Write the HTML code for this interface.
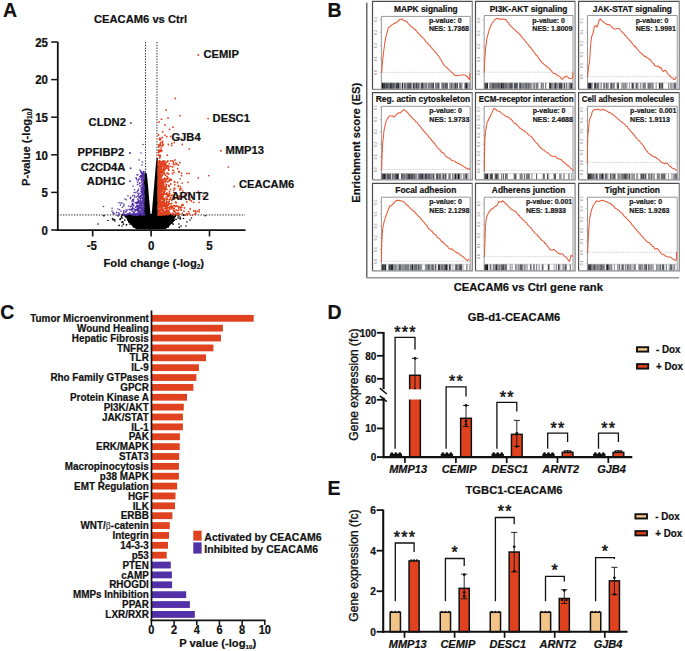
<!DOCTYPE html><html><head><meta charset="utf-8"><style>html,body{margin:0;padding:0;background:#fff;width:685px;height:651px;overflow:hidden}svg{display:block}text{font-family:"Liberation Sans",sans-serif}text[font-weight="bold"]{stroke:#111;stroke-width:0.2px}</style></head><body><svg width="685" height="651" viewBox="0 0 685 651"><text transform="translate(2.90 16.50) scale(1 1.05)" font-size="19.5" text-anchor="start" font-weight="bold" font-style="normal" fill="#111" >A</text>
<text x="140.60" y="22.60" font-size="11.2" text-anchor="middle" font-weight="bold" font-style="normal" fill="#111" >CEACAM6 vs Ctrl</text>
<line x1="145.46" y1="42.00" x2="145.46" y2="230.20" stroke="#2a2a2a" stroke-width="1.0" stroke-dasharray="1.4 1.35"/>
<line x1="156.94" y1="42.00" x2="156.94" y2="230.20" stroke="#2a2a2a" stroke-width="1.0" stroke-dasharray="1.4 1.35"/>
<line x1="57.50" y1="214.96" x2="245.00" y2="214.96" stroke="#2a2a2a" stroke-width="1.0" stroke-dasharray="1.4 1.35"/>
<path d="M124.5 214.6 L176.5 214.6 L175 218 L172.5 222.5 L169 226.5 L165.5 229.3 L136.5 229.3 L132.5 226.5 L129 222.5 L126.2 218 Z" fill="#000"/>
<path d="M144.0 215 L144.0 175 L145.2 172.5 L146.8 173.5 L148.0 185 L149.2 200 L150.3 212 L151.0 222 L144 222 Z" fill="#000"/>
<path d="M157.8 215 L157.8 158.5 L156.8 157.5 L156.0 163 L155.0 175 L153.6 192 L152.4 206 L151.6 215 L151.1 222 L157.8 222 Z" fill="#000"/>
<path d="M151.0 215.6m-0.85 0a0.85 0.85 0 1 0 1.7 0a0.85 0.85 0 1 0 -1.7 0M155.3 220.9m-0.85 0a0.85 0.85 0 1 0 1.7 0a0.85 0.85 0 1 0 -1.7 0M147.0 215.2m-0.85 0a0.85 0.85 0 1 0 1.7 0a0.85 0.85 0 1 0 -1.7 0M138.1 220.9m-0.85 0a0.85 0.85 0 1 0 1.7 0a0.85 0.85 0 1 0 -1.7 0M144.4 220.7m-0.85 0a0.85 0.85 0 1 0 1.7 0a0.85 0.85 0 1 0 -1.7 0M136.6 220.4m-0.85 0a0.85 0.85 0 1 0 1.7 0a0.85 0.85 0 1 0 -1.7 0M151.9 220.6m-0.85 0a0.85 0.85 0 1 0 1.7 0a0.85 0.85 0 1 0 -1.7 0M170.4 217.2m-0.85 0a0.85 0.85 0 1 0 1.7 0a0.85 0.85 0 1 0 -1.7 0M143.9 217.4m-0.85 0a0.85 0.85 0 1 0 1.7 0a0.85 0.85 0 1 0 -1.7 0M142.0 215.3m-0.85 0a0.85 0.85 0 1 0 1.7 0a0.85 0.85 0 1 0 -1.7 0M158.1 216.7m-0.85 0a0.85 0.85 0 1 0 1.7 0a0.85 0.85 0 1 0 -1.7 0M156.2 216.5m-0.85 0a0.85 0.85 0 1 0 1.7 0a0.85 0.85 0 1 0 -1.7 0M152.5 221.7m-0.85 0a0.85 0.85 0 1 0 1.7 0a0.85 0.85 0 1 0 -1.7 0M137.5 222.5m-0.85 0a0.85 0.85 0 1 0 1.7 0a0.85 0.85 0 1 0 -1.7 0M150.6 219.0m-0.85 0a0.85 0.85 0 1 0 1.7 0a0.85 0.85 0 1 0 -1.7 0M161.1 215.7m-0.85 0a0.85 0.85 0 1 0 1.7 0a0.85 0.85 0 1 0 -1.7 0M131.5 215.8m-0.85 0a0.85 0.85 0 1 0 1.7 0a0.85 0.85 0 1 0 -1.7 0M144.4 220.1m-0.85 0a0.85 0.85 0 1 0 1.7 0a0.85 0.85 0 1 0 -1.7 0M123.4 224.1m-0.85 0a0.85 0.85 0 1 0 1.7 0a0.85 0.85 0 1 0 -1.7 0M132.3 218.9m-0.85 0a0.85 0.85 0 1 0 1.7 0a0.85 0.85 0 1 0 -1.7 0M124.3 215.6m-0.85 0a0.85 0.85 0 1 0 1.7 0a0.85 0.85 0 1 0 -1.7 0M147.6 216.8m-0.85 0a0.85 0.85 0 1 0 1.7 0a0.85 0.85 0 1 0 -1.7 0M132.6 216.7m-0.85 0a0.85 0.85 0 1 0 1.7 0a0.85 0.85 0 1 0 -1.7 0M154.9 220.3m-0.85 0a0.85 0.85 0 1 0 1.7 0a0.85 0.85 0 1 0 -1.7 0M153.3 215.8m-0.85 0a0.85 0.85 0 1 0 1.7 0a0.85 0.85 0 1 0 -1.7 0M148.3 221.3m-0.85 0a0.85 0.85 0 1 0 1.7 0a0.85 0.85 0 1 0 -1.7 0M114.5 219.7m-0.85 0a0.85 0.85 0 1 0 1.7 0a0.85 0.85 0 1 0 -1.7 0M143.2 219.0m-0.85 0a0.85 0.85 0 1 0 1.7 0a0.85 0.85 0 1 0 -1.7 0M150.3 217.2m-0.85 0a0.85 0.85 0 1 0 1.7 0a0.85 0.85 0 1 0 -1.7 0M152.6 225.0m-0.85 0a0.85 0.85 0 1 0 1.7 0a0.85 0.85 0 1 0 -1.7 0M128.8 222.0m-0.85 0a0.85 0.85 0 1 0 1.7 0a0.85 0.85 0 1 0 -1.7 0M144.1 217.9m-0.85 0a0.85 0.85 0 1 0 1.7 0a0.85 0.85 0 1 0 -1.7 0M136.8 222.0m-0.85 0a0.85 0.85 0 1 0 1.7 0a0.85 0.85 0 1 0 -1.7 0M139.3 216.7m-0.85 0a0.85 0.85 0 1 0 1.7 0a0.85 0.85 0 1 0 -1.7 0M166.4 216.2m-0.85 0a0.85 0.85 0 1 0 1.7 0a0.85 0.85 0 1 0 -1.7 0M139.3 220.8m-0.85 0a0.85 0.85 0 1 0 1.7 0a0.85 0.85 0 1 0 -1.7 0M150.5 228.6m-0.85 0a0.85 0.85 0 1 0 1.7 0a0.85 0.85 0 1 0 -1.7 0M163.8 215.6m-0.85 0a0.85 0.85 0 1 0 1.7 0a0.85 0.85 0 1 0 -1.7 0M142.5 223.3m-0.85 0a0.85 0.85 0 1 0 1.7 0a0.85 0.85 0 1 0 -1.7 0M149.4 218.2m-0.85 0a0.85 0.85 0 1 0 1.7 0a0.85 0.85 0 1 0 -1.7 0M152.6 215.5m-0.85 0a0.85 0.85 0 1 0 1.7 0a0.85 0.85 0 1 0 -1.7 0M151.9 223.8m-0.85 0a0.85 0.85 0 1 0 1.7 0a0.85 0.85 0 1 0 -1.7 0M133.2 216.7m-0.85 0a0.85 0.85 0 1 0 1.7 0a0.85 0.85 0 1 0 -1.7 0M152.1 220.0m-0.85 0a0.85 0.85 0 1 0 1.7 0a0.85 0.85 0 1 0 -1.7 0M170.7 221.5m-0.85 0a0.85 0.85 0 1 0 1.7 0a0.85 0.85 0 1 0 -1.7 0M128.6 220.5m-0.85 0a0.85 0.85 0 1 0 1.7 0a0.85 0.85 0 1 0 -1.7 0M163.5 216.5m-0.85 0a0.85 0.85 0 1 0 1.7 0a0.85 0.85 0 1 0 -1.7 0M152.7 220.3m-0.85 0a0.85 0.85 0 1 0 1.7 0a0.85 0.85 0 1 0 -1.7 0M141.7 217.4m-0.85 0a0.85 0.85 0 1 0 1.7 0a0.85 0.85 0 1 0 -1.7 0M180.0 217.1m-0.85 0a0.85 0.85 0 1 0 1.7 0a0.85 0.85 0 1 0 -1.7 0M162.1 214.9m-0.85 0a0.85 0.85 0 1 0 1.7 0a0.85 0.85 0 1 0 -1.7 0M133.6 217.5m-0.85 0a0.85 0.85 0 1 0 1.7 0a0.85 0.85 0 1 0 -1.7 0M152.1 219.2m-0.85 0a0.85 0.85 0 1 0 1.7 0a0.85 0.85 0 1 0 -1.7 0M159.4 216.3m-0.85 0a0.85 0.85 0 1 0 1.7 0a0.85 0.85 0 1 0 -1.7 0M148.3 220.2m-0.85 0a0.85 0.85 0 1 0 1.7 0a0.85 0.85 0 1 0 -1.7 0M160.9 221.7m-0.85 0a0.85 0.85 0 1 0 1.7 0a0.85 0.85 0 1 0 -1.7 0M150.0 214.9m-0.85 0a0.85 0.85 0 1 0 1.7 0a0.85 0.85 0 1 0 -1.7 0M160.7 219.5m-0.85 0a0.85 0.85 0 1 0 1.7 0a0.85 0.85 0 1 0 -1.7 0M171.9 223.0m-0.85 0a0.85 0.85 0 1 0 1.7 0a0.85 0.85 0 1 0 -1.7 0M141.2 214.6m-0.85 0a0.85 0.85 0 1 0 1.7 0a0.85 0.85 0 1 0 -1.7 0M153.9 218.2m-0.85 0a0.85 0.85 0 1 0 1.7 0a0.85 0.85 0 1 0 -1.7 0M144.3 220.0m-0.85 0a0.85 0.85 0 1 0 1.7 0a0.85 0.85 0 1 0 -1.7 0M152.8 219.3m-0.85 0a0.85 0.85 0 1 0 1.7 0a0.85 0.85 0 1 0 -1.7 0M133.8 217.4m-0.85 0a0.85 0.85 0 1 0 1.7 0a0.85 0.85 0 1 0 -1.7 0M142.6 222.8m-0.85 0a0.85 0.85 0 1 0 1.7 0a0.85 0.85 0 1 0 -1.7 0M148.2 218.9m-0.85 0a0.85 0.85 0 1 0 1.7 0a0.85 0.85 0 1 0 -1.7 0M164.0 216.7m-0.85 0a0.85 0.85 0 1 0 1.7 0a0.85 0.85 0 1 0 -1.7 0M167.6 215.9m-0.85 0a0.85 0.85 0 1 0 1.7 0a0.85 0.85 0 1 0 -1.7 0M131.8 218.7m-0.85 0a0.85 0.85 0 1 0 1.7 0a0.85 0.85 0 1 0 -1.7 0M139.5 217.8m-0.85 0a0.85 0.85 0 1 0 1.7 0a0.85 0.85 0 1 0 -1.7 0M160.4 215.5m-0.85 0a0.85 0.85 0 1 0 1.7 0a0.85 0.85 0 1 0 -1.7 0M122.1 217.9m-0.85 0a0.85 0.85 0 1 0 1.7 0a0.85 0.85 0 1 0 -1.7 0M144.3 214.9m-0.85 0a0.85 0.85 0 1 0 1.7 0a0.85 0.85 0 1 0 -1.7 0M149.6 220.6m-0.85 0a0.85 0.85 0 1 0 1.7 0a0.85 0.85 0 1 0 -1.7 0M169.2 215.2m-0.85 0a0.85 0.85 0 1 0 1.7 0a0.85 0.85 0 1 0 -1.7 0M161.0 214.9m-0.85 0a0.85 0.85 0 1 0 1.7 0a0.85 0.85 0 1 0 -1.7 0M146.3 219.9m-0.85 0a0.85 0.85 0 1 0 1.7 0a0.85 0.85 0 1 0 -1.7 0M145.7 219.6m-0.85 0a0.85 0.85 0 1 0 1.7 0a0.85 0.85 0 1 0 -1.7 0M147.4 214.8m-0.85 0a0.85 0.85 0 1 0 1.7 0a0.85 0.85 0 1 0 -1.7 0M173.1 224.1m-0.85 0a0.85 0.85 0 1 0 1.7 0a0.85 0.85 0 1 0 -1.7 0M144.8 218.2m-0.85 0a0.85 0.85 0 1 0 1.7 0a0.85 0.85 0 1 0 -1.7 0M146.6 220.5m-0.85 0a0.85 0.85 0 1 0 1.7 0a0.85 0.85 0 1 0 -1.7 0M156.1 224.5m-0.85 0a0.85 0.85 0 1 0 1.7 0a0.85 0.85 0 1 0 -1.7 0M149.2 214.9m-0.85 0a0.85 0.85 0 1 0 1.7 0a0.85 0.85 0 1 0 -1.7 0M148.1 220.7m-0.85 0a0.85 0.85 0 1 0 1.7 0a0.85 0.85 0 1 0 -1.7 0M134.8 223.0m-0.85 0a0.85 0.85 0 1 0 1.7 0a0.85 0.85 0 1 0 -1.7 0M150.8 220.6m-0.85 0a0.85 0.85 0 1 0 1.7 0a0.85 0.85 0 1 0 -1.7 0M144.6 218.7m-0.85 0a0.85 0.85 0 1 0 1.7 0a0.85 0.85 0 1 0 -1.7 0M167.9 220.8m-0.85 0a0.85 0.85 0 1 0 1.7 0a0.85 0.85 0 1 0 -1.7 0M160.5 216.7m-0.85 0a0.85 0.85 0 1 0 1.7 0a0.85 0.85 0 1 0 -1.7 0M150.6 219.0m-0.85 0a0.85 0.85 0 1 0 1.7 0a0.85 0.85 0 1 0 -1.7 0M160.7 218.6m-0.85 0a0.85 0.85 0 1 0 1.7 0a0.85 0.85 0 1 0 -1.7 0M146.1 217.8m-0.85 0a0.85 0.85 0 1 0 1.7 0a0.85 0.85 0 1 0 -1.7 0M166.3 218.8m-0.85 0a0.85 0.85 0 1 0 1.7 0a0.85 0.85 0 1 0 -1.7 0M150.9 217.0m-0.85 0a0.85 0.85 0 1 0 1.7 0a0.85 0.85 0 1 0 -1.7 0M159.5 219.9m-0.85 0a0.85 0.85 0 1 0 1.7 0a0.85 0.85 0 1 0 -1.7 0M132.3 221.3m-0.85 0a0.85 0.85 0 1 0 1.7 0a0.85 0.85 0 1 0 -1.7 0M156.0 224.7m-0.85 0a0.85 0.85 0 1 0 1.7 0a0.85 0.85 0 1 0 -1.7 0M126.5 224.8m-0.85 0a0.85 0.85 0 1 0 1.7 0a0.85 0.85 0 1 0 -1.7 0M121.5 216.4m-0.85 0a0.85 0.85 0 1 0 1.7 0a0.85 0.85 0 1 0 -1.7 0M146.6 215.9m-0.85 0a0.85 0.85 0 1 0 1.7 0a0.85 0.85 0 1 0 -1.7 0M138.0 214.8m-0.85 0a0.85 0.85 0 1 0 1.7 0a0.85 0.85 0 1 0 -1.7 0M153.4 215.5m-0.85 0a0.85 0.85 0 1 0 1.7 0a0.85 0.85 0 1 0 -1.7 0M183.5 214.9m-0.85 0a0.85 0.85 0 1 0 1.7 0a0.85 0.85 0 1 0 -1.7 0M138.9 225.1m-0.85 0a0.85 0.85 0 1 0 1.7 0a0.85 0.85 0 1 0 -1.7 0M142.0 220.3m-0.85 0a0.85 0.85 0 1 0 1.7 0a0.85 0.85 0 1 0 -1.7 0M154.0 223.2m-0.85 0a0.85 0.85 0 1 0 1.7 0a0.85 0.85 0 1 0 -1.7 0M158.1 220.2m-0.85 0a0.85 0.85 0 1 0 1.7 0a0.85 0.85 0 1 0 -1.7 0M148.4 221.9m-0.85 0a0.85 0.85 0 1 0 1.7 0a0.85 0.85 0 1 0 -1.7 0M148.0 218.7m-0.85 0a0.85 0.85 0 1 0 1.7 0a0.85 0.85 0 1 0 -1.7 0M161.2 219.1m-0.85 0a0.85 0.85 0 1 0 1.7 0a0.85 0.85 0 1 0 -1.7 0M158.5 219.9m-0.85 0a0.85 0.85 0 1 0 1.7 0a0.85 0.85 0 1 0 -1.7 0M136.0 222.2m-0.85 0a0.85 0.85 0 1 0 1.7 0a0.85 0.85 0 1 0 -1.7 0M149.9 216.6m-0.85 0a0.85 0.85 0 1 0 1.7 0a0.85 0.85 0 1 0 -1.7 0M151.5 222.3m-0.85 0a0.85 0.85 0 1 0 1.7 0a0.85 0.85 0 1 0 -1.7 0M154.8 217.5m-0.85 0a0.85 0.85 0 1 0 1.7 0a0.85 0.85 0 1 0 -1.7 0M138.6 220.5m-0.85 0a0.85 0.85 0 1 0 1.7 0a0.85 0.85 0 1 0 -1.7 0M165.1 220.3m-0.85 0a0.85 0.85 0 1 0 1.7 0a0.85 0.85 0 1 0 -1.7 0M153.8 220.5m-0.85 0a0.85 0.85 0 1 0 1.7 0a0.85 0.85 0 1 0 -1.7 0M152.3 216.2m-0.85 0a0.85 0.85 0 1 0 1.7 0a0.85 0.85 0 1 0 -1.7 0M142.4 222.9m-0.85 0a0.85 0.85 0 1 0 1.7 0a0.85 0.85 0 1 0 -1.7 0M149.3 220.0m-0.85 0a0.85 0.85 0 1 0 1.7 0a0.85 0.85 0 1 0 -1.7 0M122.0 222.2m-0.85 0a0.85 0.85 0 1 0 1.7 0a0.85 0.85 0 1 0 -1.7 0M134.6 219.1m-0.85 0a0.85 0.85 0 1 0 1.7 0a0.85 0.85 0 1 0 -1.7 0M156.3 216.8m-0.85 0a0.85 0.85 0 1 0 1.7 0a0.85 0.85 0 1 0 -1.7 0M120.1 219.4m-0.85 0a0.85 0.85 0 1 0 1.7 0a0.85 0.85 0 1 0 -1.7 0M163.3 225.0m-0.85 0a0.85 0.85 0 1 0 1.7 0a0.85 0.85 0 1 0 -1.7 0M125.7 216.8m-0.85 0a0.85 0.85 0 1 0 1.7 0a0.85 0.85 0 1 0 -1.7 0M162.0 214.8m-0.85 0a0.85 0.85 0 1 0 1.7 0a0.85 0.85 0 1 0 -1.7 0M138.7 215.1m-0.85 0a0.85 0.85 0 1 0 1.7 0a0.85 0.85 0 1 0 -1.7 0M162.3 215.1m-0.85 0a0.85 0.85 0 1 0 1.7 0a0.85 0.85 0 1 0 -1.7 0M152.9 220.8m-0.85 0a0.85 0.85 0 1 0 1.7 0a0.85 0.85 0 1 0 -1.7 0M128.7 215.0m-0.85 0a0.85 0.85 0 1 0 1.7 0a0.85 0.85 0 1 0 -1.7 0M169.1 214.8m-0.85 0a0.85 0.85 0 1 0 1.7 0a0.85 0.85 0 1 0 -1.7 0M171.9 221.7m-0.85 0a0.85 0.85 0 1 0 1.7 0a0.85 0.85 0 1 0 -1.7 0M150.0 224.9m-0.85 0a0.85 0.85 0 1 0 1.7 0a0.85 0.85 0 1 0 -1.7 0M147.0 215.4m-0.85 0a0.85 0.85 0 1 0 1.7 0a0.85 0.85 0 1 0 -1.7 0M148.7 218.8m-0.85 0a0.85 0.85 0 1 0 1.7 0a0.85 0.85 0 1 0 -1.7 0M136.9 215.0m-0.85 0a0.85 0.85 0 1 0 1.7 0a0.85 0.85 0 1 0 -1.7 0M166.9 217.9m-0.85 0a0.85 0.85 0 1 0 1.7 0a0.85 0.85 0 1 0 -1.7 0M143.1 218.7m-0.85 0a0.85 0.85 0 1 0 1.7 0a0.85 0.85 0 1 0 -1.7 0M150.3 214.9m-0.85 0a0.85 0.85 0 1 0 1.7 0a0.85 0.85 0 1 0 -1.7 0M139.5 220.3m-0.85 0a0.85 0.85 0 1 0 1.7 0a0.85 0.85 0 1 0 -1.7 0M141.9 217.9m-0.85 0a0.85 0.85 0 1 0 1.7 0a0.85 0.85 0 1 0 -1.7 0M132.5 215.2m-0.85 0a0.85 0.85 0 1 0 1.7 0a0.85 0.85 0 1 0 -1.7 0M169.2 216.0m-0.85 0a0.85 0.85 0 1 0 1.7 0a0.85 0.85 0 1 0 -1.7 0M148.8 215.6m-0.85 0a0.85 0.85 0 1 0 1.7 0a0.85 0.85 0 1 0 -1.7 0M165.0 218.6m-0.85 0a0.85 0.85 0 1 0 1.7 0a0.85 0.85 0 1 0 -1.7 0M151.2 219.8m-0.85 0a0.85 0.85 0 1 0 1.7 0a0.85 0.85 0 1 0 -1.7 0M140.9 215.9m-0.85 0a0.85 0.85 0 1 0 1.7 0a0.85 0.85 0 1 0 -1.7 0M146.3 217.6m-0.85 0a0.85 0.85 0 1 0 1.7 0a0.85 0.85 0 1 0 -1.7 0M142.9 215.9m-0.85 0a0.85 0.85 0 1 0 1.7 0a0.85 0.85 0 1 0 -1.7 0M151.1 214.6m-0.85 0a0.85 0.85 0 1 0 1.7 0a0.85 0.85 0 1 0 -1.7 0M145.6 222.1m-0.85 0a0.85 0.85 0 1 0 1.7 0a0.85 0.85 0 1 0 -1.7 0M146.7 215.0m-0.85 0a0.85 0.85 0 1 0 1.7 0a0.85 0.85 0 1 0 -1.7 0M131.0 222.0m-0.85 0a0.85 0.85 0 1 0 1.7 0a0.85 0.85 0 1 0 -1.7 0M139.3 218.0m-0.85 0a0.85 0.85 0 1 0 1.7 0a0.85 0.85 0 1 0 -1.7 0M175.0 216.2m-0.85 0a0.85 0.85 0 1 0 1.7 0a0.85 0.85 0 1 0 -1.7 0M141.3 226.0m-0.85 0a0.85 0.85 0 1 0 1.7 0a0.85 0.85 0 1 0 -1.7 0M135.7 215.1m-0.85 0a0.85 0.85 0 1 0 1.7 0a0.85 0.85 0 1 0 -1.7 0M155.9 215.4m-0.85 0a0.85 0.85 0 1 0 1.7 0a0.85 0.85 0 1 0 -1.7 0M171.4 215.5m-0.85 0a0.85 0.85 0 1 0 1.7 0a0.85 0.85 0 1 0 -1.7 0M129.9 216.9m-0.85 0a0.85 0.85 0 1 0 1.7 0a0.85 0.85 0 1 0 -1.7 0M148.0 216.7m-0.85 0a0.85 0.85 0 1 0 1.7 0a0.85 0.85 0 1 0 -1.7 0M141.8 220.0m-0.85 0a0.85 0.85 0 1 0 1.7 0a0.85 0.85 0 1 0 -1.7 0M125.5 216.1m-0.85 0a0.85 0.85 0 1 0 1.7 0a0.85 0.85 0 1 0 -1.7 0M161.7 217.6m-0.85 0a0.85 0.85 0 1 0 1.7 0a0.85 0.85 0 1 0 -1.7 0M150.7 215.1m-0.85 0a0.85 0.85 0 1 0 1.7 0a0.85 0.85 0 1 0 -1.7 0M152.0 221.2m-0.85 0a0.85 0.85 0 1 0 1.7 0a0.85 0.85 0 1 0 -1.7 0M140.1 215.9m-0.85 0a0.85 0.85 0 1 0 1.7 0a0.85 0.85 0 1 0 -1.7 0M157.6 215.4m-0.85 0a0.85 0.85 0 1 0 1.7 0a0.85 0.85 0 1 0 -1.7 0M143.2 215.4m-0.85 0a0.85 0.85 0 1 0 1.7 0a0.85 0.85 0 1 0 -1.7 0M148.9 217.0m-0.85 0a0.85 0.85 0 1 0 1.7 0a0.85 0.85 0 1 0 -1.7 0M134.9 217.6m-0.85 0a0.85 0.85 0 1 0 1.7 0a0.85 0.85 0 1 0 -1.7 0M133.4 223.8m-0.85 0a0.85 0.85 0 1 0 1.7 0a0.85 0.85 0 1 0 -1.7 0M170.4 217.1m-0.85 0a0.85 0.85 0 1 0 1.7 0a0.85 0.85 0 1 0 -1.7 0M143.6 215.9m-0.85 0a0.85 0.85 0 1 0 1.7 0a0.85 0.85 0 1 0 -1.7 0M155.2 216.2m-0.85 0a0.85 0.85 0 1 0 1.7 0a0.85 0.85 0 1 0 -1.7 0M150.5 216.7m-0.85 0a0.85 0.85 0 1 0 1.7 0a0.85 0.85 0 1 0 -1.7 0M144.6 218.2m-0.85 0a0.85 0.85 0 1 0 1.7 0a0.85 0.85 0 1 0 -1.7 0M143.6 216.0m-0.85 0a0.85 0.85 0 1 0 1.7 0a0.85 0.85 0 1 0 -1.7 0M160.1 218.1m-0.85 0a0.85 0.85 0 1 0 1.7 0a0.85 0.85 0 1 0 -1.7 0M146.6 217.0m-0.85 0a0.85 0.85 0 1 0 1.7 0a0.85 0.85 0 1 0 -1.7 0M148.8 215.7m-0.85 0a0.85 0.85 0 1 0 1.7 0a0.85 0.85 0 1 0 -1.7 0M151.3 222.9m-0.85 0a0.85 0.85 0 1 0 1.7 0a0.85 0.85 0 1 0 -1.7 0M168.1 217.6m-0.85 0a0.85 0.85 0 1 0 1.7 0a0.85 0.85 0 1 0 -1.7 0M160.9 221.0m-0.85 0a0.85 0.85 0 1 0 1.7 0a0.85 0.85 0 1 0 -1.7 0M156.5 220.2m-0.85 0a0.85 0.85 0 1 0 1.7 0a0.85 0.85 0 1 0 -1.7 0M142.8 215.9m-0.85 0a0.85 0.85 0 1 0 1.7 0a0.85 0.85 0 1 0 -1.7 0M131.0 223.2m-0.85 0a0.85 0.85 0 1 0 1.7 0a0.85 0.85 0 1 0 -1.7 0M164.8 219.8m-0.85 0a0.85 0.85 0 1 0 1.7 0a0.85 0.85 0 1 0 -1.7 0M165.0 215.4m-0.85 0a0.85 0.85 0 1 0 1.7 0a0.85 0.85 0 1 0 -1.7 0M149.0 228.5m-0.85 0a0.85 0.85 0 1 0 1.7 0a0.85 0.85 0 1 0 -1.7 0M158.9 216.7m-0.85 0a0.85 0.85 0 1 0 1.7 0a0.85 0.85 0 1 0 -1.7 0M162.3 222.8m-0.85 0a0.85 0.85 0 1 0 1.7 0a0.85 0.85 0 1 0 -1.7 0M163.1 221.7m-0.85 0a0.85 0.85 0 1 0 1.7 0a0.85 0.85 0 1 0 -1.7 0M164.4 218.1m-0.85 0a0.85 0.85 0 1 0 1.7 0a0.85 0.85 0 1 0 -1.7 0M144.4 221.6m-0.85 0a0.85 0.85 0 1 0 1.7 0a0.85 0.85 0 1 0 -1.7 0M173.0 216.6m-0.85 0a0.85 0.85 0 1 0 1.7 0a0.85 0.85 0 1 0 -1.7 0M132.9 216.1m-0.85 0a0.85 0.85 0 1 0 1.7 0a0.85 0.85 0 1 0 -1.7 0M163.5 224.2m-0.85 0a0.85 0.85 0 1 0 1.7 0a0.85 0.85 0 1 0 -1.7 0M158.2 223.4m-0.85 0a0.85 0.85 0 1 0 1.7 0a0.85 0.85 0 1 0 -1.7 0M163.7 215.2m-0.85 0a0.85 0.85 0 1 0 1.7 0a0.85 0.85 0 1 0 -1.7 0M178.2 215.9m-0.85 0a0.85 0.85 0 1 0 1.7 0a0.85 0.85 0 1 0 -1.7 0M172.5 221.5m-0.85 0a0.85 0.85 0 1 0 1.7 0a0.85 0.85 0 1 0 -1.7 0M134.4 218.4m-0.85 0a0.85 0.85 0 1 0 1.7 0a0.85 0.85 0 1 0 -1.7 0M126.5 216.9m-0.85 0a0.85 0.85 0 1 0 1.7 0a0.85 0.85 0 1 0 -1.7 0M162.8 216.8m-0.85 0a0.85 0.85 0 1 0 1.7 0a0.85 0.85 0 1 0 -1.7 0M136.3 215.2m-0.85 0a0.85 0.85 0 1 0 1.7 0a0.85 0.85 0 1 0 -1.7 0M150.8 220.1m-0.85 0a0.85 0.85 0 1 0 1.7 0a0.85 0.85 0 1 0 -1.7 0M163.2 218.8m-0.85 0a0.85 0.85 0 1 0 1.7 0a0.85 0.85 0 1 0 -1.7 0M127.2 214.9m-0.85 0a0.85 0.85 0 1 0 1.7 0a0.85 0.85 0 1 0 -1.7 0M120.4 218.6m-0.85 0a0.85 0.85 0 1 0 1.7 0a0.85 0.85 0 1 0 -1.7 0M154.8 217.8m-0.85 0a0.85 0.85 0 1 0 1.7 0a0.85 0.85 0 1 0 -1.7 0M151.6 220.5m-0.85 0a0.85 0.85 0 1 0 1.7 0a0.85 0.85 0 1 0 -1.7 0M147.4 216.8m-0.85 0a0.85 0.85 0 1 0 1.7 0a0.85 0.85 0 1 0 -1.7 0M151.6 216.3m-0.85 0a0.85 0.85 0 1 0 1.7 0a0.85 0.85 0 1 0 -1.7 0M138.5 216.6m-0.85 0a0.85 0.85 0 1 0 1.7 0a0.85 0.85 0 1 0 -1.7 0M129.1 220.1m-0.85 0a0.85 0.85 0 1 0 1.7 0a0.85 0.85 0 1 0 -1.7 0M148.6 223.6m-0.85 0a0.85 0.85 0 1 0 1.7 0a0.85 0.85 0 1 0 -1.7 0M136.9 217.8m-0.85 0a0.85 0.85 0 1 0 1.7 0a0.85 0.85 0 1 0 -1.7 0M127.2 214.9m-0.85 0a0.85 0.85 0 1 0 1.7 0a0.85 0.85 0 1 0 -1.7 0M158.3 216.3m-0.85 0a0.85 0.85 0 1 0 1.7 0a0.85 0.85 0 1 0 -1.7 0M150.1 223.9m-0.85 0a0.85 0.85 0 1 0 1.7 0a0.85 0.85 0 1 0 -1.7 0M156.9 216.6m-0.85 0a0.85 0.85 0 1 0 1.7 0a0.85 0.85 0 1 0 -1.7 0M136.7 217.9m-0.85 0a0.85 0.85 0 1 0 1.7 0a0.85 0.85 0 1 0 -1.7 0M141.5 219.4m-0.85 0a0.85 0.85 0 1 0 1.7 0a0.85 0.85 0 1 0 -1.7 0M136.5 227.0m-0.85 0a0.85 0.85 0 1 0 1.7 0a0.85 0.85 0 1 0 -1.7 0M138.1 216.4m-0.85 0a0.85 0.85 0 1 0 1.7 0a0.85 0.85 0 1 0 -1.7 0M153.8 219.5m-0.85 0a0.85 0.85 0 1 0 1.7 0a0.85 0.85 0 1 0 -1.7 0M139.6 216.7m-0.85 0a0.85 0.85 0 1 0 1.7 0a0.85 0.85 0 1 0 -1.7 0M156.2 217.9m-0.85 0a0.85 0.85 0 1 0 1.7 0a0.85 0.85 0 1 0 -1.7 0M155.9 214.7m-0.85 0a0.85 0.85 0 1 0 1.7 0a0.85 0.85 0 1 0 -1.7 0M180.4 218.8m-0.85 0a0.85 0.85 0 1 0 1.7 0a0.85 0.85 0 1 0 -1.7 0M163.9 215.3m-0.85 0a0.85 0.85 0 1 0 1.7 0a0.85 0.85 0 1 0 -1.7 0M149.7 217.6m-0.85 0a0.85 0.85 0 1 0 1.7 0a0.85 0.85 0 1 0 -1.7 0M150.8 218.4m-0.85 0a0.85 0.85 0 1 0 1.7 0a0.85 0.85 0 1 0 -1.7 0M130.0 224.0m-0.85 0a0.85 0.85 0 1 0 1.7 0a0.85 0.85 0 1 0 -1.7 0M144.3 220.8m-0.85 0a0.85 0.85 0 1 0 1.7 0a0.85 0.85 0 1 0 -1.7 0M161.8 216.3m-0.85 0a0.85 0.85 0 1 0 1.7 0a0.85 0.85 0 1 0 -1.7 0M149.8 216.3m-0.85 0a0.85 0.85 0 1 0 1.7 0a0.85 0.85 0 1 0 -1.7 0M152.2 218.9m-0.85 0a0.85 0.85 0 1 0 1.7 0a0.85 0.85 0 1 0 -1.7 0M146.8 217.6m-0.85 0a0.85 0.85 0 1 0 1.7 0a0.85 0.85 0 1 0 -1.7 0M167.7 214.8m-0.85 0a0.85 0.85 0 1 0 1.7 0a0.85 0.85 0 1 0 -1.7 0M150.7 219.6m-0.85 0a0.85 0.85 0 1 0 1.7 0a0.85 0.85 0 1 0 -1.7 0M119.1 225.4m-0.85 0a0.85 0.85 0 1 0 1.7 0a0.85 0.85 0 1 0 -1.7 0M141.0 215.5m-0.85 0a0.85 0.85 0 1 0 1.7 0a0.85 0.85 0 1 0 -1.7 0M122.5 214.9m-0.85 0a0.85 0.85 0 1 0 1.7 0a0.85 0.85 0 1 0 -1.7 0M103.9 215.7m-0.85 0a0.85 0.85 0 1 0 1.7 0a0.85 0.85 0 1 0 -1.7 0M143.3 222.0m-0.85 0a0.85 0.85 0 1 0 1.7 0a0.85 0.85 0 1 0 -1.7 0M170.3 214.8m-0.85 0a0.85 0.85 0 1 0 1.7 0a0.85 0.85 0 1 0 -1.7 0M151.7 222.7m-0.85 0a0.85 0.85 0 1 0 1.7 0a0.85 0.85 0 1 0 -1.7 0M134.0 219.9m-0.85 0a0.85 0.85 0 1 0 1.7 0a0.85 0.85 0 1 0 -1.7 0M137.4 215.6m-0.85 0a0.85 0.85 0 1 0 1.7 0a0.85 0.85 0 1 0 -1.7 0M167.4 215.7m-0.85 0a0.85 0.85 0 1 0 1.7 0a0.85 0.85 0 1 0 -1.7 0M153.3 218.9m-0.85 0a0.85 0.85 0 1 0 1.7 0a0.85 0.85 0 1 0 -1.7 0M151.7 220.3m-0.85 0a0.85 0.85 0 1 0 1.7 0a0.85 0.85 0 1 0 -1.7 0M150.2 222.9m-0.85 0a0.85 0.85 0 1 0 1.7 0a0.85 0.85 0 1 0 -1.7 0M151.6 219.6m-0.85 0a0.85 0.85 0 1 0 1.7 0a0.85 0.85 0 1 0 -1.7 0M162.7 216.5m-0.85 0a0.85 0.85 0 1 0 1.7 0a0.85 0.85 0 1 0 -1.7 0M159.0 218.2m-0.85 0a0.85 0.85 0 1 0 1.7 0a0.85 0.85 0 1 0 -1.7 0M154.1 223.0m-0.85 0a0.85 0.85 0 1 0 1.7 0a0.85 0.85 0 1 0 -1.7 0M135.9 220.3m-0.85 0a0.85 0.85 0 1 0 1.7 0a0.85 0.85 0 1 0 -1.7 0M158.4 217.3m-0.85 0a0.85 0.85 0 1 0 1.7 0a0.85 0.85 0 1 0 -1.7 0M141.1 217.3m-0.85 0a0.85 0.85 0 1 0 1.7 0a0.85 0.85 0 1 0 -1.7 0M166.9 217.2m-0.85 0a0.85 0.85 0 1 0 1.7 0a0.85 0.85 0 1 0 -1.7 0M132.6 220.3m-0.85 0a0.85 0.85 0 1 0 1.7 0a0.85 0.85 0 1 0 -1.7 0M149.0 215.9m-0.85 0a0.85 0.85 0 1 0 1.7 0a0.85 0.85 0 1 0 -1.7 0M150.9 220.6m-0.85 0a0.85 0.85 0 1 0 1.7 0a0.85 0.85 0 1 0 -1.7 0M131.8 219.6m-0.85 0a0.85 0.85 0 1 0 1.7 0a0.85 0.85 0 1 0 -1.7 0M176.0 219.3m-0.85 0a0.85 0.85 0 1 0 1.7 0a0.85 0.85 0 1 0 -1.7 0M172.2 215.7m-0.85 0a0.85 0.85 0 1 0 1.7 0a0.85 0.85 0 1 0 -1.7 0M144.3 218.5m-0.85 0a0.85 0.85 0 1 0 1.7 0a0.85 0.85 0 1 0 -1.7 0M162.2 218.3m-0.85 0a0.85 0.85 0 1 0 1.7 0a0.85 0.85 0 1 0 -1.7 0M156.5 216.0m-0.85 0a0.85 0.85 0 1 0 1.7 0a0.85 0.85 0 1 0 -1.7 0M113.1 219.7m-0.85 0a0.85 0.85 0 1 0 1.7 0a0.85 0.85 0 1 0 -1.7 0M154.6 215.0m-0.85 0a0.85 0.85 0 1 0 1.7 0a0.85 0.85 0 1 0 -1.7 0M150.1 216.5m-0.85 0a0.85 0.85 0 1 0 1.7 0a0.85 0.85 0 1 0 -1.7 0M152.2 219.6m-0.85 0a0.85 0.85 0 1 0 1.7 0a0.85 0.85 0 1 0 -1.7 0M135.4 218.1m-0.85 0a0.85 0.85 0 1 0 1.7 0a0.85 0.85 0 1 0 -1.7 0M147.1 217.0m-0.85 0a0.85 0.85 0 1 0 1.7 0a0.85 0.85 0 1 0 -1.7 0M148.4 221.3m-0.85 0a0.85 0.85 0 1 0 1.7 0a0.85 0.85 0 1 0 -1.7 0M168.2 226.9m-0.85 0a0.85 0.85 0 1 0 1.7 0a0.85 0.85 0 1 0 -1.7 0M155.8 225.6m-0.85 0a0.85 0.85 0 1 0 1.7 0a0.85 0.85 0 1 0 -1.7 0M150.9 214.9m-0.85 0a0.85 0.85 0 1 0 1.7 0a0.85 0.85 0 1 0 -1.7 0M173.2 215.8m-0.85 0a0.85 0.85 0 1 0 1.7 0a0.85 0.85 0 1 0 -1.7 0M142.9 223.0m-0.85 0a0.85 0.85 0 1 0 1.7 0a0.85 0.85 0 1 0 -1.7 0M145.4 215.3m-0.85 0a0.85 0.85 0 1 0 1.7 0a0.85 0.85 0 1 0 -1.7 0M124.7 220.0m-0.85 0a0.85 0.85 0 1 0 1.7 0a0.85 0.85 0 1 0 -1.7 0M173.8 215.2m-0.85 0a0.85 0.85 0 1 0 1.7 0a0.85 0.85 0 1 0 -1.7 0M165.0 217.1m-0.85 0a0.85 0.85 0 1 0 1.7 0a0.85 0.85 0 1 0 -1.7 0M164.3 219.2m-0.85 0a0.85 0.85 0 1 0 1.7 0a0.85 0.85 0 1 0 -1.7 0M160.7 223.7m-0.85 0a0.85 0.85 0 1 0 1.7 0a0.85 0.85 0 1 0 -1.7 0M152.6 222.5m-0.85 0a0.85 0.85 0 1 0 1.7 0a0.85 0.85 0 1 0 -1.7 0M154.1 218.3m-0.85 0a0.85 0.85 0 1 0 1.7 0a0.85 0.85 0 1 0 -1.7 0M147.3 218.8m-0.85 0a0.85 0.85 0 1 0 1.7 0a0.85 0.85 0 1 0 -1.7 0M148.0 215.4m-0.85 0a0.85 0.85 0 1 0 1.7 0a0.85 0.85 0 1 0 -1.7 0M151.8 215.8m-0.85 0a0.85 0.85 0 1 0 1.7 0a0.85 0.85 0 1 0 -1.7 0M172.9 218.0m-0.85 0a0.85 0.85 0 1 0 1.7 0a0.85 0.85 0 1 0 -1.7 0M159.1 216.4m-0.85 0a0.85 0.85 0 1 0 1.7 0a0.85 0.85 0 1 0 -1.7 0M150.2 217.3m-0.85 0a0.85 0.85 0 1 0 1.7 0a0.85 0.85 0 1 0 -1.7 0M142.6 219.5m-0.85 0a0.85 0.85 0 1 0 1.7 0a0.85 0.85 0 1 0 -1.7 0M141.8 216.6m-0.85 0a0.85 0.85 0 1 0 1.7 0a0.85 0.85 0 1 0 -1.7 0M174.2 220.2m-0.85 0a0.85 0.85 0 1 0 1.7 0a0.85 0.85 0 1 0 -1.7 0M158.3 220.8m-0.85 0a0.85 0.85 0 1 0 1.7 0a0.85 0.85 0 1 0 -1.7 0M152.0 214.7m-0.85 0a0.85 0.85 0 1 0 1.7 0a0.85 0.85 0 1 0 -1.7 0M146.0 218.7m-0.85 0a0.85 0.85 0 1 0 1.7 0a0.85 0.85 0 1 0 -1.7 0M134.9 216.5m-0.85 0a0.85 0.85 0 1 0 1.7 0a0.85 0.85 0 1 0 -1.7 0M150.0 215.8m-0.85 0a0.85 0.85 0 1 0 1.7 0a0.85 0.85 0 1 0 -1.7 0M163.7 218.5m-0.85 0a0.85 0.85 0 1 0 1.7 0a0.85 0.85 0 1 0 -1.7 0M145.3 223.4m-0.85 0a0.85 0.85 0 1 0 1.7 0a0.85 0.85 0 1 0 -1.7 0M147.7 220.3m-0.85 0a0.85 0.85 0 1 0 1.7 0a0.85 0.85 0 1 0 -1.7 0M147.8 216.7m-0.85 0a0.85 0.85 0 1 0 1.7 0a0.85 0.85 0 1 0 -1.7 0M152.6 228.5m-0.85 0a0.85 0.85 0 1 0 1.7 0a0.85 0.85 0 1 0 -1.7 0M127.9 219.9m-0.85 0a0.85 0.85 0 1 0 1.7 0a0.85 0.85 0 1 0 -1.7 0M147.6 215.2m-0.85 0a0.85 0.85 0 1 0 1.7 0a0.85 0.85 0 1 0 -1.7 0M138.6 218.5m-0.85 0a0.85 0.85 0 1 0 1.7 0a0.85 0.85 0 1 0 -1.7 0M163.8 225.9m-0.85 0a0.85 0.85 0 1 0 1.7 0a0.85 0.85 0 1 0 -1.7 0M139.8 215.9m-0.85 0a0.85 0.85 0 1 0 1.7 0a0.85 0.85 0 1 0 -1.7 0M159.4 216.6m-0.85 0a0.85 0.85 0 1 0 1.7 0a0.85 0.85 0 1 0 -1.7 0M173.1 221.3m-0.85 0a0.85 0.85 0 1 0 1.7 0a0.85 0.85 0 1 0 -1.7 0M146.5 217.3m-0.85 0a0.85 0.85 0 1 0 1.7 0a0.85 0.85 0 1 0 -1.7 0M142.3 218.3m-0.85 0a0.85 0.85 0 1 0 1.7 0a0.85 0.85 0 1 0 -1.7 0M153.8 217.4m-0.85 0a0.85 0.85 0 1 0 1.7 0a0.85 0.85 0 1 0 -1.7 0M151.0 225.2m-0.85 0a0.85 0.85 0 1 0 1.7 0a0.85 0.85 0 1 0 -1.7 0M136.6 224.0m-0.85 0a0.85 0.85 0 1 0 1.7 0a0.85 0.85 0 1 0 -1.7 0M157.7 217.7m-0.85 0a0.85 0.85 0 1 0 1.7 0a0.85 0.85 0 1 0 -1.7 0M180.2 218.4m-0.85 0a0.85 0.85 0 1 0 1.7 0a0.85 0.85 0 1 0 -1.7 0M147.3 225.7m-0.85 0a0.85 0.85 0 1 0 1.7 0a0.85 0.85 0 1 0 -1.7 0M148.1 218.1m-0.85 0a0.85 0.85 0 1 0 1.7 0a0.85 0.85 0 1 0 -1.7 0M135.8 215.7m-0.85 0a0.85 0.85 0 1 0 1.7 0a0.85 0.85 0 1 0 -1.7 0M155.6 217.0m-0.85 0a0.85 0.85 0 1 0 1.7 0a0.85 0.85 0 1 0 -1.7 0M132.9 218.4m-0.85 0a0.85 0.85 0 1 0 1.7 0a0.85 0.85 0 1 0 -1.7 0M134.9 216.5m-0.85 0a0.85 0.85 0 1 0 1.7 0a0.85 0.85 0 1 0 -1.7 0M169.6 223.9m-0.85 0a0.85 0.85 0 1 0 1.7 0a0.85 0.85 0 1 0 -1.7 0M137.9 216.6m-0.85 0a0.85 0.85 0 1 0 1.7 0a0.85 0.85 0 1 0 -1.7 0M166.7 218.7m-0.85 0a0.85 0.85 0 1 0 1.7 0a0.85 0.85 0 1 0 -1.7 0M173.1 216.4m-0.85 0a0.85 0.85 0 1 0 1.7 0a0.85 0.85 0 1 0 -1.7 0M154.8 217.9m-0.85 0a0.85 0.85 0 1 0 1.7 0a0.85 0.85 0 1 0 -1.7 0M159.0 216.5m-0.85 0a0.85 0.85 0 1 0 1.7 0a0.85 0.85 0 1 0 -1.7 0M179.3 227.3m-0.85 0a0.85 0.85 0 1 0 1.7 0a0.85 0.85 0 1 0 -1.7 0M148.1 221.3m-0.85 0a0.85 0.85 0 1 0 1.7 0a0.85 0.85 0 1 0 -1.7 0M142.4 216.0m-0.85 0a0.85 0.85 0 1 0 1.7 0a0.85 0.85 0 1 0 -1.7 0M131.4 220.7m-0.85 0a0.85 0.85 0 1 0 1.7 0a0.85 0.85 0 1 0 -1.7 0M151.6 225.5m-0.85 0a0.85 0.85 0 1 0 1.7 0a0.85 0.85 0 1 0 -1.7 0M172.4 214.7m-0.85 0a0.85 0.85 0 1 0 1.7 0a0.85 0.85 0 1 0 -1.7 0M164.9 224.5m-0.85 0a0.85 0.85 0 1 0 1.7 0a0.85 0.85 0 1 0 -1.7 0M137.3 219.5m-0.85 0a0.85 0.85 0 1 0 1.7 0a0.85 0.85 0 1 0 -1.7 0M138.6 221.2m-0.85 0a0.85 0.85 0 1 0 1.7 0a0.85 0.85 0 1 0 -1.7 0M143.7 217.4m-0.85 0a0.85 0.85 0 1 0 1.7 0a0.85 0.85 0 1 0 -1.7 0M155.2 215.0m-0.85 0a0.85 0.85 0 1 0 1.7 0a0.85 0.85 0 1 0 -1.7 0M148.0 225.6m-0.85 0a0.85 0.85 0 1 0 1.7 0a0.85 0.85 0 1 0 -1.7 0M154.1 216.5m-0.85 0a0.85 0.85 0 1 0 1.7 0a0.85 0.85 0 1 0 -1.7 0M155.3 222.9m-0.85 0a0.85 0.85 0 1 0 1.7 0a0.85 0.85 0 1 0 -1.7 0M146.7 216.2m-0.85 0a0.85 0.85 0 1 0 1.7 0a0.85 0.85 0 1 0 -1.7 0M150.4 215.2m-0.85 0a0.85 0.85 0 1 0 1.7 0a0.85 0.85 0 1 0 -1.7 0M154.0 216.3m-0.85 0a0.85 0.85 0 1 0 1.7 0a0.85 0.85 0 1 0 -1.7 0M149.8 215.0m-0.85 0a0.85 0.85 0 1 0 1.7 0a0.85 0.85 0 1 0 -1.7 0M158.3 217.6m-0.85 0a0.85 0.85 0 1 0 1.7 0a0.85 0.85 0 1 0 -1.7 0M178.1 218.0m-0.85 0a0.85 0.85 0 1 0 1.7 0a0.85 0.85 0 1 0 -1.7 0M159.6 223.9m-0.85 0a0.85 0.85 0 1 0 1.7 0a0.85 0.85 0 1 0 -1.7 0M151.8 214.8m-0.85 0a0.85 0.85 0 1 0 1.7 0a0.85 0.85 0 1 0 -1.7 0M126.6 224.8m-0.85 0a0.85 0.85 0 1 0 1.7 0a0.85 0.85 0 1 0 -1.7 0M156.6 225.5m-0.85 0a0.85 0.85 0 1 0 1.7 0a0.85 0.85 0 1 0 -1.7 0M122.8 221.9m-0.85 0a0.85 0.85 0 1 0 1.7 0a0.85 0.85 0 1 0 -1.7 0M130.6 218.5m-0.85 0a0.85 0.85 0 1 0 1.7 0a0.85 0.85 0 1 0 -1.7 0M163.4 218.3m-0.85 0a0.85 0.85 0 1 0 1.7 0a0.85 0.85 0 1 0 -1.7 0M161.2 222.5m-0.85 0a0.85 0.85 0 1 0 1.7 0a0.85 0.85 0 1 0 -1.7 0M148.8 214.9m-0.85 0a0.85 0.85 0 1 0 1.7 0a0.85 0.85 0 1 0 -1.7 0M126.2 215.0m-0.85 0a0.85 0.85 0 1 0 1.7 0a0.85 0.85 0 1 0 -1.7 0M145.6 216.2m-0.85 0a0.85 0.85 0 1 0 1.7 0a0.85 0.85 0 1 0 -1.7 0M141.2 215.1m-0.85 0a0.85 0.85 0 1 0 1.7 0a0.85 0.85 0 1 0 -1.7 0M160.2 217.0m-0.85 0a0.85 0.85 0 1 0 1.7 0a0.85 0.85 0 1 0 -1.7 0M183.7 215.1m-0.85 0a0.85 0.85 0 1 0 1.7 0a0.85 0.85 0 1 0 -1.7 0M154.1 220.6m-0.85 0a0.85 0.85 0 1 0 1.7 0a0.85 0.85 0 1 0 -1.7 0M139.7 216.7m-0.85 0a0.85 0.85 0 1 0 1.7 0a0.85 0.85 0 1 0 -1.7 0M134.0 227.1m-0.85 0a0.85 0.85 0 1 0 1.7 0a0.85 0.85 0 1 0 -1.7 0M150.2 215.0m-0.85 0a0.85 0.85 0 1 0 1.7 0a0.85 0.85 0 1 0 -1.7 0" fill="#000"/>
<path d="M98.0 224.0m-0.8 0a0.8 0.8 0 1 0 1.6 0a0.8 0.8 0 1 0 -1.6 0M108.0 220.5m-0.8 0a0.8 0.8 0 1 0 1.6 0a0.8 0.8 0 1 0 -1.6 0M112.5 218.5m-0.8 0a0.8 0.8 0 1 0 1.6 0a0.8 0.8 0 1 0 -1.6 0M118.0 216.0m-0.8 0a0.8 0.8 0 1 0 1.6 0a0.8 0.8 0 1 0 -1.6 0M183.5 218.5m-0.8 0a0.8 0.8 0 1 0 1.6 0a0.8 0.8 0 1 0 -1.6 0M187.0 222.0m-0.8 0a0.8 0.8 0 1 0 1.6 0a0.8 0.8 0 1 0 -1.6 0M191.5 218.0m-0.8 0a0.8 0.8 0 1 0 1.6 0a0.8 0.8 0 1 0 -1.6 0M205.3 215.8m-0.8 0a0.8 0.8 0 1 0 1.6 0a0.8 0.8 0 1 0 -1.6 0M179.0 224.0m-0.8 0a0.8 0.8 0 1 0 1.6 0a0.8 0.8 0 1 0 -1.6 0M181.0 226.0m-0.8 0a0.8 0.8 0 1 0 1.6 0a0.8 0.8 0 1 0 -1.6 0M115.0 221.0m-0.8 0a0.8 0.8 0 1 0 1.6 0a0.8 0.8 0 1 0 -1.6 0M122.0 226.0m-0.8 0a0.8 0.8 0 1 0 1.6 0a0.8 0.8 0 1 0 -1.6 0M186.0 226.0m-0.8 0a0.8 0.8 0 1 0 1.6 0a0.8 0.8 0 1 0 -1.6 0M190.0 220.0m-0.8 0a0.8 0.8 0 1 0 1.6 0a0.8 0.8 0 1 0 -1.6 0" fill="#000"/>
<path d="M127.2 213.9m-0.8 0a0.8 0.8 0 1 0 1.6 0a0.8 0.8 0 1 0 -1.6 0M124.0 204.0m-0.8 0a0.8 0.8 0 1 0 1.6 0a0.8 0.8 0 1 0 -1.6 0M143.7 196.3m-0.8 0a0.8 0.8 0 1 0 1.6 0a0.8 0.8 0 1 0 -1.6 0M142.1 176.3m-0.8 0a0.8 0.8 0 1 0 1.6 0a0.8 0.8 0 1 0 -1.6 0M133.2 213.7m-0.8 0a0.8 0.8 0 1 0 1.6 0a0.8 0.8 0 1 0 -1.6 0M143.1 190.7m-0.8 0a0.8 0.8 0 1 0 1.6 0a0.8 0.8 0 1 0 -1.6 0M139.6 202.5m-0.8 0a0.8 0.8 0 1 0 1.6 0a0.8 0.8 0 1 0 -1.6 0M134.6 213.5m-0.8 0a0.8 0.8 0 1 0 1.6 0a0.8 0.8 0 1 0 -1.6 0M143.2 173.7m-0.8 0a0.8 0.8 0 1 0 1.6 0a0.8 0.8 0 1 0 -1.6 0M143.5 191.3m-0.8 0a0.8 0.8 0 1 0 1.6 0a0.8 0.8 0 1 0 -1.6 0M138.1 213.9m-0.8 0a0.8 0.8 0 1 0 1.6 0a0.8 0.8 0 1 0 -1.6 0M144.2 178.4m-0.8 0a0.8 0.8 0 1 0 1.6 0a0.8 0.8 0 1 0 -1.6 0M136.0 214.0m-0.8 0a0.8 0.8 0 1 0 1.6 0a0.8 0.8 0 1 0 -1.6 0M138.2 214.6m-0.8 0a0.8 0.8 0 1 0 1.6 0a0.8 0.8 0 1 0 -1.6 0M132.3 208.2m-0.8 0a0.8 0.8 0 1 0 1.6 0a0.8 0.8 0 1 0 -1.6 0M143.8 176.1m-0.8 0a0.8 0.8 0 1 0 1.6 0a0.8 0.8 0 1 0 -1.6 0M135.6 215.0m-0.8 0a0.8 0.8 0 1 0 1.6 0a0.8 0.8 0 1 0 -1.6 0M143.9 177.1m-0.8 0a0.8 0.8 0 1 0 1.6 0a0.8 0.8 0 1 0 -1.6 0M143.5 196.1m-0.8 0a0.8 0.8 0 1 0 1.6 0a0.8 0.8 0 1 0 -1.6 0M125.0 214.6m-0.8 0a0.8 0.8 0 1 0 1.6 0a0.8 0.8 0 1 0 -1.6 0M141.4 198.3m-0.8 0a0.8 0.8 0 1 0 1.6 0a0.8 0.8 0 1 0 -1.6 0M122.0 203.0m-0.8 0a0.8 0.8 0 1 0 1.6 0a0.8 0.8 0 1 0 -1.6 0M143.5 199.0m-0.8 0a0.8 0.8 0 1 0 1.6 0a0.8 0.8 0 1 0 -1.6 0M142.9 189.5m-0.8 0a0.8 0.8 0 1 0 1.6 0a0.8 0.8 0 1 0 -1.6 0M142.2 191.9m-0.8 0a0.8 0.8 0 1 0 1.6 0a0.8 0.8 0 1 0 -1.6 0M143.2 172.0m-0.8 0a0.8 0.8 0 1 0 1.6 0a0.8 0.8 0 1 0 -1.6 0M141.9 213.1m-0.8 0a0.8 0.8 0 1 0 1.6 0a0.8 0.8 0 1 0 -1.6 0M143.7 183.9m-0.8 0a0.8 0.8 0 1 0 1.6 0a0.8 0.8 0 1 0 -1.6 0M133.3 205.7m-0.8 0a0.8 0.8 0 1 0 1.6 0a0.8 0.8 0 1 0 -1.6 0M139.9 186.1m-0.8 0a0.8 0.8 0 1 0 1.6 0a0.8 0.8 0 1 0 -1.6 0M138.7 179.3m-0.8 0a0.8 0.8 0 1 0 1.6 0a0.8 0.8 0 1 0 -1.6 0M141.8 172.3m-0.8 0a0.8 0.8 0 1 0 1.6 0a0.8 0.8 0 1 0 -1.6 0M143.7 210.4m-0.8 0a0.8 0.8 0 1 0 1.6 0a0.8 0.8 0 1 0 -1.6 0M141.7 203.2m-0.8 0a0.8 0.8 0 1 0 1.6 0a0.8 0.8 0 1 0 -1.6 0M143.5 175.8m-0.8 0a0.8 0.8 0 1 0 1.6 0a0.8 0.8 0 1 0 -1.6 0M144.0 175.5m-0.8 0a0.8 0.8 0 1 0 1.6 0a0.8 0.8 0 1 0 -1.6 0M136.0 207.2m-0.8 0a0.8 0.8 0 1 0 1.6 0a0.8 0.8 0 1 0 -1.6 0M142.0 175.5m-0.8 0a0.8 0.8 0 1 0 1.6 0a0.8 0.8 0 1 0 -1.6 0M123.9 205.8m-0.8 0a0.8 0.8 0 1 0 1.6 0a0.8 0.8 0 1 0 -1.6 0M139.2 207.1m-0.8 0a0.8 0.8 0 1 0 1.6 0a0.8 0.8 0 1 0 -1.6 0M141.1 187.7m-0.8 0a0.8 0.8 0 1 0 1.6 0a0.8 0.8 0 1 0 -1.6 0M136.3 202.7m-0.8 0a0.8 0.8 0 1 0 1.6 0a0.8 0.8 0 1 0 -1.6 0M136.5 203.6m-0.8 0a0.8 0.8 0 1 0 1.6 0a0.8 0.8 0 1 0 -1.6 0M142.3 205.8m-0.8 0a0.8 0.8 0 1 0 1.6 0a0.8 0.8 0 1 0 -1.6 0M133.4 204.2m-0.8 0a0.8 0.8 0 1 0 1.6 0a0.8 0.8 0 1 0 -1.6 0M134.2 213.3m-0.8 0a0.8 0.8 0 1 0 1.6 0a0.8 0.8 0 1 0 -1.6 0M138.0 214.2m-0.8 0a0.8 0.8 0 1 0 1.6 0a0.8 0.8 0 1 0 -1.6 0M144.3 188.2m-0.8 0a0.8 0.8 0 1 0 1.6 0a0.8 0.8 0 1 0 -1.6 0M130.5 198.4m-0.8 0a0.8 0.8 0 1 0 1.6 0a0.8 0.8 0 1 0 -1.6 0M141.7 192.8m-0.8 0a0.8 0.8 0 1 0 1.6 0a0.8 0.8 0 1 0 -1.6 0M143.3 184.7m-0.8 0a0.8 0.8 0 1 0 1.6 0a0.8 0.8 0 1 0 -1.6 0M142.9 211.2m-0.8 0a0.8 0.8 0 1 0 1.6 0a0.8 0.8 0 1 0 -1.6 0M138.2 211.5m-0.8 0a0.8 0.8 0 1 0 1.6 0a0.8 0.8 0 1 0 -1.6 0M129.9 210.0m-0.8 0a0.8 0.8 0 1 0 1.6 0a0.8 0.8 0 1 0 -1.6 0M131.2 209.3m-0.8 0a0.8 0.8 0 1 0 1.6 0a0.8 0.8 0 1 0 -1.6 0M143.5 187.5m-0.8 0a0.8 0.8 0 1 0 1.6 0a0.8 0.8 0 1 0 -1.6 0M130.6 206.8m-0.8 0a0.8 0.8 0 1 0 1.6 0a0.8 0.8 0 1 0 -1.6 0M143.9 209.0m-0.8 0a0.8 0.8 0 1 0 1.6 0a0.8 0.8 0 1 0 -1.6 0M141.9 194.5m-0.8 0a0.8 0.8 0 1 0 1.6 0a0.8 0.8 0 1 0 -1.6 0M143.4 212.5m-0.8 0a0.8 0.8 0 1 0 1.6 0a0.8 0.8 0 1 0 -1.6 0M133.7 214.2m-0.8 0a0.8 0.8 0 1 0 1.6 0a0.8 0.8 0 1 0 -1.6 0M143.5 190.9m-0.8 0a0.8 0.8 0 1 0 1.6 0a0.8 0.8 0 1 0 -1.6 0M143.5 188.3m-0.8 0a0.8 0.8 0 1 0 1.6 0a0.8 0.8 0 1 0 -1.6 0M142.9 209.4m-0.8 0a0.8 0.8 0 1 0 1.6 0a0.8 0.8 0 1 0 -1.6 0M143.1 194.5m-0.8 0a0.8 0.8 0 1 0 1.6 0a0.8 0.8 0 1 0 -1.6 0M133.2 215.1m-0.8 0a0.8 0.8 0 1 0 1.6 0a0.8 0.8 0 1 0 -1.6 0M137.6 205.9m-0.8 0a0.8 0.8 0 1 0 1.6 0a0.8 0.8 0 1 0 -1.6 0M143.1 197.9m-0.8 0a0.8 0.8 0 1 0 1.6 0a0.8 0.8 0 1 0 -1.6 0M138.8 211.1m-0.8 0a0.8 0.8 0 1 0 1.6 0a0.8 0.8 0 1 0 -1.6 0M135.6 207.3m-0.8 0a0.8 0.8 0 1 0 1.6 0a0.8 0.8 0 1 0 -1.6 0M141.1 196.2m-0.8 0a0.8 0.8 0 1 0 1.6 0a0.8 0.8 0 1 0 -1.6 0M130.6 197.4m-0.8 0a0.8 0.8 0 1 0 1.6 0a0.8 0.8 0 1 0 -1.6 0M113.2 213.6m-0.8 0a0.8 0.8 0 1 0 1.6 0a0.8 0.8 0 1 0 -1.6 0M143.9 190.9m-0.8 0a0.8 0.8 0 1 0 1.6 0a0.8 0.8 0 1 0 -1.6 0M127.9 214.5m-0.8 0a0.8 0.8 0 1 0 1.6 0a0.8 0.8 0 1 0 -1.6 0M141.4 173.5m-0.8 0a0.8 0.8 0 1 0 1.6 0a0.8 0.8 0 1 0 -1.6 0M123.9 212.1m-0.8 0a0.8 0.8 0 1 0 1.6 0a0.8 0.8 0 1 0 -1.6 0M123.9 210.8m-0.8 0a0.8 0.8 0 1 0 1.6 0a0.8 0.8 0 1 0 -1.6 0M138.6 212.5m-0.8 0a0.8 0.8 0 1 0 1.6 0a0.8 0.8 0 1 0 -1.6 0M143.4 172.3m-0.8 0a0.8 0.8 0 1 0 1.6 0a0.8 0.8 0 1 0 -1.6 0M141.2 210.0m-0.8 0a0.8 0.8 0 1 0 1.6 0a0.8 0.8 0 1 0 -1.6 0M143.6 196.8m-0.8 0a0.8 0.8 0 1 0 1.6 0a0.8 0.8 0 1 0 -1.6 0M140.7 171.6m-0.8 0a0.8 0.8 0 1 0 1.6 0a0.8 0.8 0 1 0 -1.6 0M142.3 175.3m-0.8 0a0.8 0.8 0 1 0 1.6 0a0.8 0.8 0 1 0 -1.6 0M137.8 214.7m-0.8 0a0.8 0.8 0 1 0 1.6 0a0.8 0.8 0 1 0 -1.6 0M142.9 200.8m-0.8 0a0.8 0.8 0 1 0 1.6 0a0.8 0.8 0 1 0 -1.6 0M144.2 196.4m-0.8 0a0.8 0.8 0 1 0 1.6 0a0.8 0.8 0 1 0 -1.6 0M141.8 191.0m-0.8 0a0.8 0.8 0 1 0 1.6 0a0.8 0.8 0 1 0 -1.6 0M137.3 208.5m-0.8 0a0.8 0.8 0 1 0 1.6 0a0.8 0.8 0 1 0 -1.6 0M133.2 214.7m-0.8 0a0.8 0.8 0 1 0 1.6 0a0.8 0.8 0 1 0 -1.6 0M142.2 214.8m-0.8 0a0.8 0.8 0 1 0 1.6 0a0.8 0.8 0 1 0 -1.6 0M143.9 199.5m-0.8 0a0.8 0.8 0 1 0 1.6 0a0.8 0.8 0 1 0 -1.6 0M119.5 214.2m-0.8 0a0.8 0.8 0 1 0 1.6 0a0.8 0.8 0 1 0 -1.6 0M142.8 212.4m-0.8 0a0.8 0.8 0 1 0 1.6 0a0.8 0.8 0 1 0 -1.6 0M140.5 208.0m-0.8 0a0.8 0.8 0 1 0 1.6 0a0.8 0.8 0 1 0 -1.6 0M143.8 214.3m-0.8 0a0.8 0.8 0 1 0 1.6 0a0.8 0.8 0 1 0 -1.6 0M143.3 214.9m-0.8 0a0.8 0.8 0 1 0 1.6 0a0.8 0.8 0 1 0 -1.6 0M142.3 176.8m-0.8 0a0.8 0.8 0 1 0 1.6 0a0.8 0.8 0 1 0 -1.6 0M140.7 204.7m-0.8 0a0.8 0.8 0 1 0 1.6 0a0.8 0.8 0 1 0 -1.6 0M134.3 212.4m-0.8 0a0.8 0.8 0 1 0 1.6 0a0.8 0.8 0 1 0 -1.6 0M138.2 190.4m-0.8 0a0.8 0.8 0 1 0 1.6 0a0.8 0.8 0 1 0 -1.6 0M137.5 215.2m-0.8 0a0.8 0.8 0 1 0 1.6 0a0.8 0.8 0 1 0 -1.6 0M132.0 211.1m-0.8 0a0.8 0.8 0 1 0 1.6 0a0.8 0.8 0 1 0 -1.6 0M142.1 174.1m-0.8 0a0.8 0.8 0 1 0 1.6 0a0.8 0.8 0 1 0 -1.6 0M143.7 178.9m-0.8 0a0.8 0.8 0 1 0 1.6 0a0.8 0.8 0 1 0 -1.6 0M134.3 195.2m-0.8 0a0.8 0.8 0 1 0 1.6 0a0.8 0.8 0 1 0 -1.6 0M124.3 214.2m-0.8 0a0.8 0.8 0 1 0 1.6 0a0.8 0.8 0 1 0 -1.6 0M132.4 209.2m-0.8 0a0.8 0.8 0 1 0 1.6 0a0.8 0.8 0 1 0 -1.6 0M138.0 214.5m-0.8 0a0.8 0.8 0 1 0 1.6 0a0.8 0.8 0 1 0 -1.6 0M121.0 211.3m-0.8 0a0.8 0.8 0 1 0 1.6 0a0.8 0.8 0 1 0 -1.6 0M132.8 215.1m-0.8 0a0.8 0.8 0 1 0 1.6 0a0.8 0.8 0 1 0 -1.6 0M130.1 213.5m-0.8 0a0.8 0.8 0 1 0 1.6 0a0.8 0.8 0 1 0 -1.6 0M142.5 195.0m-0.8 0a0.8 0.8 0 1 0 1.6 0a0.8 0.8 0 1 0 -1.6 0M139.0 214.1m-0.8 0a0.8 0.8 0 1 0 1.6 0a0.8 0.8 0 1 0 -1.6 0M138.6 212.8m-0.8 0a0.8 0.8 0 1 0 1.6 0a0.8 0.8 0 1 0 -1.6 0M144.1 178.6m-0.8 0a0.8 0.8 0 1 0 1.6 0a0.8 0.8 0 1 0 -1.6 0M138.3 208.4m-0.8 0a0.8 0.8 0 1 0 1.6 0a0.8 0.8 0 1 0 -1.6 0M142.7 207.9m-0.8 0a0.8 0.8 0 1 0 1.6 0a0.8 0.8 0 1 0 -1.6 0M135.6 214.0m-0.8 0a0.8 0.8 0 1 0 1.6 0a0.8 0.8 0 1 0 -1.6 0M140.6 185.7m-0.8 0a0.8 0.8 0 1 0 1.6 0a0.8 0.8 0 1 0 -1.6 0M142.6 192.9m-0.8 0a0.8 0.8 0 1 0 1.6 0a0.8 0.8 0 1 0 -1.6 0M140.4 199.7m-0.8 0a0.8 0.8 0 1 0 1.6 0a0.8 0.8 0 1 0 -1.6 0M132.7 195.7m-0.8 0a0.8 0.8 0 1 0 1.6 0a0.8 0.8 0 1 0 -1.6 0M139.8 214.0m-0.8 0a0.8 0.8 0 1 0 1.6 0a0.8 0.8 0 1 0 -1.6 0M135.0 210.5m-0.8 0a0.8 0.8 0 1 0 1.6 0a0.8 0.8 0 1 0 -1.6 0M143.7 197.2m-0.8 0a0.8 0.8 0 1 0 1.6 0a0.8 0.8 0 1 0 -1.6 0M143.5 174.8m-0.8 0a0.8 0.8 0 1 0 1.6 0a0.8 0.8 0 1 0 -1.6 0M142.5 183.7m-0.8 0a0.8 0.8 0 1 0 1.6 0a0.8 0.8 0 1 0 -1.6 0M143.5 194.2m-0.8 0a0.8 0.8 0 1 0 1.6 0a0.8 0.8 0 1 0 -1.6 0M142.9 200.5m-0.8 0a0.8 0.8 0 1 0 1.6 0a0.8 0.8 0 1 0 -1.6 0M139.1 179.1m-0.8 0a0.8 0.8 0 1 0 1.6 0a0.8 0.8 0 1 0 -1.6 0M126.4 214.7m-0.8 0a0.8 0.8 0 1 0 1.6 0a0.8 0.8 0 1 0 -1.6 0M141.7 213.8m-0.8 0a0.8 0.8 0 1 0 1.6 0a0.8 0.8 0 1 0 -1.6 0M142.4 192.0m-0.8 0a0.8 0.8 0 1 0 1.6 0a0.8 0.8 0 1 0 -1.6 0M143.6 184.7m-0.8 0a0.8 0.8 0 1 0 1.6 0a0.8 0.8 0 1 0 -1.6 0M144.1 186.1m-0.8 0a0.8 0.8 0 1 0 1.6 0a0.8 0.8 0 1 0 -1.6 0M140.0 204.0m-0.8 0a0.8 0.8 0 1 0 1.6 0a0.8 0.8 0 1 0 -1.6 0M140.4 212.6m-0.8 0a0.8 0.8 0 1 0 1.6 0a0.8 0.8 0 1 0 -1.6 0M125.7 215.1m-0.8 0a0.8 0.8 0 1 0 1.6 0a0.8 0.8 0 1 0 -1.6 0M143.3 181.6m-0.8 0a0.8 0.8 0 1 0 1.6 0a0.8 0.8 0 1 0 -1.6 0M143.6 173.0m-0.8 0a0.8 0.8 0 1 0 1.6 0a0.8 0.8 0 1 0 -1.6 0M143.6 180.9m-0.8 0a0.8 0.8 0 1 0 1.6 0a0.8 0.8 0 1 0 -1.6 0M131.6 205.7m-0.8 0a0.8 0.8 0 1 0 1.6 0a0.8 0.8 0 1 0 -1.6 0M129.6 209.2m-0.8 0a0.8 0.8 0 1 0 1.6 0a0.8 0.8 0 1 0 -1.6 0M138.4 201.1m-0.8 0a0.8 0.8 0 1 0 1.6 0a0.8 0.8 0 1 0 -1.6 0M137.0 215.3m-0.8 0a0.8 0.8 0 1 0 1.6 0a0.8 0.8 0 1 0 -1.6 0M143.3 203.6m-0.8 0a0.8 0.8 0 1 0 1.6 0a0.8 0.8 0 1 0 -1.6 0M140.0 211.9m-0.8 0a0.8 0.8 0 1 0 1.6 0a0.8 0.8 0 1 0 -1.6 0M144.0 190.1m-0.8 0a0.8 0.8 0 1 0 1.6 0a0.8 0.8 0 1 0 -1.6 0M142.0 201.2m-0.8 0a0.8 0.8 0 1 0 1.6 0a0.8 0.8 0 1 0 -1.6 0M141.9 181.1m-0.8 0a0.8 0.8 0 1 0 1.6 0a0.8 0.8 0 1 0 -1.6 0M136.5 178.3m-0.8 0a0.8 0.8 0 1 0 1.6 0a0.8 0.8 0 1 0 -1.6 0M137.4 208.6m-0.8 0a0.8 0.8 0 1 0 1.6 0a0.8 0.8 0 1 0 -1.6 0M142.4 210.0m-0.8 0a0.8 0.8 0 1 0 1.6 0a0.8 0.8 0 1 0 -1.6 0M143.3 176.0m-0.8 0a0.8 0.8 0 1 0 1.6 0a0.8 0.8 0 1 0 -1.6 0M144.1 201.6m-0.8 0a0.8 0.8 0 1 0 1.6 0a0.8 0.8 0 1 0 -1.6 0M144.2 214.0m-0.8 0a0.8 0.8 0 1 0 1.6 0a0.8 0.8 0 1 0 -1.6 0M133.8 214.4m-0.8 0a0.8 0.8 0 1 0 1.6 0a0.8 0.8 0 1 0 -1.6 0M143.7 172.4m-0.8 0a0.8 0.8 0 1 0 1.6 0a0.8 0.8 0 1 0 -1.6 0M142.6 197.3m-0.8 0a0.8 0.8 0 1 0 1.6 0a0.8 0.8 0 1 0 -1.6 0M142.6 214.2m-0.8 0a0.8 0.8 0 1 0 1.6 0a0.8 0.8 0 1 0 -1.6 0M139.2 200.7m-0.8 0a0.8 0.8 0 1 0 1.6 0a0.8 0.8 0 1 0 -1.6 0M131.9 201.3m-0.8 0a0.8 0.8 0 1 0 1.6 0a0.8 0.8 0 1 0 -1.6 0M144.1 204.8m-0.8 0a0.8 0.8 0 1 0 1.6 0a0.8 0.8 0 1 0 -1.6 0M142.8 175.1m-0.8 0a0.8 0.8 0 1 0 1.6 0a0.8 0.8 0 1 0 -1.6 0M144.1 175.1m-0.8 0a0.8 0.8 0 1 0 1.6 0a0.8 0.8 0 1 0 -1.6 0M128.8 213.7m-0.8 0a0.8 0.8 0 1 0 1.6 0a0.8 0.8 0 1 0 -1.6 0M137.1 213.4m-0.8 0a0.8 0.8 0 1 0 1.6 0a0.8 0.8 0 1 0 -1.6 0M138.6 205.6m-0.8 0a0.8 0.8 0 1 0 1.6 0a0.8 0.8 0 1 0 -1.6 0M143.0 182.8m-0.8 0a0.8 0.8 0 1 0 1.6 0a0.8 0.8 0 1 0 -1.6 0M141.5 195.0m-0.8 0a0.8 0.8 0 1 0 1.6 0a0.8 0.8 0 1 0 -1.6 0M141.3 189.1m-0.8 0a0.8 0.8 0 1 0 1.6 0a0.8 0.8 0 1 0 -1.6 0M142.6 198.2m-0.8 0a0.8 0.8 0 1 0 1.6 0a0.8 0.8 0 1 0 -1.6 0M143.5 212.0m-0.8 0a0.8 0.8 0 1 0 1.6 0a0.8 0.8 0 1 0 -1.6 0M142.4 184.3m-0.8 0a0.8 0.8 0 1 0 1.6 0a0.8 0.8 0 1 0 -1.6 0M142.2 214.5m-0.8 0a0.8 0.8 0 1 0 1.6 0a0.8 0.8 0 1 0 -1.6 0M143.7 191.7m-0.8 0a0.8 0.8 0 1 0 1.6 0a0.8 0.8 0 1 0 -1.6 0M143.0 212.1m-0.8 0a0.8 0.8 0 1 0 1.6 0a0.8 0.8 0 1 0 -1.6 0M142.0 203.3m-0.8 0a0.8 0.8 0 1 0 1.6 0a0.8 0.8 0 1 0 -1.6 0M143.1 173.3m-0.8 0a0.8 0.8 0 1 0 1.6 0a0.8 0.8 0 1 0 -1.6 0M133.7 199.8m-0.8 0a0.8 0.8 0 1 0 1.6 0a0.8 0.8 0 1 0 -1.6 0M140.2 204.7m-0.8 0a0.8 0.8 0 1 0 1.6 0a0.8 0.8 0 1 0 -1.6 0M142.2 193.6m-0.8 0a0.8 0.8 0 1 0 1.6 0a0.8 0.8 0 1 0 -1.6 0M132.8 214.3m-0.8 0a0.8 0.8 0 1 0 1.6 0a0.8 0.8 0 1 0 -1.6 0M140.7 210.9m-0.8 0a0.8 0.8 0 1 0 1.6 0a0.8 0.8 0 1 0 -1.6 0M136.4 214.8m-0.8 0a0.8 0.8 0 1 0 1.6 0a0.8 0.8 0 1 0 -1.6 0M143.7 199.2m-0.8 0a0.8 0.8 0 1 0 1.6 0a0.8 0.8 0 1 0 -1.6 0M128.9 206.1m-0.8 0a0.8 0.8 0 1 0 1.6 0a0.8 0.8 0 1 0 -1.6 0M144.1 201.3m-0.8 0a0.8 0.8 0 1 0 1.6 0a0.8 0.8 0 1 0 -1.6 0M142.2 209.2m-0.8 0a0.8 0.8 0 1 0 1.6 0a0.8 0.8 0 1 0 -1.6 0M142.4 193.9m-0.8 0a0.8 0.8 0 1 0 1.6 0a0.8 0.8 0 1 0 -1.6 0M113.1 212.4m-0.8 0a0.8 0.8 0 1 0 1.6 0a0.8 0.8 0 1 0 -1.6 0M141.0 177.6m-0.8 0a0.8 0.8 0 1 0 1.6 0a0.8 0.8 0 1 0 -1.6 0M137.9 174.8m-0.8 0a0.8 0.8 0 1 0 1.6 0a0.8 0.8 0 1 0 -1.6 0M141.9 201.7m-0.8 0a0.8 0.8 0 1 0 1.6 0a0.8 0.8 0 1 0 -1.6 0M143.0 203.1m-0.8 0a0.8 0.8 0 1 0 1.6 0a0.8 0.8 0 1 0 -1.6 0M143.4 180.9m-0.8 0a0.8 0.8 0 1 0 1.6 0a0.8 0.8 0 1 0 -1.6 0M141.5 209.4m-0.8 0a0.8 0.8 0 1 0 1.6 0a0.8 0.8 0 1 0 -1.6 0M142.0 184.8m-0.8 0a0.8 0.8 0 1 0 1.6 0a0.8 0.8 0 1 0 -1.6 0M126.0 210.0m-0.8 0a0.8 0.8 0 1 0 1.6 0a0.8 0.8 0 1 0 -1.6 0M143.9 189.5m-0.8 0a0.8 0.8 0 1 0 1.6 0a0.8 0.8 0 1 0 -1.6 0M141.1 208.5m-0.8 0a0.8 0.8 0 1 0 1.6 0a0.8 0.8 0 1 0 -1.6 0M134.5 197.0m-0.8 0a0.8 0.8 0 1 0 1.6 0a0.8 0.8 0 1 0 -1.6 0M139.7 176.8m-0.8 0a0.8 0.8 0 1 0 1.6 0a0.8 0.8 0 1 0 -1.6 0M130.6 214.5m-0.8 0a0.8 0.8 0 1 0 1.6 0a0.8 0.8 0 1 0 -1.6 0M143.8 184.4m-0.8 0a0.8 0.8 0 1 0 1.6 0a0.8 0.8 0 1 0 -1.6 0M142.8 199.3m-0.8 0a0.8 0.8 0 1 0 1.6 0a0.8 0.8 0 1 0 -1.6 0M141.0 206.4m-0.8 0a0.8 0.8 0 1 0 1.6 0a0.8 0.8 0 1 0 -1.6 0M142.7 208.0m-0.8 0a0.8 0.8 0 1 0 1.6 0a0.8 0.8 0 1 0 -1.6 0M142.2 214.0m-0.8 0a0.8 0.8 0 1 0 1.6 0a0.8 0.8 0 1 0 -1.6 0M139.2 210.9m-0.8 0a0.8 0.8 0 1 0 1.6 0a0.8 0.8 0 1 0 -1.6 0M144.3 195.6m-0.8 0a0.8 0.8 0 1 0 1.6 0a0.8 0.8 0 1 0 -1.6 0M142.1 213.6m-0.8 0a0.8 0.8 0 1 0 1.6 0a0.8 0.8 0 1 0 -1.6 0M134.2 192.5m-0.8 0a0.8 0.8 0 1 0 1.6 0a0.8 0.8 0 1 0 -1.6 0M142.9 174.3m-0.8 0a0.8 0.8 0 1 0 1.6 0a0.8 0.8 0 1 0 -1.6 0M143.8 172.9m-0.8 0a0.8 0.8 0 1 0 1.6 0a0.8 0.8 0 1 0 -1.6 0M143.9 179.0m-0.8 0a0.8 0.8 0 1 0 1.6 0a0.8 0.8 0 1 0 -1.6 0M142.0 185.1m-0.8 0a0.8 0.8 0 1 0 1.6 0a0.8 0.8 0 1 0 -1.6 0M116.6 212.4m-0.8 0a0.8 0.8 0 1 0 1.6 0a0.8 0.8 0 1 0 -1.6 0M144.0 173.5m-0.8 0a0.8 0.8 0 1 0 1.6 0a0.8 0.8 0 1 0 -1.6 0M141.1 211.7m-0.8 0a0.8 0.8 0 1 0 1.6 0a0.8 0.8 0 1 0 -1.6 0M138.3 180.7m-0.8 0a0.8 0.8 0 1 0 1.6 0a0.8 0.8 0 1 0 -1.6 0M141.1 179.6m-0.8 0a0.8 0.8 0 1 0 1.6 0a0.8 0.8 0 1 0 -1.6 0M140.9 195.2m-0.8 0a0.8 0.8 0 1 0 1.6 0a0.8 0.8 0 1 0 -1.6 0M144.1 200.8m-0.8 0a0.8 0.8 0 1 0 1.6 0a0.8 0.8 0 1 0 -1.6 0M125.6 212.1m-0.8 0a0.8 0.8 0 1 0 1.6 0a0.8 0.8 0 1 0 -1.6 0M140.3 200.8m-0.8 0a0.8 0.8 0 1 0 1.6 0a0.8 0.8 0 1 0 -1.6 0M141.5 209.9m-0.8 0a0.8 0.8 0 1 0 1.6 0a0.8 0.8 0 1 0 -1.6 0M140.8 213.8m-0.8 0a0.8 0.8 0 1 0 1.6 0a0.8 0.8 0 1 0 -1.6 0M142.8 213.3m-0.8 0a0.8 0.8 0 1 0 1.6 0a0.8 0.8 0 1 0 -1.6 0M143.3 185.2m-0.8 0a0.8 0.8 0 1 0 1.6 0a0.8 0.8 0 1 0 -1.6 0M144.2 176.6m-0.8 0a0.8 0.8 0 1 0 1.6 0a0.8 0.8 0 1 0 -1.6 0M137.8 213.2m-0.8 0a0.8 0.8 0 1 0 1.6 0a0.8 0.8 0 1 0 -1.6 0M143.1 214.9m-0.8 0a0.8 0.8 0 1 0 1.6 0a0.8 0.8 0 1 0 -1.6 0M137.8 210.1m-0.8 0a0.8 0.8 0 1 0 1.6 0a0.8 0.8 0 1 0 -1.6 0M143.2 213.1m-0.8 0a0.8 0.8 0 1 0 1.6 0a0.8 0.8 0 1 0 -1.6 0M143.1 212.6m-0.8 0a0.8 0.8 0 1 0 1.6 0a0.8 0.8 0 1 0 -1.6 0M130.8 197.8m-0.8 0a0.8 0.8 0 1 0 1.6 0a0.8 0.8 0 1 0 -1.6 0M144.1 204.8m-0.8 0a0.8 0.8 0 1 0 1.6 0a0.8 0.8 0 1 0 -1.6 0M141.8 204.5m-0.8 0a0.8 0.8 0 1 0 1.6 0a0.8 0.8 0 1 0 -1.6 0M133.2 211.7m-0.8 0a0.8 0.8 0 1 0 1.6 0a0.8 0.8 0 1 0 -1.6 0M140.0 193.2m-0.8 0a0.8 0.8 0 1 0 1.6 0a0.8 0.8 0 1 0 -1.6 0M131.3 209.7m-0.8 0a0.8 0.8 0 1 0 1.6 0a0.8 0.8 0 1 0 -1.6 0M139.3 206.2m-0.8 0a0.8 0.8 0 1 0 1.6 0a0.8 0.8 0 1 0 -1.6 0M135.2 202.7m-0.8 0a0.8 0.8 0 1 0 1.6 0a0.8 0.8 0 1 0 -1.6 0M143.4 178.6m-0.8 0a0.8 0.8 0 1 0 1.6 0a0.8 0.8 0 1 0 -1.6 0M140.3 211.4m-0.8 0a0.8 0.8 0 1 0 1.6 0a0.8 0.8 0 1 0 -1.6 0M141.7 189.9m-0.8 0a0.8 0.8 0 1 0 1.6 0a0.8 0.8 0 1 0 -1.6 0M136.8 209.3m-0.8 0a0.8 0.8 0 1 0 1.6 0a0.8 0.8 0 1 0 -1.6 0M144.1 179.2m-0.8 0a0.8 0.8 0 1 0 1.6 0a0.8 0.8 0 1 0 -1.6 0M136.4 206.2m-0.8 0a0.8 0.8 0 1 0 1.6 0a0.8 0.8 0 1 0 -1.6 0M143.8 201.1m-0.8 0a0.8 0.8 0 1 0 1.6 0a0.8 0.8 0 1 0 -1.6 0M142.1 180.2m-0.8 0a0.8 0.8 0 1 0 1.6 0a0.8 0.8 0 1 0 -1.6 0M137.9 193.1m-0.8 0a0.8 0.8 0 1 0 1.6 0a0.8 0.8 0 1 0 -1.6 0M140.3 213.8m-0.8 0a0.8 0.8 0 1 0 1.6 0a0.8 0.8 0 1 0 -1.6 0M139.2 213.5m-0.8 0a0.8 0.8 0 1 0 1.6 0a0.8 0.8 0 1 0 -1.6 0M140.9 171.6m-0.8 0a0.8 0.8 0 1 0 1.6 0a0.8 0.8 0 1 0 -1.6 0M117.1 215.2m-0.8 0a0.8 0.8 0 1 0 1.6 0a0.8 0.8 0 1 0 -1.6 0M134.3 209.6m-0.8 0a0.8 0.8 0 1 0 1.6 0a0.8 0.8 0 1 0 -1.6 0M143.8 173.9m-0.8 0a0.8 0.8 0 1 0 1.6 0a0.8 0.8 0 1 0 -1.6 0M134.4 215.2m-0.8 0a0.8 0.8 0 1 0 1.6 0a0.8 0.8 0 1 0 -1.6 0M141.6 213.2m-0.8 0a0.8 0.8 0 1 0 1.6 0a0.8 0.8 0 1 0 -1.6 0M123.6 211.4m-0.8 0a0.8 0.8 0 1 0 1.6 0a0.8 0.8 0 1 0 -1.6 0M133.5 214.3m-0.8 0a0.8 0.8 0 1 0 1.6 0a0.8 0.8 0 1 0 -1.6 0M140.8 203.0m-0.8 0a0.8 0.8 0 1 0 1.6 0a0.8 0.8 0 1 0 -1.6 0M142.8 196.9m-0.8 0a0.8 0.8 0 1 0 1.6 0a0.8 0.8 0 1 0 -1.6 0M140.9 208.7m-0.8 0a0.8 0.8 0 1 0 1.6 0a0.8 0.8 0 1 0 -1.6 0M141.3 214.4m-0.8 0a0.8 0.8 0 1 0 1.6 0a0.8 0.8 0 1 0 -1.6 0M137.5 184.6m-0.8 0a0.8 0.8 0 1 0 1.6 0a0.8 0.8 0 1 0 -1.6 0M142.7 184.8m-0.8 0a0.8 0.8 0 1 0 1.6 0a0.8 0.8 0 1 0 -1.6 0M141.0 198.1m-0.8 0a0.8 0.8 0 1 0 1.6 0a0.8 0.8 0 1 0 -1.6 0M140.7 213.1m-0.8 0a0.8 0.8 0 1 0 1.6 0a0.8 0.8 0 1 0 -1.6 0M132.6 199.9m-0.8 0a0.8 0.8 0 1 0 1.6 0a0.8 0.8 0 1 0 -1.6 0M144.3 195.3m-0.8 0a0.8 0.8 0 1 0 1.6 0a0.8 0.8 0 1 0 -1.6 0M120.5 205.0m-0.8 0a0.8 0.8 0 1 0 1.6 0a0.8 0.8 0 1 0 -1.6 0M143.5 181.0m-0.8 0a0.8 0.8 0 1 0 1.6 0a0.8 0.8 0 1 0 -1.6 0M143.2 206.2m-0.8 0a0.8 0.8 0 1 0 1.6 0a0.8 0.8 0 1 0 -1.6 0M142.9 201.1m-0.8 0a0.8 0.8 0 1 0 1.6 0a0.8 0.8 0 1 0 -1.6 0M139.2 214.1m-0.8 0a0.8 0.8 0 1 0 1.6 0a0.8 0.8 0 1 0 -1.6 0M142.9 198.3m-0.8 0a0.8 0.8 0 1 0 1.6 0a0.8 0.8 0 1 0 -1.6 0M144.3 187.2m-0.8 0a0.8 0.8 0 1 0 1.6 0a0.8 0.8 0 1 0 -1.6 0M142.4 189.3m-0.8 0a0.8 0.8 0 1 0 1.6 0a0.8 0.8 0 1 0 -1.6 0M140.6 210.8m-0.8 0a0.8 0.8 0 1 0 1.6 0a0.8 0.8 0 1 0 -1.6 0M143.6 171.7m-0.8 0a0.8 0.8 0 1 0 1.6 0a0.8 0.8 0 1 0 -1.6 0M142.8 189.5m-0.8 0a0.8 0.8 0 1 0 1.6 0a0.8 0.8 0 1 0 -1.6 0M132.2 204.4m-0.8 0a0.8 0.8 0 1 0 1.6 0a0.8 0.8 0 1 0 -1.6 0M140.2 204.9m-0.8 0a0.8 0.8 0 1 0 1.6 0a0.8 0.8 0 1 0 -1.6 0M143.8 186.8m-0.8 0a0.8 0.8 0 1 0 1.6 0a0.8 0.8 0 1 0 -1.6 0M140.4 212.9m-0.8 0a0.8 0.8 0 1 0 1.6 0a0.8 0.8 0 1 0 -1.6 0M141.7 194.8m-0.8 0a0.8 0.8 0 1 0 1.6 0a0.8 0.8 0 1 0 -1.6 0M142.6 190.0m-0.8 0a0.8 0.8 0 1 0 1.6 0a0.8 0.8 0 1 0 -1.6 0M138.6 200.4m-0.8 0a0.8 0.8 0 1 0 1.6 0a0.8 0.8 0 1 0 -1.6 0M144.1 180.3m-0.8 0a0.8 0.8 0 1 0 1.6 0a0.8 0.8 0 1 0 -1.6 0M132.5 203.3m-0.8 0a0.8 0.8 0 1 0 1.6 0a0.8 0.8 0 1 0 -1.6 0M136.8 203.1m-0.8 0a0.8 0.8 0 1 0 1.6 0a0.8 0.8 0 1 0 -1.6 0M136.3 209.9m-0.8 0a0.8 0.8 0 1 0 1.6 0a0.8 0.8 0 1 0 -1.6 0M141.2 177.0m-0.8 0a0.8 0.8 0 1 0 1.6 0a0.8 0.8 0 1 0 -1.6 0M142.6 208.4m-0.8 0a0.8 0.8 0 1 0 1.6 0a0.8 0.8 0 1 0 -1.6 0M142.3 191.6m-0.8 0a0.8 0.8 0 1 0 1.6 0a0.8 0.8 0 1 0 -1.6 0M141.0 205.4m-0.8 0a0.8 0.8 0 1 0 1.6 0a0.8 0.8 0 1 0 -1.6 0M143.7 175.9m-0.8 0a0.8 0.8 0 1 0 1.6 0a0.8 0.8 0 1 0 -1.6 0M143.8 174.9m-0.8 0a0.8 0.8 0 1 0 1.6 0a0.8 0.8 0 1 0 -1.6 0M138.0 215.0m-0.8 0a0.8 0.8 0 1 0 1.6 0a0.8 0.8 0 1 0 -1.6 0M143.9 171.6m-0.8 0a0.8 0.8 0 1 0 1.6 0a0.8 0.8 0 1 0 -1.6 0M140.9 196.5m-0.8 0a0.8 0.8 0 1 0 1.6 0a0.8 0.8 0 1 0 -1.6 0M131.2 214.2m-0.8 0a0.8 0.8 0 1 0 1.6 0a0.8 0.8 0 1 0 -1.6 0M137.3 201.9m-0.8 0a0.8 0.8 0 1 0 1.6 0a0.8 0.8 0 1 0 -1.6 0M139.1 214.6m-0.8 0a0.8 0.8 0 1 0 1.6 0a0.8 0.8 0 1 0 -1.6 0M133.5 199.2m-0.8 0a0.8 0.8 0 1 0 1.6 0a0.8 0.8 0 1 0 -1.6 0M130.0 212.9m-0.8 0a0.8 0.8 0 1 0 1.6 0a0.8 0.8 0 1 0 -1.6 0M135.6 207.2m-0.8 0a0.8 0.8 0 1 0 1.6 0a0.8 0.8 0 1 0 -1.6 0M143.8 209.4m-0.8 0a0.8 0.8 0 1 0 1.6 0a0.8 0.8 0 1 0 -1.6 0M138.0 196.4m-0.8 0a0.8 0.8 0 1 0 1.6 0a0.8 0.8 0 1 0 -1.6 0M142.6 184.0m-0.8 0a0.8 0.8 0 1 0 1.6 0a0.8 0.8 0 1 0 -1.6 0M143.9 175.8m-0.8 0a0.8 0.8 0 1 0 1.6 0a0.8 0.8 0 1 0 -1.6 0M142.0 208.9m-0.8 0a0.8 0.8 0 1 0 1.6 0a0.8 0.8 0 1 0 -1.6 0M143.2 198.6m-0.8 0a0.8 0.8 0 1 0 1.6 0a0.8 0.8 0 1 0 -1.6 0M144.1 215.1m-0.8 0a0.8 0.8 0 1 0 1.6 0a0.8 0.8 0 1 0 -1.6 0M122.4 207.2m-0.8 0a0.8 0.8 0 1 0 1.6 0a0.8 0.8 0 1 0 -1.6 0M143.4 174.3m-0.8 0a0.8 0.8 0 1 0 1.6 0a0.8 0.8 0 1 0 -1.6 0M144.0 180.2m-0.8 0a0.8 0.8 0 1 0 1.6 0a0.8 0.8 0 1 0 -1.6 0M138.6 194.3m-0.8 0a0.8 0.8 0 1 0 1.6 0a0.8 0.8 0 1 0 -1.6 0M127.9 209.8m-0.8 0a0.8 0.8 0 1 0 1.6 0a0.8 0.8 0 1 0 -1.6 0M144.0 186.1m-0.8 0a0.8 0.8 0 1 0 1.6 0a0.8 0.8 0 1 0 -1.6 0M135.0 209.4m-0.8 0a0.8 0.8 0 1 0 1.6 0a0.8 0.8 0 1 0 -1.6 0M143.6 178.9m-0.8 0a0.8 0.8 0 1 0 1.6 0a0.8 0.8 0 1 0 -1.6 0M142.0 214.6m-0.8 0a0.8 0.8 0 1 0 1.6 0a0.8 0.8 0 1 0 -1.6 0M139.9 213.4m-0.8 0a0.8 0.8 0 1 0 1.6 0a0.8 0.8 0 1 0 -1.6 0M143.2 188.7m-0.8 0a0.8 0.8 0 1 0 1.6 0a0.8 0.8 0 1 0 -1.6 0M142.1 203.6m-0.8 0a0.8 0.8 0 1 0 1.6 0a0.8 0.8 0 1 0 -1.6 0M114.4 213.8m-0.8 0a0.8 0.8 0 1 0 1.6 0a0.8 0.8 0 1 0 -1.6 0M133.6 201.2m-0.8 0a0.8 0.8 0 1 0 1.6 0a0.8 0.8 0 1 0 -1.6 0M143.2 199.1m-0.8 0a0.8 0.8 0 1 0 1.6 0a0.8 0.8 0 1 0 -1.6 0M141.4 188.2m-0.8 0a0.8 0.8 0 1 0 1.6 0a0.8 0.8 0 1 0 -1.6 0M143.4 181.0m-0.8 0a0.8 0.8 0 1 0 1.6 0a0.8 0.8 0 1 0 -1.6 0M126.6 214.7m-0.8 0a0.8 0.8 0 1 0 1.6 0a0.8 0.8 0 1 0 -1.6 0M142.9 197.3m-0.8 0a0.8 0.8 0 1 0 1.6 0a0.8 0.8 0 1 0 -1.6 0M143.3 173.0m-0.8 0a0.8 0.8 0 1 0 1.6 0a0.8 0.8 0 1 0 -1.6 0M139.5 203.2m-0.8 0a0.8 0.8 0 1 0 1.6 0a0.8 0.8 0 1 0 -1.6 0M142.3 187.5m-0.8 0a0.8 0.8 0 1 0 1.6 0a0.8 0.8 0 1 0 -1.6 0M137.3 213.9m-0.8 0a0.8 0.8 0 1 0 1.6 0a0.8 0.8 0 1 0 -1.6 0M141.7 180.7m-0.8 0a0.8 0.8 0 1 0 1.6 0a0.8 0.8 0 1 0 -1.6 0M139.9 198.0m-0.8 0a0.8 0.8 0 1 0 1.6 0a0.8 0.8 0 1 0 -1.6 0M142.7 179.0m-0.8 0a0.8 0.8 0 1 0 1.6 0a0.8 0.8 0 1 0 -1.6 0M143.7 186.3m-0.8 0a0.8 0.8 0 1 0 1.6 0a0.8 0.8 0 1 0 -1.6 0M142.2 180.8m-0.8 0a0.8 0.8 0 1 0 1.6 0a0.8 0.8 0 1 0 -1.6 0M135.3 214.8m-0.8 0a0.8 0.8 0 1 0 1.6 0a0.8 0.8 0 1 0 -1.6 0M141.6 190.6m-0.8 0a0.8 0.8 0 1 0 1.6 0a0.8 0.8 0 1 0 -1.6 0M144.1 212.2m-0.8 0a0.8 0.8 0 1 0 1.6 0a0.8 0.8 0 1 0 -1.6 0M135.2 210.4m-0.8 0a0.8 0.8 0 1 0 1.6 0a0.8 0.8 0 1 0 -1.6 0M137.4 208.4m-0.8 0a0.8 0.8 0 1 0 1.6 0a0.8 0.8 0 1 0 -1.6 0M144.3 197.5m-0.8 0a0.8 0.8 0 1 0 1.6 0a0.8 0.8 0 1 0 -1.6 0M140.8 195.6m-0.8 0a0.8 0.8 0 1 0 1.6 0a0.8 0.8 0 1 0 -1.6 0M143.6 176.0m-0.8 0a0.8 0.8 0 1 0 1.6 0a0.8 0.8 0 1 0 -1.6 0M136.6 215.2m-0.8 0a0.8 0.8 0 1 0 1.6 0a0.8 0.8 0 1 0 -1.6 0M140.7 212.1m-0.8 0a0.8 0.8 0 1 0 1.6 0a0.8 0.8 0 1 0 -1.6 0M144.0 206.9m-0.8 0a0.8 0.8 0 1 0 1.6 0a0.8 0.8 0 1 0 -1.6 0M139.2 183.7m-0.8 0a0.8 0.8 0 1 0 1.6 0a0.8 0.8 0 1 0 -1.6 0M137.7 199.3m-0.8 0a0.8 0.8 0 1 0 1.6 0a0.8 0.8 0 1 0 -1.6 0M142.9 200.8m-0.8 0a0.8 0.8 0 1 0 1.6 0a0.8 0.8 0 1 0 -1.6 0M143.5 187.3m-0.8 0a0.8 0.8 0 1 0 1.6 0a0.8 0.8 0 1 0 -1.6 0M143.7 193.3m-0.8 0a0.8 0.8 0 1 0 1.6 0a0.8 0.8 0 1 0 -1.6 0M141.2 209.5m-0.8 0a0.8 0.8 0 1 0 1.6 0a0.8 0.8 0 1 0 -1.6 0M127.3 214.5m-0.8 0a0.8 0.8 0 1 0 1.6 0a0.8 0.8 0 1 0 -1.6 0M119.1 202.7m-0.8 0a0.8 0.8 0 1 0 1.6 0a0.8 0.8 0 1 0 -1.6 0M136.9 179.8m-0.8 0a0.8 0.8 0 1 0 1.6 0a0.8 0.8 0 1 0 -1.6 0M136.2 196.9m-0.8 0a0.8 0.8 0 1 0 1.6 0a0.8 0.8 0 1 0 -1.6 0M144.2 214.2m-0.8 0a0.8 0.8 0 1 0 1.6 0a0.8 0.8 0 1 0 -1.6 0M143.5 203.9m-0.8 0a0.8 0.8 0 1 0 1.6 0a0.8 0.8 0 1 0 -1.6 0M137.6 206.8m-0.8 0a0.8 0.8 0 1 0 1.6 0a0.8 0.8 0 1 0 -1.6 0M142.8 198.1m-0.8 0a0.8 0.8 0 1 0 1.6 0a0.8 0.8 0 1 0 -1.6 0M138.8 197.7m-0.8 0a0.8 0.8 0 1 0 1.6 0a0.8 0.8 0 1 0 -1.6 0M142.4 174.6m-0.8 0a0.8 0.8 0 1 0 1.6 0a0.8 0.8 0 1 0 -1.6 0M112.1 208.3m-0.8 0a0.8 0.8 0 1 0 1.6 0a0.8 0.8 0 1 0 -1.6 0M143.7 205.4m-0.8 0a0.8 0.8 0 1 0 1.6 0a0.8 0.8 0 1 0 -1.6 0M143.7 195.6m-0.8 0a0.8 0.8 0 1 0 1.6 0a0.8 0.8 0 1 0 -1.6 0M143.6 179.4m-0.8 0a0.8 0.8 0 1 0 1.6 0a0.8 0.8 0 1 0 -1.6 0M137.3 191.2m-0.8 0a0.8 0.8 0 1 0 1.6 0a0.8 0.8 0 1 0 -1.6 0M143.3 203.2m-0.8 0a0.8 0.8 0 1 0 1.6 0a0.8 0.8 0 1 0 -1.6 0M143.1 184.1m-0.8 0a0.8 0.8 0 1 0 1.6 0a0.8 0.8 0 1 0 -1.6 0M141.8 201.8m-0.8 0a0.8 0.8 0 1 0 1.6 0a0.8 0.8 0 1 0 -1.6 0M143.8 174.4m-0.8 0a0.8 0.8 0 1 0 1.6 0a0.8 0.8 0 1 0 -1.6 0M137.6 210.4m-0.8 0a0.8 0.8 0 1 0 1.6 0a0.8 0.8 0 1 0 -1.6 0M142.5 213.7m-0.8 0a0.8 0.8 0 1 0 1.6 0a0.8 0.8 0 1 0 -1.6 0M143.2 182.9m-0.8 0a0.8 0.8 0 1 0 1.6 0a0.8 0.8 0 1 0 -1.6 0M144.0 209.5m-0.8 0a0.8 0.8 0 1 0 1.6 0a0.8 0.8 0 1 0 -1.6 0M143.3 182.2m-0.8 0a0.8 0.8 0 1 0 1.6 0a0.8 0.8 0 1 0 -1.6 0M143.3 196.1m-0.8 0a0.8 0.8 0 1 0 1.6 0a0.8 0.8 0 1 0 -1.6 0M139.5 201.0m-0.8 0a0.8 0.8 0 1 0 1.6 0a0.8 0.8 0 1 0 -1.6 0M132.0 214.0m-0.8 0a0.8 0.8 0 1 0 1.6 0a0.8 0.8 0 1 0 -1.6 0M143.9 185.8m-0.8 0a0.8 0.8 0 1 0 1.6 0a0.8 0.8 0 1 0 -1.6 0M143.9 214.1m-0.8 0a0.8 0.8 0 1 0 1.6 0a0.8 0.8 0 1 0 -1.6 0M143.7 173.7m-0.8 0a0.8 0.8 0 1 0 1.6 0a0.8 0.8 0 1 0 -1.6 0M143.3 180.5m-0.8 0a0.8 0.8 0 1 0 1.6 0a0.8 0.8 0 1 0 -1.6 0M133.5 208.7m-0.8 0a0.8 0.8 0 1 0 1.6 0a0.8 0.8 0 1 0 -1.6 0M137.8 213.9m-0.8 0a0.8 0.8 0 1 0 1.6 0a0.8 0.8 0 1 0 -1.6 0M142.9 179.8m-0.8 0a0.8 0.8 0 1 0 1.6 0a0.8 0.8 0 1 0 -1.6 0M142.2 202.3m-0.8 0a0.8 0.8 0 1 0 1.6 0a0.8 0.8 0 1 0 -1.6 0M140.1 213.8m-0.8 0a0.8 0.8 0 1 0 1.6 0a0.8 0.8 0 1 0 -1.6 0M131.9 201.3m-0.8 0a0.8 0.8 0 1 0 1.6 0a0.8 0.8 0 1 0 -1.6 0M135.7 211.1m-0.8 0a0.8 0.8 0 1 0 1.6 0a0.8 0.8 0 1 0 -1.6 0M142.9 205.7m-0.8 0a0.8 0.8 0 1 0 1.6 0a0.8 0.8 0 1 0 -1.6 0M142.9 194.8m-0.8 0a0.8 0.8 0 1 0 1.6 0a0.8 0.8 0 1 0 -1.6 0M143.6 177.4m-0.8 0a0.8 0.8 0 1 0 1.6 0a0.8 0.8 0 1 0 -1.6 0M143.8 185.5m-0.8 0a0.8 0.8 0 1 0 1.6 0a0.8 0.8 0 1 0 -1.6 0M129.1 213.4m-0.8 0a0.8 0.8 0 1 0 1.6 0a0.8 0.8 0 1 0 -1.6 0M143.8 202.6m-0.8 0a0.8 0.8 0 1 0 1.6 0a0.8 0.8 0 1 0 -1.6 0M141.9 202.1m-0.8 0a0.8 0.8 0 1 0 1.6 0a0.8 0.8 0 1 0 -1.6 0M143.7 171.9m-0.8 0a0.8 0.8 0 1 0 1.6 0a0.8 0.8 0 1 0 -1.6 0M125.0 214.7m-0.8 0a0.8 0.8 0 1 0 1.6 0a0.8 0.8 0 1 0 -1.6 0M141.5 201.2m-0.8 0a0.8 0.8 0 1 0 1.6 0a0.8 0.8 0 1 0 -1.6 0M143.9 177.9m-0.8 0a0.8 0.8 0 1 0 1.6 0a0.8 0.8 0 1 0 -1.6 0M137.2 205.6m-0.8 0a0.8 0.8 0 1 0 1.6 0a0.8 0.8 0 1 0 -1.6 0M126.6 211.0m-0.8 0a0.8 0.8 0 1 0 1.6 0a0.8 0.8 0 1 0 -1.6 0M141.4 198.5m-0.8 0a0.8 0.8 0 1 0 1.6 0a0.8 0.8 0 1 0 -1.6 0M139.2 208.7m-0.8 0a0.8 0.8 0 1 0 1.6 0a0.8 0.8 0 1 0 -1.6 0M144.1 176.2m-0.8 0a0.8 0.8 0 1 0 1.6 0a0.8 0.8 0 1 0 -1.6 0M137.9 214.0m-0.8 0a0.8 0.8 0 1 0 1.6 0a0.8 0.8 0 1 0 -1.6 0M133.7 212.2m-0.8 0a0.8 0.8 0 1 0 1.6 0a0.8 0.8 0 1 0 -1.6 0M143.8 213.9m-0.8 0a0.8 0.8 0 1 0 1.6 0a0.8 0.8 0 1 0 -1.6 0M142.0 190.4m-0.8 0a0.8 0.8 0 1 0 1.6 0a0.8 0.8 0 1 0 -1.6 0M138.7 209.2m-0.8 0a0.8 0.8 0 1 0 1.6 0a0.8 0.8 0 1 0 -1.6 0M141.3 178.8m-0.8 0a0.8 0.8 0 1 0 1.6 0a0.8 0.8 0 1 0 -1.6 0M143.4 178.5m-0.8 0a0.8 0.8 0 1 0 1.6 0a0.8 0.8 0 1 0 -1.6 0M142.5 175.8m-0.8 0a0.8 0.8 0 1 0 1.6 0a0.8 0.8 0 1 0 -1.6 0M142.8 211.0m-0.8 0a0.8 0.8 0 1 0 1.6 0a0.8 0.8 0 1 0 -1.6 0M138.2 215.1m-0.8 0a0.8 0.8 0 1 0 1.6 0a0.8 0.8 0 1 0 -1.6 0M144.0 206.5m-0.8 0a0.8 0.8 0 1 0 1.6 0a0.8 0.8 0 1 0 -1.6 0M144.2 174.6m-0.8 0a0.8 0.8 0 1 0 1.6 0a0.8 0.8 0 1 0 -1.6 0M142.2 186.9m-0.8 0a0.8 0.8 0 1 0 1.6 0a0.8 0.8 0 1 0 -1.6 0M142.5 191.3m-0.8 0a0.8 0.8 0 1 0 1.6 0a0.8 0.8 0 1 0 -1.6 0M142.9 177.6m-0.8 0a0.8 0.8 0 1 0 1.6 0a0.8 0.8 0 1 0 -1.6 0M143.8 173.9m-0.8 0a0.8 0.8 0 1 0 1.6 0a0.8 0.8 0 1 0 -1.6 0M144.0 189.8m-0.8 0a0.8 0.8 0 1 0 1.6 0a0.8 0.8 0 1 0 -1.6 0M144.2 180.6m-0.8 0a0.8 0.8 0 1 0 1.6 0a0.8 0.8 0 1 0 -1.6 0M141.2 182.7m-0.8 0a0.8 0.8 0 1 0 1.6 0a0.8 0.8 0 1 0 -1.6 0M144.0 207.5m-0.8 0a0.8 0.8 0 1 0 1.6 0a0.8 0.8 0 1 0 -1.6 0M134.7 213.9m-0.8 0a0.8 0.8 0 1 0 1.6 0a0.8 0.8 0 1 0 -1.6 0M142.1 189.1m-0.8 0a0.8 0.8 0 1 0 1.6 0a0.8 0.8 0 1 0 -1.6 0M144.2 213.5m-0.8 0a0.8 0.8 0 1 0 1.6 0a0.8 0.8 0 1 0 -1.6 0M123.7 206.0m-0.8 0a0.8 0.8 0 1 0 1.6 0a0.8 0.8 0 1 0 -1.6 0M144.0 171.9m-0.8 0a0.8 0.8 0 1 0 1.6 0a0.8 0.8 0 1 0 -1.6 0M140.7 198.5m-0.8 0a0.8 0.8 0 1 0 1.6 0a0.8 0.8 0 1 0 -1.6 0M142.9 200.8m-0.8 0a0.8 0.8 0 1 0 1.6 0a0.8 0.8 0 1 0 -1.6 0M142.9 174.7m-0.8 0a0.8 0.8 0 1 0 1.6 0a0.8 0.8 0 1 0 -1.6 0M143.0 209.8m-0.8 0a0.8 0.8 0 1 0 1.6 0a0.8 0.8 0 1 0 -1.6 0M140.6 171.0m-0.8 0a0.8 0.8 0 1 0 1.6 0a0.8 0.8 0 1 0 -1.6 0M143.3 177.9m-0.8 0a0.8 0.8 0 1 0 1.6 0a0.8 0.8 0 1 0 -1.6 0M140.2 207.2m-0.8 0a0.8 0.8 0 1 0 1.6 0a0.8 0.8 0 1 0 -1.6 0M139.1 208.2m-0.8 0a0.8 0.8 0 1 0 1.6 0a0.8 0.8 0 1 0 -1.6 0M136.5 214.1m-0.8 0a0.8 0.8 0 1 0 1.6 0a0.8 0.8 0 1 0 -1.6 0M143.5 177.6m-0.8 0a0.8 0.8 0 1 0 1.6 0a0.8 0.8 0 1 0 -1.6 0M138.1 215.3m-0.8 0a0.8 0.8 0 1 0 1.6 0a0.8 0.8 0 1 0 -1.6 0M143.9 179.1m-0.8 0a0.8 0.8 0 1 0 1.6 0a0.8 0.8 0 1 0 -1.6 0M143.9 197.2m-0.8 0a0.8 0.8 0 1 0 1.6 0a0.8 0.8 0 1 0 -1.6 0M135.9 192.6m-0.8 0a0.8 0.8 0 1 0 1.6 0a0.8 0.8 0 1 0 -1.6 0M134.6 189.7m-0.8 0a0.8 0.8 0 1 0 1.6 0a0.8 0.8 0 1 0 -1.6 0M142.2 214.3m-0.8 0a0.8 0.8 0 1 0 1.6 0a0.8 0.8 0 1 0 -1.6 0M137.0 214.4m-0.8 0a0.8 0.8 0 1 0 1.6 0a0.8 0.8 0 1 0 -1.6 0M138.9 201.3m-0.8 0a0.8 0.8 0 1 0 1.6 0a0.8 0.8 0 1 0 -1.6 0M124.3 214.6m-0.8 0a0.8 0.8 0 1 0 1.6 0a0.8 0.8 0 1 0 -1.6 0M141.0 201.5m-0.8 0a0.8 0.8 0 1 0 1.6 0a0.8 0.8 0 1 0 -1.6 0M143.1 188.6m-0.8 0a0.8 0.8 0 1 0 1.6 0a0.8 0.8 0 1 0 -1.6 0M144.0 193.3m-0.8 0a0.8 0.8 0 1 0 1.6 0a0.8 0.8 0 1 0 -1.6 0M138.1 195.4m-0.8 0a0.8 0.8 0 1 0 1.6 0a0.8 0.8 0 1 0 -1.6 0M119.1 215.0m-0.8 0a0.8 0.8 0 1 0 1.6 0a0.8 0.8 0 1 0 -1.6 0M143.7 210.9m-0.8 0a0.8 0.8 0 1 0 1.6 0a0.8 0.8 0 1 0 -1.6 0M142.6 178.7m-0.8 0a0.8 0.8 0 1 0 1.6 0a0.8 0.8 0 1 0 -1.6 0M123.6 213.5m-0.8 0a0.8 0.8 0 1 0 1.6 0a0.8 0.8 0 1 0 -1.6 0M144.2 199.7m-0.8 0a0.8 0.8 0 1 0 1.6 0a0.8 0.8 0 1 0 -1.6 0M141.7 215.1m-0.8 0a0.8 0.8 0 1 0 1.6 0a0.8 0.8 0 1 0 -1.6 0M140.6 175.8m-0.8 0a0.8 0.8 0 1 0 1.6 0a0.8 0.8 0 1 0 -1.6 0M142.4 212.9m-0.8 0a0.8 0.8 0 1 0 1.6 0a0.8 0.8 0 1 0 -1.6 0M133.8 205.6m-0.8 0a0.8 0.8 0 1 0 1.6 0a0.8 0.8 0 1 0 -1.6 0M126.3 199.7m-0.8 0a0.8 0.8 0 1 0 1.6 0a0.8 0.8 0 1 0 -1.6 0M144.1 189.9m-0.8 0a0.8 0.8 0 1 0 1.6 0a0.8 0.8 0 1 0 -1.6 0M141.4 175.5m-0.8 0a0.8 0.8 0 1 0 1.6 0a0.8 0.8 0 1 0 -1.6 0M138.7 189.0m-0.8 0a0.8 0.8 0 1 0 1.6 0a0.8 0.8 0 1 0 -1.6 0M132.6 207.4m-0.8 0a0.8 0.8 0 1 0 1.6 0a0.8 0.8 0 1 0 -1.6 0M137.7 213.9m-0.8 0a0.8 0.8 0 1 0 1.6 0a0.8 0.8 0 1 0 -1.6 0M140.9 191.2m-0.8 0a0.8 0.8 0 1 0 1.6 0a0.8 0.8 0 1 0 -1.6 0M143.8 173.5m-0.8 0a0.8 0.8 0 1 0 1.6 0a0.8 0.8 0 1 0 -1.6 0M137.2 214.8m-0.8 0a0.8 0.8 0 1 0 1.6 0a0.8 0.8 0 1 0 -1.6 0M144.0 186.3m-0.8 0a0.8 0.8 0 1 0 1.6 0a0.8 0.8 0 1 0 -1.6 0M118.7 212.9m-0.8 0a0.8 0.8 0 1 0 1.6 0a0.8 0.8 0 1 0 -1.6 0M143.0 203.3m-0.8 0a0.8 0.8 0 1 0 1.6 0a0.8 0.8 0 1 0 -1.6 0M142.5 200.2m-0.8 0a0.8 0.8 0 1 0 1.6 0a0.8 0.8 0 1 0 -1.6 0M139.7 196.4m-0.8 0a0.8 0.8 0 1 0 1.6 0a0.8 0.8 0 1 0 -1.6 0M141.3 172.6m-0.8 0a0.8 0.8 0 1 0 1.6 0a0.8 0.8 0 1 0 -1.6 0M141.8 192.3m-0.8 0a0.8 0.8 0 1 0 1.6 0a0.8 0.8 0 1 0 -1.6 0M143.7 206.4m-0.8 0a0.8 0.8 0 1 0 1.6 0a0.8 0.8 0 1 0 -1.6 0M141.8 190.3m-0.8 0a0.8 0.8 0 1 0 1.6 0a0.8 0.8 0 1 0 -1.6 0M138.6 202.8m-0.8 0a0.8 0.8 0 1 0 1.6 0a0.8 0.8 0 1 0 -1.6 0M139.4 205.4m-0.8 0a0.8 0.8 0 1 0 1.6 0a0.8 0.8 0 1 0 -1.6 0M139.0 206.7m-0.8 0a0.8 0.8 0 1 0 1.6 0a0.8 0.8 0 1 0 -1.6 0M142.4 202.0m-0.8 0a0.8 0.8 0 1 0 1.6 0a0.8 0.8 0 1 0 -1.6 0M138.3 210.6m-0.8 0a0.8 0.8 0 1 0 1.6 0a0.8 0.8 0 1 0 -1.6 0M123.1 213.5m-0.8 0a0.8 0.8 0 1 0 1.6 0a0.8 0.8 0 1 0 -1.6 0M140.5 204.0m-0.8 0a0.8 0.8 0 1 0 1.6 0a0.8 0.8 0 1 0 -1.6 0M119.7 209.7m-0.8 0a0.8 0.8 0 1 0 1.6 0a0.8 0.8 0 1 0 -1.6 0M139.7 183.0m-0.8 0a0.8 0.8 0 1 0 1.6 0a0.8 0.8 0 1 0 -1.6 0M137.4 182.3m-0.8 0a0.8 0.8 0 1 0 1.6 0a0.8 0.8 0 1 0 -1.6 0M139.0 208.0m-0.8 0a0.8 0.8 0 1 0 1.6 0a0.8 0.8 0 1 0 -1.6 0M143.5 196.0m-0.8 0a0.8 0.8 0 1 0 1.6 0a0.8 0.8 0 1 0 -1.6 0M143.2 178.5m-0.8 0a0.8 0.8 0 1 0 1.6 0a0.8 0.8 0 1 0 -1.6 0M141.8 207.7m-0.8 0a0.8 0.8 0 1 0 1.6 0a0.8 0.8 0 1 0 -1.6 0M143.9 199.3m-0.8 0a0.8 0.8 0 1 0 1.6 0a0.8 0.8 0 1 0 -1.6 0M137.6 203.6m-0.8 0a0.8 0.8 0 1 0 1.6 0a0.8 0.8 0 1 0 -1.6 0M142.6 193.7m-0.8 0a0.8 0.8 0 1 0 1.6 0a0.8 0.8 0 1 0 -1.6 0M143.7 174.2m-0.8 0a0.8 0.8 0 1 0 1.6 0a0.8 0.8 0 1 0 -1.6 0M143.7 213.2m-0.8 0a0.8 0.8 0 1 0 1.6 0a0.8 0.8 0 1 0 -1.6 0" fill="#5230A8"/>
<path d="M103.5 206.5m-0.8 0a0.8 0.8 0 1 0 1.6 0a0.8 0.8 0 1 0 -1.6 0M112.0 211.0m-0.8 0a0.8 0.8 0 1 0 1.6 0a0.8 0.8 0 1 0 -1.6 0M118.0 209.0m-0.8 0a0.8 0.8 0 1 0 1.6 0a0.8 0.8 0 1 0 -1.6 0M125.0 199.0m-0.8 0a0.8 0.8 0 1 0 1.6 0a0.8 0.8 0 1 0 -1.6 0M143.0 144.5m-0.8 0a0.8 0.8 0 1 0 1.6 0a0.8 0.8 0 1 0 -1.6 0M141.0 153.0m-0.8 0a0.8 0.8 0 1 0 1.6 0a0.8 0.8 0 1 0 -1.6 0M139.0 160.0m-0.8 0a0.8 0.8 0 1 0 1.6 0a0.8 0.8 0 1 0 -1.6 0M142.0 165.0m-0.8 0a0.8 0.8 0 1 0 1.6 0a0.8 0.8 0 1 0 -1.6 0M136.0 178.0m-0.8 0a0.8 0.8 0 1 0 1.6 0a0.8 0.8 0 1 0 -1.6 0M133.0 186.0m-0.8 0a0.8 0.8 0 1 0 1.6 0a0.8 0.8 0 1 0 -1.6 0M128.0 196.0m-0.8 0a0.8 0.8 0 1 0 1.6 0a0.8 0.8 0 1 0 -1.6 0M121.0 203.0m-0.8 0a0.8 0.8 0 1 0 1.6 0a0.8 0.8 0 1 0 -1.6 0M140.0 170.0m-0.8 0a0.8 0.8 0 1 0 1.6 0a0.8 0.8 0 1 0 -1.6 0M137.0 175.0m-0.8 0a0.8 0.8 0 1 0 1.6 0a0.8 0.8 0 1 0 -1.6 0M142.5 162.0m-0.8 0a0.8 0.8 0 1 0 1.6 0a0.8 0.8 0 1 0 -1.6 0" fill="#5230A8"/>
<path d="M166.1 208.3m-0.9 0a0.9 0.9 0 1 0 1.8 0a0.9 0.9 0 1 0 -1.8 0M165.0 169.3m-0.9 0a0.9 0.9 0 1 0 1.8 0a0.9 0.9 0 1 0 -1.8 0M179.8 214.2m-0.9 0a0.9 0.9 0 1 0 1.8 0a0.9 0.9 0 1 0 -1.8 0M162.5 208.9m-0.9 0a0.9 0.9 0 1 0 1.8 0a0.9 0.9 0 1 0 -1.8 0M167.0 176.7m-0.9 0a0.9 0.9 0 1 0 1.8 0a0.9 0.9 0 1 0 -1.8 0M180.6 206.9m-0.9 0a0.9 0.9 0 1 0 1.8 0a0.9 0.9 0 1 0 -1.8 0M161.7 205.4m-0.9 0a0.9 0.9 0 1 0 1.8 0a0.9 0.9 0 1 0 -1.8 0M164.0 163.3m-0.9 0a0.9 0.9 0 1 0 1.8 0a0.9 0.9 0 1 0 -1.8 0M158.7 176.2m-0.9 0a0.9 0.9 0 1 0 1.8 0a0.9 0.9 0 1 0 -1.8 0M158.0 195.1m-0.9 0a0.9 0.9 0 1 0 1.8 0a0.9 0.9 0 1 0 -1.8 0M178.6 210.2m-0.9 0a0.9 0.9 0 1 0 1.8 0a0.9 0.9 0 1 0 -1.8 0M164.7 204.2m-0.9 0a0.9 0.9 0 1 0 1.8 0a0.9 0.9 0 1 0 -1.8 0M160.3 161.8m-0.9 0a0.9 0.9 0 1 0 1.8 0a0.9 0.9 0 1 0 -1.8 0M160.2 174.2m-0.9 0a0.9 0.9 0 1 0 1.8 0a0.9 0.9 0 1 0 -1.8 0M158.5 212.8m-0.9 0a0.9 0.9 0 1 0 1.8 0a0.9 0.9 0 1 0 -1.8 0M166.8 179.6m-0.9 0a0.9 0.9 0 1 0 1.8 0a0.9 0.9 0 1 0 -1.8 0M159.6 199.2m-0.9 0a0.9 0.9 0 1 0 1.8 0a0.9 0.9 0 1 0 -1.8 0M180.2 178.8m-0.9 0a0.9 0.9 0 1 0 1.8 0a0.9 0.9 0 1 0 -1.8 0M161.4 202.7m-0.9 0a0.9 0.9 0 1 0 1.8 0a0.9 0.9 0 1 0 -1.8 0M166.5 210.6m-0.9 0a0.9 0.9 0 1 0 1.8 0a0.9 0.9 0 1 0 -1.8 0M187.5 214.3m-0.9 0a0.9 0.9 0 1 0 1.8 0a0.9 0.9 0 1 0 -1.8 0M158.5 203.3m-0.9 0a0.9 0.9 0 1 0 1.8 0a0.9 0.9 0 1 0 -1.8 0M164.9 169.8m-0.9 0a0.9 0.9 0 1 0 1.8 0a0.9 0.9 0 1 0 -1.8 0M159.5 168.1m-0.9 0a0.9 0.9 0 1 0 1.8 0a0.9 0.9 0 1 0 -1.8 0M161.2 181.0m-0.9 0a0.9 0.9 0 1 0 1.8 0a0.9 0.9 0 1 0 -1.8 0M167.9 177.3m-0.9 0a0.9 0.9 0 1 0 1.8 0a0.9 0.9 0 1 0 -1.8 0M166.8 208.3m-0.9 0a0.9 0.9 0 1 0 1.8 0a0.9 0.9 0 1 0 -1.8 0M158.3 200.0m-0.9 0a0.9 0.9 0 1 0 1.8 0a0.9 0.9 0 1 0 -1.8 0M159.7 167.6m-0.9 0a0.9 0.9 0 1 0 1.8 0a0.9 0.9 0 1 0 -1.8 0M158.5 161.7m-0.9 0a0.9 0.9 0 1 0 1.8 0a0.9 0.9 0 1 0 -1.8 0M158.1 195.0m-0.9 0a0.9 0.9 0 1 0 1.8 0a0.9 0.9 0 1 0 -1.8 0M160.8 175.0m-0.9 0a0.9 0.9 0 1 0 1.8 0a0.9 0.9 0 1 0 -1.8 0M159.5 165.6m-0.9 0a0.9 0.9 0 1 0 1.8 0a0.9 0.9 0 1 0 -1.8 0M163.2 160.9m-0.9 0a0.9 0.9 0 1 0 1.8 0a0.9 0.9 0 1 0 -1.8 0M162.2 203.3m-0.9 0a0.9 0.9 0 1 0 1.8 0a0.9 0.9 0 1 0 -1.8 0M158.7 183.0m-0.9 0a0.9 0.9 0 1 0 1.8 0a0.9 0.9 0 1 0 -1.8 0M178.1 198.6m-0.9 0a0.9 0.9 0 1 0 1.8 0a0.9 0.9 0 1 0 -1.8 0M159.1 193.9m-0.9 0a0.9 0.9 0 1 0 1.8 0a0.9 0.9 0 1 0 -1.8 0M164.0 194.3m-0.9 0a0.9 0.9 0 1 0 1.8 0a0.9 0.9 0 1 0 -1.8 0M161.2 204.1m-0.9 0a0.9 0.9 0 1 0 1.8 0a0.9 0.9 0 1 0 -1.8 0M159.7 214.9m-0.9 0a0.9 0.9 0 1 0 1.8 0a0.9 0.9 0 1 0 -1.8 0M161.0 175.7m-0.9 0a0.9 0.9 0 1 0 1.8 0a0.9 0.9 0 1 0 -1.8 0M160.8 180.4m-0.9 0a0.9 0.9 0 1 0 1.8 0a0.9 0.9 0 1 0 -1.8 0M158.0 171.4m-0.9 0a0.9 0.9 0 1 0 1.8 0a0.9 0.9 0 1 0 -1.8 0M181.4 209.9m-0.9 0a0.9 0.9 0 1 0 1.8 0a0.9 0.9 0 1 0 -1.8 0M174.6 205.6m-0.9 0a0.9 0.9 0 1 0 1.8 0a0.9 0.9 0 1 0 -1.8 0M160.2 186.6m-0.9 0a0.9 0.9 0 1 0 1.8 0a0.9 0.9 0 1 0 -1.8 0M160.7 165.3m-0.9 0a0.9 0.9 0 1 0 1.8 0a0.9 0.9 0 1 0 -1.8 0M169.7 194.0m-0.9 0a0.9 0.9 0 1 0 1.8 0a0.9 0.9 0 1 0 -1.8 0M181.8 207.4m-0.9 0a0.9 0.9 0 1 0 1.8 0a0.9 0.9 0 1 0 -1.8 0M180.4 186.6m-0.9 0a0.9 0.9 0 1 0 1.8 0a0.9 0.9 0 1 0 -1.8 0M161.1 163.5m-0.9 0a0.9 0.9 0 1 0 1.8 0a0.9 0.9 0 1 0 -1.8 0M164.4 169.5m-0.9 0a0.9 0.9 0 1 0 1.8 0a0.9 0.9 0 1 0 -1.8 0M164.1 167.4m-0.9 0a0.9 0.9 0 1 0 1.8 0a0.9 0.9 0 1 0 -1.8 0M174.9 197.6m-0.9 0a0.9 0.9 0 1 0 1.8 0a0.9 0.9 0 1 0 -1.8 0M162.0 204.3m-0.9 0a0.9 0.9 0 1 0 1.8 0a0.9 0.9 0 1 0 -1.8 0M163.4 169.9m-0.9 0a0.9 0.9 0 1 0 1.8 0a0.9 0.9 0 1 0 -1.8 0M164.8 174.3m-0.9 0a0.9 0.9 0 1 0 1.8 0a0.9 0.9 0 1 0 -1.8 0M172.9 170.3m-0.9 0a0.9 0.9 0 1 0 1.8 0a0.9 0.9 0 1 0 -1.8 0M160.1 197.9m-0.9 0a0.9 0.9 0 1 0 1.8 0a0.9 0.9 0 1 0 -1.8 0M163.7 203.4m-0.9 0a0.9 0.9 0 1 0 1.8 0a0.9 0.9 0 1 0 -1.8 0M176.4 206.2m-0.9 0a0.9 0.9 0 1 0 1.8 0a0.9 0.9 0 1 0 -1.8 0M161.2 169.8m-0.9 0a0.9 0.9 0 1 0 1.8 0a0.9 0.9 0 1 0 -1.8 0M162.9 166.6m-0.9 0a0.9 0.9 0 1 0 1.8 0a0.9 0.9 0 1 0 -1.8 0M159.8 199.4m-0.9 0a0.9 0.9 0 1 0 1.8 0a0.9 0.9 0 1 0 -1.8 0M159.8 168.7m-0.9 0a0.9 0.9 0 1 0 1.8 0a0.9 0.9 0 1 0 -1.8 0M158.4 198.9m-0.9 0a0.9 0.9 0 1 0 1.8 0a0.9 0.9 0 1 0 -1.8 0M172.8 195.5m-0.9 0a0.9 0.9 0 1 0 1.8 0a0.9 0.9 0 1 0 -1.8 0M158.8 188.0m-0.9 0a0.9 0.9 0 1 0 1.8 0a0.9 0.9 0 1 0 -1.8 0M162.5 207.1m-0.9 0a0.9 0.9 0 1 0 1.8 0a0.9 0.9 0 1 0 -1.8 0M162.0 204.0m-0.9 0a0.9 0.9 0 1 0 1.8 0a0.9 0.9 0 1 0 -1.8 0M160.9 204.8m-0.9 0a0.9 0.9 0 1 0 1.8 0a0.9 0.9 0 1 0 -1.8 0M158.3 204.9m-0.9 0a0.9 0.9 0 1 0 1.8 0a0.9 0.9 0 1 0 -1.8 0M161.2 191.7m-0.9 0a0.9 0.9 0 1 0 1.8 0a0.9 0.9 0 1 0 -1.8 0M162.7 212.3m-0.9 0a0.9 0.9 0 1 0 1.8 0a0.9 0.9 0 1 0 -1.8 0M158.8 174.8m-0.9 0a0.9 0.9 0 1 0 1.8 0a0.9 0.9 0 1 0 -1.8 0M161.5 208.8m-0.9 0a0.9 0.9 0 1 0 1.8 0a0.9 0.9 0 1 0 -1.8 0M162.6 195.1m-0.9 0a0.9 0.9 0 1 0 1.8 0a0.9 0.9 0 1 0 -1.8 0M160.8 183.8m-0.9 0a0.9 0.9 0 1 0 1.8 0a0.9 0.9 0 1 0 -1.8 0M176.2 210.0m-0.9 0a0.9 0.9 0 1 0 1.8 0a0.9 0.9 0 1 0 -1.8 0M158.7 197.1m-0.9 0a0.9 0.9 0 1 0 1.8 0a0.9 0.9 0 1 0 -1.8 0M174.9 188.5m-0.9 0a0.9 0.9 0 1 0 1.8 0a0.9 0.9 0 1 0 -1.8 0M162.7 188.8m-0.9 0a0.9 0.9 0 1 0 1.8 0a0.9 0.9 0 1 0 -1.8 0M166.2 168.0m-0.9 0a0.9 0.9 0 1 0 1.8 0a0.9 0.9 0 1 0 -1.8 0M162.2 175.3m-0.9 0a0.9 0.9 0 1 0 1.8 0a0.9 0.9 0 1 0 -1.8 0M163.2 210.7m-0.9 0a0.9 0.9 0 1 0 1.8 0a0.9 0.9 0 1 0 -1.8 0M174.0 172.3m-0.9 0a0.9 0.9 0 1 0 1.8 0a0.9 0.9 0 1 0 -1.8 0M170.4 189.3m-0.9 0a0.9 0.9 0 1 0 1.8 0a0.9 0.9 0 1 0 -1.8 0M168.7 181.3m-0.9 0a0.9 0.9 0 1 0 1.8 0a0.9 0.9 0 1 0 -1.8 0M199.1 210.0m-0.9 0a0.9 0.9 0 1 0 1.8 0a0.9 0.9 0 1 0 -1.8 0M162.8 193.8m-0.9 0a0.9 0.9 0 1 0 1.8 0a0.9 0.9 0 1 0 -1.8 0M159.2 180.2m-0.9 0a0.9 0.9 0 1 0 1.8 0a0.9 0.9 0 1 0 -1.8 0M159.4 174.0m-0.9 0a0.9 0.9 0 1 0 1.8 0a0.9 0.9 0 1 0 -1.8 0M164.7 174.0m-0.9 0a0.9 0.9 0 1 0 1.8 0a0.9 0.9 0 1 0 -1.8 0M170.1 206.6m-0.9 0a0.9 0.9 0 1 0 1.8 0a0.9 0.9 0 1 0 -1.8 0M158.7 171.6m-0.9 0a0.9 0.9 0 1 0 1.8 0a0.9 0.9 0 1 0 -1.8 0M163.8 188.0m-0.9 0a0.9 0.9 0 1 0 1.8 0a0.9 0.9 0 1 0 -1.8 0M164.8 181.8m-0.9 0a0.9 0.9 0 1 0 1.8 0a0.9 0.9 0 1 0 -1.8 0M158.7 171.0m-0.9 0a0.9 0.9 0 1 0 1.8 0a0.9 0.9 0 1 0 -1.8 0M191.4 197.4m-0.9 0a0.9 0.9 0 1 0 1.8 0a0.9 0.9 0 1 0 -1.8 0M170.1 166.3m-0.9 0a0.9 0.9 0 1 0 1.8 0a0.9 0.9 0 1 0 -1.8 0M168.7 169.1m-0.9 0a0.9 0.9 0 1 0 1.8 0a0.9 0.9 0 1 0 -1.8 0M159.2 173.5m-0.9 0a0.9 0.9 0 1 0 1.8 0a0.9 0.9 0 1 0 -1.8 0M162.2 198.6m-0.9 0a0.9 0.9 0 1 0 1.8 0a0.9 0.9 0 1 0 -1.8 0M160.5 190.6m-0.9 0a0.9 0.9 0 1 0 1.8 0a0.9 0.9 0 1 0 -1.8 0M158.5 208.9m-0.9 0a0.9 0.9 0 1 0 1.8 0a0.9 0.9 0 1 0 -1.8 0M160.6 176.4m-0.9 0a0.9 0.9 0 1 0 1.8 0a0.9 0.9 0 1 0 -1.8 0M158.8 167.8m-0.9 0a0.9 0.9 0 1 0 1.8 0a0.9 0.9 0 1 0 -1.8 0M169.7 209.3m-0.9 0a0.9 0.9 0 1 0 1.8 0a0.9 0.9 0 1 0 -1.8 0M160.6 177.7m-0.9 0a0.9 0.9 0 1 0 1.8 0a0.9 0.9 0 1 0 -1.8 0M165.1 180.3m-0.9 0a0.9 0.9 0 1 0 1.8 0a0.9 0.9 0 1 0 -1.8 0M162.6 214.6m-0.9 0a0.9 0.9 0 1 0 1.8 0a0.9 0.9 0 1 0 -1.8 0M161.2 166.1m-0.9 0a0.9 0.9 0 1 0 1.8 0a0.9 0.9 0 1 0 -1.8 0M169.5 193.1m-0.9 0a0.9 0.9 0 1 0 1.8 0a0.9 0.9 0 1 0 -1.8 0M162.5 204.1m-0.9 0a0.9 0.9 0 1 0 1.8 0a0.9 0.9 0 1 0 -1.8 0M194.8 214.2m-0.9 0a0.9 0.9 0 1 0 1.8 0a0.9 0.9 0 1 0 -1.8 0M160.7 175.0m-0.9 0a0.9 0.9 0 1 0 1.8 0a0.9 0.9 0 1 0 -1.8 0M166.6 201.2m-0.9 0a0.9 0.9 0 1 0 1.8 0a0.9 0.9 0 1 0 -1.8 0M159.2 191.8m-0.9 0a0.9 0.9 0 1 0 1.8 0a0.9 0.9 0 1 0 -1.8 0M158.6 207.7m-0.9 0a0.9 0.9 0 1 0 1.8 0a0.9 0.9 0 1 0 -1.8 0M168.9 186.3m-0.9 0a0.9 0.9 0 1 0 1.8 0a0.9 0.9 0 1 0 -1.8 0M174.7 197.7m-0.9 0a0.9 0.9 0 1 0 1.8 0a0.9 0.9 0 1 0 -1.8 0M172.4 173.5m-0.9 0a0.9 0.9 0 1 0 1.8 0a0.9 0.9 0 1 0 -1.8 0M163.9 182.0m-0.9 0a0.9 0.9 0 1 0 1.8 0a0.9 0.9 0 1 0 -1.8 0M169.3 179.3m-0.9 0a0.9 0.9 0 1 0 1.8 0a0.9 0.9 0 1 0 -1.8 0M182.0 205.2m-0.9 0a0.9 0.9 0 1 0 1.8 0a0.9 0.9 0 1 0 -1.8 0M166.3 213.4m-0.9 0a0.9 0.9 0 1 0 1.8 0a0.9 0.9 0 1 0 -1.8 0M158.7 168.3m-0.9 0a0.9 0.9 0 1 0 1.8 0a0.9 0.9 0 1 0 -1.8 0M160.7 165.3m-0.9 0a0.9 0.9 0 1 0 1.8 0a0.9 0.9 0 1 0 -1.8 0M159.3 183.5m-0.9 0a0.9 0.9 0 1 0 1.8 0a0.9 0.9 0 1 0 -1.8 0M167.1 166.0m-0.9 0a0.9 0.9 0 1 0 1.8 0a0.9 0.9 0 1 0 -1.8 0M161.4 180.1m-0.9 0a0.9 0.9 0 1 0 1.8 0a0.9 0.9 0 1 0 -1.8 0M161.3 185.7m-0.9 0a0.9 0.9 0 1 0 1.8 0a0.9 0.9 0 1 0 -1.8 0M167.7 196.7m-0.9 0a0.9 0.9 0 1 0 1.8 0a0.9 0.9 0 1 0 -1.8 0M171.8 200.4m-0.9 0a0.9 0.9 0 1 0 1.8 0a0.9 0.9 0 1 0 -1.8 0M173.8 192.4m-0.9 0a0.9 0.9 0 1 0 1.8 0a0.9 0.9 0 1 0 -1.8 0M178.5 206.7m-0.9 0a0.9 0.9 0 1 0 1.8 0a0.9 0.9 0 1 0 -1.8 0M163.1 195.9m-0.9 0a0.9 0.9 0 1 0 1.8 0a0.9 0.9 0 1 0 -1.8 0M198.4 191.4m-0.9 0a0.9 0.9 0 1 0 1.8 0a0.9 0.9 0 1 0 -1.8 0M169.0 214.2m-0.9 0a0.9 0.9 0 1 0 1.8 0a0.9 0.9 0 1 0 -1.8 0M181.2 198.0m-0.9 0a0.9 0.9 0 1 0 1.8 0a0.9 0.9 0 1 0 -1.8 0M158.8 203.9m-0.9 0a0.9 0.9 0 1 0 1.8 0a0.9 0.9 0 1 0 -1.8 0M158.9 184.7m-0.9 0a0.9 0.9 0 1 0 1.8 0a0.9 0.9 0 1 0 -1.8 0M160.5 173.4m-0.9 0a0.9 0.9 0 1 0 1.8 0a0.9 0.9 0 1 0 -1.8 0M161.5 185.3m-0.9 0a0.9 0.9 0 1 0 1.8 0a0.9 0.9 0 1 0 -1.8 0M164.9 182.5m-0.9 0a0.9 0.9 0 1 0 1.8 0a0.9 0.9 0 1 0 -1.8 0M168.7 185.7m-0.9 0a0.9 0.9 0 1 0 1.8 0a0.9 0.9 0 1 0 -1.8 0M162.3 205.4m-0.9 0a0.9 0.9 0 1 0 1.8 0a0.9 0.9 0 1 0 -1.8 0M174.4 199.2m-0.9 0a0.9 0.9 0 1 0 1.8 0a0.9 0.9 0 1 0 -1.8 0M158.5 171.1m-0.9 0a0.9 0.9 0 1 0 1.8 0a0.9 0.9 0 1 0 -1.8 0M158.0 164.1m-0.9 0a0.9 0.9 0 1 0 1.8 0a0.9 0.9 0 1 0 -1.8 0M172.0 208.9m-0.9 0a0.9 0.9 0 1 0 1.8 0a0.9 0.9 0 1 0 -1.8 0M171.8 214.6m-0.9 0a0.9 0.9 0 1 0 1.8 0a0.9 0.9 0 1 0 -1.8 0M173.4 163.3m-0.9 0a0.9 0.9 0 1 0 1.8 0a0.9 0.9 0 1 0 -1.8 0M159.3 170.5m-0.9 0a0.9 0.9 0 1 0 1.8 0a0.9 0.9 0 1 0 -1.8 0M178.4 185.6m-0.9 0a0.9 0.9 0 1 0 1.8 0a0.9 0.9 0 1 0 -1.8 0M158.3 173.3m-0.9 0a0.9 0.9 0 1 0 1.8 0a0.9 0.9 0 1 0 -1.8 0M166.1 186.4m-0.9 0a0.9 0.9 0 1 0 1.8 0a0.9 0.9 0 1 0 -1.8 0M172.9 166.8m-0.9 0a0.9 0.9 0 1 0 1.8 0a0.9 0.9 0 1 0 -1.8 0M159.4 205.7m-0.9 0a0.9 0.9 0 1 0 1.8 0a0.9 0.9 0 1 0 -1.8 0M179.9 195.6m-0.9 0a0.9 0.9 0 1 0 1.8 0a0.9 0.9 0 1 0 -1.8 0M158.0 182.0m-0.9 0a0.9 0.9 0 1 0 1.8 0a0.9 0.9 0 1 0 -1.8 0M165.7 207.3m-0.9 0a0.9 0.9 0 1 0 1.8 0a0.9 0.9 0 1 0 -1.8 0M160.0 179.3m-0.9 0a0.9 0.9 0 1 0 1.8 0a0.9 0.9 0 1 0 -1.8 0M166.6 205.1m-0.9 0a0.9 0.9 0 1 0 1.8 0a0.9 0.9 0 1 0 -1.8 0M158.7 179.3m-0.9 0a0.9 0.9 0 1 0 1.8 0a0.9 0.9 0 1 0 -1.8 0M158.7 173.5m-0.9 0a0.9 0.9 0 1 0 1.8 0a0.9 0.9 0 1 0 -1.8 0M189.0 196.0m-0.9 0a0.9 0.9 0 1 0 1.8 0a0.9 0.9 0 1 0 -1.8 0M160.6 161.7m-0.9 0a0.9 0.9 0 1 0 1.8 0a0.9 0.9 0 1 0 -1.8 0M158.4 184.5m-0.9 0a0.9 0.9 0 1 0 1.8 0a0.9 0.9 0 1 0 -1.8 0M160.0 176.9m-0.9 0a0.9 0.9 0 1 0 1.8 0a0.9 0.9 0 1 0 -1.8 0M167.8 214.3m-0.9 0a0.9 0.9 0 1 0 1.8 0a0.9 0.9 0 1 0 -1.8 0M174.7 211.7m-0.9 0a0.9 0.9 0 1 0 1.8 0a0.9 0.9 0 1 0 -1.8 0M171.5 180.1m-0.9 0a0.9 0.9 0 1 0 1.8 0a0.9 0.9 0 1 0 -1.8 0M176.9 164.2m-0.9 0a0.9 0.9 0 1 0 1.8 0a0.9 0.9 0 1 0 -1.8 0M158.1 184.5m-0.9 0a0.9 0.9 0 1 0 1.8 0a0.9 0.9 0 1 0 -1.8 0M159.5 167.0m-0.9 0a0.9 0.9 0 1 0 1.8 0a0.9 0.9 0 1 0 -1.8 0M177.7 213.7m-0.9 0a0.9 0.9 0 1 0 1.8 0a0.9 0.9 0 1 0 -1.8 0M165.1 168.4m-0.9 0a0.9 0.9 0 1 0 1.8 0a0.9 0.9 0 1 0 -1.8 0M160.1 168.7m-0.9 0a0.9 0.9 0 1 0 1.8 0a0.9 0.9 0 1 0 -1.8 0M162.1 184.7m-0.9 0a0.9 0.9 0 1 0 1.8 0a0.9 0.9 0 1 0 -1.8 0M159.0 195.7m-0.9 0a0.9 0.9 0 1 0 1.8 0a0.9 0.9 0 1 0 -1.8 0M166.3 179.9m-0.9 0a0.9 0.9 0 1 0 1.8 0a0.9 0.9 0 1 0 -1.8 0M164.6 205.8m-0.9 0a0.9 0.9 0 1 0 1.8 0a0.9 0.9 0 1 0 -1.8 0M158.8 182.0m-0.9 0a0.9 0.9 0 1 0 1.8 0a0.9 0.9 0 1 0 -1.8 0M162.3 180.6m-0.9 0a0.9 0.9 0 1 0 1.8 0a0.9 0.9 0 1 0 -1.8 0M158.6 189.8m-0.9 0a0.9 0.9 0 1 0 1.8 0a0.9 0.9 0 1 0 -1.8 0M168.7 204.5m-0.9 0a0.9 0.9 0 1 0 1.8 0a0.9 0.9 0 1 0 -1.8 0M168.1 214.5m-0.9 0a0.9 0.9 0 1 0 1.8 0a0.9 0.9 0 1 0 -1.8 0M167.6 208.2m-0.9 0a0.9 0.9 0 1 0 1.8 0a0.9 0.9 0 1 0 -1.8 0M159.3 171.3m-0.9 0a0.9 0.9 0 1 0 1.8 0a0.9 0.9 0 1 0 -1.8 0M180.0 207.6m-0.9 0a0.9 0.9 0 1 0 1.8 0a0.9 0.9 0 1 0 -1.8 0M176.4 213.3m-0.9 0a0.9 0.9 0 1 0 1.8 0a0.9 0.9 0 1 0 -1.8 0M161.5 206.0m-0.9 0a0.9 0.9 0 1 0 1.8 0a0.9 0.9 0 1 0 -1.8 0M162.2 191.4m-0.9 0a0.9 0.9 0 1 0 1.8 0a0.9 0.9 0 1 0 -1.8 0M158.1 186.7m-0.9 0a0.9 0.9 0 1 0 1.8 0a0.9 0.9 0 1 0 -1.8 0M160.6 168.6m-0.9 0a0.9 0.9 0 1 0 1.8 0a0.9 0.9 0 1 0 -1.8 0M173.3 170.3m-0.9 0a0.9 0.9 0 1 0 1.8 0a0.9 0.9 0 1 0 -1.8 0M158.7 162.6m-0.9 0a0.9 0.9 0 1 0 1.8 0a0.9 0.9 0 1 0 -1.8 0M167.9 168.1m-0.9 0a0.9 0.9 0 1 0 1.8 0a0.9 0.9 0 1 0 -1.8 0M158.3 195.4m-0.9 0a0.9 0.9 0 1 0 1.8 0a0.9 0.9 0 1 0 -1.8 0M158.7 210.7m-0.9 0a0.9 0.9 0 1 0 1.8 0a0.9 0.9 0 1 0 -1.8 0M160.5 164.1m-0.9 0a0.9 0.9 0 1 0 1.8 0a0.9 0.9 0 1 0 -1.8 0M163.5 206.1m-0.9 0a0.9 0.9 0 1 0 1.8 0a0.9 0.9 0 1 0 -1.8 0M161.6 185.4m-0.9 0a0.9 0.9 0 1 0 1.8 0a0.9 0.9 0 1 0 -1.8 0M182.5 205.0m-0.9 0a0.9 0.9 0 1 0 1.8 0a0.9 0.9 0 1 0 -1.8 0M159.2 172.7m-0.9 0a0.9 0.9 0 1 0 1.8 0a0.9 0.9 0 1 0 -1.8 0M179.3 207.3m-0.9 0a0.9 0.9 0 1 0 1.8 0a0.9 0.9 0 1 0 -1.8 0M162.0 196.2m-0.9 0a0.9 0.9 0 1 0 1.8 0a0.9 0.9 0 1 0 -1.8 0M158.9 206.7m-0.9 0a0.9 0.9 0 1 0 1.8 0a0.9 0.9 0 1 0 -1.8 0M161.7 170.4m-0.9 0a0.9 0.9 0 1 0 1.8 0a0.9 0.9 0 1 0 -1.8 0M160.7 184.8m-0.9 0a0.9 0.9 0 1 0 1.8 0a0.9 0.9 0 1 0 -1.8 0M161.7 184.5m-0.9 0a0.9 0.9 0 1 0 1.8 0a0.9 0.9 0 1 0 -1.8 0M160.3 202.1m-0.9 0a0.9 0.9 0 1 0 1.8 0a0.9 0.9 0 1 0 -1.8 0M158.1 209.2m-0.9 0a0.9 0.9 0 1 0 1.8 0a0.9 0.9 0 1 0 -1.8 0M158.9 169.9m-0.9 0a0.9 0.9 0 1 0 1.8 0a0.9 0.9 0 1 0 -1.8 0M160.4 176.4m-0.9 0a0.9 0.9 0 1 0 1.8 0a0.9 0.9 0 1 0 -1.8 0M158.6 178.0m-0.9 0a0.9 0.9 0 1 0 1.8 0a0.9 0.9 0 1 0 -1.8 0M167.8 161.2m-0.9 0a0.9 0.9 0 1 0 1.8 0a0.9 0.9 0 1 0 -1.8 0M161.0 189.1m-0.9 0a0.9 0.9 0 1 0 1.8 0a0.9 0.9 0 1 0 -1.8 0M190.2 209.0m-0.9 0a0.9 0.9 0 1 0 1.8 0a0.9 0.9 0 1 0 -1.8 0M158.6 186.1m-0.9 0a0.9 0.9 0 1 0 1.8 0a0.9 0.9 0 1 0 -1.8 0M168.9 203.4m-0.9 0a0.9 0.9 0 1 0 1.8 0a0.9 0.9 0 1 0 -1.8 0M159.1 191.2m-0.9 0a0.9 0.9 0 1 0 1.8 0a0.9 0.9 0 1 0 -1.8 0M159.6 194.1m-0.9 0a0.9 0.9 0 1 0 1.8 0a0.9 0.9 0 1 0 -1.8 0M165.7 188.3m-0.9 0a0.9 0.9 0 1 0 1.8 0a0.9 0.9 0 1 0 -1.8 0M168.1 165.7m-0.9 0a0.9 0.9 0 1 0 1.8 0a0.9 0.9 0 1 0 -1.8 0M163.5 173.6m-0.9 0a0.9 0.9 0 1 0 1.8 0a0.9 0.9 0 1 0 -1.8 0M160.3 196.5m-0.9 0a0.9 0.9 0 1 0 1.8 0a0.9 0.9 0 1 0 -1.8 0M158.5 172.6m-0.9 0a0.9 0.9 0 1 0 1.8 0a0.9 0.9 0 1 0 -1.8 0M158.7 170.4m-0.9 0a0.9 0.9 0 1 0 1.8 0a0.9 0.9 0 1 0 -1.8 0M161.3 175.9m-0.9 0a0.9 0.9 0 1 0 1.8 0a0.9 0.9 0 1 0 -1.8 0M160.3 189.7m-0.9 0a0.9 0.9 0 1 0 1.8 0a0.9 0.9 0 1 0 -1.8 0M168.4 167.4m-0.9 0a0.9 0.9 0 1 0 1.8 0a0.9 0.9 0 1 0 -1.8 0M164.1 192.2m-0.9 0a0.9 0.9 0 1 0 1.8 0a0.9 0.9 0 1 0 -1.8 0M160.3 212.0m-0.9 0a0.9 0.9 0 1 0 1.8 0a0.9 0.9 0 1 0 -1.8 0M159.6 204.1m-0.9 0a0.9 0.9 0 1 0 1.8 0a0.9 0.9 0 1 0 -1.8 0M162.3 183.2m-0.9 0a0.9 0.9 0 1 0 1.8 0a0.9 0.9 0 1 0 -1.8 0M158.9 198.4m-0.9 0a0.9 0.9 0 1 0 1.8 0a0.9 0.9 0 1 0 -1.8 0M162.3 196.0m-0.9 0a0.9 0.9 0 1 0 1.8 0a0.9 0.9 0 1 0 -1.8 0M161.5 197.7m-0.9 0a0.9 0.9 0 1 0 1.8 0a0.9 0.9 0 1 0 -1.8 0M165.8 208.3m-0.9 0a0.9 0.9 0 1 0 1.8 0a0.9 0.9 0 1 0 -1.8 0M163.6 212.2m-0.9 0a0.9 0.9 0 1 0 1.8 0a0.9 0.9 0 1 0 -1.8 0M159.5 213.7m-0.9 0a0.9 0.9 0 1 0 1.8 0a0.9 0.9 0 1 0 -1.8 0M163.7 182.1m-0.9 0a0.9 0.9 0 1 0 1.8 0a0.9 0.9 0 1 0 -1.8 0M161.0 201.4m-0.9 0a0.9 0.9 0 1 0 1.8 0a0.9 0.9 0 1 0 -1.8 0M160.9 194.2m-0.9 0a0.9 0.9 0 1 0 1.8 0a0.9 0.9 0 1 0 -1.8 0M163.2 165.0m-0.9 0a0.9 0.9 0 1 0 1.8 0a0.9 0.9 0 1 0 -1.8 0M166.1 184.8m-0.9 0a0.9 0.9 0 1 0 1.8 0a0.9 0.9 0 1 0 -1.8 0M181.6 173.1m-0.9 0a0.9 0.9 0 1 0 1.8 0a0.9 0.9 0 1 0 -1.8 0M160.3 176.1m-0.9 0a0.9 0.9 0 1 0 1.8 0a0.9 0.9 0 1 0 -1.8 0M164.4 163.9m-0.9 0a0.9 0.9 0 1 0 1.8 0a0.9 0.9 0 1 0 -1.8 0M195.8 213.0m-0.9 0a0.9 0.9 0 1 0 1.8 0a0.9 0.9 0 1 0 -1.8 0M160.3 198.4m-0.9 0a0.9 0.9 0 1 0 1.8 0a0.9 0.9 0 1 0 -1.8 0M165.9 164.6m-0.9 0a0.9 0.9 0 1 0 1.8 0a0.9 0.9 0 1 0 -1.8 0M158.3 194.6m-0.9 0a0.9 0.9 0 1 0 1.8 0a0.9 0.9 0 1 0 -1.8 0M164.8 163.9m-0.9 0a0.9 0.9 0 1 0 1.8 0a0.9 0.9 0 1 0 -1.8 0M161.7 208.4m-0.9 0a0.9 0.9 0 1 0 1.8 0a0.9 0.9 0 1 0 -1.8 0M159.2 213.1m-0.9 0a0.9 0.9 0 1 0 1.8 0a0.9 0.9 0 1 0 -1.8 0M159.0 167.6m-0.9 0a0.9 0.9 0 1 0 1.8 0a0.9 0.9 0 1 0 -1.8 0M179.3 196.7m-0.9 0a0.9 0.9 0 1 0 1.8 0a0.9 0.9 0 1 0 -1.8 0M160.0 191.3m-0.9 0a0.9 0.9 0 1 0 1.8 0a0.9 0.9 0 1 0 -1.8 0M174.9 164.6m-0.9 0a0.9 0.9 0 1 0 1.8 0a0.9 0.9 0 1 0 -1.8 0M160.2 206.5m-0.9 0a0.9 0.9 0 1 0 1.8 0a0.9 0.9 0 1 0 -1.8 0M163.0 163.1m-0.9 0a0.9 0.9 0 1 0 1.8 0a0.9 0.9 0 1 0 -1.8 0M162.8 197.5m-0.9 0a0.9 0.9 0 1 0 1.8 0a0.9 0.9 0 1 0 -1.8 0M171.7 205.9m-0.9 0a0.9 0.9 0 1 0 1.8 0a0.9 0.9 0 1 0 -1.8 0M159.9 206.5m-0.9 0a0.9 0.9 0 1 0 1.8 0a0.9 0.9 0 1 0 -1.8 0M160.6 190.9m-0.9 0a0.9 0.9 0 1 0 1.8 0a0.9 0.9 0 1 0 -1.8 0M160.7 194.3m-0.9 0a0.9 0.9 0 1 0 1.8 0a0.9 0.9 0 1 0 -1.8 0M161.9 168.9m-0.9 0a0.9 0.9 0 1 0 1.8 0a0.9 0.9 0 1 0 -1.8 0M167.6 213.3m-0.9 0a0.9 0.9 0 1 0 1.8 0a0.9 0.9 0 1 0 -1.8 0M162.1 213.9m-0.9 0a0.9 0.9 0 1 0 1.8 0a0.9 0.9 0 1 0 -1.8 0M169.5 209.8m-0.9 0a0.9 0.9 0 1 0 1.8 0a0.9 0.9 0 1 0 -1.8 0M159.4 185.8m-0.9 0a0.9 0.9 0 1 0 1.8 0a0.9 0.9 0 1 0 -1.8 0M162.5 175.0m-0.9 0a0.9 0.9 0 1 0 1.8 0a0.9 0.9 0 1 0 -1.8 0M158.1 192.9m-0.9 0a0.9 0.9 0 1 0 1.8 0a0.9 0.9 0 1 0 -1.8 0M168.8 185.7m-0.9 0a0.9 0.9 0 1 0 1.8 0a0.9 0.9 0 1 0 -1.8 0M162.6 183.5m-0.9 0a0.9 0.9 0 1 0 1.8 0a0.9 0.9 0 1 0 -1.8 0M165.6 214.5m-0.9 0a0.9 0.9 0 1 0 1.8 0a0.9 0.9 0 1 0 -1.8 0M158.2 206.0m-0.9 0a0.9 0.9 0 1 0 1.8 0a0.9 0.9 0 1 0 -1.8 0M172.4 160.8m-0.9 0a0.9 0.9 0 1 0 1.8 0a0.9 0.9 0 1 0 -1.8 0M159.2 201.2m-0.9 0a0.9 0.9 0 1 0 1.8 0a0.9 0.9 0 1 0 -1.8 0M161.4 164.8m-0.9 0a0.9 0.9 0 1 0 1.8 0a0.9 0.9 0 1 0 -1.8 0M158.2 192.7m-0.9 0a0.9 0.9 0 1 0 1.8 0a0.9 0.9 0 1 0 -1.8 0M160.7 206.8m-0.9 0a0.9 0.9 0 1 0 1.8 0a0.9 0.9 0 1 0 -1.8 0M167.6 214.7m-0.9 0a0.9 0.9 0 1 0 1.8 0a0.9 0.9 0 1 0 -1.8 0M172.7 207.1m-0.9 0a0.9 0.9 0 1 0 1.8 0a0.9 0.9 0 1 0 -1.8 0M162.8 201.7m-0.9 0a0.9 0.9 0 1 0 1.8 0a0.9 0.9 0 1 0 -1.8 0M162.6 195.6m-0.9 0a0.9 0.9 0 1 0 1.8 0a0.9 0.9 0 1 0 -1.8 0M184.4 195.1m-0.9 0a0.9 0.9 0 1 0 1.8 0a0.9 0.9 0 1 0 -1.8 0M160.1 189.0m-0.9 0a0.9 0.9 0 1 0 1.8 0a0.9 0.9 0 1 0 -1.8 0M159.2 194.0m-0.9 0a0.9 0.9 0 1 0 1.8 0a0.9 0.9 0 1 0 -1.8 0M164.2 214.4m-0.9 0a0.9 0.9 0 1 0 1.8 0a0.9 0.9 0 1 0 -1.8 0M162.8 205.0m-0.9 0a0.9 0.9 0 1 0 1.8 0a0.9 0.9 0 1 0 -1.8 0M165.0 163.2m-0.9 0a0.9 0.9 0 1 0 1.8 0a0.9 0.9 0 1 0 -1.8 0M158.6 214.1m-0.9 0a0.9 0.9 0 1 0 1.8 0a0.9 0.9 0 1 0 -1.8 0M158.6 177.8m-0.9 0a0.9 0.9 0 1 0 1.8 0a0.9 0.9 0 1 0 -1.8 0M163.0 193.3m-0.9 0a0.9 0.9 0 1 0 1.8 0a0.9 0.9 0 1 0 -1.8 0M161.2 179.7m-0.9 0a0.9 0.9 0 1 0 1.8 0a0.9 0.9 0 1 0 -1.8 0M191.4 201.0m-0.9 0a0.9 0.9 0 1 0 1.8 0a0.9 0.9 0 1 0 -1.8 0M160.2 199.1m-0.9 0a0.9 0.9 0 1 0 1.8 0a0.9 0.9 0 1 0 -1.8 0M162.6 191.0m-0.9 0a0.9 0.9 0 1 0 1.8 0a0.9 0.9 0 1 0 -1.8 0M160.2 167.2m-0.9 0a0.9 0.9 0 1 0 1.8 0a0.9 0.9 0 1 0 -1.8 0M169.2 201.4m-0.9 0a0.9 0.9 0 1 0 1.8 0a0.9 0.9 0 1 0 -1.8 0M161.6 212.8m-0.9 0a0.9 0.9 0 1 0 1.8 0a0.9 0.9 0 1 0 -1.8 0M176.0 213.6m-0.9 0a0.9 0.9 0 1 0 1.8 0a0.9 0.9 0 1 0 -1.8 0M167.7 168.4m-0.9 0a0.9 0.9 0 1 0 1.8 0a0.9 0.9 0 1 0 -1.8 0M159.2 202.7m-0.9 0a0.9 0.9 0 1 0 1.8 0a0.9 0.9 0 1 0 -1.8 0M159.8 210.7m-0.9 0a0.9 0.9 0 1 0 1.8 0a0.9 0.9 0 1 0 -1.8 0M162.2 186.2m-0.9 0a0.9 0.9 0 1 0 1.8 0a0.9 0.9 0 1 0 -1.8 0M164.0 171.1m-0.9 0a0.9 0.9 0 1 0 1.8 0a0.9 0.9 0 1 0 -1.8 0M160.2 186.2m-0.9 0a0.9 0.9 0 1 0 1.8 0a0.9 0.9 0 1 0 -1.8 0M159.8 209.5m-0.9 0a0.9 0.9 0 1 0 1.8 0a0.9 0.9 0 1 0 -1.8 0M179.8 197.5m-0.9 0a0.9 0.9 0 1 0 1.8 0a0.9 0.9 0 1 0 -1.8 0M165.8 204.7m-0.9 0a0.9 0.9 0 1 0 1.8 0a0.9 0.9 0 1 0 -1.8 0M176.3 214.3m-0.9 0a0.9 0.9 0 1 0 1.8 0a0.9 0.9 0 1 0 -1.8 0M160.8 163.2m-0.9 0a0.9 0.9 0 1 0 1.8 0a0.9 0.9 0 1 0 -1.8 0M165.9 194.4m-0.9 0a0.9 0.9 0 1 0 1.8 0a0.9 0.9 0 1 0 -1.8 0M195.2 210.9m-0.9 0a0.9 0.9 0 1 0 1.8 0a0.9 0.9 0 1 0 -1.8 0M161.3 168.1m-0.9 0a0.9 0.9 0 1 0 1.8 0a0.9 0.9 0 1 0 -1.8 0M173.4 161.6m-0.9 0a0.9 0.9 0 1 0 1.8 0a0.9 0.9 0 1 0 -1.8 0M161.5 173.0m-0.9 0a0.9 0.9 0 1 0 1.8 0a0.9 0.9 0 1 0 -1.8 0M163.7 204.7m-0.9 0a0.9 0.9 0 1 0 1.8 0a0.9 0.9 0 1 0 -1.8 0M173.8 208.5m-0.9 0a0.9 0.9 0 1 0 1.8 0a0.9 0.9 0 1 0 -1.8 0M164.8 191.2m-0.9 0a0.9 0.9 0 1 0 1.8 0a0.9 0.9 0 1 0 -1.8 0M158.8 187.2m-0.9 0a0.9 0.9 0 1 0 1.8 0a0.9 0.9 0 1 0 -1.8 0M159.1 169.2m-0.9 0a0.9 0.9 0 1 0 1.8 0a0.9 0.9 0 1 0 -1.8 0M166.2 162.8m-0.9 0a0.9 0.9 0 1 0 1.8 0a0.9 0.9 0 1 0 -1.8 0M159.0 167.3m-0.9 0a0.9 0.9 0 1 0 1.8 0a0.9 0.9 0 1 0 -1.8 0M160.3 200.5m-0.9 0a0.9 0.9 0 1 0 1.8 0a0.9 0.9 0 1 0 -1.8 0M161.9 186.7m-0.9 0a0.9 0.9 0 1 0 1.8 0a0.9 0.9 0 1 0 -1.8 0M163.5 210.5m-0.9 0a0.9 0.9 0 1 0 1.8 0a0.9 0.9 0 1 0 -1.8 0M160.6 191.1m-0.9 0a0.9 0.9 0 1 0 1.8 0a0.9 0.9 0 1 0 -1.8 0M165.6 212.5m-0.9 0a0.9 0.9 0 1 0 1.8 0a0.9 0.9 0 1 0 -1.8 0M160.7 212.0m-0.9 0a0.9 0.9 0 1 0 1.8 0a0.9 0.9 0 1 0 -1.8 0M184.0 211.2m-0.9 0a0.9 0.9 0 1 0 1.8 0a0.9 0.9 0 1 0 -1.8 0M158.7 202.9m-0.9 0a0.9 0.9 0 1 0 1.8 0a0.9 0.9 0 1 0 -1.8 0M163.2 202.6m-0.9 0a0.9 0.9 0 1 0 1.8 0a0.9 0.9 0 1 0 -1.8 0M160.6 179.9m-0.9 0a0.9 0.9 0 1 0 1.8 0a0.9 0.9 0 1 0 -1.8 0M170.0 213.2m-0.9 0a0.9 0.9 0 1 0 1.8 0a0.9 0.9 0 1 0 -1.8 0M188.7 211.7m-0.9 0a0.9 0.9 0 1 0 1.8 0a0.9 0.9 0 1 0 -1.8 0M161.1 182.9m-0.9 0a0.9 0.9 0 1 0 1.8 0a0.9 0.9 0 1 0 -1.8 0M163.7 181.8m-0.9 0a0.9 0.9 0 1 0 1.8 0a0.9 0.9 0 1 0 -1.8 0M159.9 179.3m-0.9 0a0.9 0.9 0 1 0 1.8 0a0.9 0.9 0 1 0 -1.8 0M158.4 178.9m-0.9 0a0.9 0.9 0 1 0 1.8 0a0.9 0.9 0 1 0 -1.8 0M174.7 182.4m-0.9 0a0.9 0.9 0 1 0 1.8 0a0.9 0.9 0 1 0 -1.8 0M181.4 188.7m-0.9 0a0.9 0.9 0 1 0 1.8 0a0.9 0.9 0 1 0 -1.8 0M164.7 178.1m-0.9 0a0.9 0.9 0 1 0 1.8 0a0.9 0.9 0 1 0 -1.8 0M159.9 212.4m-0.9 0a0.9 0.9 0 1 0 1.8 0a0.9 0.9 0 1 0 -1.8 0M159.5 207.2m-0.9 0a0.9 0.9 0 1 0 1.8 0a0.9 0.9 0 1 0 -1.8 0M160.2 177.3m-0.9 0a0.9 0.9 0 1 0 1.8 0a0.9 0.9 0 1 0 -1.8 0M161.8 208.1m-0.9 0a0.9 0.9 0 1 0 1.8 0a0.9 0.9 0 1 0 -1.8 0M161.0 190.6m-0.9 0a0.9 0.9 0 1 0 1.8 0a0.9 0.9 0 1 0 -1.8 0M160.2 204.5m-0.9 0a0.9 0.9 0 1 0 1.8 0a0.9 0.9 0 1 0 -1.8 0M174.2 196.5m-0.9 0a0.9 0.9 0 1 0 1.8 0a0.9 0.9 0 1 0 -1.8 0M158.5 171.5m-0.9 0a0.9 0.9 0 1 0 1.8 0a0.9 0.9 0 1 0 -1.8 0M158.9 182.5m-0.9 0a0.9 0.9 0 1 0 1.8 0a0.9 0.9 0 1 0 -1.8 0M172.3 195.5m-0.9 0a0.9 0.9 0 1 0 1.8 0a0.9 0.9 0 1 0 -1.8 0M163.6 204.1m-0.9 0a0.9 0.9 0 1 0 1.8 0a0.9 0.9 0 1 0 -1.8 0M168.2 174.1m-0.9 0a0.9 0.9 0 1 0 1.8 0a0.9 0.9 0 1 0 -1.8 0M160.1 182.7m-0.9 0a0.9 0.9 0 1 0 1.8 0a0.9 0.9 0 1 0 -1.8 0M161.5 195.4m-0.9 0a0.9 0.9 0 1 0 1.8 0a0.9 0.9 0 1 0 -1.8 0M160.7 169.7m-0.9 0a0.9 0.9 0 1 0 1.8 0a0.9 0.9 0 1 0 -1.8 0M158.9 181.1m-0.9 0a0.9 0.9 0 1 0 1.8 0a0.9 0.9 0 1 0 -1.8 0M179.9 162.5m-0.9 0a0.9 0.9 0 1 0 1.8 0a0.9 0.9 0 1 0 -1.8 0M188.1 182.3m-0.9 0a0.9 0.9 0 1 0 1.8 0a0.9 0.9 0 1 0 -1.8 0M161.4 167.5m-0.9 0a0.9 0.9 0 1 0 1.8 0a0.9 0.9 0 1 0 -1.8 0M166.0 189.2m-0.9 0a0.9 0.9 0 1 0 1.8 0a0.9 0.9 0 1 0 -1.8 0M171.2 179.8m-0.9 0a0.9 0.9 0 1 0 1.8 0a0.9 0.9 0 1 0 -1.8 0M160.8 171.0m-0.9 0a0.9 0.9 0 1 0 1.8 0a0.9 0.9 0 1 0 -1.8 0M166.6 212.6m-0.9 0a0.9 0.9 0 1 0 1.8 0a0.9 0.9 0 1 0 -1.8 0M160.8 193.9m-0.9 0a0.9 0.9 0 1 0 1.8 0a0.9 0.9 0 1 0 -1.8 0M169.2 185.7m-0.9 0a0.9 0.9 0 1 0 1.8 0a0.9 0.9 0 1 0 -1.8 0M168.4 213.2m-0.9 0a0.9 0.9 0 1 0 1.8 0a0.9 0.9 0 1 0 -1.8 0M159.6 174.5m-0.9 0a0.9 0.9 0 1 0 1.8 0a0.9 0.9 0 1 0 -1.8 0M159.3 179.8m-0.9 0a0.9 0.9 0 1 0 1.8 0a0.9 0.9 0 1 0 -1.8 0M163.3 165.1m-0.9 0a0.9 0.9 0 1 0 1.8 0a0.9 0.9 0 1 0 -1.8 0M166.6 199.3m-0.9 0a0.9 0.9 0 1 0 1.8 0a0.9 0.9 0 1 0 -1.8 0M167.6 194.4m-0.9 0a0.9 0.9 0 1 0 1.8 0a0.9 0.9 0 1 0 -1.8 0M161.1 166.6m-0.9 0a0.9 0.9 0 1 0 1.8 0a0.9 0.9 0 1 0 -1.8 0M159.4 197.6m-0.9 0a0.9 0.9 0 1 0 1.8 0a0.9 0.9 0 1 0 -1.8 0M161.7 171.6m-0.9 0a0.9 0.9 0 1 0 1.8 0a0.9 0.9 0 1 0 -1.8 0M161.0 196.1m-0.9 0a0.9 0.9 0 1 0 1.8 0a0.9 0.9 0 1 0 -1.8 0M160.0 200.6m-0.9 0a0.9 0.9 0 1 0 1.8 0a0.9 0.9 0 1 0 -1.8 0M166.9 204.3m-0.9 0a0.9 0.9 0 1 0 1.8 0a0.9 0.9 0 1 0 -1.8 0M172.2 207.0m-0.9 0a0.9 0.9 0 1 0 1.8 0a0.9 0.9 0 1 0 -1.8 0M158.3 196.4m-0.9 0a0.9 0.9 0 1 0 1.8 0a0.9 0.9 0 1 0 -1.8 0M180.5 209.4m-0.9 0a0.9 0.9 0 1 0 1.8 0a0.9 0.9 0 1 0 -1.8 0M158.6 172.4m-0.9 0a0.9 0.9 0 1 0 1.8 0a0.9 0.9 0 1 0 -1.8 0M158.9 162.4m-0.9 0a0.9 0.9 0 1 0 1.8 0a0.9 0.9 0 1 0 -1.8 0M163.0 212.1m-0.9 0a0.9 0.9 0 1 0 1.8 0a0.9 0.9 0 1 0 -1.8 0M175.9 213.7m-0.9 0a0.9 0.9 0 1 0 1.8 0a0.9 0.9 0 1 0 -1.8 0M159.5 214.8m-0.9 0a0.9 0.9 0 1 0 1.8 0a0.9 0.9 0 1 0 -1.8 0M161.9 165.4m-0.9 0a0.9 0.9 0 1 0 1.8 0a0.9 0.9 0 1 0 -1.8 0M164.5 213.2m-0.9 0a0.9 0.9 0 1 0 1.8 0a0.9 0.9 0 1 0 -1.8 0M162.7 181.9m-0.9 0a0.9 0.9 0 1 0 1.8 0a0.9 0.9 0 1 0 -1.8 0M159.9 202.6m-0.9 0a0.9 0.9 0 1 0 1.8 0a0.9 0.9 0 1 0 -1.8 0M158.2 207.4m-0.9 0a0.9 0.9 0 1 0 1.8 0a0.9 0.9 0 1 0 -1.8 0M177.3 205.9m-0.9 0a0.9 0.9 0 1 0 1.8 0a0.9 0.9 0 1 0 -1.8 0M160.0 180.9m-0.9 0a0.9 0.9 0 1 0 1.8 0a0.9 0.9 0 1 0 -1.8 0M161.7 215.1m-0.9 0a0.9 0.9 0 1 0 1.8 0a0.9 0.9 0 1 0 -1.8 0M163.5 170.1m-0.9 0a0.9 0.9 0 1 0 1.8 0a0.9 0.9 0 1 0 -1.8 0M160.0 188.1m-0.9 0a0.9 0.9 0 1 0 1.8 0a0.9 0.9 0 1 0 -1.8 0M164.3 206.4m-0.9 0a0.9 0.9 0 1 0 1.8 0a0.9 0.9 0 1 0 -1.8 0M168.2 207.4m-0.9 0a0.9 0.9 0 1 0 1.8 0a0.9 0.9 0 1 0 -1.8 0M160.5 183.3m-0.9 0a0.9 0.9 0 1 0 1.8 0a0.9 0.9 0 1 0 -1.8 0M166.5 185.0m-0.9 0a0.9 0.9 0 1 0 1.8 0a0.9 0.9 0 1 0 -1.8 0M160.8 202.1m-0.9 0a0.9 0.9 0 1 0 1.8 0a0.9 0.9 0 1 0 -1.8 0M159.6 201.7m-0.9 0a0.9 0.9 0 1 0 1.8 0a0.9 0.9 0 1 0 -1.8 0M160.7 194.2m-0.9 0a0.9 0.9 0 1 0 1.8 0a0.9 0.9 0 1 0 -1.8 0M161.0 166.7m-0.9 0a0.9 0.9 0 1 0 1.8 0a0.9 0.9 0 1 0 -1.8 0M164.2 190.1m-0.9 0a0.9 0.9 0 1 0 1.8 0a0.9 0.9 0 1 0 -1.8 0M162.2 171.3m-0.9 0a0.9 0.9 0 1 0 1.8 0a0.9 0.9 0 1 0 -1.8 0M163.7 184.1m-0.9 0a0.9 0.9 0 1 0 1.8 0a0.9 0.9 0 1 0 -1.8 0M163.6 188.6m-0.9 0a0.9 0.9 0 1 0 1.8 0a0.9 0.9 0 1 0 -1.8 0M166.9 193.0m-0.9 0a0.9 0.9 0 1 0 1.8 0a0.9 0.9 0 1 0 -1.8 0M159.8 181.8m-0.9 0a0.9 0.9 0 1 0 1.8 0a0.9 0.9 0 1 0 -1.8 0M160.2 192.7m-0.9 0a0.9 0.9 0 1 0 1.8 0a0.9 0.9 0 1 0 -1.8 0M170.9 179.1m-0.9 0a0.9 0.9 0 1 0 1.8 0a0.9 0.9 0 1 0 -1.8 0M162.7 208.8m-0.9 0a0.9 0.9 0 1 0 1.8 0a0.9 0.9 0 1 0 -1.8 0M175.7 202.2m-0.9 0a0.9 0.9 0 1 0 1.8 0a0.9 0.9 0 1 0 -1.8 0M159.3 168.8m-0.9 0a0.9 0.9 0 1 0 1.8 0a0.9 0.9 0 1 0 -1.8 0M170.7 197.5m-0.9 0a0.9 0.9 0 1 0 1.8 0a0.9 0.9 0 1 0 -1.8 0M178.9 171.4m-0.9 0a0.9 0.9 0 1 0 1.8 0a0.9 0.9 0 1 0 -1.8 0M162.8 164.8m-0.9 0a0.9 0.9 0 1 0 1.8 0a0.9 0.9 0 1 0 -1.8 0M165.8 188.0m-0.9 0a0.9 0.9 0 1 0 1.8 0a0.9 0.9 0 1 0 -1.8 0M199.1 211.7m-0.9 0a0.9 0.9 0 1 0 1.8 0a0.9 0.9 0 1 0 -1.8 0M158.9 177.0m-0.9 0a0.9 0.9 0 1 0 1.8 0a0.9 0.9 0 1 0 -1.8 0M159.3 182.1m-0.9 0a0.9 0.9 0 1 0 1.8 0a0.9 0.9 0 1 0 -1.8 0M159.0 203.5m-0.9 0a0.9 0.9 0 1 0 1.8 0a0.9 0.9 0 1 0 -1.8 0M158.9 170.3m-0.9 0a0.9 0.9 0 1 0 1.8 0a0.9 0.9 0 1 0 -1.8 0M166.6 193.5m-0.9 0a0.9 0.9 0 1 0 1.8 0a0.9 0.9 0 1 0 -1.8 0M182.3 213.3m-0.9 0a0.9 0.9 0 1 0 1.8 0a0.9 0.9 0 1 0 -1.8 0M160.1 213.1m-0.9 0a0.9 0.9 0 1 0 1.8 0a0.9 0.9 0 1 0 -1.8 0M159.7 206.4m-0.9 0a0.9 0.9 0 1 0 1.8 0a0.9 0.9 0 1 0 -1.8 0M161.2 185.6m-0.9 0a0.9 0.9 0 1 0 1.8 0a0.9 0.9 0 1 0 -1.8 0M164.1 173.0m-0.9 0a0.9 0.9 0 1 0 1.8 0a0.9 0.9 0 1 0 -1.8 0M163.4 212.4m-0.9 0a0.9 0.9 0 1 0 1.8 0a0.9 0.9 0 1 0 -1.8 0M164.3 214.9m-0.9 0a0.9 0.9 0 1 0 1.8 0a0.9 0.9 0 1 0 -1.8 0M163.2 184.8m-0.9 0a0.9 0.9 0 1 0 1.8 0a0.9 0.9 0 1 0 -1.8 0M160.8 197.4m-0.9 0a0.9 0.9 0 1 0 1.8 0a0.9 0.9 0 1 0 -1.8 0M158.4 195.9m-0.9 0a0.9 0.9 0 1 0 1.8 0a0.9 0.9 0 1 0 -1.8 0M158.1 172.5m-0.9 0a0.9 0.9 0 1 0 1.8 0a0.9 0.9 0 1 0 -1.8 0M172.1 166.6m-0.9 0a0.9 0.9 0 1 0 1.8 0a0.9 0.9 0 1 0 -1.8 0M159.3 163.3m-0.9 0a0.9 0.9 0 1 0 1.8 0a0.9 0.9 0 1 0 -1.8 0M181.6 175.7m-0.9 0a0.9 0.9 0 1 0 1.8 0a0.9 0.9 0 1 0 -1.8 0M165.4 214.5m-0.9 0a0.9 0.9 0 1 0 1.8 0a0.9 0.9 0 1 0 -1.8 0M167.6 210.3m-0.9 0a0.9 0.9 0 1 0 1.8 0a0.9 0.9 0 1 0 -1.8 0M163.2 187.6m-0.9 0a0.9 0.9 0 1 0 1.8 0a0.9 0.9 0 1 0 -1.8 0M161.5 163.6m-0.9 0a0.9 0.9 0 1 0 1.8 0a0.9 0.9 0 1 0 -1.8 0M162.4 212.7m-0.9 0a0.9 0.9 0 1 0 1.8 0a0.9 0.9 0 1 0 -1.8 0M161.1 190.9m-0.9 0a0.9 0.9 0 1 0 1.8 0a0.9 0.9 0 1 0 -1.8 0M158.2 198.0m-0.9 0a0.9 0.9 0 1 0 1.8 0a0.9 0.9 0 1 0 -1.8 0M158.6 197.6m-0.9 0a0.9 0.9 0 1 0 1.8 0a0.9 0.9 0 1 0 -1.8 0M164.6 204.7m-0.9 0a0.9 0.9 0 1 0 1.8 0a0.9 0.9 0 1 0 -1.8 0M158.6 204.7m-0.9 0a0.9 0.9 0 1 0 1.8 0a0.9 0.9 0 1 0 -1.8 0M173.7 205.7m-0.9 0a0.9 0.9 0 1 0 1.8 0a0.9 0.9 0 1 0 -1.8 0M164.5 211.4m-0.9 0a0.9 0.9 0 1 0 1.8 0a0.9 0.9 0 1 0 -1.8 0M160.3 189.4m-0.9 0a0.9 0.9 0 1 0 1.8 0a0.9 0.9 0 1 0 -1.8 0M161.3 194.8m-0.9 0a0.9 0.9 0 1 0 1.8 0a0.9 0.9 0 1 0 -1.8 0M164.3 179.2m-0.9 0a0.9 0.9 0 1 0 1.8 0a0.9 0.9 0 1 0 -1.8 0M158.8 183.7m-0.9 0a0.9 0.9 0 1 0 1.8 0a0.9 0.9 0 1 0 -1.8 0M173.4 164.3m-0.9 0a0.9 0.9 0 1 0 1.8 0a0.9 0.9 0 1 0 -1.8 0M158.1 200.9m-0.9 0a0.9 0.9 0 1 0 1.8 0a0.9 0.9 0 1 0 -1.8 0M158.2 169.0m-0.9 0a0.9 0.9 0 1 0 1.8 0a0.9 0.9 0 1 0 -1.8 0M158.6 198.7m-0.9 0a0.9 0.9 0 1 0 1.8 0a0.9 0.9 0 1 0 -1.8 0M182.2 183.1m-0.9 0a0.9 0.9 0 1 0 1.8 0a0.9 0.9 0 1 0 -1.8 0M159.0 174.0m-0.9 0a0.9 0.9 0 1 0 1.8 0a0.9 0.9 0 1 0 -1.8 0M160.7 198.3m-0.9 0a0.9 0.9 0 1 0 1.8 0a0.9 0.9 0 1 0 -1.8 0M168.3 195.0m-0.9 0a0.9 0.9 0 1 0 1.8 0a0.9 0.9 0 1 0 -1.8 0M159.1 184.4m-0.9 0a0.9 0.9 0 1 0 1.8 0a0.9 0.9 0 1 0 -1.8 0M165.2 211.6m-0.9 0a0.9 0.9 0 1 0 1.8 0a0.9 0.9 0 1 0 -1.8 0M159.5 190.5m-0.9 0a0.9 0.9 0 1 0 1.8 0a0.9 0.9 0 1 0 -1.8 0M175.3 212.4m-0.9 0a0.9 0.9 0 1 0 1.8 0a0.9 0.9 0 1 0 -1.8 0M165.7 206.9m-0.9 0a0.9 0.9 0 1 0 1.8 0a0.9 0.9 0 1 0 -1.8 0M159.1 184.8m-0.9 0a0.9 0.9 0 1 0 1.8 0a0.9 0.9 0 1 0 -1.8 0M166.5 162.3m-0.9 0a0.9 0.9 0 1 0 1.8 0a0.9 0.9 0 1 0 -1.8 0M164.9 161.1m-0.9 0a0.9 0.9 0 1 0 1.8 0a0.9 0.9 0 1 0 -1.8 0M165.4 205.1m-0.9 0a0.9 0.9 0 1 0 1.8 0a0.9 0.9 0 1 0 -1.8 0M166.8 209.8m-0.9 0a0.9 0.9 0 1 0 1.8 0a0.9 0.9 0 1 0 -1.8 0M160.5 190.7m-0.9 0a0.9 0.9 0 1 0 1.8 0a0.9 0.9 0 1 0 -1.8 0M167.5 195.0m-0.9 0a0.9 0.9 0 1 0 1.8 0a0.9 0.9 0 1 0 -1.8 0M164.6 198.6m-0.9 0a0.9 0.9 0 1 0 1.8 0a0.9 0.9 0 1 0 -1.8 0M161.7 175.8m-0.9 0a0.9 0.9 0 1 0 1.8 0a0.9 0.9 0 1 0 -1.8 0M159.0 179.4m-0.9 0a0.9 0.9 0 1 0 1.8 0a0.9 0.9 0 1 0 -1.8 0M161.7 188.2m-0.9 0a0.9 0.9 0 1 0 1.8 0a0.9 0.9 0 1 0 -1.8 0M174.8 184.8m-0.9 0a0.9 0.9 0 1 0 1.8 0a0.9 0.9 0 1 0 -1.8 0M160.0 187.3m-0.9 0a0.9 0.9 0 1 0 1.8 0a0.9 0.9 0 1 0 -1.8 0M165.4 181.3m-0.9 0a0.9 0.9 0 1 0 1.8 0a0.9 0.9 0 1 0 -1.8 0M166.0 165.4m-0.9 0a0.9 0.9 0 1 0 1.8 0a0.9 0.9 0 1 0 -1.8 0M164.2 164.3m-0.9 0a0.9 0.9 0 1 0 1.8 0a0.9 0.9 0 1 0 -1.8 0M159.0 162.5m-0.9 0a0.9 0.9 0 1 0 1.8 0a0.9 0.9 0 1 0 -1.8 0M161.0 170.5m-0.9 0a0.9 0.9 0 1 0 1.8 0a0.9 0.9 0 1 0 -1.8 0M168.7 211.6m-0.9 0a0.9 0.9 0 1 0 1.8 0a0.9 0.9 0 1 0 -1.8 0M158.7 194.5m-0.9 0a0.9 0.9 0 1 0 1.8 0a0.9 0.9 0 1 0 -1.8 0M159.9 174.9m-0.9 0a0.9 0.9 0 1 0 1.8 0a0.9 0.9 0 1 0 -1.8 0M171.8 203.4m-0.9 0a0.9 0.9 0 1 0 1.8 0a0.9 0.9 0 1 0 -1.8 0M164.1 185.9m-0.9 0a0.9 0.9 0 1 0 1.8 0a0.9 0.9 0 1 0 -1.8 0M161.3 213.6m-0.9 0a0.9 0.9 0 1 0 1.8 0a0.9 0.9 0 1 0 -1.8 0M169.2 207.8m-0.9 0a0.9 0.9 0 1 0 1.8 0a0.9 0.9 0 1 0 -1.8 0M174.5 197.9m-0.9 0a0.9 0.9 0 1 0 1.8 0a0.9 0.9 0 1 0 -1.8 0M159.5 213.4m-0.9 0a0.9 0.9 0 1 0 1.8 0a0.9 0.9 0 1 0 -1.8 0M159.4 196.0m-0.9 0a0.9 0.9 0 1 0 1.8 0a0.9 0.9 0 1 0 -1.8 0M160.2 206.1m-0.9 0a0.9 0.9 0 1 0 1.8 0a0.9 0.9 0 1 0 -1.8 0M161.9 169.5m-0.9 0a0.9 0.9 0 1 0 1.8 0a0.9 0.9 0 1 0 -1.8 0M161.9 202.0m-0.9 0a0.9 0.9 0 1 0 1.8 0a0.9 0.9 0 1 0 -1.8 0M160.8 198.9m-0.9 0a0.9 0.9 0 1 0 1.8 0a0.9 0.9 0 1 0 -1.8 0M168.6 173.6m-0.9 0a0.9 0.9 0 1 0 1.8 0a0.9 0.9 0 1 0 -1.8 0M164.5 188.3m-0.9 0a0.9 0.9 0 1 0 1.8 0a0.9 0.9 0 1 0 -1.8 0M186.9 213.6m-0.9 0a0.9 0.9 0 1 0 1.8 0a0.9 0.9 0 1 0 -1.8 0M175.6 206.6m-0.9 0a0.9 0.9 0 1 0 1.8 0a0.9 0.9 0 1 0 -1.8 0M162.4 185.4m-0.9 0a0.9 0.9 0 1 0 1.8 0a0.9 0.9 0 1 0 -1.8 0M166.8 207.6m-0.9 0a0.9 0.9 0 1 0 1.8 0a0.9 0.9 0 1 0 -1.8 0M164.6 205.9m-0.9 0a0.9 0.9 0 1 0 1.8 0a0.9 0.9 0 1 0 -1.8 0M159.6 184.9m-0.9 0a0.9 0.9 0 1 0 1.8 0a0.9 0.9 0 1 0 -1.8 0M187.5 192.7m-0.9 0a0.9 0.9 0 1 0 1.8 0a0.9 0.9 0 1 0 -1.8 0M160.2 204.3m-0.9 0a0.9 0.9 0 1 0 1.8 0a0.9 0.9 0 1 0 -1.8 0M180.0 188.7m-0.9 0a0.9 0.9 0 1 0 1.8 0a0.9 0.9 0 1 0 -1.8 0M170.8 184.0m-0.9 0a0.9 0.9 0 1 0 1.8 0a0.9 0.9 0 1 0 -1.8 0M186.9 213.7m-0.9 0a0.9 0.9 0 1 0 1.8 0a0.9 0.9 0 1 0 -1.8 0M161.1 204.5m-0.9 0a0.9 0.9 0 1 0 1.8 0a0.9 0.9 0 1 0 -1.8 0M161.7 202.5m-0.9 0a0.9 0.9 0 1 0 1.8 0a0.9 0.9 0 1 0 -1.8 0M158.1 168.7m-0.9 0a0.9 0.9 0 1 0 1.8 0a0.9 0.9 0 1 0 -1.8 0M163.3 214.1m-0.9 0a0.9 0.9 0 1 0 1.8 0a0.9 0.9 0 1 0 -1.8 0M163.8 200.9m-0.9 0a0.9 0.9 0 1 0 1.8 0a0.9 0.9 0 1 0 -1.8 0M162.5 207.7m-0.9 0a0.9 0.9 0 1 0 1.8 0a0.9 0.9 0 1 0 -1.8 0M159.5 180.5m-0.9 0a0.9 0.9 0 1 0 1.8 0a0.9 0.9 0 1 0 -1.8 0M158.5 173.3m-0.9 0a0.9 0.9 0 1 0 1.8 0a0.9 0.9 0 1 0 -1.8 0M166.3 213.1m-0.9 0a0.9 0.9 0 1 0 1.8 0a0.9 0.9 0 1 0 -1.8 0M163.7 169.8m-0.9 0a0.9 0.9 0 1 0 1.8 0a0.9 0.9 0 1 0 -1.8 0M159.9 180.3m-0.9 0a0.9 0.9 0 1 0 1.8 0a0.9 0.9 0 1 0 -1.8 0M170.5 207.3m-0.9 0a0.9 0.9 0 1 0 1.8 0a0.9 0.9 0 1 0 -1.8 0M164.9 166.0m-0.9 0a0.9 0.9 0 1 0 1.8 0a0.9 0.9 0 1 0 -1.8 0M166.2 203.8m-0.9 0a0.9 0.9 0 1 0 1.8 0a0.9 0.9 0 1 0 -1.8 0M159.7 174.5m-0.9 0a0.9 0.9 0 1 0 1.8 0a0.9 0.9 0 1 0 -1.8 0M165.0 212.7m-0.9 0a0.9 0.9 0 1 0 1.8 0a0.9 0.9 0 1 0 -1.8 0M160.1 194.2m-0.9 0a0.9 0.9 0 1 0 1.8 0a0.9 0.9 0 1 0 -1.8 0M163.6 192.3m-0.9 0a0.9 0.9 0 1 0 1.8 0a0.9 0.9 0 1 0 -1.8 0M165.7 168.1m-0.9 0a0.9 0.9 0 1 0 1.8 0a0.9 0.9 0 1 0 -1.8 0M158.5 171.2m-0.9 0a0.9 0.9 0 1 0 1.8 0a0.9 0.9 0 1 0 -1.8 0M164.4 189.6m-0.9 0a0.9 0.9 0 1 0 1.8 0a0.9 0.9 0 1 0 -1.8 0M159.2 213.5m-0.9 0a0.9 0.9 0 1 0 1.8 0a0.9 0.9 0 1 0 -1.8 0M159.1 196.2m-0.9 0a0.9 0.9 0 1 0 1.8 0a0.9 0.9 0 1 0 -1.8 0M180.0 198.9m-0.9 0a0.9 0.9 0 1 0 1.8 0a0.9 0.9 0 1 0 -1.8 0M167.3 161.6m-0.9 0a0.9 0.9 0 1 0 1.8 0a0.9 0.9 0 1 0 -1.8 0M159.6 181.2m-0.9 0a0.9 0.9 0 1 0 1.8 0a0.9 0.9 0 1 0 -1.8 0M159.6 197.8m-0.9 0a0.9 0.9 0 1 0 1.8 0a0.9 0.9 0 1 0 -1.8 0M158.7 199.4m-0.9 0a0.9 0.9 0 1 0 1.8 0a0.9 0.9 0 1 0 -1.8 0M161.9 176.2m-0.9 0a0.9 0.9 0 1 0 1.8 0a0.9 0.9 0 1 0 -1.8 0M166.5 212.0m-0.9 0a0.9 0.9 0 1 0 1.8 0a0.9 0.9 0 1 0 -1.8 0M159.5 172.9m-0.9 0a0.9 0.9 0 1 0 1.8 0a0.9 0.9 0 1 0 -1.8 0M158.4 182.1m-0.9 0a0.9 0.9 0 1 0 1.8 0a0.9 0.9 0 1 0 -1.8 0M161.9 195.9m-0.9 0a0.9 0.9 0 1 0 1.8 0a0.9 0.9 0 1 0 -1.8 0M162.1 179.2m-0.9 0a0.9 0.9 0 1 0 1.8 0a0.9 0.9 0 1 0 -1.8 0M183.4 197.4m-0.9 0a0.9 0.9 0 1 0 1.8 0a0.9 0.9 0 1 0 -1.8 0M177.9 210.7m-0.9 0a0.9 0.9 0 1 0 1.8 0a0.9 0.9 0 1 0 -1.8 0M167.2 196.6m-0.9 0a0.9 0.9 0 1 0 1.8 0a0.9 0.9 0 1 0 -1.8 0M172.4 213.5m-0.9 0a0.9 0.9 0 1 0 1.8 0a0.9 0.9 0 1 0 -1.8 0M169.1 212.1m-0.9 0a0.9 0.9 0 1 0 1.8 0a0.9 0.9 0 1 0 -1.8 0M169.4 195.8m-0.9 0a0.9 0.9 0 1 0 1.8 0a0.9 0.9 0 1 0 -1.8 0M167.0 172.9m-0.9 0a0.9 0.9 0 1 0 1.8 0a0.9 0.9 0 1 0 -1.8 0M171.7 207.5m-0.9 0a0.9 0.9 0 1 0 1.8 0a0.9 0.9 0 1 0 -1.8 0M160.7 192.0m-0.9 0a0.9 0.9 0 1 0 1.8 0a0.9 0.9 0 1 0 -1.8 0M160.6 162.1m-0.9 0a0.9 0.9 0 1 0 1.8 0a0.9 0.9 0 1 0 -1.8 0M160.7 171.8m-0.9 0a0.9 0.9 0 1 0 1.8 0a0.9 0.9 0 1 0 -1.8 0M159.8 167.0m-0.9 0a0.9 0.9 0 1 0 1.8 0a0.9 0.9 0 1 0 -1.8 0M160.8 181.4m-0.9 0a0.9 0.9 0 1 0 1.8 0a0.9 0.9 0 1 0 -1.8 0M161.3 186.8m-0.9 0a0.9 0.9 0 1 0 1.8 0a0.9 0.9 0 1 0 -1.8 0M160.3 187.9m-0.9 0a0.9 0.9 0 1 0 1.8 0a0.9 0.9 0 1 0 -1.8 0M161.2 185.9m-0.9 0a0.9 0.9 0 1 0 1.8 0a0.9 0.9 0 1 0 -1.8 0M162.4 194.2m-0.9 0a0.9 0.9 0 1 0 1.8 0a0.9 0.9 0 1 0 -1.8 0M162.5 199.5m-0.9 0a0.9 0.9 0 1 0 1.8 0a0.9 0.9 0 1 0 -1.8 0M167.8 205.5m-0.9 0a0.9 0.9 0 1 0 1.8 0a0.9 0.9 0 1 0 -1.8 0M163.8 213.5m-0.9 0a0.9 0.9 0 1 0 1.8 0a0.9 0.9 0 1 0 -1.8 0M167.6 199.0m-0.9 0a0.9 0.9 0 1 0 1.8 0a0.9 0.9 0 1 0 -1.8 0M160.2 175.5m-0.9 0a0.9 0.9 0 1 0 1.8 0a0.9 0.9 0 1 0 -1.8 0M166.9 189.5m-0.9 0a0.9 0.9 0 1 0 1.8 0a0.9 0.9 0 1 0 -1.8 0M160.6 209.1m-0.9 0a0.9 0.9 0 1 0 1.8 0a0.9 0.9 0 1 0 -1.8 0M163.1 172.8m-0.9 0a0.9 0.9 0 1 0 1.8 0a0.9 0.9 0 1 0 -1.8 0M179.1 214.4m-0.9 0a0.9 0.9 0 1 0 1.8 0a0.9 0.9 0 1 0 -1.8 0M178.4 165.1m-0.9 0a0.9 0.9 0 1 0 1.8 0a0.9 0.9 0 1 0 -1.8 0M160.1 183.6m-0.9 0a0.9 0.9 0 1 0 1.8 0a0.9 0.9 0 1 0 -1.8 0M158.6 188.8m-0.9 0a0.9 0.9 0 1 0 1.8 0a0.9 0.9 0 1 0 -1.8 0M166.5 197.1m-0.9 0a0.9 0.9 0 1 0 1.8 0a0.9 0.9 0 1 0 -1.8 0M161.9 172.2m-0.9 0a0.9 0.9 0 1 0 1.8 0a0.9 0.9 0 1 0 -1.8 0M158.1 214.7m-0.9 0a0.9 0.9 0 1 0 1.8 0a0.9 0.9 0 1 0 -1.8 0M161.1 215.1m-0.9 0a0.9 0.9 0 1 0 1.8 0a0.9 0.9 0 1 0 -1.8 0M158.1 191.4m-0.9 0a0.9 0.9 0 1 0 1.8 0a0.9 0.9 0 1 0 -1.8 0M175.9 202.8m-0.9 0a0.9 0.9 0 1 0 1.8 0a0.9 0.9 0 1 0 -1.8 0M159.5 197.9m-0.9 0a0.9 0.9 0 1 0 1.8 0a0.9 0.9 0 1 0 -1.8 0M164.9 189.7m-0.9 0a0.9 0.9 0 1 0 1.8 0a0.9 0.9 0 1 0 -1.8 0M189.4 213.7m-0.9 0a0.9 0.9 0 1 0 1.8 0a0.9 0.9 0 1 0 -1.8 0M162.8 161.5m-0.9 0a0.9 0.9 0 1 0 1.8 0a0.9 0.9 0 1 0 -1.8 0M158.9 181.8m-0.9 0a0.9 0.9 0 1 0 1.8 0a0.9 0.9 0 1 0 -1.8 0M158.9 212.2m-0.9 0a0.9 0.9 0 1 0 1.8 0a0.9 0.9 0 1 0 -1.8 0M159.2 178.1m-0.9 0a0.9 0.9 0 1 0 1.8 0a0.9 0.9 0 1 0 -1.8 0M161.9 190.6m-0.9 0a0.9 0.9 0 1 0 1.8 0a0.9 0.9 0 1 0 -1.8 0M158.8 181.0m-0.9 0a0.9 0.9 0 1 0 1.8 0a0.9 0.9 0 1 0 -1.8 0M160.9 177.6m-0.9 0a0.9 0.9 0 1 0 1.8 0a0.9 0.9 0 1 0 -1.8 0M167.9 160.9m-0.9 0a0.9 0.9 0 1 0 1.8 0a0.9 0.9 0 1 0 -1.8 0M168.3 211.1m-0.9 0a0.9 0.9 0 1 0 1.8 0a0.9 0.9 0 1 0 -1.8 0M163.1 161.5m-0.9 0a0.9 0.9 0 1 0 1.8 0a0.9 0.9 0 1 0 -1.8 0M160.9 193.5m-0.9 0a0.9 0.9 0 1 0 1.8 0a0.9 0.9 0 1 0 -1.8 0M170.4 207.8m-0.9 0a0.9 0.9 0 1 0 1.8 0a0.9 0.9 0 1 0 -1.8 0M169.5 199.6m-0.9 0a0.9 0.9 0 1 0 1.8 0a0.9 0.9 0 1 0 -1.8 0M158.7 200.0m-0.9 0a0.9 0.9 0 1 0 1.8 0a0.9 0.9 0 1 0 -1.8 0M160.0 168.0m-0.9 0a0.9 0.9 0 1 0 1.8 0a0.9 0.9 0 1 0 -1.8 0M158.1 190.9m-0.9 0a0.9 0.9 0 1 0 1.8 0a0.9 0.9 0 1 0 -1.8 0M178.2 212.9m-0.9 0a0.9 0.9 0 1 0 1.8 0a0.9 0.9 0 1 0 -1.8 0M158.2 179.6m-0.9 0a0.9 0.9 0 1 0 1.8 0a0.9 0.9 0 1 0 -1.8 0M163.2 192.2m-0.9 0a0.9 0.9 0 1 0 1.8 0a0.9 0.9 0 1 0 -1.8 0M159.0 173.3m-0.9 0a0.9 0.9 0 1 0 1.8 0a0.9 0.9 0 1 0 -1.8 0M165.4 213.5m-0.9 0a0.9 0.9 0 1 0 1.8 0a0.9 0.9 0 1 0 -1.8 0M158.9 170.2m-0.9 0a0.9 0.9 0 1 0 1.8 0a0.9 0.9 0 1 0 -1.8 0M159.2 167.6m-0.9 0a0.9 0.9 0 1 0 1.8 0a0.9 0.9 0 1 0 -1.8 0M185.7 215.1m-0.9 0a0.9 0.9 0 1 0 1.8 0a0.9 0.9 0 1 0 -1.8 0M162.2 193.9m-0.9 0a0.9 0.9 0 1 0 1.8 0a0.9 0.9 0 1 0 -1.8 0M168.1 210.7m-0.9 0a0.9 0.9 0 1 0 1.8 0a0.9 0.9 0 1 0 -1.8 0M160.6 190.9m-0.9 0a0.9 0.9 0 1 0 1.8 0a0.9 0.9 0 1 0 -1.8 0M158.9 212.5m-0.9 0a0.9 0.9 0 1 0 1.8 0a0.9 0.9 0 1 0 -1.8 0M159.4 168.5m-0.9 0a0.9 0.9 0 1 0 1.8 0a0.9 0.9 0 1 0 -1.8 0M158.1 208.2m-0.9 0a0.9 0.9 0 1 0 1.8 0a0.9 0.9 0 1 0 -1.8 0M162.2 182.1m-0.9 0a0.9 0.9 0 1 0 1.8 0a0.9 0.9 0 1 0 -1.8 0M158.1 182.9m-0.9 0a0.9 0.9 0 1 0 1.8 0a0.9 0.9 0 1 0 -1.8 0M160.5 201.8m-0.9 0a0.9 0.9 0 1 0 1.8 0a0.9 0.9 0 1 0 -1.8 0M160.4 207.2m-0.9 0a0.9 0.9 0 1 0 1.8 0a0.9 0.9 0 1 0 -1.8 0M166.4 166.7m-0.9 0a0.9 0.9 0 1 0 1.8 0a0.9 0.9 0 1 0 -1.8 0M167.4 214.2m-0.9 0a0.9 0.9 0 1 0 1.8 0a0.9 0.9 0 1 0 -1.8 0M160.1 205.0m-0.9 0a0.9 0.9 0 1 0 1.8 0a0.9 0.9 0 1 0 -1.8 0M159.5 201.4m-0.9 0a0.9 0.9 0 1 0 1.8 0a0.9 0.9 0 1 0 -1.8 0M161.0 187.6m-0.9 0a0.9 0.9 0 1 0 1.8 0a0.9 0.9 0 1 0 -1.8 0M164.7 199.9m-0.9 0a0.9 0.9 0 1 0 1.8 0a0.9 0.9 0 1 0 -1.8 0M174.5 211.2m-0.9 0a0.9 0.9 0 1 0 1.8 0a0.9 0.9 0 1 0 -1.8 0M158.4 188.0m-0.9 0a0.9 0.9 0 1 0 1.8 0a0.9 0.9 0 1 0 -1.8 0M167.7 178.6m-0.9 0a0.9 0.9 0 1 0 1.8 0a0.9 0.9 0 1 0 -1.8 0M170.0 180.5m-0.9 0a0.9 0.9 0 1 0 1.8 0a0.9 0.9 0 1 0 -1.8 0M163.3 192.3m-0.9 0a0.9 0.9 0 1 0 1.8 0a0.9 0.9 0 1 0 -1.8 0M166.9 203.0m-0.9 0a0.9 0.9 0 1 0 1.8 0a0.9 0.9 0 1 0 -1.8 0M192.2 215.1m-0.9 0a0.9 0.9 0 1 0 1.8 0a0.9 0.9 0 1 0 -1.8 0M158.2 190.1m-0.9 0a0.9 0.9 0 1 0 1.8 0a0.9 0.9 0 1 0 -1.8 0M158.4 184.8m-0.9 0a0.9 0.9 0 1 0 1.8 0a0.9 0.9 0 1 0 -1.8 0M171.6 195.4m-0.9 0a0.9 0.9 0 1 0 1.8 0a0.9 0.9 0 1 0 -1.8 0M169.4 163.7m-0.9 0a0.9 0.9 0 1 0 1.8 0a0.9 0.9 0 1 0 -1.8 0M158.2 207.5m-0.9 0a0.9 0.9 0 1 0 1.8 0a0.9 0.9 0 1 0 -1.8 0M158.1 173.5m-0.9 0a0.9 0.9 0 1 0 1.8 0a0.9 0.9 0 1 0 -1.8 0M158.0 179.1m-0.9 0a0.9 0.9 0 1 0 1.8 0a0.9 0.9 0 1 0 -1.8 0M159.6 167.9m-0.9 0a0.9 0.9 0 1 0 1.8 0a0.9 0.9 0 1 0 -1.8 0M160.1 165.9m-0.9 0a0.9 0.9 0 1 0 1.8 0a0.9 0.9 0 1 0 -1.8 0M167.5 205.9m-0.9 0a0.9 0.9 0 1 0 1.8 0a0.9 0.9 0 1 0 -1.8 0M162.4 166.5m-0.9 0a0.9 0.9 0 1 0 1.8 0a0.9 0.9 0 1 0 -1.8 0M158.9 197.3m-0.9 0a0.9 0.9 0 1 0 1.8 0a0.9 0.9 0 1 0 -1.8 0M165.1 182.0m-0.9 0a0.9 0.9 0 1 0 1.8 0a0.9 0.9 0 1 0 -1.8 0M160.6 164.5m-0.9 0a0.9 0.9 0 1 0 1.8 0a0.9 0.9 0 1 0 -1.8 0M164.8 187.0m-0.9 0a0.9 0.9 0 1 0 1.8 0a0.9 0.9 0 1 0 -1.8 0M159.2 187.5m-0.9 0a0.9 0.9 0 1 0 1.8 0a0.9 0.9 0 1 0 -1.8 0M162.3 213.1m-0.9 0a0.9 0.9 0 1 0 1.8 0a0.9 0.9 0 1 0 -1.8 0M161.0 187.0m-0.9 0a0.9 0.9 0 1 0 1.8 0a0.9 0.9 0 1 0 -1.8 0M158.1 205.7m-0.9 0a0.9 0.9 0 1 0 1.8 0a0.9 0.9 0 1 0 -1.8 0M160.2 198.7m-0.9 0a0.9 0.9 0 1 0 1.8 0a0.9 0.9 0 1 0 -1.8 0M160.7 199.2m-0.9 0a0.9 0.9 0 1 0 1.8 0a0.9 0.9 0 1 0 -1.8 0M160.7 163.0m-0.9 0a0.9 0.9 0 1 0 1.8 0a0.9 0.9 0 1 0 -1.8 0M158.8 184.0m-0.9 0a0.9 0.9 0 1 0 1.8 0a0.9 0.9 0 1 0 -1.8 0M158.6 178.9m-0.9 0a0.9 0.9 0 1 0 1.8 0a0.9 0.9 0 1 0 -1.8 0M174.3 208.5m-0.9 0a0.9 0.9 0 1 0 1.8 0a0.9 0.9 0 1 0 -1.8 0M199.2 202.3m-0.9 0a0.9 0.9 0 1 0 1.8 0a0.9 0.9 0 1 0 -1.8 0M177.6 168.6m-0.9 0a0.9 0.9 0 1 0 1.8 0a0.9 0.9 0 1 0 -1.8 0M167.4 211.4m-0.9 0a0.9 0.9 0 1 0 1.8 0a0.9 0.9 0 1 0 -1.8 0M158.2 163.8m-0.9 0a0.9 0.9 0 1 0 1.8 0a0.9 0.9 0 1 0 -1.8 0M158.1 196.7m-0.9 0a0.9 0.9 0 1 0 1.8 0a0.9 0.9 0 1 0 -1.8 0M161.6 197.9m-0.9 0a0.9 0.9 0 1 0 1.8 0a0.9 0.9 0 1 0 -1.8 0M159.6 191.0m-0.9 0a0.9 0.9 0 1 0 1.8 0a0.9 0.9 0 1 0 -1.8 0M159.3 195.7m-0.9 0a0.9 0.9 0 1 0 1.8 0a0.9 0.9 0 1 0 -1.8 0M164.7 193.8m-0.9 0a0.9 0.9 0 1 0 1.8 0a0.9 0.9 0 1 0 -1.8 0M173.9 196.2m-0.9 0a0.9 0.9 0 1 0 1.8 0a0.9 0.9 0 1 0 -1.8 0M160.6 180.5m-0.9 0a0.9 0.9 0 1 0 1.8 0a0.9 0.9 0 1 0 -1.8 0M170.2 203.8m-0.9 0a0.9 0.9 0 1 0 1.8 0a0.9 0.9 0 1 0 -1.8 0M161.0 209.7m-0.9 0a0.9 0.9 0 1 0 1.8 0a0.9 0.9 0 1 0 -1.8 0M160.0 195.6m-0.9 0a0.9 0.9 0 1 0 1.8 0a0.9 0.9 0 1 0 -1.8 0M159.6 212.7m-0.9 0a0.9 0.9 0 1 0 1.8 0a0.9 0.9 0 1 0 -1.8 0M167.7 195.1m-0.9 0a0.9 0.9 0 1 0 1.8 0a0.9 0.9 0 1 0 -1.8 0M164.2 193.0m-0.9 0a0.9 0.9 0 1 0 1.8 0a0.9 0.9 0 1 0 -1.8 0M158.3 174.8m-0.9 0a0.9 0.9 0 1 0 1.8 0a0.9 0.9 0 1 0 -1.8 0M163.8 212.0m-0.9 0a0.9 0.9 0 1 0 1.8 0a0.9 0.9 0 1 0 -1.8 0M158.7 197.7m-0.9 0a0.9 0.9 0 1 0 1.8 0a0.9 0.9 0 1 0 -1.8 0M158.2 175.2m-0.9 0a0.9 0.9 0 1 0 1.8 0a0.9 0.9 0 1 0 -1.8 0M158.9 201.1m-0.9 0a0.9 0.9 0 1 0 1.8 0a0.9 0.9 0 1 0 -1.8 0M163.2 171.7m-0.9 0a0.9 0.9 0 1 0 1.8 0a0.9 0.9 0 1 0 -1.8 0M159.2 179.3m-0.9 0a0.9 0.9 0 1 0 1.8 0a0.9 0.9 0 1 0 -1.8 0M168.7 214.1m-0.9 0a0.9 0.9 0 1 0 1.8 0a0.9 0.9 0 1 0 -1.8 0M165.0 198.3m-0.9 0a0.9 0.9 0 1 0 1.8 0a0.9 0.9 0 1 0 -1.8 0M160.1 175.6m-0.9 0a0.9 0.9 0 1 0 1.8 0a0.9 0.9 0 1 0 -1.8 0M182.8 190.9m-0.9 0a0.9 0.9 0 1 0 1.8 0a0.9 0.9 0 1 0 -1.8 0M159.7 182.1m-0.9 0a0.9 0.9 0 1 0 1.8 0a0.9 0.9 0 1 0 -1.8 0M162.0 161.6m-0.9 0a0.9 0.9 0 1 0 1.8 0a0.9 0.9 0 1 0 -1.8 0M163.0 181.8m-0.9 0a0.9 0.9 0 1 0 1.8 0a0.9 0.9 0 1 0 -1.8 0M160.1 190.0m-0.9 0a0.9 0.9 0 1 0 1.8 0a0.9 0.9 0 1 0 -1.8 0M159.6 170.8m-0.9 0a0.9 0.9 0 1 0 1.8 0a0.9 0.9 0 1 0 -1.8 0M168.1 196.5m-0.9 0a0.9 0.9 0 1 0 1.8 0a0.9 0.9 0 1 0 -1.8 0M177.4 214.4m-0.9 0a0.9 0.9 0 1 0 1.8 0a0.9 0.9 0 1 0 -1.8 0M160.7 204.5m-0.9 0a0.9 0.9 0 1 0 1.8 0a0.9 0.9 0 1 0 -1.8 0M162.9 187.1m-0.9 0a0.9 0.9 0 1 0 1.8 0a0.9 0.9 0 1 0 -1.8 0M160.1 163.9m-0.9 0a0.9 0.9 0 1 0 1.8 0a0.9 0.9 0 1 0 -1.8 0M161.1 186.2m-0.9 0a0.9 0.9 0 1 0 1.8 0a0.9 0.9 0 1 0 -1.8 0M160.8 203.5m-0.9 0a0.9 0.9 0 1 0 1.8 0a0.9 0.9 0 1 0 -1.8 0M170.6 160.8m-0.9 0a0.9 0.9 0 1 0 1.8 0a0.9 0.9 0 1 0 -1.8 0M160.6 197.7m-0.9 0a0.9 0.9 0 1 0 1.8 0a0.9 0.9 0 1 0 -1.8 0M159.3 206.6m-0.9 0a0.9 0.9 0 1 0 1.8 0a0.9 0.9 0 1 0 -1.8 0M162.3 188.9m-0.9 0a0.9 0.9 0 1 0 1.8 0a0.9 0.9 0 1 0 -1.8 0M164.3 201.1m-0.9 0a0.9 0.9 0 1 0 1.8 0a0.9 0.9 0 1 0 -1.8 0M193.8 211.0m-0.9 0a0.9 0.9 0 1 0 1.8 0a0.9 0.9 0 1 0 -1.8 0M163.4 179.3m-0.9 0a0.9 0.9 0 1 0 1.8 0a0.9 0.9 0 1 0 -1.8 0M159.1 180.7m-0.9 0a0.9 0.9 0 1 0 1.8 0a0.9 0.9 0 1 0 -1.8 0M158.3 162.6m-0.9 0a0.9 0.9 0 1 0 1.8 0a0.9 0.9 0 1 0 -1.8 0M161.8 210.3m-0.9 0a0.9 0.9 0 1 0 1.8 0a0.9 0.9 0 1 0 -1.8 0M159.3 166.3m-0.9 0a0.9 0.9 0 1 0 1.8 0a0.9 0.9 0 1 0 -1.8 0M160.4 173.9m-0.9 0a0.9 0.9 0 1 0 1.8 0a0.9 0.9 0 1 0 -1.8 0M162.4 205.0m-0.9 0a0.9 0.9 0 1 0 1.8 0a0.9 0.9 0 1 0 -1.8 0M161.0 193.5m-0.9 0a0.9 0.9 0 1 0 1.8 0a0.9 0.9 0 1 0 -1.8 0M163.4 184.4m-0.9 0a0.9 0.9 0 1 0 1.8 0a0.9 0.9 0 1 0 -1.8 0M193.6 202.4m-0.9 0a0.9 0.9 0 1 0 1.8 0a0.9 0.9 0 1 0 -1.8 0M159.4 211.6m-0.9 0a0.9 0.9 0 1 0 1.8 0a0.9 0.9 0 1 0 -1.8 0M162.4 171.4m-0.9 0a0.9 0.9 0 1 0 1.8 0a0.9 0.9 0 1 0 -1.8 0M166.2 208.9m-0.9 0a0.9 0.9 0 1 0 1.8 0a0.9 0.9 0 1 0 -1.8 0M160.2 192.5m-0.9 0a0.9 0.9 0 1 0 1.8 0a0.9 0.9 0 1 0 -1.8 0M162.4 196.1m-0.9 0a0.9 0.9 0 1 0 1.8 0a0.9 0.9 0 1 0 -1.8 0M159.3 167.3m-0.9 0a0.9 0.9 0 1 0 1.8 0a0.9 0.9 0 1 0 -1.8 0M166.0 188.6m-0.9 0a0.9 0.9 0 1 0 1.8 0a0.9 0.9 0 1 0 -1.8 0M160.7 196.1m-0.9 0a0.9 0.9 0 1 0 1.8 0a0.9 0.9 0 1 0 -1.8 0M175.9 162.8m-0.9 0a0.9 0.9 0 1 0 1.8 0a0.9 0.9 0 1 0 -1.8 0M160.6 200.5m-0.9 0a0.9 0.9 0 1 0 1.8 0a0.9 0.9 0 1 0 -1.8 0M166.1 178.8m-0.9 0a0.9 0.9 0 1 0 1.8 0a0.9 0.9 0 1 0 -1.8 0M170.4 206.5m-0.9 0a0.9 0.9 0 1 0 1.8 0a0.9 0.9 0 1 0 -1.8 0M161.5 176.5m-0.9 0a0.9 0.9 0 1 0 1.8 0a0.9 0.9 0 1 0 -1.8 0M160.3 177.3m-0.9 0a0.9 0.9 0 1 0 1.8 0a0.9 0.9 0 1 0 -1.8 0M160.2 171.8m-0.9 0a0.9 0.9 0 1 0 1.8 0a0.9 0.9 0 1 0 -1.8 0M160.3 193.2m-0.9 0a0.9 0.9 0 1 0 1.8 0a0.9 0.9 0 1 0 -1.8 0M166.7 206.5m-0.9 0a0.9 0.9 0 1 0 1.8 0a0.9 0.9 0 1 0 -1.8 0M166.6 184.6m-0.9 0a0.9 0.9 0 1 0 1.8 0a0.9 0.9 0 1 0 -1.8 0M161.8 166.5m-0.9 0a0.9 0.9 0 1 0 1.8 0a0.9 0.9 0 1 0 -1.8 0M164.5 202.3m-0.9 0a0.9 0.9 0 1 0 1.8 0a0.9 0.9 0 1 0 -1.8 0M159.2 214.7m-0.9 0a0.9 0.9 0 1 0 1.8 0a0.9 0.9 0 1 0 -1.8 0M162.6 208.8m-0.9 0a0.9 0.9 0 1 0 1.8 0a0.9 0.9 0 1 0 -1.8 0M163.7 165.2m-0.9 0a0.9 0.9 0 1 0 1.8 0a0.9 0.9 0 1 0 -1.8 0M187.6 214.5m-0.9 0a0.9 0.9 0 1 0 1.8 0a0.9 0.9 0 1 0 -1.8 0M160.1 213.2m-0.9 0a0.9 0.9 0 1 0 1.8 0a0.9 0.9 0 1 0 -1.8 0M160.6 212.1m-0.9 0a0.9 0.9 0 1 0 1.8 0a0.9 0.9 0 1 0 -1.8 0M163.8 168.4m-0.9 0a0.9 0.9 0 1 0 1.8 0a0.9 0.9 0 1 0 -1.8 0M161.4 198.1m-0.9 0a0.9 0.9 0 1 0 1.8 0a0.9 0.9 0 1 0 -1.8 0M158.5 180.7m-0.9 0a0.9 0.9 0 1 0 1.8 0a0.9 0.9 0 1 0 -1.8 0M159.5 179.6m-0.9 0a0.9 0.9 0 1 0 1.8 0a0.9 0.9 0 1 0 -1.8 0M202.9 196.3m-0.9 0a0.9 0.9 0 1 0 1.8 0a0.9 0.9 0 1 0 -1.8 0M158.7 177.9m-0.9 0a0.9 0.9 0 1 0 1.8 0a0.9 0.9 0 1 0 -1.8 0M160.8 193.9m-0.9 0a0.9 0.9 0 1 0 1.8 0a0.9 0.9 0 1 0 -1.8 0M173.8 190.1m-0.9 0a0.9 0.9 0 1 0 1.8 0a0.9 0.9 0 1 0 -1.8 0M165.7 203.1m-0.9 0a0.9 0.9 0 1 0 1.8 0a0.9 0.9 0 1 0 -1.8 0M173.8 215.2m-0.9 0a0.9 0.9 0 1 0 1.8 0a0.9 0.9 0 1 0 -1.8 0M178.2 186.4m-0.9 0a0.9 0.9 0 1 0 1.8 0a0.9 0.9 0 1 0 -1.8 0M159.7 204.5m-0.9 0a0.9 0.9 0 1 0 1.8 0a0.9 0.9 0 1 0 -1.8 0M166.4 204.2m-0.9 0a0.9 0.9 0 1 0 1.8 0a0.9 0.9 0 1 0 -1.8 0M158.9 146.0m-0.9 0a0.9 0.9 0 1 0 1.8 0a0.9 0.9 0 1 0 -1.8 0M158.9 186.6m-0.9 0a0.9 0.9 0 1 0 1.8 0a0.9 0.9 0 1 0 -1.8 0M159.1 206.4m-0.9 0a0.9 0.9 0 1 0 1.8 0a0.9 0.9 0 1 0 -1.8 0M162.6 165.1m-0.9 0a0.9 0.9 0 1 0 1.8 0a0.9 0.9 0 1 0 -1.8 0M158.8 172.7m-0.9 0a0.9 0.9 0 1 0 1.8 0a0.9 0.9 0 1 0 -1.8 0M173.7 210.5m-0.9 0a0.9 0.9 0 1 0 1.8 0a0.9 0.9 0 1 0 -1.8 0M160.1 187.6m-0.9 0a0.9 0.9 0 1 0 1.8 0a0.9 0.9 0 1 0 -1.8 0M158.6 167.2m-0.9 0a0.9 0.9 0 1 0 1.8 0a0.9 0.9 0 1 0 -1.8 0M169.3 193.4m-0.9 0a0.9 0.9 0 1 0 1.8 0a0.9 0.9 0 1 0 -1.8 0M162.2 137.4m-0.9 0a0.9 0.9 0 1 0 1.8 0a0.9 0.9 0 1 0 -1.8 0M158.6 151.9m-0.9 0a0.9 0.9 0 1 0 1.8 0a0.9 0.9 0 1 0 -1.8 0M159.7 175.0m-0.9 0a0.9 0.9 0 1 0 1.8 0a0.9 0.9 0 1 0 -1.8 0M161.0 142.3m-0.9 0a0.9 0.9 0 1 0 1.8 0a0.9 0.9 0 1 0 -1.8 0M163.0 211.9m-0.9 0a0.9 0.9 0 1 0 1.8 0a0.9 0.9 0 1 0 -1.8 0M159.0 197.4m-0.9 0a0.9 0.9 0 1 0 1.8 0a0.9 0.9 0 1 0 -1.8 0M160.5 143.0m-0.9 0a0.9 0.9 0 1 0 1.8 0a0.9 0.9 0 1 0 -1.8 0M165.7 175.2m-0.9 0a0.9 0.9 0 1 0 1.8 0a0.9 0.9 0 1 0 -1.8 0M186.8 201.9m-0.9 0a0.9 0.9 0 1 0 1.8 0a0.9 0.9 0 1 0 -1.8 0M161.0 169.7m-0.9 0a0.9 0.9 0 1 0 1.8 0a0.9 0.9 0 1 0 -1.8 0M160.1 157.1m-0.9 0a0.9 0.9 0 1 0 1.8 0a0.9 0.9 0 1 0 -1.8 0M159.8 167.0m-0.9 0a0.9 0.9 0 1 0 1.8 0a0.9 0.9 0 1 0 -1.8 0M158.3 211.4m-0.9 0a0.9 0.9 0 1 0 1.8 0a0.9 0.9 0 1 0 -1.8 0M175.4 212.5m-0.9 0a0.9 0.9 0 1 0 1.8 0a0.9 0.9 0 1 0 -1.8 0M158.0 183.1m-0.9 0a0.9 0.9 0 1 0 1.8 0a0.9 0.9 0 1 0 -1.8 0M173.3 213.6m-0.9 0a0.9 0.9 0 1 0 1.8 0a0.9 0.9 0 1 0 -1.8 0M178.7 208.0m-0.9 0a0.9 0.9 0 1 0 1.8 0a0.9 0.9 0 1 0 -1.8 0M159.9 164.6m-0.9 0a0.9 0.9 0 1 0 1.8 0a0.9 0.9 0 1 0 -1.8 0M160.0 180.7m-0.9 0a0.9 0.9 0 1 0 1.8 0a0.9 0.9 0 1 0 -1.8 0M164.9 208.5m-0.9 0a0.9 0.9 0 1 0 1.8 0a0.9 0.9 0 1 0 -1.8 0M159.3 145.5m-0.9 0a0.9 0.9 0 1 0 1.8 0a0.9 0.9 0 1 0 -1.8 0M161.3 185.8m-0.9 0a0.9 0.9 0 1 0 1.8 0a0.9 0.9 0 1 0 -1.8 0M160.8 145.3m-0.9 0a0.9 0.9 0 1 0 1.8 0a0.9 0.9 0 1 0 -1.8 0M166.3 167.3m-0.9 0a0.9 0.9 0 1 0 1.8 0a0.9 0.9 0 1 0 -1.8 0M161.6 165.7m-0.9 0a0.9 0.9 0 1 0 1.8 0a0.9 0.9 0 1 0 -1.8 0M163.4 181.4m-0.9 0a0.9 0.9 0 1 0 1.8 0a0.9 0.9 0 1 0 -1.8 0M158.6 161.5m-0.9 0a0.9 0.9 0 1 0 1.8 0a0.9 0.9 0 1 0 -1.8 0M159.1 195.2m-0.9 0a0.9 0.9 0 1 0 1.8 0a0.9 0.9 0 1 0 -1.8 0M158.4 194.4m-0.9 0a0.9 0.9 0 1 0 1.8 0a0.9 0.9 0 1 0 -1.8 0M158.9 146.2m-0.9 0a0.9 0.9 0 1 0 1.8 0a0.9 0.9 0 1 0 -1.8 0M170.4 199.0m-0.9 0a0.9 0.9 0 1 0 1.8 0a0.9 0.9 0 1 0 -1.8 0M166.1 184.5m-0.9 0a0.9 0.9 0 1 0 1.8 0a0.9 0.9 0 1 0 -1.8 0M159.5 156.1m-0.9 0a0.9 0.9 0 1 0 1.8 0a0.9 0.9 0 1 0 -1.8 0M165.6 188.7m-0.9 0a0.9 0.9 0 1 0 1.8 0a0.9 0.9 0 1 0 -1.8 0M160.0 186.3m-0.9 0a0.9 0.9 0 1 0 1.8 0a0.9 0.9 0 1 0 -1.8 0M162.7 143.2m-0.9 0a0.9 0.9 0 1 0 1.8 0a0.9 0.9 0 1 0 -1.8 0M161.7 198.2m-0.9 0a0.9 0.9 0 1 0 1.8 0a0.9 0.9 0 1 0 -1.8 0M161.0 196.0m-0.9 0a0.9 0.9 0 1 0 1.8 0a0.9 0.9 0 1 0 -1.8 0M171.8 145.4m-0.9 0a0.9 0.9 0 1 0 1.8 0a0.9 0.9 0 1 0 -1.8 0M175.0 192.8m-0.9 0a0.9 0.9 0 1 0 1.8 0a0.9 0.9 0 1 0 -1.8 0M158.1 189.4m-0.9 0a0.9 0.9 0 1 0 1.8 0a0.9 0.9 0 1 0 -1.8 0M163.2 144.9m-0.9 0a0.9 0.9 0 1 0 1.8 0a0.9 0.9 0 1 0 -1.8 0M162.4 189.4m-0.9 0a0.9 0.9 0 1 0 1.8 0a0.9 0.9 0 1 0 -1.8 0M166.8 136.7m-0.9 0a0.9 0.9 0 1 0 1.8 0a0.9 0.9 0 1 0 -1.8 0M159.6 150.6m-0.9 0a0.9 0.9 0 1 0 1.8 0a0.9 0.9 0 1 0 -1.8 0M161.1 147.8m-0.9 0a0.9 0.9 0 1 0 1.8 0a0.9 0.9 0 1 0 -1.8 0M159.1 197.4m-0.9 0a0.9 0.9 0 1 0 1.8 0a0.9 0.9 0 1 0 -1.8 0M163.0 197.9m-0.9 0a0.9 0.9 0 1 0 1.8 0a0.9 0.9 0 1 0 -1.8 0M160.4 155.4m-0.9 0a0.9 0.9 0 1 0 1.8 0a0.9 0.9 0 1 0 -1.8 0M160.4 150.0m-0.9 0a0.9 0.9 0 1 0 1.8 0a0.9 0.9 0 1 0 -1.8 0M159.1 197.4m-0.9 0a0.9 0.9 0 1 0 1.8 0a0.9 0.9 0 1 0 -1.8 0M162.6 198.4m-0.9 0a0.9 0.9 0 1 0 1.8 0a0.9 0.9 0 1 0 -1.8 0M177.6 195.7m-0.9 0a0.9 0.9 0 1 0 1.8 0a0.9 0.9 0 1 0 -1.8 0M159.7 204.3m-0.9 0a0.9 0.9 0 1 0 1.8 0a0.9 0.9 0 1 0 -1.8 0M167.2 181.8m-0.9 0a0.9 0.9 0 1 0 1.8 0a0.9 0.9 0 1 0 -1.8 0M158.8 175.3m-0.9 0a0.9 0.9 0 1 0 1.8 0a0.9 0.9 0 1 0 -1.8 0M158.2 165.6m-0.9 0a0.9 0.9 0 1 0 1.8 0a0.9 0.9 0 1 0 -1.8 0M163.6 210.2m-0.9 0a0.9 0.9 0 1 0 1.8 0a0.9 0.9 0 1 0 -1.8 0M163.1 199.3m-0.9 0a0.9 0.9 0 1 0 1.8 0a0.9 0.9 0 1 0 -1.8 0M183.2 205.2m-0.9 0a0.9 0.9 0 1 0 1.8 0a0.9 0.9 0 1 0 -1.8 0M158.1 193.8m-0.9 0a0.9 0.9 0 1 0 1.8 0a0.9 0.9 0 1 0 -1.8 0M164.5 200.2m-0.9 0a0.9 0.9 0 1 0 1.8 0a0.9 0.9 0 1 0 -1.8 0M162.7 141.4m-0.9 0a0.9 0.9 0 1 0 1.8 0a0.9 0.9 0 1 0 -1.8 0M161.2 186.0m-0.9 0a0.9 0.9 0 1 0 1.8 0a0.9 0.9 0 1 0 -1.8 0M169.2 203.6m-0.9 0a0.9 0.9 0 1 0 1.8 0a0.9 0.9 0 1 0 -1.8 0M158.8 162.2m-0.9 0a0.9 0.9 0 1 0 1.8 0a0.9 0.9 0 1 0 -1.8 0M159.9 138.1m-0.9 0a0.9 0.9 0 1 0 1.8 0a0.9 0.9 0 1 0 -1.8 0M158.3 152.3m-0.9 0a0.9 0.9 0 1 0 1.8 0a0.9 0.9 0 1 0 -1.8 0M164.3 164.2m-0.9 0a0.9 0.9 0 1 0 1.8 0a0.9 0.9 0 1 0 -1.8 0M158.2 185.2m-0.9 0a0.9 0.9 0 1 0 1.8 0a0.9 0.9 0 1 0 -1.8 0M158.4 182.9m-0.9 0a0.9 0.9 0 1 0 1.8 0a0.9 0.9 0 1 0 -1.8 0M169.5 191.3m-0.9 0a0.9 0.9 0 1 0 1.8 0a0.9 0.9 0 1 0 -1.8 0M161.0 151.1m-0.9 0a0.9 0.9 0 1 0 1.8 0a0.9 0.9 0 1 0 -1.8 0M160.0 151.6m-0.9 0a0.9 0.9 0 1 0 1.8 0a0.9 0.9 0 1 0 -1.8 0M158.5 175.9m-0.9 0a0.9 0.9 0 1 0 1.8 0a0.9 0.9 0 1 0 -1.8 0M158.7 147.0m-0.9 0a0.9 0.9 0 1 0 1.8 0a0.9 0.9 0 1 0 -1.8 0M165.2 163.4m-0.9 0a0.9 0.9 0 1 0 1.8 0a0.9 0.9 0 1 0 -1.8 0M159.6 161.0m-0.9 0a0.9 0.9 0 1 0 1.8 0a0.9 0.9 0 1 0 -1.8 0M163.7 193.8m-0.9 0a0.9 0.9 0 1 0 1.8 0a0.9 0.9 0 1 0 -1.8 0M161.7 196.0m-0.9 0a0.9 0.9 0 1 0 1.8 0a0.9 0.9 0 1 0 -1.8 0M159.9 197.2m-0.9 0a0.9 0.9 0 1 0 1.8 0a0.9 0.9 0 1 0 -1.8 0M174.4 142.5m-0.9 0a0.9 0.9 0 1 0 1.8 0a0.9 0.9 0 1 0 -1.8 0M159.0 152.0m-0.9 0a0.9 0.9 0 1 0 1.8 0a0.9 0.9 0 1 0 -1.8 0M160.2 144.1m-0.9 0a0.9 0.9 0 1 0 1.8 0a0.9 0.9 0 1 0 -1.8 0M161.7 150.2m-0.9 0a0.9 0.9 0 1 0 1.8 0a0.9 0.9 0 1 0 -1.8 0M161.6 151.3m-0.9 0a0.9 0.9 0 1 0 1.8 0a0.9 0.9 0 1 0 -1.8 0M160.6 180.1m-0.9 0a0.9 0.9 0 1 0 1.8 0a0.9 0.9 0 1 0 -1.8 0M158.6 154.9m-0.9 0a0.9 0.9 0 1 0 1.8 0a0.9 0.9 0 1 0 -1.8 0M162.0 202.1m-0.9 0a0.9 0.9 0 1 0 1.8 0a0.9 0.9 0 1 0 -1.8 0M164.1 163.7m-0.9 0a0.9 0.9 0 1 0 1.8 0a0.9 0.9 0 1 0 -1.8 0M158.5 211.5m-0.9 0a0.9 0.9 0 1 0 1.8 0a0.9 0.9 0 1 0 -1.8 0M160.9 139.1m-0.9 0a0.9 0.9 0 1 0 1.8 0a0.9 0.9 0 1 0 -1.8 0M162.3 145.9m-0.9 0a0.9 0.9 0 1 0 1.8 0a0.9 0.9 0 1 0 -1.8 0M168.3 202.0m-0.9 0a0.9 0.9 0 1 0 1.8 0a0.9 0.9 0 1 0 -1.8 0M158.8 154.7m-0.9 0a0.9 0.9 0 1 0 1.8 0a0.9 0.9 0 1 0 -1.8 0M158.8 150.2m-0.9 0a0.9 0.9 0 1 0 1.8 0a0.9 0.9 0 1 0 -1.8 0M173.6 211.2m-0.9 0a0.9 0.9 0 1 0 1.8 0a0.9 0.9 0 1 0 -1.8 0M163.9 169.9m-0.9 0a0.9 0.9 0 1 0 1.8 0a0.9 0.9 0 1 0 -1.8 0M174.5 181.7m-0.9 0a0.9 0.9 0 1 0 1.8 0a0.9 0.9 0 1 0 -1.8 0M160.9 166.1m-0.9 0a0.9 0.9 0 1 0 1.8 0a0.9 0.9 0 1 0 -1.8 0M158.6 145.1m-0.9 0a0.9 0.9 0 1 0 1.8 0a0.9 0.9 0 1 0 -1.8 0M159.6 157.9m-0.9 0a0.9 0.9 0 1 0 1.8 0a0.9 0.9 0 1 0 -1.8 0M163.1 198.7m-0.9 0a0.9 0.9 0 1 0 1.8 0a0.9 0.9 0 1 0 -1.8 0M159.1 171.5m-0.9 0a0.9 0.9 0 1 0 1.8 0a0.9 0.9 0 1 0 -1.8 0M168.7 170.2m-0.9 0a0.9 0.9 0 1 0 1.8 0a0.9 0.9 0 1 0 -1.8 0M172.1 213.9m-0.9 0a0.9 0.9 0 1 0 1.8 0a0.9 0.9 0 1 0 -1.8 0M158.5 204.9m-0.9 0a0.9 0.9 0 1 0 1.8 0a0.9 0.9 0 1 0 -1.8 0M160.9 186.8m-0.9 0a0.9 0.9 0 1 0 1.8 0a0.9 0.9 0 1 0 -1.8 0M159.6 200.4m-0.9 0a0.9 0.9 0 1 0 1.8 0a0.9 0.9 0 1 0 -1.8 0M162.4 196.4m-0.9 0a0.9 0.9 0 1 0 1.8 0a0.9 0.9 0 1 0 -1.8 0M158.0 161.2m-0.9 0a0.9 0.9 0 1 0 1.8 0a0.9 0.9 0 1 0 -1.8 0M159.3 139.1m-0.9 0a0.9 0.9 0 1 0 1.8 0a0.9 0.9 0 1 0 -1.8 0M160.8 179.3m-0.9 0a0.9 0.9 0 1 0 1.8 0a0.9 0.9 0 1 0 -1.8 0M158.9 163.5m-0.9 0a0.9 0.9 0 1 0 1.8 0a0.9 0.9 0 1 0 -1.8 0M167.3 155.2m-0.9 0a0.9 0.9 0 1 0 1.8 0a0.9 0.9 0 1 0 -1.8 0M164.4 161.8m-0.9 0a0.9 0.9 0 1 0 1.8 0a0.9 0.9 0 1 0 -1.8 0M163.7 163.6m-0.9 0a0.9 0.9 0 1 0 1.8 0a0.9 0.9 0 1 0 -1.8 0M158.4 215.2m-0.9 0a0.9 0.9 0 1 0 1.8 0a0.9 0.9 0 1 0 -1.8 0M159.6 145.8m-0.9 0a0.9 0.9 0 1 0 1.8 0a0.9 0.9 0 1 0 -1.8 0M176.3 202.4m-0.9 0a0.9 0.9 0 1 0 1.8 0a0.9 0.9 0 1 0 -1.8 0M158.5 201.1m-0.9 0a0.9 0.9 0 1 0 1.8 0a0.9 0.9 0 1 0 -1.8 0" fill="#E0421F"/>
<path d="M175.3 98.4m-0.9 0a0.9 0.9 0 1 0 1.8 0a0.9 0.9 0 1 0 -1.8 0M166.1 110.0m-0.9 0a0.9 0.9 0 1 0 1.8 0a0.9 0.9 0 1 0 -1.8 0M180.0 115.7m-0.9 0a0.9 0.9 0 1 0 1.8 0a0.9 0.9 0 1 0 -1.8 0M161.5 119.2m-0.9 0a0.9 0.9 0 1 0 1.8 0a0.9 0.9 0 1 0 -1.8 0M168.0 118.0m-0.9 0a0.9 0.9 0 1 0 1.8 0a0.9 0.9 0 1 0 -1.8 0M165.0 125.0m-0.9 0a0.9 0.9 0 1 0 1.8 0a0.9 0.9 0 1 0 -1.8 0M173.0 127.2m-0.9 0a0.9 0.9 0 1 0 1.8 0a0.9 0.9 0 1 0 -1.8 0M169.6 129.5m-0.9 0a0.9 0.9 0 1 0 1.8 0a0.9 0.9 0 1 0 -1.8 0M162.7 131.8m-0.9 0a0.9 0.9 0 1 0 1.8 0a0.9 0.9 0 1 0 -1.8 0M165.0 135.3m-0.9 0a0.9 0.9 0 1 0 1.8 0a0.9 0.9 0 1 0 -1.8 0M170.7 136.5m-0.9 0a0.9 0.9 0 1 0 1.8 0a0.9 0.9 0 1 0 -1.8 0M168.4 144.5m-0.9 0a0.9 0.9 0 1 0 1.8 0a0.9 0.9 0 1 0 -1.8 0M171.9 143.4m-0.9 0a0.9 0.9 0 1 0 1.8 0a0.9 0.9 0 1 0 -1.8 0M182.3 144.5m-0.9 0a0.9 0.9 0 1 0 1.8 0a0.9 0.9 0 1 0 -1.8 0M189.2 149.1m-0.9 0a0.9 0.9 0 1 0 1.8 0a0.9 0.9 0 1 0 -1.8 0M178.8 172.2m-0.9 0a0.9 0.9 0 1 0 1.8 0a0.9 0.9 0 1 0 -1.8 0M186.9 173.3m-0.9 0a0.9 0.9 0 1 0 1.8 0a0.9 0.9 0 1 0 -1.8 0M189.2 173.3m-0.9 0a0.9 0.9 0 1 0 1.8 0a0.9 0.9 0 1 0 -1.8 0M198.4 177.9m-0.9 0a0.9 0.9 0 1 0 1.8 0a0.9 0.9 0 1 0 -1.8 0M208.8 175.6m-0.9 0a0.9 0.9 0 1 0 1.8 0a0.9 0.9 0 1 0 -1.8 0M228.3 167.1m-0.9 0a0.9 0.9 0 1 0 1.8 0a0.9 0.9 0 1 0 -1.8 0M177.6 182.5m-0.9 0a0.9 0.9 0 1 0 1.8 0a0.9 0.9 0 1 0 -1.8 0M174.2 188.3m-0.9 0a0.9 0.9 0 1 0 1.8 0a0.9 0.9 0 1 0 -1.8 0M182.3 204.4m-0.9 0a0.9 0.9 0 1 0 1.8 0a0.9 0.9 0 1 0 -1.8 0M184.6 207.9m-0.9 0a0.9 0.9 0 1 0 1.8 0a0.9 0.9 0 1 0 -1.8 0M197.2 211.3m-0.9 0a0.9 0.9 0 1 0 1.8 0a0.9 0.9 0 1 0 -1.8 0M159.0 122.0m-0.9 0a0.9 0.9 0 1 0 1.8 0a0.9 0.9 0 1 0 -1.8 0M158.5 135.0m-0.9 0a0.9 0.9 0 1 0 1.8 0a0.9 0.9 0 1 0 -1.8 0M160.0 140.0m-0.9 0a0.9 0.9 0 1 0 1.8 0a0.9 0.9 0 1 0 -1.8 0M163.0 145.0m-0.9 0a0.9 0.9 0 1 0 1.8 0a0.9 0.9 0 1 0 -1.8 0M175.0 160.0m-0.9 0a0.9 0.9 0 1 0 1.8 0a0.9 0.9 0 1 0 -1.8 0M180.0 190.0m-0.9 0a0.9 0.9 0 1 0 1.8 0a0.9 0.9 0 1 0 -1.8 0M190.0 200.0m-0.9 0a0.9 0.9 0 1 0 1.8 0a0.9 0.9 0 1 0 -1.8 0M185.0 195.0m-0.9 0a0.9 0.9 0 1 0 1.8 0a0.9 0.9 0 1 0 -1.8 0" fill="#E0421F"/>
<path d="M198.3 55.0m-0.95 0a0.95 0.95 0 1 0 1.9 0a0.95 0.95 0 1 0 -1.9 0M208.1 118.6m-0.95 0a0.95 0.95 0 1 0 1.9 0a0.95 0.95 0 1 0 -1.9 0M220.9 150.7m-0.95 0a0.95 0.95 0 1 0 1.9 0a0.95 0.95 0 1 0 -1.9 0M234.1 186.5m-0.95 0a0.95 0.95 0 1 0 1.9 0a0.95 0.95 0 1 0 -1.9 0" fill="#E0421F"/>
<path d="M130.8 122.9m-0.95 0a0.95 0.95 0 1 0 1.9 0a0.95 0.95 0 1 0 -1.9 0M130.0 153.0m-0.95 0a0.95 0.95 0 1 0 1.9 0a0.95 0.95 0 1 0 -1.9 0M130.6 168.2m-0.95 0a0.95 0.95 0 1 0 1.9 0a0.95 0.95 0 1 0 -1.9 0M130.0 181.2m-0.95 0a0.95 0.95 0 1 0 1.9 0a0.95 0.95 0 1 0 -1.9 0" fill="#5230A8"/>
<text x="203.50" y="58.10" font-size="11.2" text-anchor="start" font-weight="bold" font-style="normal" fill="#111" >CEMIP</text>
<text x="212.60" y="121.90" font-size="11.2" text-anchor="start" font-weight="bold" font-style="normal" fill="#111" >DESC1</text>
<text x="225.40" y="153.90" font-size="11.2" text-anchor="start" font-weight="bold" font-style="normal" fill="#111" >MMP13</text>
<text x="238.90" y="188.40" font-size="11.2" text-anchor="start" font-weight="bold" font-style="normal" fill="#111" >CEACAM6</text>
<text x="171.40" y="141.10" font-size="11.2" text-anchor="start" font-weight="bold" font-style="normal" fill="#111" >GJB4</text>
<text x="171.40" y="200.20" font-size="11.2" text-anchor="start" font-weight="bold" font-style="normal" fill="#111" >ARNT2</text>
<text x="125.90" y="125.70" font-size="11.2" text-anchor="end" font-weight="bold" font-style="normal" fill="#111" >CLDN2</text>
<text x="124.20" y="155.90" font-size="11.2" text-anchor="end" font-weight="bold" font-style="normal" fill="#111" >PPFIBP2</text>
<text x="125.40" y="171.00" font-size="11.2" text-anchor="end" font-weight="bold" font-style="normal" fill="#111" >C2CD4A</text>
<text x="125.40" y="185.00" font-size="11.2" text-anchor="end" font-weight="bold" font-style="normal" fill="#111" >ADH1C</text>
<line x1="57.80" y1="41.70" x2="57.80" y2="231.00" stroke="#111" stroke-width="1.8" />
<line x1="56.70" y1="230.20" x2="245.50" y2="230.20" stroke="#111" stroke-width="1.7" />
<line x1="51.20" y1="230.00" x2="57.50" y2="230.00" stroke="#111" stroke-width="1.5" />
<text transform="translate(48.00 234.70) scale(1 1.13)" font-size="11.5" text-anchor="end" font-weight="bold" font-style="normal" fill="#111" >0</text>
<line x1="51.20" y1="192.40" x2="57.50" y2="192.40" stroke="#111" stroke-width="1.5" />
<text transform="translate(48.00 197.10) scale(1 1.13)" font-size="11.5" text-anchor="end" font-weight="bold" font-style="normal" fill="#111" >5</text>
<line x1="51.20" y1="154.80" x2="57.50" y2="154.80" stroke="#111" stroke-width="1.5" />
<text transform="translate(48.00 159.50) scale(1 1.13)" font-size="11.5" text-anchor="end" font-weight="bold" font-style="normal" fill="#111" >10</text>
<line x1="51.20" y1="117.20" x2="57.50" y2="117.20" stroke="#111" stroke-width="1.5" />
<text transform="translate(48.00 121.90) scale(1 1.13)" font-size="11.5" text-anchor="end" font-weight="bold" font-style="normal" fill="#111" >15</text>
<line x1="51.20" y1="79.60" x2="57.50" y2="79.60" stroke="#111" stroke-width="1.5" />
<text transform="translate(48.00 84.30) scale(1 1.13)" font-size="11.5" text-anchor="end" font-weight="bold" font-style="normal" fill="#111" >20</text>
<line x1="51.20" y1="42.00" x2="57.50" y2="42.00" stroke="#111" stroke-width="1.5" />
<text transform="translate(48.00 46.70) scale(1 1.13)" font-size="11.5" text-anchor="end" font-weight="bold" font-style="normal" fill="#111" >25</text>
<line x1="92.70" y1="230.20" x2="92.70" y2="236.50" stroke="#111" stroke-width="1.6" />
<text transform="translate(91.90 250.00) scale(1 1.1)" font-size="11.5" text-anchor="middle" font-weight="bold" font-style="normal" fill="#111" >-5</text>
<line x1="151.10" y1="230.20" x2="151.10" y2="236.50" stroke="#111" stroke-width="1.6" />
<text transform="translate(151.10 250.00) scale(1 1.1)" font-size="11.5" text-anchor="middle" font-weight="bold" font-style="normal" fill="#111" >0</text>
<line x1="209.50" y1="230.20" x2="209.50" y2="236.50" stroke="#111" stroke-width="1.6" />
<text transform="translate(209.50 250.00) scale(1 1.1)" font-size="11.5" text-anchor="middle" font-weight="bold" font-style="normal" fill="#111" >5</text>
<text x="153.80" y="267.40" font-size="11.2" text-anchor="middle" font-weight="bold" font-style="normal" fill="#111" >Fold change (-log<tspan font-size="6.5" dy="2">2</tspan><tspan dy="-2">)</tspan></text>
<text transform="translate(30.3 147) rotate(-90)" font-size="11.2" text-anchor="middle" font-weight="bold" fill="#111">P-value (-log<tspan font-size="6.5" dy="2">10</tspan><tspan dy="-2">)</tspan></text>
<text transform="translate(327.40 17.30) scale(1 1.05)" font-size="19.5" text-anchor="start" font-weight="bold" font-style="normal" fill="#111" >B</text>
<line x1="366.80" y1="2.80" x2="366.80" y2="277.70" stroke="#444" stroke-width="1.2" />
<line x1="366.20" y1="277.80" x2="679.20" y2="277.80" stroke="#9a9a9a" stroke-width="1.5" />
<text x="528.30" y="291.20" font-size="11.2" text-anchor="middle" font-weight="bold" font-style="normal" fill="#111" >CEACAM6 vs Ctrl gene rank</text>
<text transform="translate(360.2 142.8) rotate(-90)" font-size="11.2" text-anchor="middle" font-weight="bold" fill="#111">Enrichment score (ES)</text>
<rect x="381.40" y="82.80" width="0.55" height="6.00" fill="rgb(22,22,30)" stroke="none" stroke-width="0" />
<rect x="381.90" y="82.80" width="1.35" height="6.00" fill="rgb(15,15,23)" stroke="none" stroke-width="0" />
<rect x="383.20" y="82.80" width="1.65" height="6.00" fill="rgb(30,30,38)" stroke="none" stroke-width="0" />
<rect x="384.80" y="82.80" width="0.65" height="6.00" fill="rgb(33,33,41)" stroke="none" stroke-width="0" />
<rect x="385.40" y="82.80" width="1.65" height="6.00" fill="rgb(67,67,75)" stroke="none" stroke-width="0" />
<rect x="387.00" y="82.80" width="0.85" height="6.00" fill="rgb(48,48,56)" stroke="none" stroke-width="0" />
<rect x="387.80" y="82.80" width="1.65" height="6.00" fill="rgb(107,107,115)" stroke="none" stroke-width="0" />
<rect x="389.40" y="82.80" width="0.85" height="6.00" fill="rgb(59,59,67)" stroke="none" stroke-width="0" />
<rect x="390.20" y="82.80" width="1.65" height="6.00" fill="rgb(20,20,28)" stroke="none" stroke-width="0" />
<rect x="391.80" y="82.80" width="1.05" height="6.00" fill="rgb(97,97,105)" stroke="none" stroke-width="0" />
<rect x="392.80" y="82.80" width="0.85" height="6.00" fill="rgb(29,29,37)" stroke="none" stroke-width="0" />
<rect x="393.60" y="82.80" width="1.05" height="6.00" fill="rgb(51,51,59)" stroke="none" stroke-width="0" />
<rect x="394.60" y="82.80" width="0.85" height="6.00" fill="rgb(108,108,116)" stroke="none" stroke-width="0" />
<rect x="395.40" y="82.80" width="0.85" height="6.00" fill="rgb(99,99,107)" stroke="none" stroke-width="0" />
<rect x="396.20" y="82.80" width="1.65" height="6.00" fill="rgb(33,33,41)" stroke="none" stroke-width="0" />
<rect x="397.80" y="82.80" width="1.65" height="6.00" fill="rgb(47,47,55)" stroke="none" stroke-width="0" />
<rect x="399.90" y="82.80" width="0.55" height="6.00" fill="rgb(32,32,40)" stroke="none" stroke-width="0" />
<rect x="401.80" y="82.80" width="1.35" height="6.00" fill="rgb(27,27,35)" stroke="none" stroke-width="0" />
<rect x="403.90" y="82.80" width="1.65" height="6.00" fill="rgb(92,92,100)" stroke="none" stroke-width="0" />
<rect x="405.50" y="82.80" width="1.05" height="6.00" fill="rgb(83,83,91)" stroke="none" stroke-width="0" />
<rect x="407.00" y="82.80" width="0.55" height="6.00" fill="rgb(58,58,66)" stroke="none" stroke-width="0" />
<rect x="407.50" y="82.80" width="1.05" height="6.00" fill="rgb(61,61,69)" stroke="none" stroke-width="0" />
<rect x="408.50" y="82.80" width="0.65" height="6.00" fill="rgb(24,24,32)" stroke="none" stroke-width="0" />
<rect x="409.10" y="82.80" width="0.55" height="6.00" fill="rgb(64,64,72)" stroke="none" stroke-width="0" />
<rect x="409.60" y="82.80" width="0.55" height="6.00" fill="rgb(29,29,37)" stroke="none" stroke-width="0" />
<rect x="410.10" y="82.80" width="0.85" height="6.00" fill="rgb(43,43,51)" stroke="none" stroke-width="0" />
<rect x="410.90" y="82.80" width="0.85" height="6.00" fill="rgb(103,103,111)" stroke="none" stroke-width="0" />
<rect x="412.70" y="82.80" width="1.65" height="6.00" fill="rgb(56,56,64)" stroke="none" stroke-width="0" />
<rect x="414.30" y="82.80" width="1.35" height="6.00" fill="rgb(91,91,99)" stroke="none" stroke-width="0" />
<rect x="415.60" y="82.80" width="0.55" height="6.00" fill="rgb(94,94,102)" stroke="none" stroke-width="0" />
<rect x="416.10" y="82.80" width="1.05" height="6.00" fill="rgb(42,42,50)" stroke="none" stroke-width="0" />
<rect x="417.10" y="82.80" width="0.55" height="6.00" fill="rgb(87,87,95)" stroke="none" stroke-width="0" />
<rect x="417.60" y="82.80" width="1.35" height="6.00" fill="rgb(89,89,97)" stroke="none" stroke-width="0" />
<rect x="418.90" y="82.80" width="0.55" height="6.00" fill="rgb(34,34,42)" stroke="none" stroke-width="0" />
<rect x="420.70" y="82.80" width="0.65" height="6.00" fill="rgb(54,54,62)" stroke="none" stroke-width="0" />
<rect x="421.30" y="82.80" width="1.65" height="6.00" fill="rgb(33,33,41)" stroke="none" stroke-width="0" />
<rect x="422.90" y="82.80" width="1.35" height="6.00" fill="rgb(130,130,138)" stroke="none" stroke-width="0" />
<rect x="424.20" y="82.80" width="1.65" height="6.00" fill="rgb(135,135,143)" stroke="none" stroke-width="0" />
<rect x="425.80" y="82.80" width="0.85" height="6.00" fill="rgb(56,56,64)" stroke="none" stroke-width="0" />
<rect x="426.60" y="82.80" width="0.65" height="6.00" fill="rgb(130,130,138)" stroke="none" stroke-width="0" />
<rect x="427.70" y="82.80" width="0.65" height="6.00" fill="rgb(132,132,140)" stroke="none" stroke-width="0" />
<rect x="428.30" y="82.80" width="0.55" height="6.00" fill="rgb(93,93,101)" stroke="none" stroke-width="0" />
<rect x="428.80" y="82.80" width="0.55" height="6.00" fill="rgb(82,82,90)" stroke="none" stroke-width="0" />
<rect x="429.30" y="82.80" width="0.65" height="6.00" fill="rgb(95,95,103)" stroke="none" stroke-width="0" />
<rect x="429.90" y="82.80" width="1.35" height="6.00" fill="rgb(140,140,148)" stroke="none" stroke-width="0" />
<rect x="431.20" y="82.80" width="0.65" height="6.00" fill="rgb(69,69,77)" stroke="none" stroke-width="0" />
<rect x="431.80" y="82.80" width="0.85" height="6.00" fill="rgb(75,75,83)" stroke="none" stroke-width="0" />
<rect x="432.60" y="82.80" width="1.35" height="6.00" fill="rgb(54,54,62)" stroke="none" stroke-width="0" />
<rect x="435.00" y="82.80" width="0.55" height="6.00" fill="rgb(62,62,70)" stroke="none" stroke-width="0" />
<rect x="435.50" y="82.80" width="0.85" height="6.00" fill="rgb(78,78,86)" stroke="none" stroke-width="0" />
<rect x="436.30" y="82.80" width="0.55" height="6.00" fill="rgb(110,110,118)" stroke="none" stroke-width="0" />
<rect x="436.80" y="82.80" width="1.05" height="6.00" fill="rgb(102,102,110)" stroke="none" stroke-width="0" />
<rect x="437.80" y="82.80" width="1.65" height="6.00" fill="rgb(81,81,89)" stroke="none" stroke-width="0" />
<rect x="441.20" y="82.80" width="1.35" height="6.00" fill="rgb(140,140,148)" stroke="none" stroke-width="0" />
<rect x="442.50" y="82.80" width="0.55" height="6.00" fill="rgb(55,55,63)" stroke="none" stroke-width="0" />
<rect x="443.00" y="82.80" width="1.65" height="6.00" fill="rgb(95,95,103)" stroke="none" stroke-width="0" />
<rect x="444.60" y="82.80" width="0.55" height="6.00" fill="rgb(137,137,145)" stroke="none" stroke-width="0" />
<rect x="445.10" y="82.80" width="1.35" height="6.00" fill="rgb(59,59,67)" stroke="none" stroke-width="0" />
<rect x="446.40" y="82.80" width="1.35" height="6.00" fill="rgb(59,59,67)" stroke="none" stroke-width="0" />
<rect x="449.30" y="82.80" width="0.85" height="6.00" fill="rgb(126,126,134)" stroke="none" stroke-width="0" />
<rect x="450.10" y="82.80" width="0.85" height="6.00" fill="rgb(140,140,148)" stroke="none" stroke-width="0" />
<rect x="450.90" y="82.80" width="0.85" height="6.00" fill="rgb(71,71,79)" stroke="none" stroke-width="0" />
<rect x="451.70" y="82.80" width="0.55" height="6.00" fill="rgb(60,60,68)" stroke="none" stroke-width="0" />
<rect x="452.20" y="82.80" width="0.65" height="6.00" fill="rgb(125,125,133)" stroke="none" stroke-width="0" />
<rect x="452.80" y="82.80" width="0.55" height="6.00" fill="rgb(120,120,128)" stroke="none" stroke-width="0" />
<rect x="453.30" y="82.80" width="1.65" height="6.00" fill="rgb(129,129,137)" stroke="none" stroke-width="0" />
<rect x="454.90" y="82.80" width="1.05" height="6.00" fill="rgb(50,50,58)" stroke="none" stroke-width="0" />
<rect x="455.90" y="82.80" width="0.85" height="6.00" fill="rgb(131,131,139)" stroke="none" stroke-width="0" />
<rect x="456.70" y="82.80" width="1.05" height="6.00" fill="rgb(27,27,35)" stroke="none" stroke-width="0" />
<rect x="459.00" y="82.80" width="1.35" height="6.00" fill="rgb(116,116,124)" stroke="none" stroke-width="0" />
<rect x="460.30" y="82.80" width="0.65" height="6.00" fill="rgb(55,55,63)" stroke="none" stroke-width="0" />
<rect x="460.90" y="82.80" width="1.65" height="6.00" fill="rgb(139,139,147)" stroke="none" stroke-width="0" />
<rect x="464.60" y="82.80" width="1.05" height="6.00" fill="rgb(33,33,41)" stroke="none" stroke-width="0" />
<rect x="465.60" y="82.80" width="1.65" height="6.00" fill="rgb(27,27,35)" stroke="none" stroke-width="0" />
<rect x="467.20" y="82.80" width="1.05" height="6.00" fill="rgb(101,101,109)" stroke="none" stroke-width="0" />
<rect x="468.20" y="82.80" width="1.35" height="6.00" fill="rgb(167,167,175)" stroke="none" stroke-width="0" />
<rect x="469.50" y="82.80" width="0.65" height="6.00" fill="rgb(95,95,103)" stroke="none" stroke-width="0" />
<rect x="470.10" y="82.80" width="0.15" height="6.00" fill="rgb(116,116,124)" stroke="none" stroke-width="0" />
<path d="M381.40 88.80 V16.40 H470.20 V88.80" fill="none" stroke="#8c8c8c" stroke-width="0.9"/>
<line x1="381.40" y1="82.80" x2="470.20" y2="82.80" stroke="#aaa" stroke-width="0.5" />
<line x1="381.40" y1="19.50" x2="470.20" y2="19.50" stroke="#f3f3f3" stroke-width="0.4" stroke-dasharray="1 1.2"/>
<line x1="380.00" y1="19.50" x2="381.40" y2="19.50" stroke="#777" stroke-width="0.5" />
<text transform="translate(377.30 19.50) rotate(-90)" font-size="3.4" text-anchor="middle" fill="#777">0.4</text>
<line x1="381.40" y1="32.45" x2="470.20" y2="32.45" stroke="#f3f3f3" stroke-width="0.4" stroke-dasharray="1 1.2"/>
<line x1="380.00" y1="32.45" x2="381.40" y2="32.45" stroke="#777" stroke-width="0.5" />
<text transform="translate(377.30 32.45) rotate(-90)" font-size="3.4" text-anchor="middle" fill="#777">0.3</text>
<line x1="381.40" y1="45.55" x2="470.20" y2="45.55" stroke="#f3f3f3" stroke-width="0.4" stroke-dasharray="1 1.2"/>
<line x1="380.00" y1="45.55" x2="381.40" y2="45.55" stroke="#777" stroke-width="0.5" />
<text transform="translate(377.30 45.55) rotate(-90)" font-size="3.4" text-anchor="middle" fill="#777">0.2</text>
<line x1="381.40" y1="58.65" x2="470.20" y2="58.65" stroke="#f3f3f3" stroke-width="0.4" stroke-dasharray="1 1.2"/>
<line x1="380.00" y1="58.65" x2="381.40" y2="58.65" stroke="#777" stroke-width="0.5" />
<text transform="translate(377.30 58.65) rotate(-90)" font-size="3.4" text-anchor="middle" fill="#777">0.1</text>
<line x1="381.40" y1="72.35" x2="470.20" y2="72.35" stroke="#a0a0a0" stroke-width="0.55" stroke-dasharray="1.1 1.1"/>
<line x1="380.00" y1="72.35" x2="381.40" y2="72.35" stroke="#777" stroke-width="0.5" />
<text transform="translate(377.30 72.35) rotate(-90)" font-size="3.4" text-anchor="middle" fill="#777">0.0</text>
<path d="M381.68 72.65 L381.77 71.15 L381.85 70.42 L381.94 69.20 L382.03 67.89 L382.12 66.34 L382.21 65.28 L382.29 64.11 L382.38 63.05 L382.50 62.08 L382.63 61.13 L382.76 59.19 L382.89 58.74 L383.03 56.86 L383.16 55.90 L383.29 54.79 L383.42 53.72 L383.56 52.67 L383.69 50.97 L383.82 50.24 L383.96 48.81 L384.13 48.01 L384.30 46.70 L384.47 45.31 L384.64 43.78 L384.81 42.54 L384.98 41.77 L385.15 40.74 L385.32 39.53 L385.56 37.91 L385.85 37.41 L386.14 35.73 L386.43 34.92 L386.72 33.08 L387.03 32.68 L387.36 31.10 L387.69 29.92 L388.02 28.51 L388.35 27.61 L389.27 27.26 L390.26 26.10 L391.27 25.35 L392.27 24.63 L393.28 24.19 L394.29 22.96 L395.29 23.24 L396.37 22.43 L397.53 21.61 L398.29 21.26 L398.72 20.20 L399.69 19.54 L400.78 19.15 L401.87 18.92 L402.95 19.94 L404.03 20.51 L405.10 20.67 L406.18 21.77 L407.04 21.70 L407.89 23.09 L408.74 24.12 L409.59 24.53 L410.44 26.01 L411.32 26.84 L412.22 27.12 L413.13 27.94 L414.03 29.02 L414.93 29.11 L415.84 30.43 L416.73 30.83 L417.54 32.80 L418.35 33.09 L419.15 34.26 L419.96 34.54 L420.77 35.70 L421.58 36.85 L422.38 37.53 L423.19 38.01 L424.00 38.97 L424.81 40.10 L425.61 41.41 L426.42 41.73 L427.23 43.20 L428.03 43.55 L428.84 44.91 L429.65 45.17 L430.46 46.28 L431.26 47.59 L432.05 48.41 L432.82 49.09 L433.58 50.00 L434.35 51.19 L435.12 52.02 L435.89 52.53 L436.66 53.47 L437.43 54.77 L438.19 55.54 L438.96 56.49 L439.60 57.21 L440.23 58.88 L440.86 59.39 L441.49 60.50 L442.12 62.09 L442.74 62.55 L443.37 64.05 L444.00 65.15 L444.63 65.95 L445.40 66.58 L446.32 67.29 L447.24 67.94 L448.16 69.16 L449.09 69.73 L449.96 70.69 L450.81 71.47 L451.66 72.33 L452.51 72.66 L453.36 73.98 L454.24 74.77 L455.18 75.59 L456.31 75.48 L457.51 75.70 L458.71 75.54 L459.90 75.26 L461.10 74.95 L462.30 74.91 L463.50 75.08 L464.70 75.08 L465.87 75.62 L466.72 76.28 L467.57 76.92 L468.34 78.24 L469.00 79.17 L469.55 79.57 L469.63 77.94 L469.71 76.74 L469.79 75.51 L469.87 74.77 L469.95 73.56 L469.98 72.94" fill="none" stroke="#E65B38" stroke-width="1.05" stroke-linejoin="round"/>
<path d="M372.50 89.30 V1.47 H472.30" fill="none" stroke="#4d4d4d" stroke-width="1.2"/>
<path d="M472.30 0.87 V89.30 H371.90" fill="none" stroke="#8a8a8a" stroke-width="1.3"/>
<text x="425.80" y="11.57" font-size="8.4" text-anchor="middle" font-weight="bold" font-style="normal" fill="#111" >MAPK signaling</text>
<text x="428.88" y="23.20" font-size="7.0" text-anchor="start" font-weight="bold" font-style="normal" fill="#222" stroke-width="0.05">p-value: 0</text>
<text x="428.88" y="31.40" font-size="7.0" text-anchor="start" font-weight="bold" font-style="normal" fill="#222" stroke-width="0.05">NES: 1.7368</text>
<rect x="484.20" y="82.80" width="0.65" height="6.00" fill="rgb(8,8,16)" stroke="none" stroke-width="0" />
<rect x="484.80" y="82.80" width="0.85" height="6.00" fill="rgb(13,13,21)" stroke="none" stroke-width="0" />
<rect x="485.60" y="82.80" width="0.85" height="6.00" fill="rgb(35,35,43)" stroke="none" stroke-width="0" />
<rect x="486.40" y="82.80" width="1.65" height="6.00" fill="rgb(29,29,37)" stroke="none" stroke-width="0" />
<rect x="489.50" y="82.80" width="1.05" height="6.00" fill="rgb(73,73,81)" stroke="none" stroke-width="0" />
<rect x="490.50" y="82.80" width="1.05" height="6.00" fill="rgb(86,86,94)" stroke="none" stroke-width="0" />
<rect x="491.50" y="82.80" width="0.85" height="6.00" fill="rgb(116,116,124)" stroke="none" stroke-width="0" />
<rect x="492.30" y="82.80" width="1.35" height="6.00" fill="rgb(40,40,48)" stroke="none" stroke-width="0" />
<rect x="493.60" y="82.80" width="0.85" height="6.00" fill="rgb(33,33,41)" stroke="none" stroke-width="0" />
<rect x="494.40" y="82.80" width="0.65" height="6.00" fill="rgb(90,90,98)" stroke="none" stroke-width="0" />
<rect x="495.00" y="82.80" width="0.55" height="6.00" fill="rgb(21,21,29)" stroke="none" stroke-width="0" />
<rect x="495.50" y="82.80" width="1.35" height="6.00" fill="rgb(82,82,90)" stroke="none" stroke-width="0" />
<rect x="496.80" y="82.80" width="0.65" height="6.00" fill="rgb(116,116,124)" stroke="none" stroke-width="0" />
<rect x="497.40" y="82.80" width="1.35" height="6.00" fill="rgb(49,49,57)" stroke="none" stroke-width="0" />
<rect x="498.70" y="82.80" width="1.05" height="6.00" fill="rgb(59,59,67)" stroke="none" stroke-width="0" />
<rect x="499.70" y="82.80" width="1.35" height="6.00" fill="rgb(115,115,123)" stroke="none" stroke-width="0" />
<rect x="501.00" y="82.80" width="1.35" height="6.00" fill="rgb(26,26,34)" stroke="none" stroke-width="0" />
<rect x="502.30" y="82.80" width="1.65" height="6.00" fill="rgb(57,57,65)" stroke="none" stroke-width="0" />
<rect x="503.90" y="82.80" width="0.55" height="6.00" fill="rgb(49,49,57)" stroke="none" stroke-width="0" />
<rect x="504.40" y="82.80" width="1.35" height="6.00" fill="rgb(91,91,99)" stroke="none" stroke-width="0" />
<rect x="505.70" y="82.80" width="0.85" height="6.00" fill="rgb(26,26,34)" stroke="none" stroke-width="0" />
<rect x="506.50" y="82.80" width="1.35" height="6.00" fill="rgb(99,99,107)" stroke="none" stroke-width="0" />
<rect x="507.80" y="82.80" width="0.65" height="6.00" fill="rgb(130,130,138)" stroke="none" stroke-width="0" />
<rect x="508.40" y="82.80" width="1.05" height="6.00" fill="rgb(105,105,113)" stroke="none" stroke-width="0" />
<rect x="509.40" y="82.80" width="0.85" height="6.00" fill="rgb(59,59,67)" stroke="none" stroke-width="0" />
<rect x="510.20" y="82.80" width="1.65" height="6.00" fill="rgb(44,44,52)" stroke="none" stroke-width="0" />
<rect x="511.80" y="82.80" width="1.35" height="6.00" fill="rgb(113,113,121)" stroke="none" stroke-width="0" />
<rect x="513.90" y="82.80" width="1.05" height="6.00" fill="rgb(66,66,74)" stroke="none" stroke-width="0" />
<rect x="514.90" y="82.80" width="0.85" height="6.00" fill="rgb(71,71,79)" stroke="none" stroke-width="0" />
<rect x="515.70" y="82.80" width="1.05" height="6.00" fill="rgb(26,26,34)" stroke="none" stroke-width="0" />
<rect x="517.30" y="82.80" width="0.65" height="6.00" fill="rgb(38,38,46)" stroke="none" stroke-width="0" />
<rect x="518.90" y="82.80" width="0.65" height="6.00" fill="rgb(70,70,78)" stroke="none" stroke-width="0" />
<rect x="519.50" y="82.80" width="1.35" height="6.00" fill="rgb(52,52,60)" stroke="none" stroke-width="0" />
<rect x="520.80" y="82.80" width="0.85" height="6.00" fill="rgb(62,62,70)" stroke="none" stroke-width="0" />
<rect x="521.60" y="82.80" width="1.35" height="6.00" fill="rgb(127,127,135)" stroke="none" stroke-width="0" />
<rect x="522.90" y="82.80" width="1.35" height="6.00" fill="rgb(129,129,137)" stroke="none" stroke-width="0" />
<rect x="524.20" y="82.80" width="0.65" height="6.00" fill="rgb(100,100,108)" stroke="none" stroke-width="0" />
<rect x="524.80" y="82.80" width="0.65" height="6.00" fill="rgb(103,103,111)" stroke="none" stroke-width="0" />
<rect x="525.40" y="82.80" width="1.05" height="6.00" fill="rgb(84,84,92)" stroke="none" stroke-width="0" />
<rect x="526.40" y="82.80" width="0.65" height="6.00" fill="rgb(23,23,31)" stroke="none" stroke-width="0" />
<rect x="527.00" y="82.80" width="0.55" height="6.00" fill="rgb(144,144,152)" stroke="none" stroke-width="0" />
<rect x="527.50" y="82.80" width="1.65" height="6.00" fill="rgb(103,103,111)" stroke="none" stroke-width="0" />
<rect x="529.10" y="82.80" width="1.05" height="6.00" fill="rgb(118,118,126)" stroke="none" stroke-width="0" />
<rect x="530.10" y="82.80" width="1.65" height="6.00" fill="rgb(127,127,135)" stroke="none" stroke-width="0" />
<rect x="532.70" y="82.80" width="0.85" height="6.00" fill="rgb(82,82,90)" stroke="none" stroke-width="0" />
<rect x="533.50" y="82.80" width="1.65" height="6.00" fill="rgb(138,138,146)" stroke="none" stroke-width="0" />
<rect x="535.70" y="82.80" width="0.85" height="6.00" fill="rgb(63,63,71)" stroke="none" stroke-width="0" />
<rect x="536.50" y="82.80" width="1.05" height="6.00" fill="rgb(94,94,102)" stroke="none" stroke-width="0" />
<rect x="537.50" y="82.80" width="0.85" height="6.00" fill="rgb(88,88,96)" stroke="none" stroke-width="0" />
<rect x="540.70" y="82.80" width="1.65" height="6.00" fill="rgb(120,120,128)" stroke="none" stroke-width="0" />
<rect x="542.30" y="82.80" width="1.65" height="6.00" fill="rgb(136,136,144)" stroke="none" stroke-width="0" />
<rect x="545.30" y="82.80" width="0.85" height="6.00" fill="rgb(60,60,68)" stroke="none" stroke-width="0" />
<rect x="549.00" y="82.80" width="0.85" height="6.00" fill="rgb(53,53,61)" stroke="none" stroke-width="0" />
<rect x="549.80" y="82.80" width="1.35" height="6.00" fill="rgb(45,45,53)" stroke="none" stroke-width="0" />
<rect x="551.10" y="82.80" width="1.35" height="6.00" fill="rgb(112,112,120)" stroke="none" stroke-width="0" />
<rect x="552.40" y="82.80" width="1.05" height="6.00" fill="rgb(110,110,118)" stroke="none" stroke-width="0" />
<rect x="553.40" y="82.80" width="0.85" height="6.00" fill="rgb(158,158,166)" stroke="none" stroke-width="0" />
<rect x="554.20" y="82.80" width="0.55" height="6.00" fill="rgb(80,80,88)" stroke="none" stroke-width="0" />
<rect x="554.70" y="82.80" width="1.65" height="6.00" fill="rgb(44,44,52)" stroke="none" stroke-width="0" />
<rect x="556.30" y="82.80" width="0.65" height="6.00" fill="rgb(113,113,121)" stroke="none" stroke-width="0" />
<rect x="556.90" y="82.80" width="1.05" height="6.00" fill="rgb(124,124,132)" stroke="none" stroke-width="0" />
<rect x="557.90" y="82.80" width="1.35" height="6.00" fill="rgb(167,167,175)" stroke="none" stroke-width="0" />
<rect x="559.20" y="82.80" width="1.35" height="6.00" fill="rgb(24,24,32)" stroke="none" stroke-width="0" />
<rect x="560.50" y="82.80" width="1.35" height="6.00" fill="rgb(24,24,32)" stroke="none" stroke-width="0" />
<rect x="561.80" y="82.80" width="0.85" height="6.00" fill="rgb(94,94,102)" stroke="none" stroke-width="0" />
<rect x="563.60" y="82.80" width="1.65" height="6.00" fill="rgb(81,81,89)" stroke="none" stroke-width="0" />
<rect x="566.00" y="82.80" width="0.65" height="6.00" fill="rgb(36,36,44)" stroke="none" stroke-width="0" />
<rect x="567.40" y="82.80" width="1.35" height="6.00" fill="rgb(166,166,174)" stroke="none" stroke-width="0" />
<rect x="569.30" y="82.80" width="0.55" height="6.00" fill="rgb(46,46,54)" stroke="none" stroke-width="0" />
<rect x="569.80" y="82.80" width="1.05" height="6.00" fill="rgb(80,80,88)" stroke="none" stroke-width="0" />
<rect x="570.80" y="82.80" width="1.65" height="6.00" fill="rgb(45,45,53)" stroke="none" stroke-width="0" />
<rect x="572.40" y="82.80" width="0.65" height="6.00" fill="rgb(131,131,139)" stroke="none" stroke-width="0" />
<rect x="573.00" y="82.80" width="0.05" height="6.00" fill="rgb(59,59,67)" stroke="none" stroke-width="0" />
<path d="M484.20 88.80 V15.50 H573.00 V88.80" fill="none" stroke="#8c8c8c" stroke-width="0.9"/>
<line x1="484.20" y1="82.80" x2="573.00" y2="82.80" stroke="#aaa" stroke-width="0.5" />
<line x1="484.20" y1="20.10" x2="573.00" y2="20.10" stroke="#f3f3f3" stroke-width="0.4" stroke-dasharray="1 1.2"/>
<line x1="482.80" y1="20.10" x2="484.20" y2="20.10" stroke="#777" stroke-width="0.5" />
<text transform="translate(480.30 20.10) rotate(-90)" font-size="3.4" text-anchor="middle" fill="#777">0.4</text>
<line x1="484.20" y1="33.05" x2="573.00" y2="33.05" stroke="#f3f3f3" stroke-width="0.4" stroke-dasharray="1 1.2"/>
<line x1="482.80" y1="33.05" x2="484.20" y2="33.05" stroke="#777" stroke-width="0.5" />
<text transform="translate(480.30 33.05) rotate(-90)" font-size="3.4" text-anchor="middle" fill="#777">0.3</text>
<line x1="484.20" y1="46.15" x2="573.00" y2="46.15" stroke="#f3f3f3" stroke-width="0.4" stroke-dasharray="1 1.2"/>
<line x1="482.80" y1="46.15" x2="484.20" y2="46.15" stroke="#777" stroke-width="0.5" />
<text transform="translate(480.30 46.15) rotate(-90)" font-size="3.4" text-anchor="middle" fill="#777">0.2</text>
<line x1="484.20" y1="59.25" x2="573.00" y2="59.25" stroke="#f3f3f3" stroke-width="0.4" stroke-dasharray="1 1.2"/>
<line x1="482.80" y1="59.25" x2="484.20" y2="59.25" stroke="#777" stroke-width="0.5" />
<text transform="translate(480.30 59.25) rotate(-90)" font-size="3.4" text-anchor="middle" fill="#777">0.1</text>
<line x1="484.20" y1="72.20" x2="573.00" y2="72.20" stroke="#a0a0a0" stroke-width="0.55" stroke-dasharray="1.1 1.1"/>
<line x1="482.80" y1="72.20" x2="484.20" y2="72.20" stroke="#777" stroke-width="0.5" />
<text transform="translate(480.30 72.20) rotate(-90)" font-size="3.4" text-anchor="middle" fill="#777">0.0</text>
<path d="M484.23 72.20 L484.28 70.79 L484.33 69.68 L484.38 69.00 L484.43 67.63 L484.48 66.45 L484.54 65.19 L484.59 63.85 L484.64 62.38 L484.69 61.42 L484.74 60.05 L484.79 59.23 L484.85 57.78 L484.95 56.25 L485.05 56.02 L485.16 53.76 L485.26 53.50 L485.36 51.92 L485.46 51.04 L485.57 49.25 L485.67 47.75 L485.80 46.85 L485.96 45.93 L486.12 44.55 L486.27 44.12 L486.43 42.32 L486.59 41.31 L486.75 39.75 L486.91 38.06 L487.20 37.43 L487.49 36.40 L487.78 35.10 L488.07 33.53 L488.36 33.12 L488.65 31.75 L488.94 30.56 L489.29 29.57 L489.76 28.84 L490.24 26.74 L490.71 25.41 L491.18 25.18 L491.74 24.14 L492.36 22.60 L492.97 22.07 L493.59 20.98 L494.43 19.98 L495.28 19.35 L496.23 18.79 L497.38 18.35 L498.43 18.62 L499.49 19.18 L500.68 18.92 L501.87 19.35 L503.07 18.99 L504.26 19.46 L505.45 19.30 L506.22 19.93 L506.96 21.31 L507.69 22.22 L508.43 22.82 L509.17 24.63 L509.90 25.07 L510.64 25.91 L511.50 26.95 L512.39 27.65 L513.27 28.57 L514.16 29.28 L515.04 29.74 L515.93 31.25 L516.81 31.51 L517.70 32.68 L518.58 32.93 L519.47 34.12 L520.26 34.89 L521.03 36.13 L521.80 36.60 L522.57 38.06 L523.34 38.81 L524.10 39.47 L524.87 40.43 L525.64 41.70 L526.41 42.11 L527.17 43.60 L527.91 44.10 L528.64 45.54 L529.37 45.90 L530.10 47.18 L530.83 47.77 L531.56 48.93 L532.30 49.84 L533.03 50.41 L533.76 51.98 L534.49 52.79 L535.22 53.46 L535.96 55.02 L536.69 55.10 L537.42 56.28 L538.15 57.37 L538.88 58.30 L539.61 59.57 L540.35 60.25 L541.08 61.68 L541.81 62.40 L542.69 62.77 L543.63 63.93 L544.57 64.95 L545.50 65.36 L546.44 66.27 L547.38 67.02 L548.31 67.71 L549.25 68.13 L550.04 69.36 L550.79 70.55 L551.54 70.86 L552.29 72.32 L553.26 73.34 L554.28 73.44 L555.29 73.81 L556.31 74.49 L557.33 75.06 L558.35 75.96 L559.29 76.33 L560.22 76.99 L561.16 78.39 L562.10 79.30 L563.10 78.72 L564.09 76.99 L565.09 77.14 L566.09 76.00 L567.01 76.37 L567.86 77.21 L568.71 78.12 L569.77 78.31 L570.86 78.76 L571.68 78.45 L572.45 78.06 L572.62 76.82 L572.73 75.03 L572.83 73.90 L572.93 72.55 L572.98 72.20" fill="none" stroke="#E65B38" stroke-width="1.05" stroke-linejoin="round"/>
<path d="M475.50 89.30 V1.47 H575.10" fill="none" stroke="#4d4d4d" stroke-width="1.2"/>
<path d="M575.10 0.87 V89.30 H474.90" fill="none" stroke="#8a8a8a" stroke-width="1.3"/>
<text x="528.60" y="11.57" font-size="8.4" text-anchor="middle" font-weight="bold" font-style="normal" fill="#111" >PI3K-AKT signaling</text>
<text x="532.33" y="23.20" font-size="7.0" text-anchor="start" font-weight="bold" font-style="normal" fill="#222" stroke-width="0.05">p-value: 0</text>
<text x="532.33" y="31.40" font-size="7.0" text-anchor="start" font-weight="bold" font-style="normal" fill="#222" stroke-width="0.05">NES: 1.8009</text>
<rect x="587.50" y="82.80" width="1.35" height="6.00" fill="rgb(28,28,36)" stroke="none" stroke-width="0" />
<rect x="588.80" y="82.80" width="1.35" height="6.00" fill="rgb(39,39,47)" stroke="none" stroke-width="0" />
<rect x="590.10" y="82.80" width="1.05" height="6.00" fill="rgb(7,7,15)" stroke="none" stroke-width="0" />
<rect x="591.10" y="82.80" width="1.05" height="6.00" fill="rgb(103,103,111)" stroke="none" stroke-width="0" />
<rect x="592.10" y="82.80" width="0.65" height="6.00" fill="rgb(134,134,142)" stroke="none" stroke-width="0" />
<rect x="594.00" y="82.80" width="0.85" height="6.00" fill="rgb(44,44,52)" stroke="none" stroke-width="0" />
<rect x="594.80" y="82.80" width="1.65" height="6.00" fill="rgb(63,63,71)" stroke="none" stroke-width="0" />
<rect x="596.40" y="82.80" width="0.65" height="6.00" fill="rgb(129,129,137)" stroke="none" stroke-width="0" />
<rect x="597.00" y="82.80" width="0.65" height="6.00" fill="rgb(79,79,87)" stroke="none" stroke-width="0" />
<rect x="597.60" y="82.80" width="0.65" height="6.00" fill="rgb(54,54,62)" stroke="none" stroke-width="0" />
<rect x="598.20" y="82.80" width="1.05" height="6.00" fill="rgb(103,103,111)" stroke="none" stroke-width="0" />
<rect x="600.50" y="82.80" width="1.35" height="6.00" fill="rgb(135,135,143)" stroke="none" stroke-width="0" />
<rect x="603.10" y="82.80" width="0.65" height="6.00" fill="rgb(109,109,117)" stroke="none" stroke-width="0" />
<rect x="603.70" y="82.80" width="1.65" height="6.00" fill="rgb(117,117,125)" stroke="none" stroke-width="0" />
<rect x="606.30" y="82.80" width="0.85" height="6.00" fill="rgb(30,30,38)" stroke="none" stroke-width="0" />
<rect x="607.10" y="82.80" width="1.65" height="6.00" fill="rgb(133,133,141)" stroke="none" stroke-width="0" />
<rect x="610.30" y="82.80" width="0.65" height="6.00" fill="rgb(62,62,70)" stroke="none" stroke-width="0" />
<rect x="610.90" y="82.80" width="1.05" height="6.00" fill="rgb(73,73,81)" stroke="none" stroke-width="0" />
<rect x="611.90" y="82.80" width="1.05" height="6.00" fill="rgb(145,145,153)" stroke="none" stroke-width="0" />
<rect x="612.90" y="82.80" width="1.35" height="6.00" fill="rgb(129,129,137)" stroke="none" stroke-width="0" />
<rect x="614.20" y="82.80" width="0.55" height="6.00" fill="rgb(74,74,82)" stroke="none" stroke-width="0" />
<rect x="616.80" y="82.80" width="0.55" height="6.00" fill="rgb(39,39,47)" stroke="none" stroke-width="0" />
<rect x="617.30" y="82.80" width="1.65" height="6.00" fill="rgb(62,62,70)" stroke="none" stroke-width="0" />
<rect x="621.30" y="82.80" width="1.05" height="6.00" fill="rgb(135,135,143)" stroke="none" stroke-width="0" />
<rect x="622.30" y="82.80" width="1.65" height="6.00" fill="rgb(136,136,144)" stroke="none" stroke-width="0" />
<rect x="623.90" y="82.80" width="1.35" height="6.00" fill="rgb(156,156,164)" stroke="none" stroke-width="0" />
<rect x="625.20" y="82.80" width="1.35" height="6.00" fill="rgb(105,105,113)" stroke="none" stroke-width="0" />
<rect x="626.50" y="82.80" width="1.05" height="6.00" fill="rgb(161,161,169)" stroke="none" stroke-width="0" />
<rect x="629.30" y="82.80" width="0.65" height="6.00" fill="rgb(97,97,105)" stroke="none" stroke-width="0" />
<rect x="631.50" y="82.80" width="0.55" height="6.00" fill="rgb(86,86,94)" stroke="none" stroke-width="0" />
<rect x="632.00" y="82.80" width="1.65" height="6.00" fill="rgb(61,61,69)" stroke="none" stroke-width="0" />
<rect x="633.60" y="82.80" width="0.55" height="6.00" fill="rgb(88,88,96)" stroke="none" stroke-width="0" />
<rect x="635.40" y="82.80" width="0.65" height="6.00" fill="rgb(151,151,159)" stroke="none" stroke-width="0" />
<rect x="636.00" y="82.80" width="0.85" height="6.00" fill="rgb(38,38,46)" stroke="none" stroke-width="0" />
<rect x="636.80" y="82.80" width="1.65" height="6.00" fill="rgb(141,141,149)" stroke="none" stroke-width="0" />
<rect x="639.80" y="82.80" width="1.65" height="6.00" fill="rgb(152,152,160)" stroke="none" stroke-width="0" />
<rect x="642.50" y="82.80" width="1.65" height="6.00" fill="rgb(128,128,136)" stroke="none" stroke-width="0" />
<rect x="644.10" y="82.80" width="1.65" height="6.00" fill="rgb(109,109,117)" stroke="none" stroke-width="0" />
<rect x="647.00" y="82.80" width="0.55" height="6.00" fill="rgb(147,147,155)" stroke="none" stroke-width="0" />
<rect x="647.50" y="82.80" width="0.85" height="6.00" fill="rgb(171,171,179)" stroke="none" stroke-width="0" />
<rect x="648.30" y="82.80" width="1.35" height="6.00" fill="rgb(58,58,66)" stroke="none" stroke-width="0" />
<rect x="649.60" y="82.80" width="1.65" height="6.00" fill="rgb(120,120,128)" stroke="none" stroke-width="0" />
<rect x="651.20" y="82.80" width="0.55" height="6.00" fill="rgb(145,145,153)" stroke="none" stroke-width="0" />
<rect x="651.70" y="82.80" width="0.65" height="6.00" fill="rgb(109,109,117)" stroke="none" stroke-width="0" />
<rect x="652.30" y="82.80" width="1.05" height="6.00" fill="rgb(95,95,103)" stroke="none" stroke-width="0" />
<rect x="653.30" y="82.80" width="0.65" height="6.00" fill="rgb(177,177,185)" stroke="none" stroke-width="0" />
<rect x="655.80" y="82.80" width="0.55" height="6.00" fill="rgb(30,30,38)" stroke="none" stroke-width="0" />
<rect x="658.90" y="82.80" width="1.65" height="6.00" fill="rgb(34,34,42)" stroke="none" stroke-width="0" />
<rect x="661.10" y="82.80" width="0.65" height="6.00" fill="rgb(94,94,102)" stroke="none" stroke-width="0" />
<rect x="661.70" y="82.80" width="0.65" height="6.00" fill="rgb(34,34,42)" stroke="none" stroke-width="0" />
<rect x="662.30" y="82.80" width="0.85" height="6.00" fill="rgb(34,34,42)" stroke="none" stroke-width="0" />
<rect x="668.30" y="82.80" width="0.65" height="6.00" fill="rgb(90,90,98)" stroke="none" stroke-width="0" />
<rect x="669.50" y="82.80" width="1.35" height="6.00" fill="rgb(173,173,181)" stroke="none" stroke-width="0" />
<rect x="670.80" y="82.80" width="0.85" height="6.00" fill="rgb(93,93,101)" stroke="none" stroke-width="0" />
<rect x="671.60" y="82.80" width="1.65" height="6.00" fill="rgb(185,185,193)" stroke="none" stroke-width="0" />
<rect x="673.70" y="82.80" width="0.85" height="6.00" fill="rgb(32,32,40)" stroke="none" stroke-width="0" />
<rect x="674.50" y="82.80" width="0.85" height="6.00" fill="rgb(74,74,82)" stroke="none" stroke-width="0" />
<rect x="675.30" y="82.80" width="0.85" height="6.00" fill="rgb(61,61,69)" stroke="none" stroke-width="0" />
<path d="M587.50 88.80 V15.50 H677.20 V88.80" fill="none" stroke="#8c8c8c" stroke-width="0.9"/>
<line x1="587.50" y1="82.80" x2="677.20" y2="82.80" stroke="#aaa" stroke-width="0.5" />
<line x1="587.50" y1="20.84" x2="677.20" y2="20.84" stroke="#f3f3f3" stroke-width="0.4" stroke-dasharray="1 1.2"/>
<line x1="586.10" y1="20.84" x2="587.50" y2="20.84" stroke="#777" stroke-width="0.5" />
<text transform="translate(583.40 20.84) rotate(-90)" font-size="3.4" text-anchor="middle" fill="#777">0.5</text>
<line x1="587.50" y1="32.01" x2="677.20" y2="32.01" stroke="#f3f3f3" stroke-width="0.4" stroke-dasharray="1 1.2"/>
<line x1="586.10" y1="32.01" x2="587.50" y2="32.01" stroke="#777" stroke-width="0.5" />
<text transform="translate(583.40 32.01) rotate(-90)" font-size="3.4" text-anchor="middle" fill="#777">0.4</text>
<line x1="587.50" y1="43.17" x2="677.20" y2="43.17" stroke="#f3f3f3" stroke-width="0.4" stroke-dasharray="1 1.2"/>
<line x1="586.10" y1="43.17" x2="587.50" y2="43.17" stroke="#777" stroke-width="0.5" />
<text transform="translate(583.40 43.17) rotate(-90)" font-size="3.4" text-anchor="middle" fill="#777">0.3</text>
<line x1="587.50" y1="54.34" x2="677.20" y2="54.34" stroke="#f3f3f3" stroke-width="0.4" stroke-dasharray="1 1.2"/>
<line x1="586.10" y1="54.34" x2="587.50" y2="54.34" stroke="#777" stroke-width="0.5" />
<text transform="translate(583.40 54.34) rotate(-90)" font-size="3.4" text-anchor="middle" fill="#777">0.2</text>
<line x1="587.50" y1="65.50" x2="677.20" y2="65.50" stroke="#f3f3f3" stroke-width="0.4" stroke-dasharray="1 1.2"/>
<line x1="586.10" y1="65.50" x2="587.50" y2="65.50" stroke="#777" stroke-width="0.5" />
<text transform="translate(583.40 65.50) rotate(-90)" font-size="3.4" text-anchor="middle" fill="#777">0.1</text>
<line x1="587.50" y1="76.67" x2="677.20" y2="76.67" stroke="#a0a0a0" stroke-width="0.55" stroke-dasharray="1.1 1.1"/>
<line x1="586.10" y1="76.67" x2="587.50" y2="76.67" stroke="#777" stroke-width="0.5" />
<text transform="translate(583.40 76.67) rotate(-90)" font-size="3.4" text-anchor="middle" fill="#777">0.0</text>
<path d="M587.68 76.67 L587.79 75.50 L587.90 74.46 L588.00 73.32 L588.11 71.93 L588.22 70.50 L588.33 69.12 L588.45 67.41 L588.64 66.85 L588.83 65.72 L589.02 64.76 L589.21 63.65 L589.40 62.47 L589.59 61.10 L589.68 59.89 L589.76 58.86 L589.83 57.64 L589.91 56.28 L589.99 55.32 L590.06 54.07 L590.14 52.64 L590.21 51.76 L590.29 50.43 L590.37 49.15 L590.44 48.17 L590.52 46.82 L590.60 45.90 L590.69 44.72 L590.84 43.21 L590.99 42.16 L591.14 40.60 L591.29 39.55 L591.44 38.51 L591.60 37.26 L591.88 35.98 L592.44 34.57 L592.93 33.90 L593.15 32.68 L593.36 31.84 L593.58 30.23 L593.79 29.31 L594.01 27.75 L594.22 26.60 L594.67 26.18 L595.74 25.41 L596.37 26.23 L596.93 27.21 L597.30 26.17 L597.61 25.86 L597.92 24.53 L598.23 23.26 L598.54 22.07 L598.85 21.01 L599.51 19.88 L600.18 18.71 L600.88 19.55 L601.60 20.40 L602.32 21.15 L603.25 21.74 L604.28 22.58 L605.31 23.45 L606.34 24.02 L607.50 24.69 L608.67 24.42 L609.68 24.77 L610.53 25.70 L611.38 26.63 L612.23 27.40 L613.07 28.13 L614.00 29.05 L615.20 29.10 L616.40 28.83 L617.55 28.46 L618.69 28.41 L619.57 28.93 L620.37 29.99 L621.18 31.04 L621.98 32.00 L622.78 32.68 L623.59 33.04 L624.39 34.62 L625.19 35.61 L625.99 35.79 L626.77 37.08 L627.55 37.77 L628.33 39.00 L629.11 39.57 L629.89 40.96 L630.67 41.08 L631.45 42.80 L632.23 43.28 L633.01 44.44 L633.80 45.31 L634.58 46.71 L635.37 46.32 L636.17 47.69 L636.97 48.62 L637.77 49.47 L638.56 50.70 L639.36 51.32 L640.16 52.45 L641.02 53.31 L641.94 53.58 L642.86 55.33 L643.79 55.63 L644.71 56.48 L645.73 56.36 L646.81 57.86 L647.88 57.95 L648.95 59.25 L649.86 59.68 L650.61 59.81 L651.36 61.33 L652.11 62.35 L652.86 63.13 L653.61 63.69 L654.36 64.63 L655.11 65.91 L656.11 66.11 L657.31 66.36 L658.48 66.15 L659.33 67.39 L660.18 67.98 L661.03 67.49 L661.88 69.64 L662.73 70.78 L663.58 71.69 L664.42 70.33 L665.25 70.34 L665.97 70.90 L666.69 71.76 L667.41 73.19 L668.16 74.42 L668.91 74.89 L669.66 75.57 L670.43 76.66 L671.39 77.73 L672.35 77.83 L673.31 78.65 L674.16 79.60 L674.78 79.73 L675.26 78.54 L675.74 77.69 L675.98 76.67" fill="none" stroke="#E65B38" stroke-width="1.05" stroke-linejoin="round"/>
<path d="M578.60 89.30 V1.47 H679.30" fill="none" stroke="#4d4d4d" stroke-width="1.2"/>
<path d="M679.30 0.87 V89.30 H578.00" fill="none" stroke="#8a8a8a" stroke-width="1.3"/>
<text x="632.35" y="11.57" font-size="8.4" text-anchor="middle" font-weight="bold" font-style="normal" fill="#111" >JAK-STAT signaling</text>
<text x="635.78" y="23.20" font-size="7.0" text-anchor="start" font-weight="bold" font-style="normal" fill="#222" stroke-width="0.05">p-value: 0</text>
<text x="635.78" y="31.40" font-size="7.0" text-anchor="start" font-weight="bold" font-style="normal" fill="#222" stroke-width="0.05">NES: 1.9991</text>
<rect x="381.40" y="173.50" width="0.85" height="5.80" fill="rgb(16,16,24)" stroke="none" stroke-width="0" />
<rect x="382.20" y="173.50" width="0.65" height="5.80" fill="rgb(32,32,40)" stroke="none" stroke-width="0" />
<rect x="382.80" y="173.50" width="0.65" height="5.80" fill="rgb(32,32,40)" stroke="none" stroke-width="0" />
<rect x="383.40" y="173.50" width="0.65" height="5.80" fill="rgb(4,4,12)" stroke="none" stroke-width="0" />
<rect x="384.00" y="173.50" width="1.05" height="5.80" fill="rgb(33,33,41)" stroke="none" stroke-width="0" />
<rect x="385.00" y="173.50" width="0.85" height="5.80" fill="rgb(55,55,63)" stroke="none" stroke-width="0" />
<rect x="385.80" y="173.50" width="0.55" height="5.80" fill="rgb(119,119,127)" stroke="none" stroke-width="0" />
<rect x="386.30" y="173.50" width="0.85" height="5.80" fill="rgb(111,111,119)" stroke="none" stroke-width="0" />
<rect x="387.10" y="173.50" width="0.65" height="5.80" fill="rgb(52,52,60)" stroke="none" stroke-width="0" />
<rect x="387.70" y="173.50" width="1.05" height="5.80" fill="rgb(46,46,54)" stroke="none" stroke-width="0" />
<rect x="388.70" y="173.50" width="0.65" height="5.80" fill="rgb(60,60,68)" stroke="none" stroke-width="0" />
<rect x="389.30" y="173.50" width="0.55" height="5.80" fill="rgb(38,38,46)" stroke="none" stroke-width="0" />
<rect x="389.80" y="173.50" width="1.35" height="5.80" fill="rgb(91,91,99)" stroke="none" stroke-width="0" />
<rect x="391.90" y="173.50" width="0.65" height="5.80" fill="rgb(88,88,96)" stroke="none" stroke-width="0" />
<rect x="392.50" y="173.50" width="1.05" height="5.80" fill="rgb(65,65,73)" stroke="none" stroke-width="0" />
<rect x="393.50" y="173.50" width="0.55" height="5.80" fill="rgb(121,121,129)" stroke="none" stroke-width="0" />
<rect x="394.00" y="173.50" width="1.35" height="5.80" fill="rgb(127,127,135)" stroke="none" stroke-width="0" />
<rect x="395.30" y="173.50" width="0.55" height="5.80" fill="rgb(27,27,35)" stroke="none" stroke-width="0" />
<rect x="395.80" y="173.50" width="1.35" height="5.80" fill="rgb(61,61,69)" stroke="none" stroke-width="0" />
<rect x="397.10" y="173.50" width="1.65" height="5.80" fill="rgb(27,27,35)" stroke="none" stroke-width="0" />
<rect x="401.00" y="173.50" width="0.85" height="5.80" fill="rgb(62,62,70)" stroke="none" stroke-width="0" />
<rect x="401.80" y="173.50" width="0.85" height="5.80" fill="rgb(31,31,39)" stroke="none" stroke-width="0" />
<rect x="402.60" y="173.50" width="0.85" height="5.80" fill="rgb(126,126,134)" stroke="none" stroke-width="0" />
<rect x="403.40" y="173.50" width="1.35" height="5.80" fill="rgb(70,70,78)" stroke="none" stroke-width="0" />
<rect x="404.70" y="173.50" width="1.35" height="5.80" fill="rgb(135,135,143)" stroke="none" stroke-width="0" />
<rect x="406.00" y="173.50" width="0.55" height="5.80" fill="rgb(78,78,86)" stroke="none" stroke-width="0" />
<rect x="406.50" y="173.50" width="0.55" height="5.80" fill="rgb(116,116,124)" stroke="none" stroke-width="0" />
<rect x="407.00" y="173.50" width="0.65" height="5.80" fill="rgb(78,78,86)" stroke="none" stroke-width="0" />
<rect x="407.60" y="173.50" width="1.65" height="5.80" fill="rgb(63,63,71)" stroke="none" stroke-width="0" />
<rect x="409.20" y="173.50" width="0.85" height="5.80" fill="rgb(36,36,44)" stroke="none" stroke-width="0" />
<rect x="410.00" y="173.50" width="0.55" height="5.80" fill="rgb(47,47,55)" stroke="none" stroke-width="0" />
<rect x="410.50" y="173.50" width="1.65" height="5.80" fill="rgb(73,73,81)" stroke="none" stroke-width="0" />
<rect x="412.10" y="173.50" width="1.05" height="5.80" fill="rgb(73,73,81)" stroke="none" stroke-width="0" />
<rect x="413.10" y="173.50" width="1.05" height="5.80" fill="rgb(101,101,109)" stroke="none" stroke-width="0" />
<rect x="414.10" y="173.50" width="1.35" height="5.80" fill="rgb(88,88,96)" stroke="none" stroke-width="0" />
<rect x="415.40" y="173.50" width="1.35" height="5.80" fill="rgb(113,113,121)" stroke="none" stroke-width="0" />
<rect x="417.70" y="173.50" width="0.85" height="5.80" fill="rgb(86,86,94)" stroke="none" stroke-width="0" />
<rect x="418.50" y="173.50" width="0.65" height="5.80" fill="rgb(84,84,92)" stroke="none" stroke-width="0" />
<rect x="419.10" y="173.50" width="1.35" height="5.80" fill="rgb(80,80,88)" stroke="none" stroke-width="0" />
<rect x="420.40" y="173.50" width="1.35" height="5.80" fill="rgb(29,29,37)" stroke="none" stroke-width="0" />
<rect x="421.70" y="173.50" width="1.35" height="5.80" fill="rgb(49,49,57)" stroke="none" stroke-width="0" />
<rect x="423.00" y="173.50" width="0.65" height="5.80" fill="rgb(60,60,68)" stroke="none" stroke-width="0" />
<rect x="423.60" y="173.50" width="1.35" height="5.80" fill="rgb(144,144,152)" stroke="none" stroke-width="0" />
<rect x="424.90" y="173.50" width="1.35" height="5.80" fill="rgb(65,65,73)" stroke="none" stroke-width="0" />
<rect x="426.20" y="173.50" width="1.35" height="5.80" fill="rgb(47,47,55)" stroke="none" stroke-width="0" />
<rect x="427.50" y="173.50" width="1.35" height="5.80" fill="rgb(101,101,109)" stroke="none" stroke-width="0" />
<rect x="428.80" y="173.50" width="1.65" height="5.80" fill="rgb(83,83,91)" stroke="none" stroke-width="0" />
<rect x="430.40" y="173.50" width="1.65" height="5.80" fill="rgb(127,127,135)" stroke="none" stroke-width="0" />
<rect x="432.00" y="173.50" width="1.05" height="5.80" fill="rgb(147,147,155)" stroke="none" stroke-width="0" />
<rect x="433.00" y="173.50" width="1.35" height="5.80" fill="rgb(75,75,83)" stroke="none" stroke-width="0" />
<rect x="435.90" y="173.50" width="0.85" height="5.80" fill="rgb(56,56,64)" stroke="none" stroke-width="0" />
<rect x="436.70" y="173.50" width="1.65" height="5.80" fill="rgb(78,78,86)" stroke="none" stroke-width="0" />
<rect x="438.30" y="173.50" width="1.05" height="5.80" fill="rgb(129,129,137)" stroke="none" stroke-width="0" />
<rect x="439.30" y="173.50" width="0.85" height="5.80" fill="rgb(55,55,63)" stroke="none" stroke-width="0" />
<rect x="440.10" y="173.50" width="0.65" height="5.80" fill="rgb(55,55,63)" stroke="none" stroke-width="0" />
<rect x="441.50" y="173.50" width="1.35" height="5.80" fill="rgb(151,151,159)" stroke="none" stroke-width="0" />
<rect x="442.80" y="173.50" width="1.05" height="5.80" fill="rgb(52,52,60)" stroke="none" stroke-width="0" />
<rect x="443.80" y="173.50" width="0.55" height="5.80" fill="rgb(135,135,143)" stroke="none" stroke-width="0" />
<rect x="444.30" y="173.50" width="0.85" height="5.80" fill="rgb(128,128,136)" stroke="none" stroke-width="0" />
<rect x="445.10" y="173.50" width="1.35" height="5.80" fill="rgb(63,63,71)" stroke="none" stroke-width="0" />
<rect x="448.40" y="173.50" width="0.65" height="5.80" fill="rgb(115,115,123)" stroke="none" stroke-width="0" />
<rect x="449.00" y="173.50" width="1.65" height="5.80" fill="rgb(108,108,116)" stroke="none" stroke-width="0" />
<rect x="452.40" y="173.50" width="0.85" height="5.80" fill="rgb(41,41,49)" stroke="none" stroke-width="0" />
<rect x="453.20" y="173.50" width="1.35" height="5.80" fill="rgb(172,172,180)" stroke="none" stroke-width="0" />
<rect x="454.50" y="173.50" width="1.65" height="5.80" fill="rgb(45,45,53)" stroke="none" stroke-width="0" />
<rect x="456.10" y="173.50" width="0.85" height="5.80" fill="rgb(130,130,138)" stroke="none" stroke-width="0" />
<rect x="456.90" y="173.50" width="1.05" height="5.80" fill="rgb(124,124,132)" stroke="none" stroke-width="0" />
<rect x="457.90" y="173.50" width="1.65" height="5.80" fill="rgb(27,27,35)" stroke="none" stroke-width="0" />
<rect x="459.50" y="173.50" width="0.55" height="5.80" fill="rgb(60,60,68)" stroke="none" stroke-width="0" />
<rect x="460.60" y="173.50" width="0.85" height="5.80" fill="rgb(86,86,94)" stroke="none" stroke-width="0" />
<rect x="463.20" y="173.50" width="0.55" height="5.80" fill="rgb(103,103,111)" stroke="none" stroke-width="0" />
<rect x="463.70" y="173.50" width="0.55" height="5.80" fill="rgb(63,63,71)" stroke="none" stroke-width="0" />
<rect x="464.20" y="173.50" width="1.35" height="5.80" fill="rgb(143,143,151)" stroke="none" stroke-width="0" />
<rect x="465.50" y="173.50" width="1.35" height="5.80" fill="rgb(52,52,60)" stroke="none" stroke-width="0" />
<rect x="466.80" y="173.50" width="0.65" height="5.80" fill="rgb(35,35,43)" stroke="none" stroke-width="0" />
<rect x="467.40" y="173.50" width="1.35" height="5.80" fill="rgb(184,184,192)" stroke="none" stroke-width="0" />
<rect x="470.00" y="173.50" width="0.25" height="5.80" fill="rgb(148,148,156)" stroke="none" stroke-width="0" />
<path d="M381.40 179.30 V106.30 H470.20 V179.30" fill="none" stroke="#8c8c8c" stroke-width="0.9"/>
<line x1="381.40" y1="173.50" x2="470.20" y2="173.50" stroke="#aaa" stroke-width="0.5" />
<line x1="381.40" y1="107.67" x2="470.20" y2="107.67" stroke="#f3f3f3" stroke-width="0.4" stroke-dasharray="1 1.2"/>
<line x1="380.00" y1="107.67" x2="381.40" y2="107.67" stroke="#777" stroke-width="0.5" />
<text transform="translate(377.30 107.67) rotate(-90)" font-size="3.4" text-anchor="middle" fill="#777">0.5</text>
<line x1="381.40" y1="119.28" x2="470.20" y2="119.28" stroke="#f3f3f3" stroke-width="0.4" stroke-dasharray="1 1.2"/>
<line x1="380.00" y1="119.28" x2="381.40" y2="119.28" stroke="#777" stroke-width="0.5" />
<text transform="translate(377.30 119.28) rotate(-90)" font-size="3.4" text-anchor="middle" fill="#777">0.4</text>
<line x1="381.40" y1="131.64" x2="470.20" y2="131.64" stroke="#f3f3f3" stroke-width="0.4" stroke-dasharray="1 1.2"/>
<line x1="380.00" y1="131.64" x2="381.40" y2="131.64" stroke="#777" stroke-width="0.5" />
<text transform="translate(377.30 131.64) rotate(-90)" font-size="3.4" text-anchor="middle" fill="#777">0.3</text>
<line x1="381.40" y1="144.15" x2="470.20" y2="144.15" stroke="#f3f3f3" stroke-width="0.4" stroke-dasharray="1 1.2"/>
<line x1="380.00" y1="144.15" x2="381.40" y2="144.15" stroke="#777" stroke-width="0.5" />
<text transform="translate(377.30 144.15) rotate(-90)" font-size="3.4" text-anchor="middle" fill="#777">0.2</text>
<line x1="381.40" y1="156.95" x2="470.20" y2="156.95" stroke="#f3f3f3" stroke-width="0.4" stroke-dasharray="1 1.2"/>
<line x1="380.00" y1="156.95" x2="381.40" y2="156.95" stroke="#777" stroke-width="0.5" />
<text transform="translate(377.30 156.95) rotate(-90)" font-size="3.4" text-anchor="middle" fill="#777">0.1</text>
<line x1="381.40" y1="169.60" x2="470.20" y2="169.60" stroke="#a0a0a0" stroke-width="0.55" stroke-dasharray="1.1 1.1"/>
<line x1="380.00" y1="169.60" x2="381.40" y2="169.60" stroke="#777" stroke-width="0.5" />
<text transform="translate(377.30 169.60) rotate(-90)" font-size="3.4" text-anchor="middle" fill="#777">0.0</text>
<path d="M381.68 169.60 L381.71 168.54 L381.75 166.93 L381.78 166.09 L381.81 164.39 L381.85 163.36 L381.88 162.37 L381.91 161.52 L381.95 159.52 L381.98 159.14 L382.01 158.08 L382.05 156.27 L382.08 155.47 L382.11 154.50 L382.17 153.40 L382.23 151.82 L382.30 150.21 L382.37 148.90 L382.44 147.96 L382.51 146.69 L382.58 145.64 L382.65 144.34 L382.71 143.51 L382.83 142.41 L382.95 140.58 L383.07 139.73 L383.19 139.05 L383.31 137.26 L383.43 136.87 L383.55 134.97 L383.66 133.93 L383.78 132.50 L383.90 131.42 L384.13 129.54 L384.37 129.28 L384.60 127.76 L384.84 126.79 L385.07 125.60 L385.31 124.19 L385.63 123.19 L386.01 121.84 L386.39 120.51 L386.77 119.91 L387.34 118.80 L388.01 117.69 L388.82 116.74 L389.82 115.76 L390.85 115.90 L392.03 115.90 L393.10 116.25 L393.95 117.17 L394.66 116.71 L395.24 115.94 L395.82 114.97 L396.67 114.49 L397.59 113.30 L398.76 112.73 L399.92 113.12 L400.96 112.17 L401.93 111.39 L402.84 110.70 L403.75 109.37 L404.72 110.07 L405.72 110.73 L406.61 111.11 L407.39 112.99 L408.18 112.99 L408.96 114.52 L409.74 115.33 L410.52 115.81 L411.35 117.29 L412.20 117.80 L413.05 118.93 L413.90 119.51 L414.75 120.10 L415.59 121.61 L416.44 121.75 L417.23 122.60 L418.00 124.14 L418.77 124.80 L419.54 125.45 L420.31 126.64 L421.07 127.30 L421.84 128.95 L422.61 129.26 L423.38 130.80 L424.15 131.19 L424.92 132.51 L425.68 133.17 L426.45 133.78 L427.22 135.00 L427.99 135.38 L428.76 137.26 L429.53 137.61 L430.29 138.36 L431.06 139.39 L431.83 140.38 L432.60 141.53 L433.37 142.09 L434.14 142.92 L434.90 143.89 L435.67 145.16 L436.44 146.06 L437.21 147.21 L437.98 148.24 L438.75 148.82 L439.57 149.71 L440.42 150.18 L441.26 151.61 L442.11 152.69 L442.96 152.60 L443.81 153.43 L444.66 154.41 L445.51 155.85 L446.36 156.77 L447.31 157.17 L448.28 157.86 L449.25 158.07 L450.21 158.91 L451.22 159.82 L452.32 160.80 L453.42 160.70 L454.52 161.13 L455.62 162.02 L456.69 162.54 L457.76 163.43 L458.84 163.43 L459.91 164.20 L460.90 164.59 L461.90 165.60 L462.90 166.06 L463.90 166.63 L464.94 167.25 L466.02 168.12 L467.09 168.21 L468.16 169.48 L469.24 168.89 L470.28 168.41" fill="none" stroke="#E65B38" stroke-width="1.05" stroke-linejoin="round"/>
<path d="M372.50 179.80 V92.60 H472.30" fill="none" stroke="#4d4d4d" stroke-width="1.2"/>
<path d="M472.30 92.00 V179.80 H371.90" fill="none" stroke="#8a8a8a" stroke-width="1.3"/>
<text x="375.70" y="101.70" font-size="8.4" text-anchor="start" font-weight="bold" font-style="normal" fill="#111" textLength="94.6" lengthAdjust="spacingAndGlyphs">Reg. actin cytoskeleton</text>
<text x="429.33" y="113.10" font-size="7.0" text-anchor="start" font-weight="bold" font-style="normal" fill="#222" stroke-width="0.05">p-value: 0</text>
<text x="429.33" y="121.50" font-size="7.0" text-anchor="start" font-weight="bold" font-style="normal" fill="#222" stroke-width="0.05">NES: 1.9733</text>
<rect x="484.20" y="173.50" width="1.35" height="5.80" fill="rgb(35,35,43)" stroke="none" stroke-width="0" />
<rect x="485.50" y="173.50" width="1.05" height="5.80" fill="rgb(15,15,23)" stroke="none" stroke-width="0" />
<rect x="486.50" y="173.50" width="0.55" height="5.80" fill="rgb(8,8,16)" stroke="none" stroke-width="0" />
<rect x="487.00" y="173.50" width="1.05" height="5.80" fill="rgb(31,31,39)" stroke="none" stroke-width="0" />
<rect x="488.80" y="173.50" width="0.55" height="5.80" fill="rgb(43,43,51)" stroke="none" stroke-width="0" />
<rect x="490.10" y="173.50" width="0.65" height="5.80" fill="rgb(45,45,53)" stroke="none" stroke-width="0" />
<rect x="490.70" y="173.50" width="1.35" height="5.80" fill="rgb(64,64,72)" stroke="none" stroke-width="0" />
<rect x="492.00" y="173.50" width="0.85" height="5.80" fill="rgb(65,65,73)" stroke="none" stroke-width="0" />
<rect x="494.60" y="173.50" width="1.35" height="5.80" fill="rgb(90,90,98)" stroke="none" stroke-width="0" />
<rect x="495.90" y="173.50" width="1.65" height="5.80" fill="rgb(60,60,68)" stroke="none" stroke-width="0" />
<rect x="497.50" y="173.50" width="0.85" height="5.80" fill="rgb(65,65,73)" stroke="none" stroke-width="0" />
<rect x="498.30" y="173.50" width="0.85" height="5.80" fill="rgb(138,138,146)" stroke="none" stroke-width="0" />
<rect x="501.00" y="173.50" width="0.55" height="5.80" fill="rgb(123,123,131)" stroke="none" stroke-width="0" />
<rect x="501.50" y="173.50" width="0.55" height="5.80" fill="rgb(84,84,92)" stroke="none" stroke-width="0" />
<rect x="502.80" y="173.50" width="0.65" height="5.80" fill="rgb(43,43,51)" stroke="none" stroke-width="0" />
<rect x="503.40" y="173.50" width="0.65" height="5.80" fill="rgb(61,61,69)" stroke="none" stroke-width="0" />
<rect x="505.00" y="173.50" width="0.85" height="5.80" fill="rgb(86,86,94)" stroke="none" stroke-width="0" />
<rect x="505.80" y="173.50" width="0.85" height="5.80" fill="rgb(63,63,71)" stroke="none" stroke-width="0" />
<rect x="506.60" y="173.50" width="1.05" height="5.80" fill="rgb(103,103,111)" stroke="none" stroke-width="0" />
<rect x="513.70" y="173.50" width="0.55" height="5.80" fill="rgb(130,130,138)" stroke="none" stroke-width="0" />
<rect x="514.20" y="173.50" width="1.65" height="5.80" fill="rgb(69,69,77)" stroke="none" stroke-width="0" />
<rect x="515.80" y="173.50" width="0.55" height="5.80" fill="rgb(57,57,65)" stroke="none" stroke-width="0" />
<rect x="519.70" y="173.50" width="1.05" height="5.80" fill="rgb(70,70,78)" stroke="none" stroke-width="0" />
<rect x="520.70" y="173.50" width="0.65" height="5.80" fill="rgb(162,162,170)" stroke="none" stroke-width="0" />
<rect x="521.30" y="173.50" width="0.55" height="5.80" fill="rgb(41,41,49)" stroke="none" stroke-width="0" />
<rect x="521.80" y="173.50" width="1.35" height="5.80" fill="rgb(161,161,169)" stroke="none" stroke-width="0" />
<rect x="523.90" y="173.50" width="1.05" height="5.80" fill="rgb(102,102,110)" stroke="none" stroke-width="0" />
<rect x="525.90" y="173.50" width="0.65" height="5.80" fill="rgb(48,48,56)" stroke="none" stroke-width="0" />
<rect x="526.50" y="173.50" width="0.85" height="5.80" fill="rgb(81,81,89)" stroke="none" stroke-width="0" />
<rect x="527.30" y="173.50" width="1.05" height="5.80" fill="rgb(102,102,110)" stroke="none" stroke-width="0" />
<rect x="528.30" y="173.50" width="1.35" height="5.80" fill="rgb(72,72,80)" stroke="none" stroke-width="0" />
<rect x="530.90" y="173.50" width="0.85" height="5.80" fill="rgb(171,171,179)" stroke="none" stroke-width="0" />
<rect x="531.70" y="173.50" width="0.85" height="5.80" fill="rgb(167,167,175)" stroke="none" stroke-width="0" />
<rect x="536.20" y="173.50" width="0.85" height="5.80" fill="rgb(55,55,63)" stroke="none" stroke-width="0" />
<rect x="542.60" y="173.50" width="0.55" height="5.80" fill="rgb(130,130,138)" stroke="none" stroke-width="0" />
<rect x="543.10" y="173.50" width="1.65" height="5.80" fill="rgb(90,90,98)" stroke="none" stroke-width="0" />
<rect x="547.10" y="173.50" width="1.35" height="5.80" fill="rgb(43,43,51)" stroke="none" stroke-width="0" />
<rect x="548.40" y="173.50" width="0.85" height="5.80" fill="rgb(186,186,194)" stroke="none" stroke-width="0" />
<rect x="553.70" y="173.50" width="0.55" height="5.80" fill="rgb(41,41,49)" stroke="none" stroke-width="0" />
<rect x="554.20" y="173.50" width="1.65" height="5.80" fill="rgb(61,61,69)" stroke="none" stroke-width="0" />
<rect x="559.20" y="173.50" width="1.65" height="5.80" fill="rgb(131,131,139)" stroke="none" stroke-width="0" />
<rect x="561.30" y="173.50" width="0.65" height="5.80" fill="rgb(153,153,161)" stroke="none" stroke-width="0" />
<rect x="563.20" y="173.50" width="1.35" height="5.80" fill="rgb(133,133,141)" stroke="none" stroke-width="0" />
<rect x="568.20" y="173.50" width="1.35" height="5.80" fill="rgb(126,126,134)" stroke="none" stroke-width="0" />
<rect x="571.10" y="173.50" width="0.85" height="5.80" fill="rgb(164,164,172)" stroke="none" stroke-width="0" />
<path d="M484.20 179.30 V106.30 H573.00 V179.30" fill="none" stroke="#8c8c8c" stroke-width="0.9"/>
<line x1="484.20" y1="173.50" x2="573.00" y2="173.50" stroke="#aaa" stroke-width="0.5" />
<line x1="484.20" y1="109.16" x2="573.00" y2="109.16" stroke="#f3f3f3" stroke-width="0.4" stroke-dasharray="1 1.2"/>
<line x1="482.80" y1="109.16" x2="484.20" y2="109.16" stroke="#777" stroke-width="0.5" />
<text transform="translate(480.30 109.16) rotate(-90)" font-size="3.4" text-anchor="middle" fill="#777">0.7</text>
<line x1="484.20" y1="117.80" x2="573.00" y2="117.80" stroke="#f3f3f3" stroke-width="0.4" stroke-dasharray="1 1.2"/>
<line x1="482.80" y1="117.80" x2="484.20" y2="117.80" stroke="#777" stroke-width="0.5" />
<text transform="translate(480.30 117.80) rotate(-90)" font-size="3.4" text-anchor="middle" fill="#777">0.6</text>
<line x1="484.20" y1="126.73" x2="573.00" y2="126.73" stroke="#f3f3f3" stroke-width="0.4" stroke-dasharray="1 1.2"/>
<line x1="482.80" y1="126.73" x2="484.20" y2="126.73" stroke="#777" stroke-width="0.5" />
<text transform="translate(480.30 126.73) rotate(-90)" font-size="3.4" text-anchor="middle" fill="#777">0.5</text>
<line x1="484.20" y1="135.36" x2="573.00" y2="135.36" stroke="#f3f3f3" stroke-width="0.4" stroke-dasharray="1 1.2"/>
<line x1="482.80" y1="135.36" x2="484.20" y2="135.36" stroke="#777" stroke-width="0.5" />
<text transform="translate(480.30 135.36) rotate(-90)" font-size="3.4" text-anchor="middle" fill="#777">0.4</text>
<line x1="484.20" y1="144.29" x2="573.00" y2="144.29" stroke="#f3f3f3" stroke-width="0.4" stroke-dasharray="1 1.2"/>
<line x1="482.80" y1="144.29" x2="484.20" y2="144.29" stroke="#777" stroke-width="0.5" />
<text transform="translate(480.30 144.29) rotate(-90)" font-size="3.4" text-anchor="middle" fill="#777">0.3</text>
<line x1="484.20" y1="153.23" x2="573.00" y2="153.23" stroke="#f3f3f3" stroke-width="0.4" stroke-dasharray="1 1.2"/>
<line x1="482.80" y1="153.23" x2="484.20" y2="153.23" stroke="#777" stroke-width="0.5" />
<text transform="translate(480.30 153.23) rotate(-90)" font-size="3.4" text-anchor="middle" fill="#777">0.2</text>
<line x1="484.20" y1="162.16" x2="573.00" y2="162.16" stroke="#f3f3f3" stroke-width="0.4" stroke-dasharray="1 1.2"/>
<line x1="482.80" y1="162.16" x2="484.20" y2="162.16" stroke="#777" stroke-width="0.5" />
<text transform="translate(480.30 162.16) rotate(-90)" font-size="3.4" text-anchor="middle" fill="#777">0.1</text>
<line x1="484.20" y1="170.64" x2="573.00" y2="170.64" stroke="#a0a0a0" stroke-width="0.55" stroke-dasharray="1.1 1.1"/>
<line x1="482.80" y1="170.64" x2="484.20" y2="170.64" stroke="#777" stroke-width="0.5" />
<text transform="translate(480.30 170.64) rotate(-90)" font-size="3.4" text-anchor="middle" fill="#777">0.0</text>
<path d="M484.38 170.64 L484.39 169.44 L484.40 168.05 L484.41 167.36 L484.42 165.60 L484.43 164.55 L484.44 162.83 L484.45 162.50 L484.46 161.29 L484.47 159.80 L484.49 158.56 L484.50 157.20 L484.51 156.63 L484.52 154.43 L484.53 154.11 L484.55 152.99 L484.57 151.91 L484.60 150.12 L484.62 149.01 L484.64 147.62 L484.67 146.54 L484.69 145.21 L484.72 144.34 L484.74 142.63 L484.76 141.91 L484.79 140.76 L484.81 139.06 L484.87 138.26 L485.02 136.84 L485.16 135.61 L485.30 134.67 L485.45 133.90 L485.59 131.92 L485.73 131.32 L485.91 129.43 L486.08 128.51 L486.25 127.73 L486.43 126.18 L486.60 125.42 L486.77 124.10 L487.01 122.83 L487.55 121.40 L488.08 120.99 L488.62 119.26 L489.16 118.04 L489.69 117.92 L490.23 116.54 L490.77 115.32 L491.30 113.83 L491.76 113.41 L492.21 111.92 L492.65 110.67 L493.21 109.67 L493.88 108.69 L494.82 108.59 L495.85 109.52 L496.93 110.30 L498.00 111.17 L499.04 111.15 L499.96 111.71 L500.88 112.47 L501.80 113.60 L502.73 114.14 L503.71 114.64 L504.78 115.57 L505.85 116.26 L506.88 116.74 L507.88 116.83 L508.88 117.76 L509.88 118.42 L510.85 119.25 L511.70 120.02 L512.55 120.70 L513.40 122.31 L514.25 123.27 L515.10 123.50 L516.02 123.80 L516.96 124.94 L517.90 125.72 L518.84 126.82 L519.77 128.28 L520.71 128.15 L521.65 129.26 L522.58 130.12 L523.51 130.22 L524.43 130.98 L525.35 131.56 L526.27 132.79 L527.20 133.00 L528.12 134.57 L529.04 135.11 L529.96 135.87 L530.88 136.24 L531.77 136.97 L532.55 138.01 L533.33 139.03 L534.11 140.49 L534.90 141.10 L535.68 142.23 L536.46 142.92 L537.24 143.47 L538.02 144.60 L538.80 145.44 L539.58 146.83 L540.36 147.80 L541.29 147.74 L542.25 149.23 L543.21 149.94 L544.17 150.20 L545.13 151.08 L546.09 151.90 L547.05 152.52 L548.01 152.98 L548.97 153.95 L549.93 154.80 L550.89 155.80 L551.85 155.88 L552.90 156.33 L554.10 156.59 L555.30 156.21 L556.28 157.06 L557.24 158.27 L558.20 158.46 L559.31 159.07 L560.45 159.30 L561.39 159.94 L562.30 161.17 L563.22 161.68 L564.13 162.56 L565.04 163.12 L565.95 163.98 L566.87 165.05 L567.79 165.48 L568.72 166.03 L569.64 167.01 L570.54 168.17 L571.39 168.88 L572.24 169.32 L573.09 170.20 L573.28 170.64" fill="none" stroke="#E65B38" stroke-width="1.05" stroke-linejoin="round"/>
<path d="M475.50 179.80 V92.60 H575.10" fill="none" stroke="#4d4d4d" stroke-width="1.2"/>
<path d="M575.10 92.00 V179.80 H474.90" fill="none" stroke="#8a8a8a" stroke-width="1.3"/>
<text x="478.70" y="101.70" font-size="8.4" text-anchor="start" font-weight="bold" font-style="normal" fill="#111" textLength="94.9" lengthAdjust="spacingAndGlyphs">ECM-receptor interaction</text>
<text x="532.78" y="113.10" font-size="7.0" text-anchor="start" font-weight="bold" font-style="normal" fill="#222" stroke-width="0.05">p-value: 0</text>
<text x="532.78" y="121.50" font-size="7.0" text-anchor="start" font-weight="bold" font-style="normal" fill="#222" stroke-width="0.05">NES: 2.4688</text>
<rect x="587.50" y="173.50" width="0.65" height="5.80" fill="rgb(27,27,35)" stroke="none" stroke-width="0" />
<rect x="588.10" y="173.50" width="1.35" height="5.80" fill="rgb(17,17,25)" stroke="none" stroke-width="0" />
<rect x="589.40" y="173.50" width="1.05" height="5.80" fill="rgb(3,3,11)" stroke="none" stroke-width="0" />
<rect x="590.40" y="173.50" width="1.05" height="5.80" fill="rgb(24,24,32)" stroke="none" stroke-width="0" />
<rect x="591.40" y="173.50" width="0.85" height="5.80" fill="rgb(40,40,48)" stroke="none" stroke-width="0" />
<rect x="592.20" y="173.50" width="1.65" height="5.80" fill="rgb(96,96,104)" stroke="none" stroke-width="0" />
<rect x="593.80" y="173.50" width="0.65" height="5.80" fill="rgb(31,31,39)" stroke="none" stroke-width="0" />
<rect x="595.00" y="173.50" width="0.55" height="5.80" fill="rgb(100,100,108)" stroke="none" stroke-width="0" />
<rect x="596.00" y="173.50" width="1.65" height="5.80" fill="rgb(73,73,81)" stroke="none" stroke-width="0" />
<rect x="598.90" y="173.50" width="1.65" height="5.80" fill="rgb(120,120,128)" stroke="none" stroke-width="0" />
<rect x="600.50" y="173.50" width="1.35" height="5.80" fill="rgb(78,78,86)" stroke="none" stroke-width="0" />
<rect x="601.80" y="173.50" width="1.35" height="5.80" fill="rgb(38,38,46)" stroke="none" stroke-width="0" />
<rect x="603.10" y="173.50" width="0.65" height="5.80" fill="rgb(67,67,75)" stroke="none" stroke-width="0" />
<rect x="604.70" y="173.50" width="0.65" height="5.80" fill="rgb(119,119,127)" stroke="none" stroke-width="0" />
<rect x="605.30" y="173.50" width="0.65" height="5.80" fill="rgb(38,38,46)" stroke="none" stroke-width="0" />
<rect x="605.90" y="173.50" width="1.65" height="5.80" fill="rgb(122,122,130)" stroke="none" stroke-width="0" />
<rect x="607.50" y="173.50" width="0.85" height="5.80" fill="rgb(140,140,148)" stroke="none" stroke-width="0" />
<rect x="609.90" y="173.50" width="0.85" height="5.80" fill="rgb(53,53,61)" stroke="none" stroke-width="0" />
<rect x="610.70" y="173.50" width="0.55" height="5.80" fill="rgb(71,71,79)" stroke="none" stroke-width="0" />
<rect x="611.20" y="173.50" width="0.85" height="5.80" fill="rgb(133,133,141)" stroke="none" stroke-width="0" />
<rect x="612.00" y="173.50" width="0.55" height="5.80" fill="rgb(117,117,125)" stroke="none" stroke-width="0" />
<rect x="612.50" y="173.50" width="1.35" height="5.80" fill="rgb(120,120,128)" stroke="none" stroke-width="0" />
<rect x="613.80" y="173.50" width="1.05" height="5.80" fill="rgb(46,46,54)" stroke="none" stroke-width="0" />
<rect x="615.30" y="173.50" width="0.55" height="5.80" fill="rgb(100,100,108)" stroke="none" stroke-width="0" />
<rect x="617.40" y="173.50" width="0.55" height="5.80" fill="rgb(140,140,148)" stroke="none" stroke-width="0" />
<rect x="617.90" y="173.50" width="0.85" height="5.80" fill="rgb(116,116,124)" stroke="none" stroke-width="0" />
<rect x="618.70" y="173.50" width="0.85" height="5.80" fill="rgb(69,69,77)" stroke="none" stroke-width="0" />
<rect x="619.50" y="173.50" width="1.05" height="5.80" fill="rgb(146,146,154)" stroke="none" stroke-width="0" />
<rect x="620.50" y="173.50" width="0.85" height="5.80" fill="rgb(156,156,164)" stroke="none" stroke-width="0" />
<rect x="621.30" y="173.50" width="1.05" height="5.80" fill="rgb(86,86,94)" stroke="none" stroke-width="0" />
<rect x="622.30" y="173.50" width="1.65" height="5.80" fill="rgb(105,105,113)" stroke="none" stroke-width="0" />
<rect x="623.90" y="173.50" width="1.35" height="5.80" fill="rgb(90,90,98)" stroke="none" stroke-width="0" />
<rect x="625.20" y="173.50" width="1.05" height="5.80" fill="rgb(32,32,40)" stroke="none" stroke-width="0" />
<rect x="626.20" y="173.50" width="0.65" height="5.80" fill="rgb(81,81,89)" stroke="none" stroke-width="0" />
<rect x="626.80" y="173.50" width="0.65" height="5.80" fill="rgb(86,86,94)" stroke="none" stroke-width="0" />
<rect x="627.40" y="173.50" width="0.85" height="5.80" fill="rgb(95,95,103)" stroke="none" stroke-width="0" />
<rect x="628.20" y="173.50" width="0.85" height="5.80" fill="rgb(147,147,155)" stroke="none" stroke-width="0" />
<rect x="629.00" y="173.50" width="1.35" height="5.80" fill="rgb(82,82,90)" stroke="none" stroke-width="0" />
<rect x="631.60" y="173.50" width="0.55" height="5.80" fill="rgb(48,48,56)" stroke="none" stroke-width="0" />
<rect x="632.10" y="173.50" width="1.65" height="5.80" fill="rgb(143,143,151)" stroke="none" stroke-width="0" />
<rect x="633.70" y="173.50" width="1.05" height="5.80" fill="rgb(117,117,125)" stroke="none" stroke-width="0" />
<rect x="636.30" y="173.50" width="1.35" height="5.80" fill="rgb(119,119,127)" stroke="none" stroke-width="0" />
<rect x="637.60" y="173.50" width="0.55" height="5.80" fill="rgb(135,135,143)" stroke="none" stroke-width="0" />
<rect x="640.50" y="173.50" width="1.35" height="5.80" fill="rgb(50,50,58)" stroke="none" stroke-width="0" />
<rect x="642.30" y="173.50" width="1.65" height="5.80" fill="rgb(52,52,60)" stroke="none" stroke-width="0" />
<rect x="643.90" y="173.50" width="0.85" height="5.80" fill="rgb(158,158,166)" stroke="none" stroke-width="0" />
<rect x="644.70" y="173.50" width="1.65" height="5.80" fill="rgb(79,79,87)" stroke="none" stroke-width="0" />
<rect x="647.90" y="173.50" width="0.55" height="5.80" fill="rgb(146,146,154)" stroke="none" stroke-width="0" />
<rect x="648.40" y="173.50" width="1.05" height="5.80" fill="rgb(79,79,87)" stroke="none" stroke-width="0" />
<rect x="649.40" y="173.50" width="1.05" height="5.80" fill="rgb(120,120,128)" stroke="none" stroke-width="0" />
<rect x="650.40" y="173.50" width="0.85" height="5.80" fill="rgb(162,162,170)" stroke="none" stroke-width="0" />
<rect x="651.20" y="173.50" width="1.05" height="5.80" fill="rgb(69,69,77)" stroke="none" stroke-width="0" />
<rect x="652.20" y="173.50" width="1.65" height="5.80" fill="rgb(177,177,185)" stroke="none" stroke-width="0" />
<rect x="653.80" y="173.50" width="0.65" height="5.80" fill="rgb(42,42,50)" stroke="none" stroke-width="0" />
<rect x="656.70" y="173.50" width="0.55" height="5.80" fill="rgb(163,163,171)" stroke="none" stroke-width="0" />
<rect x="657.20" y="173.50" width="1.05" height="5.80" fill="rgb(106,106,114)" stroke="none" stroke-width="0" />
<rect x="658.20" y="173.50" width="0.65" height="5.80" fill="rgb(84,84,92)" stroke="none" stroke-width="0" />
<rect x="658.80" y="173.50" width="1.05" height="5.80" fill="rgb(122,122,130)" stroke="none" stroke-width="0" />
<rect x="660.80" y="173.50" width="1.65" height="5.80" fill="rgb(103,103,111)" stroke="none" stroke-width="0" />
<rect x="662.40" y="173.50" width="1.35" height="5.80" fill="rgb(69,69,77)" stroke="none" stroke-width="0" />
<rect x="663.70" y="173.50" width="1.65" height="5.80" fill="rgb(92,92,100)" stroke="none" stroke-width="0" />
<rect x="665.30" y="173.50" width="1.05" height="5.80" fill="rgb(187,187,195)" stroke="none" stroke-width="0" />
<rect x="668.40" y="173.50" width="0.65" height="5.80" fill="rgb(102,102,110)" stroke="none" stroke-width="0" />
<rect x="671.10" y="173.50" width="0.55" height="5.80" fill="rgb(135,135,143)" stroke="none" stroke-width="0" />
<rect x="672.60" y="173.50" width="1.05" height="5.80" fill="rgb(123,123,131)" stroke="none" stroke-width="0" />
<rect x="673.60" y="173.50" width="1.35" height="5.80" fill="rgb(142,142,150)" stroke="none" stroke-width="0" />
<rect x="674.90" y="173.50" width="1.35" height="5.80" fill="rgb(120,120,128)" stroke="none" stroke-width="0" />
<rect x="676.20" y="173.50" width="0.55" height="5.80" fill="rgb(38,38,46)" stroke="none" stroke-width="0" />
<rect x="676.70" y="173.50" width="0.55" height="5.80" fill="rgb(32,32,40)" stroke="none" stroke-width="0" />
<path d="M587.50 179.30 V106.30 H677.20 V179.30" fill="none" stroke="#8c8c8c" stroke-width="0.9"/>
<line x1="587.50" y1="173.50" x2="677.20" y2="173.50" stroke="#aaa" stroke-width="0.5" />
<line x1="587.50" y1="109.61" x2="677.20" y2="109.61" stroke="#f3f3f3" stroke-width="0.4" stroke-dasharray="1 1.2"/>
<line x1="586.10" y1="109.61" x2="587.50" y2="109.61" stroke="#777" stroke-width="0.5" />
<text transform="translate(583.40 109.61) rotate(-90)" font-size="3.4" text-anchor="middle" fill="#777">0.5</text>
<line x1="587.50" y1="120.33" x2="677.20" y2="120.33" stroke="#f3f3f3" stroke-width="0.4" stroke-dasharray="1 1.2"/>
<line x1="586.10" y1="120.33" x2="587.50" y2="120.33" stroke="#777" stroke-width="0.5" />
<text transform="translate(583.40 120.33) rotate(-90)" font-size="3.4" text-anchor="middle" fill="#777">0.4</text>
<line x1="587.50" y1="130.90" x2="677.20" y2="130.90" stroke="#f3f3f3" stroke-width="0.4" stroke-dasharray="1 1.2"/>
<line x1="586.10" y1="130.90" x2="587.50" y2="130.90" stroke="#777" stroke-width="0.5" />
<text transform="translate(583.40 130.90) rotate(-90)" font-size="3.4" text-anchor="middle" fill="#777">0.3</text>
<line x1="587.50" y1="141.32" x2="677.20" y2="141.32" stroke="#f3f3f3" stroke-width="0.4" stroke-dasharray="1 1.2"/>
<line x1="586.10" y1="141.32" x2="587.50" y2="141.32" stroke="#777" stroke-width="0.5" />
<text transform="translate(583.40 141.32) rotate(-90)" font-size="3.4" text-anchor="middle" fill="#777">0.2</text>
<line x1="587.50" y1="152.04" x2="677.20" y2="152.04" stroke="#f3f3f3" stroke-width="0.4" stroke-dasharray="1 1.2"/>
<line x1="586.10" y1="152.04" x2="587.50" y2="152.04" stroke="#777" stroke-width="0.5" />
<text transform="translate(583.40 152.04) rotate(-90)" font-size="3.4" text-anchor="middle" fill="#777">0.1</text>
<line x1="587.50" y1="162.46" x2="677.20" y2="162.46" stroke="#a0a0a0" stroke-width="0.55" stroke-dasharray="1.1 1.1"/>
<line x1="586.10" y1="162.46" x2="587.50" y2="162.46" stroke="#777" stroke-width="0.5" />
<text transform="translate(583.40 162.46) rotate(-90)" font-size="3.4" text-anchor="middle" fill="#777">0.0</text>
<line x1="587.50" y1="172.88" x2="677.20" y2="172.88" stroke="#f3f3f3" stroke-width="0.4" stroke-dasharray="1 1.2"/>
<line x1="586.10" y1="172.88" x2="587.50" y2="172.88" stroke="#777" stroke-width="0.5" />
<text transform="translate(583.40 172.88) rotate(-90)" font-size="3.4" text-anchor="middle" fill="#777">-0.1</text>
<path d="M587.38 162.46 L587.39 161.45 L587.41 160.11 L587.42 158.91 L587.43 157.65 L587.44 156.57 L587.45 154.94 L587.47 154.43 L587.48 153.16 L587.49 151.05 L587.50 150.34 L587.51 149.21 L587.53 148.23 L587.55 146.62 L587.58 145.47 L587.61 144.30 L587.64 143.52 L587.67 141.98 L587.70 140.83 L587.73 139.65 L587.76 138.32 L587.79 137.79 L587.82 135.86 L587.93 134.64 L588.09 133.53 L588.25 132.27 L588.41 131.03 L588.51 130.04 L588.60 128.62 L588.69 127.31 L588.78 126.98 L588.88 125.47 L588.97 124.04 L589.06 122.85 L589.15 121.91 L589.41 120.74 L589.70 119.30 L590.06 117.96 L590.59 116.99 L591.13 116.23 L591.52 115.43 L591.75 113.73 L591.99 112.47 L592.37 111.67 L593.03 110.45 L593.74 110.14 L594.92 109.30 L596.10 109.69 L597.30 109.42 L598.49 109.02 L599.68 110.22 L600.88 109.92 L602.07 109.53 L603.27 109.86 L604.46 109.71 L605.54 110.14 L606.57 110.86 L607.59 111.45 L608.66 112.44 L609.73 112.40 L610.81 113.36 L611.88 114.09 L612.84 114.40 L613.74 115.52 L614.65 115.87 L615.55 116.58 L616.45 117.67 L617.36 118.31 L618.26 119.06 L619.20 119.76 L620.14 120.77 L621.07 121.70 L622.01 121.85 L622.95 123.33 L623.89 123.54 L624.82 124.49 L625.74 125.77 L626.52 126.41 L627.30 126.49 L628.08 128.09 L628.87 128.76 L629.65 129.91 L630.43 131.15 L631.21 131.54 L631.99 132.44 L632.77 133.68 L633.55 134.14 L634.33 135.05 L635.13 136.45 L635.92 137.81 L636.72 137.98 L637.52 139.26 L638.31 140.08 L639.11 140.85 L639.91 141.74 L640.69 142.74 L641.39 143.32 L642.10 144.51 L642.81 145.21 L643.51 146.02 L644.22 147.11 L644.92 148.23 L645.63 149.67 L646.33 150.37 L647.15 151.09 L648.00 152.61 L648.85 153.33 L649.70 153.83 L650.55 154.23 L651.39 155.63 L652.24 155.75 L653.31 156.60 L654.45 157.11 L655.59 156.93 L656.72 158.35 L657.62 158.74 L658.47 159.72 L659.32 160.10 L660.17 160.96 L661.02 162.07 L662.02 162.39 L663.13 163.13 L664.24 163.90 L665.36 163.19 L666.50 163.13 L667.52 163.53 L668.18 164.25 L668.86 165.18 L669.82 166.44 L670.78 166.52 L671.74 167.83 L672.80 168.35 L673.87 168.52 L674.91 169.27 L675.76 169.80 L676.28 170.64" fill="none" stroke="#E65B38" stroke-width="1.05" stroke-linejoin="round"/>
<path d="M578.60 179.80 V92.60 H679.30" fill="none" stroke="#4d4d4d" stroke-width="1.2"/>
<path d="M679.30 92.00 V179.80 H578.00" fill="none" stroke="#8a8a8a" stroke-width="1.3"/>
<text x="581.70" y="101.70" font-size="8.4" text-anchor="start" font-weight="bold" font-style="normal" fill="#111" textLength="92.4" lengthAdjust="spacingAndGlyphs">Cell adhesion molecules</text>
<text x="630.12" y="113.10" font-size="7.0" text-anchor="start" font-weight="bold" font-style="normal" fill="#222" stroke-width="0.05">p-value: 0.001</text>
<text x="630.12" y="121.50" font-size="7.0" text-anchor="start" font-weight="bold" font-style="normal" fill="#222" stroke-width="0.05">NES: 1.9113</text>
<rect x="381.40" y="264.20" width="1.35" height="6.20" fill="rgb(12,12,20)" stroke="none" stroke-width="0" />
<rect x="382.70" y="264.20" width="0.55" height="6.20" fill="rgb(5,5,13)" stroke="none" stroke-width="0" />
<rect x="383.20" y="264.20" width="1.35" height="6.20" fill="rgb(38,38,46)" stroke="none" stroke-width="0" />
<rect x="384.50" y="264.20" width="1.65" height="6.20" fill="rgb(33,33,41)" stroke="none" stroke-width="0" />
<rect x="388.20" y="264.20" width="1.05" height="6.20" fill="rgb(123,123,131)" stroke="none" stroke-width="0" />
<rect x="389.20" y="264.20" width="1.05" height="6.20" fill="rgb(36,36,44)" stroke="none" stroke-width="0" />
<rect x="390.20" y="264.20" width="0.85" height="6.20" fill="rgb(61,61,69)" stroke="none" stroke-width="0" />
<rect x="391.00" y="264.20" width="1.05" height="6.20" fill="rgb(38,38,46)" stroke="none" stroke-width="0" />
<rect x="392.00" y="264.20" width="1.05" height="6.20" fill="rgb(37,37,45)" stroke="none" stroke-width="0" />
<rect x="393.00" y="264.20" width="0.65" height="6.20" fill="rgb(96,96,104)" stroke="none" stroke-width="0" />
<rect x="394.40" y="264.20" width="0.55" height="6.20" fill="rgb(45,45,53)" stroke="none" stroke-width="0" />
<rect x="394.90" y="264.20" width="1.65" height="6.20" fill="rgb(130,130,138)" stroke="none" stroke-width="0" />
<rect x="396.50" y="264.20" width="1.05" height="6.20" fill="rgb(128,128,136)" stroke="none" stroke-width="0" />
<rect x="398.30" y="264.20" width="0.65" height="6.20" fill="rgb(123,123,131)" stroke="none" stroke-width="0" />
<rect x="398.90" y="264.20" width="0.55" height="6.20" fill="rgb(51,51,59)" stroke="none" stroke-width="0" />
<rect x="399.40" y="264.20" width="1.05" height="6.20" fill="rgb(42,42,50)" stroke="none" stroke-width="0" />
<rect x="400.40" y="264.20" width="0.55" height="6.20" fill="rgb(47,47,55)" stroke="none" stroke-width="0" />
<rect x="400.90" y="264.20" width="0.65" height="6.20" fill="rgb(129,129,137)" stroke="none" stroke-width="0" />
<rect x="401.50" y="264.20" width="1.35" height="6.20" fill="rgb(126,126,134)" stroke="none" stroke-width="0" />
<rect x="402.80" y="264.20" width="0.55" height="6.20" fill="rgb(133,133,141)" stroke="none" stroke-width="0" />
<rect x="403.30" y="264.20" width="1.35" height="6.20" fill="rgb(117,117,125)" stroke="none" stroke-width="0" />
<rect x="404.60" y="264.20" width="1.35" height="6.20" fill="rgb(112,112,120)" stroke="none" stroke-width="0" />
<rect x="405.90" y="264.20" width="1.65" height="6.20" fill="rgb(127,127,135)" stroke="none" stroke-width="0" />
<rect x="407.50" y="264.20" width="0.65" height="6.20" fill="rgb(73,73,81)" stroke="none" stroke-width="0" />
<rect x="408.10" y="264.20" width="1.05" height="6.20" fill="rgb(110,110,118)" stroke="none" stroke-width="0" />
<rect x="409.70" y="264.20" width="1.05" height="6.20" fill="rgb(74,74,82)" stroke="none" stroke-width="0" />
<rect x="410.70" y="264.20" width="1.35" height="6.20" fill="rgb(118,118,126)" stroke="none" stroke-width="0" />
<rect x="412.00" y="264.20" width="1.35" height="6.20" fill="rgb(28,28,36)" stroke="none" stroke-width="0" />
<rect x="413.90" y="264.20" width="0.55" height="6.20" fill="rgb(26,26,34)" stroke="none" stroke-width="0" />
<rect x="414.40" y="264.20" width="0.55" height="6.20" fill="rgb(79,79,87)" stroke="none" stroke-width="0" />
<rect x="414.90" y="264.20" width="0.55" height="6.20" fill="rgb(91,91,99)" stroke="none" stroke-width="0" />
<rect x="415.40" y="264.20" width="0.85" height="6.20" fill="rgb(70,70,78)" stroke="none" stroke-width="0" />
<rect x="416.20" y="264.20" width="0.85" height="6.20" fill="rgb(76,76,84)" stroke="none" stroke-width="0" />
<rect x="417.50" y="264.20" width="0.55" height="6.20" fill="rgb(71,71,79)" stroke="none" stroke-width="0" />
<rect x="418.00" y="264.20" width="0.85" height="6.20" fill="rgb(52,52,60)" stroke="none" stroke-width="0" />
<rect x="418.80" y="264.20" width="1.35" height="6.20" fill="rgb(135,135,143)" stroke="none" stroke-width="0" />
<rect x="420.10" y="264.20" width="1.05" height="6.20" fill="rgb(124,124,132)" stroke="none" stroke-width="0" />
<rect x="421.10" y="264.20" width="0.65" height="6.20" fill="rgb(116,116,124)" stroke="none" stroke-width="0" />
<rect x="421.70" y="264.20" width="0.55" height="6.20" fill="rgb(147,147,155)" stroke="none" stroke-width="0" />
<rect x="424.80" y="264.20" width="1.05" height="6.20" fill="rgb(150,150,158)" stroke="none" stroke-width="0" />
<rect x="425.80" y="264.20" width="1.05" height="6.20" fill="rgb(100,100,108)" stroke="none" stroke-width="0" />
<rect x="426.80" y="264.20" width="1.05" height="6.20" fill="rgb(145,145,153)" stroke="none" stroke-width="0" />
<rect x="427.80" y="264.20" width="1.35" height="6.20" fill="rgb(88,88,96)" stroke="none" stroke-width="0" />
<rect x="429.10" y="264.20" width="1.05" height="6.20" fill="rgb(105,105,113)" stroke="none" stroke-width="0" />
<rect x="430.10" y="264.20" width="0.65" height="6.20" fill="rgb(158,158,166)" stroke="none" stroke-width="0" />
<rect x="430.70" y="264.20" width="1.35" height="6.20" fill="rgb(132,132,140)" stroke="none" stroke-width="0" />
<rect x="432.00" y="264.20" width="0.85" height="6.20" fill="rgb(72,72,80)" stroke="none" stroke-width="0" />
<rect x="432.80" y="264.20" width="0.55" height="6.20" fill="rgb(116,116,124)" stroke="none" stroke-width="0" />
<rect x="433.30" y="264.20" width="0.65" height="6.20" fill="rgb(81,81,89)" stroke="none" stroke-width="0" />
<rect x="434.70" y="264.20" width="1.65" height="6.20" fill="rgb(88,88,96)" stroke="none" stroke-width="0" />
<rect x="437.90" y="264.20" width="1.05" height="6.20" fill="rgb(47,47,55)" stroke="none" stroke-width="0" />
<rect x="438.90" y="264.20" width="1.65" height="6.20" fill="rgb(61,61,69)" stroke="none" stroke-width="0" />
<rect x="440.50" y="264.20" width="0.65" height="6.20" fill="rgb(159,159,167)" stroke="none" stroke-width="0" />
<rect x="441.10" y="264.20" width="0.85" height="6.20" fill="rgb(97,97,105)" stroke="none" stroke-width="0" />
<rect x="441.90" y="264.20" width="0.85" height="6.20" fill="rgb(54,54,62)" stroke="none" stroke-width="0" />
<rect x="442.70" y="264.20" width="1.35" height="6.20" fill="rgb(146,146,154)" stroke="none" stroke-width="0" />
<rect x="444.00" y="264.20" width="0.65" height="6.20" fill="rgb(76,76,84)" stroke="none" stroke-width="0" />
<rect x="444.60" y="264.20" width="0.85" height="6.20" fill="rgb(49,49,57)" stroke="none" stroke-width="0" />
<rect x="445.40" y="264.20" width="1.65" height="6.20" fill="rgb(29,29,37)" stroke="none" stroke-width="0" />
<rect x="447.00" y="264.20" width="0.55" height="6.20" fill="rgb(42,42,50)" stroke="none" stroke-width="0" />
<rect x="448.80" y="264.20" width="1.35" height="6.20" fill="rgb(63,63,71)" stroke="none" stroke-width="0" />
<rect x="450.10" y="264.20" width="0.85" height="6.20" fill="rgb(107,107,115)" stroke="none" stroke-width="0" />
<rect x="451.70" y="264.20" width="0.55" height="6.20" fill="rgb(156,156,164)" stroke="none" stroke-width="0" />
<rect x="452.80" y="264.20" width="0.55" height="6.20" fill="rgb(122,122,130)" stroke="none" stroke-width="0" />
<rect x="454.90" y="264.20" width="0.65" height="6.20" fill="rgb(64,64,72)" stroke="none" stroke-width="0" />
<rect x="455.50" y="264.20" width="1.65" height="6.20" fill="rgb(87,87,95)" stroke="none" stroke-width="0" />
<rect x="457.10" y="264.20" width="0.55" height="6.20" fill="rgb(75,75,83)" stroke="none" stroke-width="0" />
<rect x="457.60" y="264.20" width="0.85" height="6.20" fill="rgb(128,128,136)" stroke="none" stroke-width="0" />
<rect x="458.40" y="264.20" width="0.65" height="6.20" fill="rgb(121,121,129)" stroke="none" stroke-width="0" />
<rect x="459.00" y="264.20" width="0.85" height="6.20" fill="rgb(79,79,87)" stroke="none" stroke-width="0" />
<rect x="459.80" y="264.20" width="1.35" height="6.20" fill="rgb(70,70,78)" stroke="none" stroke-width="0" />
<rect x="461.10" y="264.20" width="0.85" height="6.20" fill="rgb(58,58,66)" stroke="none" stroke-width="0" />
<rect x="462.50" y="264.20" width="0.85" height="6.20" fill="rgb(136,136,144)" stroke="none" stroke-width="0" />
<rect x="466.00" y="264.20" width="0.55" height="6.20" fill="rgb(82,82,90)" stroke="none" stroke-width="0" />
<rect x="467.10" y="264.20" width="0.65" height="6.20" fill="rgb(138,138,146)" stroke="none" stroke-width="0" />
<rect x="469.20" y="264.20" width="1.05" height="6.20" fill="rgb(174,174,182)" stroke="none" stroke-width="0" />
<path d="M381.40 270.40 V197.20 H470.20 V270.40" fill="none" stroke="#8c8c8c" stroke-width="0.9"/>
<line x1="381.40" y1="264.20" x2="470.20" y2="264.20" stroke="#aaa" stroke-width="0.5" />
<line x1="381.40" y1="202.10" x2="470.20" y2="202.10" stroke="#f3f3f3" stroke-width="0.4" stroke-dasharray="1 1.2"/>
<line x1="380.00" y1="202.10" x2="381.40" y2="202.10" stroke="#777" stroke-width="0.5" />
<text transform="translate(377.30 202.10) rotate(-90)" font-size="3.4" text-anchor="middle" fill="#777">0.5</text>
<line x1="381.40" y1="214.01" x2="470.20" y2="214.01" stroke="#f3f3f3" stroke-width="0.4" stroke-dasharray="1 1.2"/>
<line x1="380.00" y1="214.01" x2="381.40" y2="214.01" stroke="#777" stroke-width="0.5" />
<text transform="translate(377.30 214.01) rotate(-90)" font-size="3.4" text-anchor="middle" fill="#777">0.4</text>
<line x1="381.40" y1="225.92" x2="470.20" y2="225.92" stroke="#f3f3f3" stroke-width="0.4" stroke-dasharray="1 1.2"/>
<line x1="380.00" y1="225.92" x2="381.40" y2="225.92" stroke="#777" stroke-width="0.5" />
<text transform="translate(377.30 225.92) rotate(-90)" font-size="3.4" text-anchor="middle" fill="#777">0.3</text>
<line x1="381.40" y1="237.83" x2="470.20" y2="237.83" stroke="#f3f3f3" stroke-width="0.4" stroke-dasharray="1 1.2"/>
<line x1="380.00" y1="237.83" x2="381.40" y2="237.83" stroke="#777" stroke-width="0.5" />
<text transform="translate(377.30 237.83) rotate(-90)" font-size="3.4" text-anchor="middle" fill="#777">0.2</text>
<line x1="381.40" y1="249.44" x2="470.20" y2="249.44" stroke="#f3f3f3" stroke-width="0.4" stroke-dasharray="1 1.2"/>
<line x1="380.00" y1="249.44" x2="381.40" y2="249.44" stroke="#777" stroke-width="0.5" />
<text transform="translate(377.30 249.44) rotate(-90)" font-size="3.4" text-anchor="middle" fill="#777">0.1</text>
<line x1="381.40" y1="261.20" x2="470.20" y2="261.20" stroke="#a0a0a0" stroke-width="0.55" stroke-dasharray="1.1 1.1"/>
<line x1="380.00" y1="261.20" x2="381.40" y2="261.20" stroke="#777" stroke-width="0.5" />
<text transform="translate(377.30 261.20) rotate(-90)" font-size="3.4" text-anchor="middle" fill="#777">0.0</text>
<path d="M381.38 261.20 L381.41 260.19 L381.44 259.13 L381.46 257.29 L381.49 256.32 L381.52 255.22 L381.54 253.98 L381.57 252.64 L381.60 251.27 L381.63 249.78 L381.65 249.28 L381.68 247.95 L381.71 247.01 L381.74 245.58 L381.76 244.85 L381.79 242.96 L381.82 241.82 L381.88 240.70 L381.96 239.41 L382.04 238.65 L382.12 237.04 L382.20 236.34 L382.28 234.63 L382.36 233.27 L382.44 232.64 L382.52 231.79 L382.60 229.95 L382.68 229.25 L382.82 227.86 L383.06 226.62 L383.29 225.65 L383.53 223.95 L383.76 223.17 L384.05 221.78 L384.43 220.60 L384.81 219.67 L385.19 218.19 L385.57 217.24 L385.95 215.99 L386.33 215.06 L386.71 213.95 L387.12 212.46 L387.57 211.62 L388.02 210.07 L388.47 209.32 L388.95 208.00 L389.42 206.86 L389.95 205.86 L391.03 205.75 L392.12 204.87 L392.84 203.76 L393.56 203.80 L394.28 202.26 L395.17 201.54 L396.07 200.75 L397.10 200.15 L398.27 200.48 L399.43 200.34 L400.61 200.68 L401.80 201.04 L402.99 201.58 L403.92 201.78 L404.77 202.65 L405.62 204.30 L406.47 204.23 L407.32 205.65 L408.19 205.83 L409.08 206.94 L409.97 207.87 L410.86 208.83 L411.76 209.48 L412.65 210.20 L413.54 211.29 L414.43 211.33 L415.31 212.69 L416.12 213.99 L416.93 214.29 L417.73 215.72 L418.54 216.11 L419.35 216.84 L420.15 217.93 L420.96 218.44 L421.77 220.07 L422.58 220.69 L423.33 221.77 L424.08 222.40 L424.83 223.29 L425.58 224.35 L426.33 224.77 L427.08 226.07 L427.83 227.55 L428.58 228.49 L429.43 228.93 L430.27 229.79 L431.12 230.91 L431.97 231.12 L432.82 232.56 L433.67 233.62 L434.52 233.95 L435.37 234.77 L436.22 235.33 L437.06 237.08 L437.91 237.66 L438.76 238.37 L439.61 238.63 L440.46 240.06 L441.36 240.92 L442.26 242.16 L443.17 242.05 L444.07 243.43 L444.97 243.91 L445.88 244.97 L446.72 246.07 L447.47 246.05 L448.22 247.50 L448.97 248.54 L449.90 248.97 L451.10 249.14 L452.16 248.88 L453.10 250.13 L454.03 250.65 L454.97 251.55 L455.98 252.45 L457.06 252.30 L458.13 253.56 L459.20 253.55 L460.22 254.96 L461.14 255.43 L462.06 256.28 L462.98 256.44 L463.90 257.75 L464.79 258.43 L465.63 259.06 L466.48 259.68 L467.34 261.07 L468.40 259.55 L469.46 259.69 L469.53 259.71" fill="none" stroke="#E65B38" stroke-width="1.05" stroke-linejoin="round"/>
<path d="M372.50 270.90 V183.40 H472.30" fill="none" stroke="#4d4d4d" stroke-width="1.2"/>
<path d="M472.30 182.80 V270.90 H371.90" fill="none" stroke="#8a8a8a" stroke-width="1.3"/>
<text x="425.80" y="193.20" font-size="8.4" text-anchor="middle" font-weight="bold" font-style="normal" fill="#111" >Focal adhesion</text>
<text x="429.33" y="204.30" font-size="7.0" text-anchor="start" font-weight="bold" font-style="normal" fill="#222" stroke-width="0.05">p-value: 0</text>
<text x="429.33" y="212.50" font-size="7.0" text-anchor="start" font-weight="bold" font-style="normal" fill="#222" stroke-width="0.05">NES: 2.1298</text>
<rect x="484.20" y="264.20" width="1.65" height="6.20" fill="rgb(26,26,34)" stroke="none" stroke-width="0" />
<rect x="485.80" y="264.20" width="1.05" height="6.20" fill="rgb(26,26,34)" stroke="none" stroke-width="0" />
<rect x="486.80" y="264.20" width="1.35" height="6.20" fill="rgb(9,9,17)" stroke="none" stroke-width="0" />
<rect x="489.70" y="264.20" width="1.05" height="6.20" fill="rgb(66,66,74)" stroke="none" stroke-width="0" />
<rect x="491.70" y="264.20" width="0.55" height="6.20" fill="rgb(88,88,96)" stroke="none" stroke-width="0" />
<rect x="493.20" y="264.20" width="1.05" height="6.20" fill="rgb(100,100,108)" stroke="none" stroke-width="0" />
<rect x="494.20" y="264.20" width="1.65" height="6.20" fill="rgb(132,132,140)" stroke="none" stroke-width="0" />
<rect x="495.80" y="264.20" width="1.65" height="6.20" fill="rgb(48,48,56)" stroke="none" stroke-width="0" />
<rect x="497.40" y="264.20" width="0.55" height="6.20" fill="rgb(112,112,120)" stroke="none" stroke-width="0" />
<rect x="497.90" y="264.20" width="1.65" height="6.20" fill="rgb(146,146,154)" stroke="none" stroke-width="0" />
<rect x="499.50" y="264.20" width="0.55" height="6.20" fill="rgb(65,65,73)" stroke="none" stroke-width="0" />
<rect x="500.60" y="264.20" width="1.05" height="6.20" fill="rgb(53,53,61)" stroke="none" stroke-width="0" />
<rect x="501.60" y="264.20" width="1.05" height="6.20" fill="rgb(57,57,65)" stroke="none" stroke-width="0" />
<rect x="502.60" y="264.20" width="1.65" height="6.20" fill="rgb(70,70,78)" stroke="none" stroke-width="0" />
<rect x="504.20" y="264.20" width="0.65" height="6.20" fill="rgb(123,123,131)" stroke="none" stroke-width="0" />
<rect x="504.80" y="264.20" width="1.05" height="6.20" fill="rgb(91,91,99)" stroke="none" stroke-width="0" />
<rect x="505.80" y="264.20" width="1.35" height="6.20" fill="rgb(118,118,126)" stroke="none" stroke-width="0" />
<rect x="509.70" y="264.20" width="0.65" height="6.20" fill="rgb(103,103,111)" stroke="none" stroke-width="0" />
<rect x="510.30" y="264.20" width="0.85" height="6.20" fill="rgb(157,157,165)" stroke="none" stroke-width="0" />
<rect x="511.70" y="264.20" width="0.85" height="6.20" fill="rgb(129,129,137)" stroke="none" stroke-width="0" />
<rect x="515.10" y="264.20" width="0.85" height="6.20" fill="rgb(128,128,136)" stroke="none" stroke-width="0" />
<rect x="515.90" y="264.20" width="0.55" height="6.20" fill="rgb(50,50,58)" stroke="none" stroke-width="0" />
<rect x="517.70" y="264.20" width="0.85" height="6.20" fill="rgb(59,59,67)" stroke="none" stroke-width="0" />
<rect x="519.50" y="264.20" width="1.35" height="6.20" fill="rgb(70,70,78)" stroke="none" stroke-width="0" />
<rect x="520.80" y="264.20" width="1.65" height="6.20" fill="rgb(86,86,94)" stroke="none" stroke-width="0" />
<rect x="522.40" y="264.20" width="0.85" height="6.20" fill="rgb(116,116,124)" stroke="none" stroke-width="0" />
<rect x="523.80" y="264.20" width="0.85" height="6.20" fill="rgb(62,62,70)" stroke="none" stroke-width="0" />
<rect x="524.60" y="264.20" width="0.65" height="6.20" fill="rgb(171,171,179)" stroke="none" stroke-width="0" />
<rect x="525.20" y="264.20" width="1.35" height="6.20" fill="rgb(163,163,171)" stroke="none" stroke-width="0" />
<rect x="526.50" y="264.20" width="1.35" height="6.20" fill="rgb(170,170,178)" stroke="none" stroke-width="0" />
<rect x="529.90" y="264.20" width="1.65" height="6.20" fill="rgb(102,102,110)" stroke="none" stroke-width="0" />
<rect x="533.10" y="264.20" width="1.65" height="6.20" fill="rgb(118,118,126)" stroke="none" stroke-width="0" />
<rect x="535.90" y="264.20" width="1.35" height="6.20" fill="rgb(136,136,144)" stroke="none" stroke-width="0" />
<rect x="538.80" y="264.20" width="0.55" height="6.20" fill="rgb(52,52,60)" stroke="none" stroke-width="0" />
<rect x="541.80" y="264.20" width="1.65" height="6.20" fill="rgb(93,93,101)" stroke="none" stroke-width="0" />
<rect x="547.80" y="264.20" width="1.65" height="6.20" fill="rgb(68,68,76)" stroke="none" stroke-width="0" />
<rect x="553.60" y="264.20" width="1.05" height="6.20" fill="rgb(169,169,177)" stroke="none" stroke-width="0" />
<rect x="555.60" y="264.20" width="1.35" height="6.20" fill="rgb(150,150,158)" stroke="none" stroke-width="0" />
<rect x="557.90" y="264.20" width="1.65" height="6.20" fill="rgb(76,76,84)" stroke="none" stroke-width="0" />
<rect x="559.50" y="264.20" width="0.85" height="6.20" fill="rgb(112,112,120)" stroke="none" stroke-width="0" />
<rect x="561.90" y="264.20" width="0.55" height="6.20" fill="rgb(97,97,105)" stroke="none" stroke-width="0" />
<rect x="562.90" y="264.20" width="0.65" height="6.20" fill="rgb(132,132,140)" stroke="none" stroke-width="0" />
<rect x="563.50" y="264.20" width="1.05" height="6.20" fill="rgb(101,101,109)" stroke="none" stroke-width="0" />
<rect x="564.50" y="264.20" width="0.55" height="6.20" fill="rgb(193,193,201)" stroke="none" stroke-width="0" />
<rect x="565.00" y="264.20" width="1.65" height="6.20" fill="rgb(85,85,93)" stroke="none" stroke-width="0" />
<rect x="569.20" y="264.20" width="1.05" height="6.20" fill="rgb(199,199,207)" stroke="none" stroke-width="0" />
<rect x="570.20" y="264.20" width="0.55" height="6.20" fill="rgb(44,44,52)" stroke="none" stroke-width="0" />
<path d="M484.20 270.40 V197.20 H573.00 V270.40" fill="none" stroke="#8c8c8c" stroke-width="0.9"/>
<line x1="484.20" y1="264.20" x2="573.00" y2="264.20" stroke="#aaa" stroke-width="0.5" />
<line x1="484.20" y1="203.59" x2="573.00" y2="203.59" stroke="#f3f3f3" stroke-width="0.4" stroke-dasharray="1 1.2"/>
<line x1="482.80" y1="203.59" x2="484.20" y2="203.59" stroke="#777" stroke-width="0.5" />
<text transform="translate(480.30 203.59) rotate(-90)" font-size="3.4" text-anchor="middle" fill="#777">0.5</text>
<line x1="484.20" y1="214.01" x2="573.00" y2="214.01" stroke="#f3f3f3" stroke-width="0.4" stroke-dasharray="1 1.2"/>
<line x1="482.80" y1="214.01" x2="484.20" y2="214.01" stroke="#777" stroke-width="0.5" />
<text transform="translate(480.30 214.01) rotate(-90)" font-size="3.4" text-anchor="middle" fill="#777">0.4</text>
<line x1="484.20" y1="224.43" x2="573.00" y2="224.43" stroke="#f3f3f3" stroke-width="0.4" stroke-dasharray="1 1.2"/>
<line x1="482.80" y1="224.43" x2="484.20" y2="224.43" stroke="#777" stroke-width="0.5" />
<text transform="translate(480.30 224.43) rotate(-90)" font-size="3.4" text-anchor="middle" fill="#777">0.3</text>
<line x1="484.20" y1="235.15" x2="573.00" y2="235.15" stroke="#f3f3f3" stroke-width="0.4" stroke-dasharray="1 1.2"/>
<line x1="482.80" y1="235.15" x2="484.20" y2="235.15" stroke="#777" stroke-width="0.5" />
<text transform="translate(480.30 235.15) rotate(-90)" font-size="3.4" text-anchor="middle" fill="#777">0.2</text>
<line x1="484.20" y1="245.72" x2="573.00" y2="245.72" stroke="#f3f3f3" stroke-width="0.4" stroke-dasharray="1 1.2"/>
<line x1="482.80" y1="245.72" x2="484.20" y2="245.72" stroke="#777" stroke-width="0.5" />
<text transform="translate(480.30 245.72) rotate(-90)" font-size="3.4" text-anchor="middle" fill="#777">0.1</text>
<line x1="484.20" y1="256.43" x2="573.00" y2="256.43" stroke="#a0a0a0" stroke-width="0.55" stroke-dasharray="1.1 1.1"/>
<line x1="482.80" y1="256.43" x2="484.20" y2="256.43" stroke="#777" stroke-width="0.5" />
<text transform="translate(480.30 256.43) rotate(-90)" font-size="3.4" text-anchor="middle" fill="#777">0.0</text>
<path d="M484.38 256.43 L484.43 254.88 L484.47 253.89 L484.52 252.98 L484.56 251.83 L484.61 250.77 L484.65 248.60 L484.70 247.84 L484.74 246.78 L484.79 245.82 L484.83 244.39 L484.87 242.85 L484.91 242.22 L484.95 240.94 L484.99 239.30 L485.03 238.26 L485.07 236.83 L485.11 235.91 L485.15 234.61 L485.19 233.58 L485.23 232.13 L485.27 231.32 L485.31 230.13 L485.35 228.39 L485.39 227.49 L485.44 226.26 L485.56 225.43 L485.68 224.29 L485.80 222.65 L485.92 221.71 L486.04 220.25 L486.16 219.54 L486.44 218.22 L486.73 216.99 L487.12 215.83 L487.65 214.93 L488.19 213.35 L488.73 212.50 L489.26 211.99 L489.80 210.79 L490.60 209.99 L491.46 208.91 L492.54 209.07 L493.13 208.44 L493.51 207.81 L494.44 206.86 L495.58 206.35 L496.50 205.75 L497.34 205.10 L497.79 204.07 L498.23 202.62 L498.68 201.24 L499.59 201.81 L500.73 202.05 L501.66 202.14 L502.51 200.87 L503.36 201.17 L504.21 202.23 L505.06 202.89 L505.91 204.02 L506.75 204.74 L507.60 205.68 L508.45 206.47 L509.30 207.07 L510.15 207.92 L511.04 209.31 L512.04 209.37 L513.04 210.14 L514.04 210.88 L515.04 211.21 L515.91 211.77 L516.76 213.05 L517.61 214.09 L518.46 215.19 L519.31 215.34 L520.15 217.18 L521.00 217.57 L521.85 218.35 L522.70 219.67 L523.55 219.99 L524.40 221.07 L525.25 222.33 L526.09 222.50 L526.94 223.46 L527.73 224.91 L528.50 225.21 L529.26 226.29 L530.03 227.28 L530.80 227.50 L531.57 228.62 L532.34 230.22 L533.11 230.87 L533.87 231.56 L534.65 233.07 L535.50 233.60 L536.35 234.04 L537.20 234.76 L538.05 236.24 L538.89 236.71 L539.74 237.96 L540.59 238.60 L541.44 239.91 L542.29 240.28 L543.14 241.23 L543.99 241.61 L544.84 243.44 L545.68 243.61 L546.52 244.18 L547.24 246.17 L547.96 246.51 L548.68 247.75 L549.40 248.56 L550.12 249.51 L550.84 250.00 L551.81 250.03 L552.80 249.97 L553.76 249.22 L554.70 250.24 L555.64 250.70 L556.58 252.02 L557.53 252.66 L558.49 253.16 L559.45 253.90 L560.54 253.74 L561.74 253.96 L562.92 254.13 L563.76 255.59 L564.61 256.08 L565.46 256.90 L566.26 257.46 L567.03 258.42 L567.80 259.31 L568.57 260.31 L569.34 261.57 L569.74 260.86 L570.00 259.18 L570.26 258.80 L570.52 257.38 L570.78 255.74 L571.04 255.18 L572.12 256.31 L572.53 255.69" fill="none" stroke="#E65B38" stroke-width="1.05" stroke-linejoin="round"/>
<path d="M475.50 270.90 V183.40 H575.10" fill="none" stroke="#4d4d4d" stroke-width="1.2"/>
<path d="M575.10 182.80 V270.90 H474.90" fill="none" stroke="#8a8a8a" stroke-width="1.3"/>
<text x="528.60" y="193.20" font-size="8.4" text-anchor="middle" font-weight="bold" font-style="normal" fill="#111" >Adherens junction</text>
<text x="525.93" y="204.30" font-size="7.0" text-anchor="start" font-weight="bold" font-style="normal" fill="#222" stroke-width="0.05">p-value: 0.001</text>
<text x="525.93" y="212.50" font-size="7.0" text-anchor="start" font-weight="bold" font-style="normal" fill="#222" stroke-width="0.05">NES: 1.8933</text>
<rect x="587.50" y="264.20" width="1.05" height="6.20" fill="rgb(21,21,29)" stroke="none" stroke-width="0" />
<rect x="588.50" y="264.20" width="1.35" height="6.20" fill="rgb(33,33,41)" stroke="none" stroke-width="0" />
<rect x="589.80" y="264.20" width="0.65" height="6.20" fill="rgb(10,10,18)" stroke="none" stroke-width="0" />
<rect x="590.40" y="264.20" width="1.05" height="6.20" fill="rgb(2,2,10)" stroke="none" stroke-width="0" />
<rect x="591.40" y="264.20" width="1.05" height="6.20" fill="rgb(111,111,119)" stroke="none" stroke-width="0" />
<rect x="592.40" y="264.20" width="1.65" height="6.20" fill="rgb(112,112,120)" stroke="none" stroke-width="0" />
<rect x="594.00" y="264.20" width="1.65" height="6.20" fill="rgb(78,78,86)" stroke="none" stroke-width="0" />
<rect x="595.60" y="264.20" width="0.85" height="6.20" fill="rgb(118,118,126)" stroke="none" stroke-width="0" />
<rect x="596.40" y="264.20" width="1.65" height="6.20" fill="rgb(118,118,126)" stroke="none" stroke-width="0" />
<rect x="598.00" y="264.20" width="0.55" height="6.20" fill="rgb(78,78,86)" stroke="none" stroke-width="0" />
<rect x="598.50" y="264.20" width="1.35" height="6.20" fill="rgb(131,131,139)" stroke="none" stroke-width="0" />
<rect x="599.80" y="264.20" width="0.65" height="6.20" fill="rgb(81,81,89)" stroke="none" stroke-width="0" />
<rect x="600.40" y="264.20" width="1.05" height="6.20" fill="rgb(67,67,75)" stroke="none" stroke-width="0" />
<rect x="601.40" y="264.20" width="1.05" height="6.20" fill="rgb(54,54,62)" stroke="none" stroke-width="0" />
<rect x="602.40" y="264.20" width="1.05" height="6.20" fill="rgb(105,105,113)" stroke="none" stroke-width="0" />
<rect x="603.40" y="264.20" width="0.65" height="6.20" fill="rgb(78,78,86)" stroke="none" stroke-width="0" />
<rect x="604.00" y="264.20" width="0.65" height="6.20" fill="rgb(95,95,103)" stroke="none" stroke-width="0" />
<rect x="605.90" y="264.20" width="0.55" height="6.20" fill="rgb(67,67,75)" stroke="none" stroke-width="0" />
<rect x="606.40" y="264.20" width="1.65" height="6.20" fill="rgb(31,31,39)" stroke="none" stroke-width="0" />
<rect x="608.00" y="264.20" width="0.55" height="6.20" fill="rgb(101,101,109)" stroke="none" stroke-width="0" />
<rect x="608.50" y="264.20" width="1.05" height="6.20" fill="rgb(46,46,54)" stroke="none" stroke-width="0" />
<rect x="610.30" y="264.20" width="1.35" height="6.20" fill="rgb(121,121,129)" stroke="none" stroke-width="0" />
<rect x="611.60" y="264.20" width="0.65" height="6.20" fill="rgb(99,99,107)" stroke="none" stroke-width="0" />
<rect x="613.80" y="264.20" width="0.65" height="6.20" fill="rgb(124,124,132)" stroke="none" stroke-width="0" />
<rect x="614.40" y="264.20" width="0.65" height="6.20" fill="rgb(145,145,153)" stroke="none" stroke-width="0" />
<rect x="617.20" y="264.20" width="0.85" height="6.20" fill="rgb(125,125,133)" stroke="none" stroke-width="0" />
<rect x="618.50" y="264.20" width="0.65" height="6.20" fill="rgb(121,121,129)" stroke="none" stroke-width="0" />
<rect x="619.10" y="264.20" width="1.05" height="6.20" fill="rgb(92,92,100)" stroke="none" stroke-width="0" />
<rect x="621.10" y="264.20" width="0.85" height="6.20" fill="rgb(152,152,160)" stroke="none" stroke-width="0" />
<rect x="621.90" y="264.20" width="1.05" height="6.20" fill="rgb(78,78,86)" stroke="none" stroke-width="0" />
<rect x="622.90" y="264.20" width="1.35" height="6.20" fill="rgb(134,134,142)" stroke="none" stroke-width="0" />
<rect x="625.20" y="264.20" width="0.55" height="6.20" fill="rgb(102,102,110)" stroke="none" stroke-width="0" />
<rect x="625.70" y="264.20" width="0.65" height="6.20" fill="rgb(77,77,85)" stroke="none" stroke-width="0" />
<rect x="627.10" y="264.20" width="0.55" height="6.20" fill="rgb(82,82,90)" stroke="none" stroke-width="0" />
<rect x="627.60" y="264.20" width="0.55" height="6.20" fill="rgb(35,35,43)" stroke="none" stroke-width="0" />
<rect x="628.10" y="264.20" width="1.05" height="6.20" fill="rgb(135,135,143)" stroke="none" stroke-width="0" />
<rect x="629.10" y="264.20" width="1.65" height="6.20" fill="rgb(149,149,157)" stroke="none" stroke-width="0" />
<rect x="630.70" y="264.20" width="0.65" height="6.20" fill="rgb(65,65,73)" stroke="none" stroke-width="0" />
<rect x="632.30" y="264.20" width="0.65" height="6.20" fill="rgb(152,152,160)" stroke="none" stroke-width="0" />
<rect x="633.40" y="264.20" width="1.35" height="6.20" fill="rgb(146,146,154)" stroke="none" stroke-width="0" />
<rect x="634.70" y="264.20" width="0.55" height="6.20" fill="rgb(33,33,41)" stroke="none" stroke-width="0" />
<rect x="635.20" y="264.20" width="0.65" height="6.20" fill="rgb(106,106,114)" stroke="none" stroke-width="0" />
<rect x="638.40" y="264.20" width="0.65" height="6.20" fill="rgb(123,123,131)" stroke="none" stroke-width="0" />
<rect x="639.00" y="264.20" width="1.35" height="6.20" fill="rgb(121,121,129)" stroke="none" stroke-width="0" />
<rect x="640.30" y="264.20" width="1.35" height="6.20" fill="rgb(94,94,102)" stroke="none" stroke-width="0" />
<rect x="642.20" y="264.20" width="0.55" height="6.20" fill="rgb(165,165,173)" stroke="none" stroke-width="0" />
<rect x="642.70" y="264.20" width="0.55" height="6.20" fill="rgb(33,33,41)" stroke="none" stroke-width="0" />
<rect x="644.00" y="264.20" width="0.85" height="6.20" fill="rgb(88,88,96)" stroke="none" stroke-width="0" />
<rect x="644.80" y="264.20" width="0.65" height="6.20" fill="rgb(151,151,159)" stroke="none" stroke-width="0" />
<rect x="645.40" y="264.20" width="1.65" height="6.20" fill="rgb(67,67,75)" stroke="none" stroke-width="0" />
<rect x="647.80" y="264.20" width="0.65" height="6.20" fill="rgb(161,161,169)" stroke="none" stroke-width="0" />
<rect x="648.40" y="264.20" width="0.85" height="6.20" fill="rgb(39,39,47)" stroke="none" stroke-width="0" />
<rect x="649.20" y="264.20" width="0.55" height="6.20" fill="rgb(116,116,124)" stroke="none" stroke-width="0" />
<rect x="650.50" y="264.20" width="0.55" height="6.20" fill="rgb(52,52,60)" stroke="none" stroke-width="0" />
<rect x="651.00" y="264.20" width="1.65" height="6.20" fill="rgb(144,144,152)" stroke="none" stroke-width="0" />
<rect x="652.60" y="264.20" width="1.35" height="6.20" fill="rgb(172,172,180)" stroke="none" stroke-width="0" />
<rect x="655.90" y="264.20" width="1.05" height="6.20" fill="rgb(149,149,157)" stroke="none" stroke-width="0" />
<rect x="656.90" y="264.20" width="0.55" height="6.20" fill="rgb(63,63,71)" stroke="none" stroke-width="0" />
<rect x="657.40" y="264.20" width="1.65" height="6.20" fill="rgb(164,164,172)" stroke="none" stroke-width="0" />
<rect x="659.00" y="264.20" width="0.55" height="6.20" fill="rgb(89,89,97)" stroke="none" stroke-width="0" />
<rect x="659.50" y="264.20" width="0.55" height="6.20" fill="rgb(179,179,187)" stroke="none" stroke-width="0" />
<rect x="660.00" y="264.20" width="0.85" height="6.20" fill="rgb(68,68,76)" stroke="none" stroke-width="0" />
<rect x="661.80" y="264.20" width="1.35" height="6.20" fill="rgb(99,99,107)" stroke="none" stroke-width="0" />
<rect x="663.10" y="264.20" width="0.85" height="6.20" fill="rgb(63,63,71)" stroke="none" stroke-width="0" />
<rect x="664.40" y="264.20" width="0.65" height="6.20" fill="rgb(181,181,189)" stroke="none" stroke-width="0" />
<rect x="665.80" y="264.20" width="1.05" height="6.20" fill="rgb(111,111,119)" stroke="none" stroke-width="0" />
<rect x="668.60" y="264.20" width="1.65" height="6.20" fill="rgb(173,173,181)" stroke="none" stroke-width="0" />
<rect x="670.20" y="264.20" width="0.55" height="6.20" fill="rgb(53,53,61)" stroke="none" stroke-width="0" />
<rect x="670.70" y="264.20" width="1.05" height="6.20" fill="rgb(49,49,57)" stroke="none" stroke-width="0" />
<rect x="672.30" y="264.20" width="1.35" height="6.20" fill="rgb(152,152,160)" stroke="none" stroke-width="0" />
<rect x="673.60" y="264.20" width="1.65" height="6.20" fill="rgb(144,144,152)" stroke="none" stroke-width="0" />
<path d="M587.50 270.40 V197.20 H677.20 V270.40" fill="none" stroke="#8c8c8c" stroke-width="0.9"/>
<line x1="587.50" y1="264.20" x2="677.20" y2="264.20" stroke="#aaa" stroke-width="0.5" />
<line x1="587.50" y1="198.67" x2="677.20" y2="198.67" stroke="#f3f3f3" stroke-width="0.4" stroke-dasharray="1 1.2"/>
<line x1="586.10" y1="198.67" x2="587.50" y2="198.67" stroke="#777" stroke-width="0.5" />
<text transform="translate(583.40 198.67) rotate(-90)" font-size="3.4" text-anchor="middle" fill="#777">0.5</text>
<line x1="587.50" y1="208.80" x2="677.20" y2="208.80" stroke="#f3f3f3" stroke-width="0.4" stroke-dasharray="1 1.2"/>
<line x1="586.10" y1="208.80" x2="587.50" y2="208.80" stroke="#777" stroke-width="0.5" />
<text transform="translate(583.40 208.80) rotate(-90)" font-size="3.4" text-anchor="middle" fill="#777">0.4</text>
<line x1="587.50" y1="219.22" x2="677.20" y2="219.22" stroke="#f3f3f3" stroke-width="0.4" stroke-dasharray="1 1.2"/>
<line x1="586.10" y1="219.22" x2="587.50" y2="219.22" stroke="#777" stroke-width="0.5" />
<text transform="translate(583.40 219.22) rotate(-90)" font-size="3.4" text-anchor="middle" fill="#777">0.3</text>
<line x1="587.50" y1="230.38" x2="677.20" y2="230.38" stroke="#f3f3f3" stroke-width="0.4" stroke-dasharray="1 1.2"/>
<line x1="586.10" y1="230.38" x2="587.50" y2="230.38" stroke="#777" stroke-width="0.5" />
<text transform="translate(583.40 230.38) rotate(-90)" font-size="3.4" text-anchor="middle" fill="#777">0.2</text>
<line x1="587.50" y1="241.25" x2="677.20" y2="241.25" stroke="#f3f3f3" stroke-width="0.4" stroke-dasharray="1 1.2"/>
<line x1="586.10" y1="241.25" x2="587.50" y2="241.25" stroke="#777" stroke-width="0.5" />
<text transform="translate(583.40 241.25) rotate(-90)" font-size="3.4" text-anchor="middle" fill="#777">0.1</text>
<line x1="587.50" y1="252.27" x2="677.20" y2="252.27" stroke="#a0a0a0" stroke-width="0.55" stroke-dasharray="1.1 1.1"/>
<line x1="586.10" y1="252.27" x2="587.50" y2="252.27" stroke="#777" stroke-width="0.5" />
<text transform="translate(583.40 252.27) rotate(-90)" font-size="3.4" text-anchor="middle" fill="#777">0.0</text>
<line x1="587.50" y1="263.58" x2="677.20" y2="263.58" stroke="#f3f3f3" stroke-width="0.4" stroke-dasharray="1 1.2"/>
<line x1="586.10" y1="263.58" x2="587.50" y2="263.58" stroke="#777" stroke-width="0.5" />
<text transform="translate(583.40 263.58) rotate(-90)" font-size="3.4" text-anchor="middle" fill="#777">-0.1</text>
<path d="M587.68 252.27 L587.73 251.06 L587.78 250.03 L587.83 249.13 L587.88 247.19 L587.93 246.09 L587.98 245.09 L588.03 244.03 L588.08 242.28 L588.13 241.56 L588.19 240.76 L588.25 239.13 L588.31 237.71 L588.37 236.70 L588.43 235.48 L588.49 234.11 L588.55 233.43 L588.61 232.16 L588.67 230.67 L588.73 229.65 L588.84 228.18 L588.94 227.72 L589.04 226.47 L589.14 224.51 L589.25 223.40 L589.35 222.02 L589.45 220.78 L589.55 219.90 L589.70 218.92 L589.91 217.02 L590.11 216.36 L590.32 215.25 L590.53 213.60 L590.78 213.24 L591.11 211.73 L591.44 210.22 L591.77 209.57 L592.10 208.40 L592.60 206.80 L593.14 205.84 L593.68 204.75 L594.21 204.21 L594.97 202.98 L595.82 201.92 L596.69 200.88 L597.88 201.27 L599.07 201.51 L600.24 200.68 L601.39 200.36 L602.54 200.72 L603.66 200.31 L604.77 201.49 L605.90 201.53 L607.04 201.87 L608.12 202.76 L609.12 202.98 L610.12 203.62 L611.12 203.88 L612.12 204.89 L613.05 205.73 L613.97 206.38 L614.89 207.96 L615.81 208.43 L616.74 209.18 L617.64 209.80 L618.54 210.06 L619.45 210.91 L620.35 212.34 L621.25 212.81 L622.16 213.06 L623.02 214.50 L623.82 215.89 L624.63 216.22 L625.44 217.41 L626.25 217.65 L627.05 219.09 L627.86 219.63 L628.67 220.77 L629.48 221.40 L630.28 222.21 L631.04 222.94 L631.81 224.52 L632.58 225.28 L633.35 226.12 L634.12 227.03 L634.89 228.09 L635.65 228.85 L636.42 229.90 L637.19 230.94 L637.97 231.80 L638.77 232.35 L639.57 233.25 L640.37 234.31 L641.16 235.58 L641.96 235.88 L642.76 237.10 L643.55 237.81 L644.30 238.83 L645.05 239.71 L645.80 240.41 L646.58 241.36 L647.65 242.24 L648.72 242.41 L649.73 243.06 L650.58 244.26 L651.43 244.55 L652.27 246.11 L653.12 246.26 L653.97 247.39 L654.82 248.90 L655.77 249.03 L656.97 248.51 L657.99 249.41 L658.75 250.16 L659.52 251.52 L660.29 252.21 L661.06 253.31 L661.96 254.24 L662.96 254.22 L663.96 254.86 L664.96 255.26 L665.97 256.46 L667.16 256.70 L668.34 256.70 L669.52 257.21 L670.63 257.17 L671.59 257.90 L672.56 259.07 L673.54 259.24 L674.61 260.18 L675.69 260.35 L676.30 259.96 L676.34 258.74 L676.38 257.73 L676.42 257.23 L676.46 255.68 L676.50 254.35 L676.54 253.18 L676.58 251.97" fill="none" stroke="#E65B38" stroke-width="1.05" stroke-linejoin="round"/>
<path d="M578.60 270.90 V183.40 H679.30" fill="none" stroke="#4d4d4d" stroke-width="1.2"/>
<path d="M679.30 182.80 V270.90 H578.00" fill="none" stroke="#8a8a8a" stroke-width="1.3"/>
<text x="632.35" y="193.20" font-size="8.4" text-anchor="middle" font-weight="bold" font-style="normal" fill="#111" >Tight junction</text>
<text x="629.37" y="204.30" font-size="7.0" text-anchor="start" font-weight="bold" font-style="normal" fill="#222" stroke-width="0.05">p-value: 0</text>
<text x="629.37" y="212.50" font-size="7.0" text-anchor="start" font-weight="bold" font-style="normal" fill="#222" stroke-width="0.05">NES: 1.9263</text>
<text transform="translate(0.20 318.90) scale(1 1.05)" font-size="19.5" text-anchor="start" font-weight="bold" font-style="normal" fill="#111" >C</text>
<rect x="151.50" y="314.90" width="102.20" height="6.80" fill="#E0421F" stroke="none" stroke-width="0" />
<text transform="translate(148.80 322.00) scale(1 1.08)" font-size="9.9" text-anchor="end" font-weight="bold" font-style="normal" fill="#111" >Tumor Microenvironment</text>
<rect x="151.50" y="324.77" width="71.40" height="6.80" fill="#E0421F" stroke="none" stroke-width="0" />
<text transform="translate(148.80 331.87) scale(1 1.08)" font-size="9.9" text-anchor="end" font-weight="bold" font-style="normal" fill="#111" >Wound Healing</text>
<rect x="151.50" y="334.64" width="69.50" height="6.80" fill="#E0421F" stroke="none" stroke-width="0" />
<text transform="translate(148.80 341.74) scale(1 1.08)" font-size="9.9" text-anchor="end" font-weight="bold" font-style="normal" fill="#111" >Hepatic Fibrosis</text>
<rect x="151.50" y="344.51" width="61.90" height="6.80" fill="#E0421F" stroke="none" stroke-width="0" />
<text transform="translate(148.80 351.61) scale(1 1.08)" font-size="9.9" text-anchor="end" font-weight="bold" font-style="normal" fill="#111" >TNFR2</text>
<rect x="151.50" y="354.38" width="54.50" height="6.80" fill="#E0421F" stroke="none" stroke-width="0" />
<text transform="translate(148.80 361.48) scale(1 1.08)" font-size="9.9" text-anchor="end" font-weight="bold" font-style="normal" fill="#111" >TLR</text>
<rect x="151.50" y="364.25" width="47.40" height="6.80" fill="#E0421F" stroke="none" stroke-width="0" />
<text transform="translate(148.80 371.35) scale(1 1.08)" font-size="9.9" text-anchor="end" font-weight="bold" font-style="normal" fill="#111" >IL-9</text>
<rect x="151.50" y="374.12" width="44.90" height="6.80" fill="#E0421F" stroke="none" stroke-width="0" />
<text transform="translate(148.80 381.22) scale(1 1.08)" font-size="9.9" text-anchor="end" font-weight="bold" font-style="normal" fill="#111" >Rho Family GTPases</text>
<rect x="151.50" y="383.99" width="41.90" height="6.80" fill="#E0421F" stroke="none" stroke-width="0" />
<text transform="translate(148.80 391.09) scale(1 1.08)" font-size="9.9" text-anchor="end" font-weight="bold" font-style="normal" fill="#111" >GPCR</text>
<rect x="151.50" y="393.86" width="35.50" height="6.80" fill="#E0421F" stroke="none" stroke-width="0" />
<text transform="translate(148.80 400.96) scale(1 1.08)" font-size="9.9" text-anchor="end" font-weight="bold" font-style="normal" fill="#111" >Protein Kinase A</text>
<rect x="151.50" y="403.73" width="32.30" height="6.80" fill="#E0421F" stroke="none" stroke-width="0" />
<text transform="translate(148.80 410.83) scale(1 1.08)" font-size="9.9" text-anchor="end" font-weight="bold" font-style="normal" fill="#111" >PI3K/AKT</text>
<rect x="151.50" y="413.60" width="31.40" height="6.80" fill="#E0421F" stroke="none" stroke-width="0" />
<text transform="translate(148.80 420.70) scale(1 1.08)" font-size="9.9" text-anchor="end" font-weight="bold" font-style="normal" fill="#111" >JAK/STAT</text>
<rect x="151.50" y="423.47" width="31.40" height="6.80" fill="#E0421F" stroke="none" stroke-width="0" />
<text transform="translate(148.80 430.57) scale(1 1.08)" font-size="9.9" text-anchor="end" font-weight="bold" font-style="normal" fill="#111" >IL-1</text>
<rect x="151.50" y="433.34" width="28.40" height="6.80" fill="#E0421F" stroke="none" stroke-width="0" />
<text transform="translate(148.80 440.44) scale(1 1.08)" font-size="9.9" text-anchor="end" font-weight="bold" font-style="normal" fill="#111" >PAK</text>
<rect x="151.50" y="443.21" width="28.20" height="6.80" fill="#E0421F" stroke="none" stroke-width="0" />
<text transform="translate(148.80 450.31) scale(1 1.08)" font-size="9.9" text-anchor="end" font-weight="bold" font-style="normal" fill="#111" >ERK/MAPK</text>
<rect x="151.50" y="453.08" width="27.70" height="6.80" fill="#E0421F" stroke="none" stroke-width="0" />
<text transform="translate(148.80 460.18) scale(1 1.08)" font-size="9.9" text-anchor="end" font-weight="bold" font-style="normal" fill="#111" >STAT3</text>
<rect x="151.50" y="462.95" width="27.40" height="6.80" fill="#E0421F" stroke="none" stroke-width="0" />
<text transform="translate(148.80 470.05) scale(1 1.08)" font-size="9.9" text-anchor="end" font-weight="bold" font-style="normal" fill="#111" >Macropinocytosis</text>
<rect x="151.50" y="472.82" width="27.40" height="6.80" fill="#E0421F" stroke="none" stroke-width="0" />
<text transform="translate(148.80 479.92) scale(1 1.08)" font-size="9.9" text-anchor="end" font-weight="bold" font-style="normal" fill="#111" >p38 MAPK</text>
<rect x="151.50" y="482.69" width="25.60" height="6.80" fill="#E0421F" stroke="none" stroke-width="0" />
<text transform="translate(148.80 489.79) scale(1 1.08)" font-size="9.9" text-anchor="end" font-weight="bold" font-style="normal" fill="#111" >EMT Regulation</text>
<rect x="151.50" y="492.56" width="24.00" height="6.80" fill="#E0421F" stroke="none" stroke-width="0" />
<text transform="translate(148.80 499.66) scale(1 1.08)" font-size="9.9" text-anchor="end" font-weight="bold" font-style="normal" fill="#111" >HGF</text>
<rect x="151.50" y="502.43" width="23.50" height="6.80" fill="#E0421F" stroke="none" stroke-width="0" />
<text transform="translate(148.80 509.53) scale(1 1.08)" font-size="9.9" text-anchor="end" font-weight="bold" font-style="normal" fill="#111" >ILK</text>
<rect x="151.50" y="512.30" width="20.90" height="6.80" fill="#E0421F" stroke="none" stroke-width="0" />
<text transform="translate(148.80 519.40) scale(1 1.08)" font-size="9.9" text-anchor="end" font-weight="bold" font-style="normal" fill="#111" >ERBB</text>
<rect x="151.50" y="522.17" width="18.30" height="6.80" fill="#E0421F" stroke="none" stroke-width="0" />
<text transform="translate(148.80 529.27) scale(1 1.08)" font-size="9.9" text-anchor="end" font-weight="bold" font-style="normal" fill="#111" >WNT/<tspan font-family="Liberation Serif" font-weight="normal" stroke-width="0">&#946;</tspan>-catenin</text>
<rect x="151.50" y="532.04" width="17.50" height="6.80" fill="#E0421F" stroke="none" stroke-width="0" />
<text transform="translate(148.80 539.14) scale(1 1.08)" font-size="9.9" text-anchor="end" font-weight="bold" font-style="normal" fill="#111" >Integrin</text>
<rect x="151.50" y="541.91" width="16.50" height="6.80" fill="#E0421F" stroke="none" stroke-width="0" />
<text transform="translate(148.80 549.01) scale(1 1.08)" font-size="9.9" text-anchor="end" font-weight="bold" font-style="normal" fill="#111" >14-3-3</text>
<rect x="151.50" y="551.78" width="15.20" height="6.80" fill="#E0421F" stroke="none" stroke-width="0" />
<text transform="translate(148.80 558.88) scale(1 1.08)" font-size="9.9" text-anchor="end" font-weight="bold" font-style="normal" fill="#111" >p53</text>
<rect x="151.50" y="561.65" width="19.30" height="6.80" fill="#5230A8" stroke="none" stroke-width="0" />
<text transform="translate(148.80 568.75) scale(1 1.08)" font-size="9.9" text-anchor="end" font-weight="bold" font-style="normal" fill="#111" >PTEN</text>
<rect x="151.50" y="571.52" width="20.40" height="6.80" fill="#5230A8" stroke="none" stroke-width="0" />
<text transform="translate(148.80 578.62) scale(1 1.08)" font-size="9.9" text-anchor="end" font-weight="bold" font-style="normal" fill="#111" >cAMP</text>
<rect x="151.50" y="581.39" width="20.60" height="6.80" fill="#5230A8" stroke="none" stroke-width="0" />
<text transform="translate(148.80 588.49) scale(1 1.08)" font-size="9.9" text-anchor="end" font-weight="bold" font-style="normal" fill="#111" >RHOGDI</text>
<rect x="151.50" y="591.26" width="34.70" height="6.80" fill="#5230A8" stroke="none" stroke-width="0" />
<text transform="translate(148.80 598.36) scale(1 1.08)" font-size="9.9" text-anchor="end" font-weight="bold" font-style="normal" fill="#111" >MMPs Inhibition</text>
<rect x="151.50" y="601.13" width="38.40" height="6.80" fill="#5230A8" stroke="none" stroke-width="0" />
<text transform="translate(148.80 608.23) scale(1 1.08)" font-size="9.9" text-anchor="end" font-weight="bold" font-style="normal" fill="#111" >PPAR</text>
<rect x="151.50" y="611.00" width="43.30" height="6.80" fill="#5230A8" stroke="none" stroke-width="0" />
<text transform="translate(148.80 618.10) scale(1 1.08)" font-size="9.9" text-anchor="end" font-weight="bold" font-style="normal" fill="#111" >LXR/RXR</text>
<line x1="151.50" y1="310.50" x2="151.50" y2="621.00" stroke="#111" stroke-width="1.7" />
<line x1="150.70" y1="620.30" x2="265.50" y2="620.30" stroke="#111" stroke-width="1.8" />
<line x1="151.40" y1="620.30" x2="151.40" y2="625.00" stroke="#111" stroke-width="1.5" />
<text transform="translate(151.40 634.20) scale(1 1.1)" font-size="11.0" text-anchor="middle" font-weight="bold" font-style="normal" fill="#111" >0</text>
<line x1="174.08" y1="620.30" x2="174.08" y2="625.00" stroke="#111" stroke-width="1.5" />
<text transform="translate(174.08 634.20) scale(1 1.1)" font-size="11.0" text-anchor="middle" font-weight="bold" font-style="normal" fill="#111" >2</text>
<line x1="196.76" y1="620.30" x2="196.76" y2="625.00" stroke="#111" stroke-width="1.5" />
<text transform="translate(196.76 634.20) scale(1 1.1)" font-size="11.0" text-anchor="middle" font-weight="bold" font-style="normal" fill="#111" >4</text>
<line x1="219.44" y1="620.30" x2="219.44" y2="625.00" stroke="#111" stroke-width="1.5" />
<text transform="translate(219.44 634.20) scale(1 1.1)" font-size="11.0" text-anchor="middle" font-weight="bold" font-style="normal" fill="#111" >6</text>
<line x1="242.12" y1="620.30" x2="242.12" y2="625.00" stroke="#111" stroke-width="1.5" />
<text transform="translate(242.12 634.20) scale(1 1.1)" font-size="11.0" text-anchor="middle" font-weight="bold" font-style="normal" fill="#111" >8</text>
<line x1="264.80" y1="620.30" x2="264.80" y2="625.00" stroke="#111" stroke-width="1.5" />
<text transform="translate(264.80 634.20) scale(1 1.1)" font-size="11.0" text-anchor="middle" font-weight="bold" font-style="normal" fill="#111" >10</text>
<text x="217.70" y="646.80" font-size="11.2" text-anchor="middle" font-weight="bold" font-style="normal" fill="#111" >P value (-log<tspan font-size="6.2" dy="2">10</tspan><tspan dy="-2">)</tspan></text>
<rect x="193.30" y="530.70" width="8.30" height="9.90" fill="#E0421F" stroke="none" stroke-width="0" />
<rect x="193.30" y="542.40" width="8.30" height="11.20" fill="#5230A8" stroke="none" stroke-width="0" />
<text x="204.30" y="540.50" font-size="10.5" text-anchor="start" font-weight="bold" font-style="normal" fill="#111" >Activated by CEACAM6</text>
<text x="204.30" y="552.70" font-size="10.5" text-anchor="start" font-weight="bold" font-style="normal" fill="#111" >Inhibited by CEACAM6</text>
<text transform="translate(327.40 318.90) scale(1 1.05)" font-size="19.5" text-anchor="start" font-weight="bold" font-style="normal" fill="#111" >D</text>
<text x="514.00" y="321.40" font-size="11.2" text-anchor="middle" font-weight="bold" font-style="normal" fill="#111" >GB-d1-CEACAM6</text>
<text transform="translate(357.7 384.6) rotate(-90)" font-size="12.1" text-anchor="middle" font-weight="normal" fill="#111" stroke="#111" stroke-width="0.35">Gene expression (fc)</text>
<rect x="389.70" y="453.90" width="12.40" height="3.20" fill="#111" stroke="none" stroke-width="0" />
<circle cx="391.90" cy="453.50" r="1.35" fill="#111"/>
<circle cx="395.90" cy="453.50" r="1.35" fill="#111"/>
<circle cx="399.90" cy="453.50" r="1.35" fill="#111"/>
<rect x="409.65" y="375.30" width="10.70" height="81.81" fill="#E0421F" stroke="#111" stroke-width="1.5" />
<line x1="415.00" y1="358.30" x2="415.00" y2="389.50" stroke="#111" stroke-width="0.9" />
<line x1="411.90" y1="358.30" x2="418.10" y2="358.30" stroke="#111" stroke-width="0.9" />
<circle cx="415.00" cy="358.40" r="1.35" fill="#111"/>
<circle cx="415.00" cy="389.40" r="1.35" fill="#111"/>
<path d="M395.10 448.80 V337.30 H415.00 V349.50" fill="none" stroke="#111" stroke-width="1.3"/>
<text x="405.45" y="337.94" font-size="16" text-anchor="middle" font-weight="normal" font-style="normal" fill="#111" letter-spacing="1.3" stroke="#111" stroke-width="0.5">***</text>
<rect x="440.70" y="453.90" width="12.40" height="3.20" fill="#111" stroke="none" stroke-width="0" />
<circle cx="442.90" cy="453.50" r="1.35" fill="#111"/>
<circle cx="446.90" cy="453.50" r="1.35" fill="#111"/>
<circle cx="450.90" cy="453.50" r="1.35" fill="#111"/>
<rect x="460.65" y="418.31" width="10.70" height="38.79" fill="#E0421F" stroke="#111" stroke-width="1.5" />
<line x1="466.00" y1="405.40" x2="466.00" y2="426.60" stroke="#111" stroke-width="0.9" />
<line x1="462.90" y1="405.40" x2="469.10" y2="405.40" stroke="#111" stroke-width="0.9" />
<line x1="462.90" y1="426.60" x2="469.10" y2="426.60" stroke="#111" stroke-width="0.9" />
<circle cx="466.00" cy="405.40" r="1.35" fill="#111"/>
<circle cx="466.00" cy="421.20" r="1.35" fill="#111"/>
<circle cx="466.00" cy="424.50" r="1.35" fill="#111"/>
<path d="M446.10 448.80 V386.80 H466.00 V396.60" fill="none" stroke="#111" stroke-width="1.3"/>
<text x="456.45" y="387.44" font-size="16" text-anchor="middle" font-weight="normal" font-style="normal" fill="#111" letter-spacing="1.3" stroke="#111" stroke-width="0.5">**</text>
<rect x="491.50" y="453.90" width="12.40" height="3.20" fill="#111" stroke="none" stroke-width="0" />
<circle cx="493.70" cy="453.50" r="1.35" fill="#111"/>
<circle cx="497.70" cy="453.50" r="1.35" fill="#111"/>
<circle cx="501.70" cy="453.50" r="1.35" fill="#111"/>
<rect x="511.45" y="434.36" width="10.70" height="22.74" fill="#E0421F" stroke="#111" stroke-width="1.5" />
<line x1="516.80" y1="420.40" x2="516.80" y2="446.20" stroke="#111" stroke-width="0.9" />
<line x1="513.70" y1="420.40" x2="519.90" y2="420.40" stroke="#111" stroke-width="0.9" />
<line x1="513.70" y1="446.20" x2="519.90" y2="446.20" stroke="#111" stroke-width="0.9" />
<circle cx="516.80" cy="433.30" r="1.35" fill="#111"/>
<circle cx="516.80" cy="446.50" r="1.35" fill="#111"/>
<path d="M496.90 448.80 V402.40 H516.80 V411.60" fill="none" stroke="#111" stroke-width="1.3"/>
<text x="507.25" y="403.04" font-size="16" text-anchor="middle" font-weight="normal" font-style="normal" fill="#111" letter-spacing="1.3" stroke="#111" stroke-width="0.5">**</text>
<rect x="542.30" y="453.90" width="12.40" height="3.20" fill="#111" stroke="none" stroke-width="0" />
<circle cx="544.50" cy="453.50" r="1.35" fill="#111"/>
<circle cx="548.50" cy="453.50" r="1.35" fill="#111"/>
<circle cx="552.50" cy="453.50" r="1.35" fill="#111"/>
<rect x="562.25" y="452.41" width="10.70" height="4.69" fill="#E0421F" stroke="#111" stroke-width="1.5" />
<line x1="567.60" y1="450.80" x2="567.60" y2="451.66" stroke="#111" stroke-width="0.9" />
<line x1="565.10" y1="450.80" x2="570.10" y2="450.80" stroke="#111" stroke-width="0.9" />
<circle cx="564.60" cy="451.36" r="1.1" fill="#111"/>
<circle cx="567.60" cy="451.06" r="1.1" fill="#111"/>
<circle cx="570.60" cy="451.36" r="1.1" fill="#111"/>
<path d="M547.70 448.80 V433.10 H567.60 V442.00" fill="none" stroke="#111" stroke-width="1.3"/>
<text x="558.05" y="433.74" font-size="16" text-anchor="middle" font-weight="normal" font-style="normal" fill="#111" letter-spacing="1.3" stroke="#111" stroke-width="0.5">**</text>
<rect x="593.10" y="453.90" width="12.40" height="3.20" fill="#111" stroke="none" stroke-width="0" />
<circle cx="595.30" cy="453.50" r="1.35" fill="#111"/>
<circle cx="599.30" cy="453.50" r="1.35" fill="#111"/>
<circle cx="603.30" cy="453.50" r="1.35" fill="#111"/>
<rect x="613.05" y="452.41" width="10.70" height="4.69" fill="#E0421F" stroke="#111" stroke-width="1.5" />
<line x1="618.40" y1="450.80" x2="618.40" y2="451.66" stroke="#111" stroke-width="0.9" />
<line x1="615.90" y1="450.80" x2="620.90" y2="450.80" stroke="#111" stroke-width="0.9" />
<circle cx="615.40" cy="451.36" r="1.1" fill="#111"/>
<circle cx="618.40" cy="451.06" r="1.1" fill="#111"/>
<circle cx="621.40" cy="451.36" r="1.1" fill="#111"/>
<path d="M598.50 448.80 V433.10 H618.40 V442.00" fill="none" stroke="#111" stroke-width="1.3"/>
<text x="608.85" y="433.74" font-size="16" text-anchor="middle" font-weight="normal" font-style="normal" fill="#111" letter-spacing="1.3" stroke="#111" stroke-width="0.5">**</text>
<rect x="408.50" y="389.30" width="14.00" height="10.20" fill="#fff" stroke="none" stroke-width="0" />
<line x1="383.60" y1="332.00" x2="383.60" y2="389.20" stroke="#111" stroke-width="2.1" />
<line x1="383.60" y1="397.50" x2="383.60" y2="458.10" stroke="#111" stroke-width="2.1" />
<line x1="379.80" y1="388.20" x2="386.80" y2="394.00" stroke="#111" stroke-width="1.5" />
<line x1="379.80" y1="395.80" x2="386.80" y2="401.60" stroke="#111" stroke-width="1.5" />
<line x1="382.60" y1="457.10" x2="632.30" y2="457.10" stroke="#111" stroke-width="2.1" />
<line x1="377.00" y1="332.80" x2="383.60" y2="332.80" stroke="#111" stroke-width="1.8" />
<text transform="translate(376.40 336.80) scale(1 1.15)" font-size="10.0" text-anchor="end" font-weight="bold" font-style="normal" fill="#111" >100</text>
<line x1="377.00" y1="355.80" x2="383.60" y2="355.80" stroke="#111" stroke-width="1.8" />
<text transform="translate(376.40 359.80) scale(1 1.15)" font-size="10.0" text-anchor="end" font-weight="bold" font-style="normal" fill="#111" >80</text>
<line x1="377.00" y1="378.80" x2="383.60" y2="378.80" stroke="#111" stroke-width="1.8" />
<text transform="translate(376.40 382.80) scale(1 1.15)" font-size="10.0" text-anchor="end" font-weight="bold" font-style="normal" fill="#111" >60</text>
<line x1="377.00" y1="399.80" x2="383.60" y2="399.80" stroke="#111" stroke-width="1.8" />
<text transform="translate(376.40 403.80) scale(1 1.15)" font-size="10.0" text-anchor="end" font-weight="bold" font-style="normal" fill="#111" >20</text>
<line x1="377.00" y1="428.45" x2="383.60" y2="428.45" stroke="#111" stroke-width="1.8" />
<text transform="translate(376.40 432.45) scale(1 1.15)" font-size="10.0" text-anchor="end" font-weight="bold" font-style="normal" fill="#111" >10</text>
<line x1="377.00" y1="457.10" x2="383.60" y2="457.10" stroke="#111" stroke-width="1.8" />
<text transform="translate(376.40 461.10) scale(1 1.15)" font-size="10.0" text-anchor="end" font-weight="bold" font-style="normal" fill="#111" >0</text>
<line x1="404.90" y1="457.10" x2="404.90" y2="463.00" stroke="#111" stroke-width="1.7" />
<text x="408.10" y="473.00" font-size="11" text-anchor="middle" font-weight="bold" font-style="italic" fill="#111" >MMP13</text>
<line x1="455.90" y1="457.10" x2="455.90" y2="463.00" stroke="#111" stroke-width="1.7" />
<text x="459.10" y="473.00" font-size="11" text-anchor="middle" font-weight="bold" font-style="italic" fill="#111" >CEMIP</text>
<line x1="506.70" y1="457.10" x2="506.70" y2="463.00" stroke="#111" stroke-width="1.7" />
<text x="509.90" y="473.00" font-size="11" text-anchor="middle" font-weight="bold" font-style="italic" fill="#111" >DESC1</text>
<line x1="557.50" y1="457.10" x2="557.50" y2="463.00" stroke="#111" stroke-width="1.7" />
<text x="560.70" y="473.00" font-size="11" text-anchor="middle" font-weight="bold" font-style="italic" fill="#111" >ARNT2</text>
<line x1="608.30" y1="457.10" x2="608.30" y2="463.00" stroke="#111" stroke-width="1.7" />
<text x="611.50" y="473.00" font-size="11" text-anchor="middle" font-weight="bold" font-style="italic" fill="#111" >GJB4</text>
<rect x="637.00" y="347.20" width="11.20" height="4.40" fill="#F2C488" stroke="#111" stroke-width="1.9" />
<rect x="637.00" y="364.10" width="11.20" height="4.50" fill="#E0421F" stroke="#111" stroke-width="1.9" />
<text transform="translate(656.00 353.30) scale(1 1.15)" font-size="9.8" text-anchor="start" font-weight="bold" font-style="normal" fill="#111" >- Dox</text>
<text transform="translate(656.00 369.90) scale(1 1.15)" font-size="9.8" text-anchor="start" font-weight="bold" font-style="normal" fill="#111" >+ Dox</text>
<text transform="translate(327.40 495.40) scale(1 1.05)" font-size="19.5" text-anchor="start" font-weight="bold" font-style="normal" fill="#111" >E</text>
<text x="514.00" y="493.60" font-size="11.2" text-anchor="middle" font-weight="bold" font-style="normal" fill="#111" >TGBC1-CEACAM6</text>
<text transform="translate(357.7 565.6) rotate(-90)" font-size="12.1" text-anchor="middle" font-weight="normal" fill="#111" stroke="#111" stroke-width="0.35">Gene expression (fc)</text>
<rect x="390.15" y="612.27" width="10.30" height="19.53" fill="#F2C488" stroke="#111" stroke-width="1.5" />
<circle cx="391.70" cy="611.72" r="1.0" fill="#111"/>
<circle cx="395.30" cy="611.72" r="1.0" fill="#111"/>
<circle cx="398.90" cy="611.72" r="1.0" fill="#111"/>
<rect x="409.05" y="560.96" width="10.10" height="70.84" fill="#E0421F" stroke="#111" stroke-width="1.5" />
<circle cx="411.20" cy="560.31" r="1.1" fill="#111"/>
<circle cx="414.10" cy="560.31" r="1.1" fill="#111"/>
<circle cx="417.00" cy="560.31" r="1.1" fill="#111"/>
<path d="M395.30 601.32 V543.00 H414.10 V552.01" fill="none" stroke="#111" stroke-width="1.3"/>
<text x="405.10" y="542.84" font-size="16" text-anchor="middle" font-weight="normal" font-style="normal" fill="#111" letter-spacing="1.3" stroke="#111" stroke-width="0.5">***</text>
<rect x="440.25" y="612.27" width="10.30" height="19.53" fill="#F2C488" stroke="#111" stroke-width="1.5" />
<circle cx="441.80" cy="611.72" r="1.0" fill="#111"/>
<circle cx="445.40" cy="611.72" r="1.0" fill="#111"/>
<circle cx="449.00" cy="611.72" r="1.0" fill="#111"/>
<rect x="459.15" y="588.34" width="10.10" height="43.46" fill="#E0421F" stroke="#111" stroke-width="1.5" />
<line x1="464.20" y1="574.20" x2="464.20" y2="598.80" stroke="#111" stroke-width="0.9" />
<line x1="461.10" y1="574.20" x2="467.30" y2="574.20" stroke="#111" stroke-width="0.9" />
<line x1="461.10" y1="598.80" x2="467.30" y2="598.80" stroke="#111" stroke-width="0.9" />
<circle cx="464.20" cy="574.70" r="1.35" fill="#111"/>
<circle cx="464.20" cy="592.30" r="1.35" fill="#111"/>
<circle cx="464.20" cy="596.20" r="1.35" fill="#111"/>
<path d="M445.40 601.32 V558.50 H464.20 V566.00" fill="none" stroke="#111" stroke-width="1.3"/>
<text x="455.20" y="558.34" font-size="16" text-anchor="middle" font-weight="normal" font-style="normal" fill="#111" letter-spacing="1.3" stroke="#111" stroke-width="0.5">*</text>
<rect x="490.25" y="612.27" width="10.30" height="19.53" fill="#F2C488" stroke="#111" stroke-width="1.5" />
<circle cx="491.80" cy="611.72" r="1.0" fill="#111"/>
<circle cx="495.40" cy="611.72" r="1.0" fill="#111"/>
<circle cx="499.00" cy="611.72" r="1.0" fill="#111"/>
<rect x="509.15" y="552.04" width="10.10" height="79.76" fill="#E0421F" stroke="#111" stroke-width="1.5" />
<line x1="514.20" y1="532.40" x2="514.20" y2="571.80" stroke="#111" stroke-width="0.9" />
<line x1="511.10" y1="532.40" x2="517.30" y2="532.40" stroke="#111" stroke-width="0.9" />
<line x1="511.10" y1="571.80" x2="517.30" y2="571.80" stroke="#111" stroke-width="0.9" />
<circle cx="514.20" cy="546.80" r="1.35" fill="#111"/>
<circle cx="514.20" cy="571.20" r="1.35" fill="#111"/>
<path d="M495.40 601.32 V517.50 H514.20 V524.20" fill="none" stroke="#111" stroke-width="1.3"/>
<text x="505.20" y="517.34" font-size="16" text-anchor="middle" font-weight="normal" font-style="normal" fill="#111" letter-spacing="1.3" stroke="#111" stroke-width="0.5">**</text>
<rect x="540.35" y="612.27" width="10.30" height="19.53" fill="#F2C488" stroke="#111" stroke-width="1.5" />
<circle cx="541.90" cy="611.72" r="1.0" fill="#111"/>
<circle cx="545.50" cy="611.72" r="1.0" fill="#111"/>
<circle cx="549.10" cy="611.72" r="1.0" fill="#111"/>
<rect x="559.25" y="598.48" width="10.10" height="33.32" fill="#E0421F" stroke="#111" stroke-width="1.5" />
<line x1="564.30" y1="589.70" x2="564.30" y2="603.50" stroke="#111" stroke-width="0.9" />
<line x1="561.20" y1="589.70" x2="567.40" y2="589.70" stroke="#111" stroke-width="0.9" />
<line x1="561.20" y1="603.50" x2="567.40" y2="603.50" stroke="#111" stroke-width="0.9" />
<circle cx="564.30" cy="590.40" r="1.35" fill="#111"/>
<circle cx="562.10" cy="600.10" r="1.2" fill="#111"/>
<circle cx="566.50" cy="600.10" r="1.2" fill="#111"/>
<path d="M545.50 601.32 V576.30 H564.30 V581.50" fill="none" stroke="#111" stroke-width="1.3"/>
<text x="555.30" y="576.14" font-size="16" text-anchor="middle" font-weight="normal" font-style="normal" fill="#111" letter-spacing="1.3" stroke="#111" stroke-width="0.5">*</text>
<rect x="590.45" y="612.27" width="10.30" height="19.53" fill="#F2C488" stroke="#111" stroke-width="1.5" />
<circle cx="592.00" cy="611.72" r="1.0" fill="#111"/>
<circle cx="595.60" cy="611.72" r="1.0" fill="#111"/>
<circle cx="599.20" cy="611.72" r="1.0" fill="#111"/>
<rect x="609.35" y="580.84" width="10.10" height="50.96" fill="#E0421F" stroke="#111" stroke-width="1.5" />
<line x1="614.40" y1="567.30" x2="614.40" y2="594.40" stroke="#111" stroke-width="0.9" />
<line x1="611.30" y1="567.30" x2="617.50" y2="567.30" stroke="#111" stroke-width="0.9" />
<line x1="611.30" y1="594.40" x2="617.50" y2="594.40" stroke="#111" stroke-width="0.9" />
<circle cx="614.40" cy="577.80" r="1.35" fill="#111"/>
<circle cx="614.40" cy="594.40" r="1.35" fill="#111"/>
<path d="M595.60 601.32 V557.60 H614.40 V559.10" fill="none" stroke="#111" stroke-width="1.3"/>
<text x="605.40" y="557.44" font-size="16" text-anchor="middle" font-weight="normal" font-style="normal" fill="#111" letter-spacing="1.3" stroke="#111" stroke-width="0.5">*</text>
<line x1="383.20" y1="509.50" x2="383.20" y2="632.80" stroke="#111" stroke-width="2.1" />
<line x1="382.20" y1="631.80" x2="627.50" y2="631.80" stroke="#111" stroke-width="2.1" />
<line x1="376.60" y1="510.12" x2="383.20" y2="510.12" stroke="#111" stroke-width="1.8" />
<text transform="translate(376.00 514.22) scale(1 1.15)" font-size="10.2" text-anchor="end" font-weight="bold" font-style="normal" fill="#111" >6</text>
<line x1="376.60" y1="550.68" x2="383.20" y2="550.68" stroke="#111" stroke-width="1.8" />
<text transform="translate(376.00 554.78) scale(1 1.15)" font-size="10.2" text-anchor="end" font-weight="bold" font-style="normal" fill="#111" >4</text>
<line x1="376.60" y1="591.24" x2="383.20" y2="591.24" stroke="#111" stroke-width="1.8" />
<text transform="translate(376.00 595.34) scale(1 1.15)" font-size="10.2" text-anchor="end" font-weight="bold" font-style="normal" fill="#111" >2</text>
<line x1="376.60" y1="631.80" x2="383.20" y2="631.80" stroke="#111" stroke-width="1.8" />
<text transform="translate(376.00 635.90) scale(1 1.15)" font-size="10.2" text-anchor="end" font-weight="bold" font-style="normal" fill="#111" >0</text>
<line x1="404.50" y1="631.80" x2="404.50" y2="637.80" stroke="#111" stroke-width="1.7" />
<text x="407.70" y="648.00" font-size="11" text-anchor="middle" font-weight="bold" font-style="italic" fill="#111" >MMP13</text>
<line x1="454.60" y1="631.80" x2="454.60" y2="637.80" stroke="#111" stroke-width="1.7" />
<text x="457.80" y="648.00" font-size="11" text-anchor="middle" font-weight="bold" font-style="italic" fill="#111" >CEMIP</text>
<line x1="504.60" y1="631.80" x2="504.60" y2="637.80" stroke="#111" stroke-width="1.7" />
<text x="507.80" y="648.00" font-size="11" text-anchor="middle" font-weight="bold" font-style="italic" fill="#111" >DESC1</text>
<line x1="554.70" y1="631.80" x2="554.70" y2="637.80" stroke="#111" stroke-width="1.7" />
<text x="557.90" y="648.00" font-size="11" text-anchor="middle" font-weight="bold" font-style="italic" fill="#111" >ARNT2</text>
<line x1="604.80" y1="631.80" x2="604.80" y2="637.80" stroke="#111" stroke-width="1.7" />
<text x="608.00" y="648.00" font-size="11" text-anchor="middle" font-weight="bold" font-style="italic" fill="#111" >GJB4</text>
<rect x="635.40" y="514.20" width="11.60" height="4.30" fill="#F2C488" stroke="#111" stroke-width="1.9" />
<rect x="635.40" y="531.10" width="11.60" height="4.30" fill="#E0421F" stroke="#111" stroke-width="1.9" />
<text transform="translate(655.20 519.80) scale(1 1.15)" font-size="9.8" text-anchor="start" font-weight="bold" font-style="normal" fill="#111" >- Dox</text>
<text transform="translate(655.20 536.60) scale(1 1.15)" font-size="9.8" text-anchor="start" font-weight="bold" font-style="normal" fill="#111" >+ Dox</text></svg></body></html>
